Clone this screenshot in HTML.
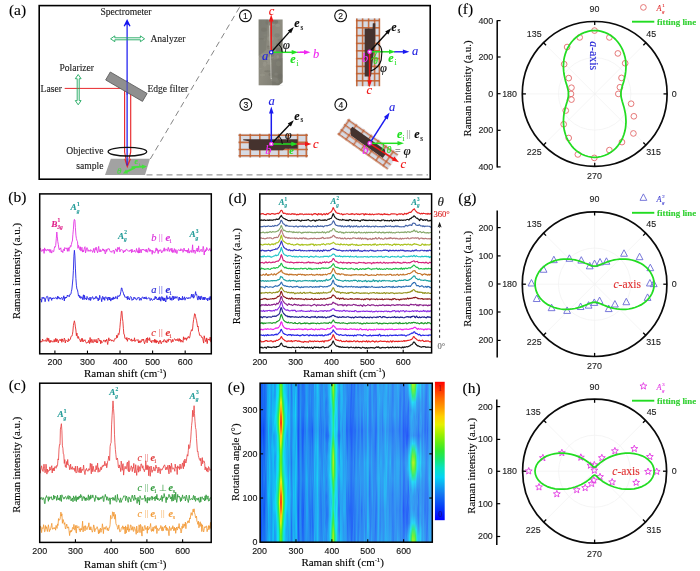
<!DOCTYPE html>
<html><head><meta charset="utf-8"><title>Figure</title>
<style>
html,body{margin:0;padding:0;background:#fff;}
svg{display:block;filter:blur(0.35px)}
text{stroke-width:.12px}
text.s{font-family:"Liberation Serif",serif}
text.n{font-family:"Liberation Sans",sans-serif}
</style></head><body>
<svg width="700" height="571" viewBox="0 0 700 571">
<rect width="700" height="571" fill="#fff"/>
<g id="pa">
<defs><filter id="bl" x="-5%" y="-5%" width="110%" height="110%"><feGaussianBlur stdDeviation="0.55"/></filter></defs>
<rect x="39.2" y="5.6" width="391" height="173.6" fill="none" stroke="#000" stroke-width="1.6"/>
<text class="s" x="17.5" y="14.71" font-size="15.5" text-anchor="middle" stroke="#000">(a)</text>
<text class="s" x="126" y="15.47" font-size="9.6" text-anchor="middle" fill="#222" stroke="#222">Spectrometer</text>
<line x1="64.7" y1="88.4" x2="125" y2="88.4" stroke="#e8282c" stroke-width="1"/>
<path d="M124.6 88.4 L124.6 152 L127.3 166.3 L130.7 152 L130.7 93" fill="none" stroke="#e8282c" stroke-width="1.15" stroke-linejoin="round"/>
<line x1="127.1" y1="166" x2="127.1" y2="22" stroke="#1414f0" stroke-width="1.2"/>
<path d="M124.2 26.2 L127.1 20.4 L130 26.2" fill="none" stroke="#1414f0" stroke-width="1.3" stroke-linejoin="miter"/>
<path d="M124.6 25.6 L127.1 20.6 L129.6 25.6 L127.1 24.2Z" fill="#1414f0"/>
<rect x="105.1" y="82.1" width="42.6" height="9.2" fill="#8f8f8f" stroke="#5e5e5e" stroke-width="0.8" transform="rotate(30.2 126.4 86.7)"/>
<line x1="127.1" y1="80" x2="127.1" y2="95" stroke="#1414f0" stroke-width="1.2" opacity="0.55"/>
<path d="M110.6 38.8 L114.8 35.9 L114.8 37.8 L140.4 37.8 L140.4 35.9 L144.6 38.8 L140.4 41.7 L140.4 39.8 L114.8 39.8 L114.8 41.7Z" fill="none" stroke="#1fa860" stroke-width="0.9" stroke-linejoin="miter"/>
<path d="M78.2 74.5 L81.1 78.7 L79.2 78.7 L79.2 100.6 L81.1 100.6 L78.2 104.8 L75.3 100.6 L77.2 100.6 L77.2 78.7 L75.3 78.7Z" fill="none" stroke="#1fa860" stroke-width="0.9" stroke-linejoin="miter"/>
<text class="s" x="150.4" y="41.77" font-size="9.6" fill="#222" stroke="#222">Analyzer</text>
<text class="s" x="59.4" y="70.77" font-size="9.6" fill="#222" stroke="#222">Polarizer</text>
<text class="s" x="40.6" y="91.77" font-size="9.6" fill="#222" stroke="#222">Laser</text>
<text class="s" x="147.4" y="91.77" font-size="9.6" fill="#222" stroke="#222">Edge filter</text>
<text class="s" x="66.3" y="153.97" font-size="9.6" fill="#222" stroke="#222">Objective</text>
<text class="s" x="76.3" y="169.37" font-size="9.6" fill="#222" stroke="#222">sample</text>
<path d="M110.8 158.8 L150 158.8 L145 175 L105 175Z" fill="#a2a2a2"/>
<path d="M124.9 158.8 L127.3 166.3 L130.4 158.8" fill="none" stroke="#e8282c" stroke-width="1.3"/>
<line x1="127.1" y1="158.8" x2="127.1" y2="165.5" stroke="#1414f0" stroke-width="1.1"/>
<line x1="131.5" y1="167.3" x2="143.01" y2="166.63" stroke="#44e03c" stroke-width="1.9"/>
<path d="M147 166.4 L142.14 168.99 L141.88 164.39Z" fill="#44e03c"/>
<line x1="135" y1="167.6" x2="126.15" y2="171.88" stroke="#44e03c" stroke-width="1.8"/>
<path d="M123 173.4 L126.09 169.46 L128.01 173.42Z" fill="#44e03c"/>
<text class="s" x="119.2" y="174" font-size="9" text-anchor="middle" font-style="italic" fill="#44e03c" stroke="#44e03c">θ</text>
<text class="s" x="136.2" y="164.2" font-size="7.5" text-anchor="middle" font-style="italic" font-weight="bold" fill="#44e03c" stroke="#44e03c">e</text>
<text class="s" x="139.6" y="165.8" font-size="5" text-anchor="middle" fill="#44e03c" stroke="#44e03c">i</text>
<ellipse cx="127.4" cy="151.7" rx="19.3" ry="4.3" fill="none" stroke="#111" stroke-width="1.3"/>
<line x1="150.3" y1="159" x2="240" y2="6.5" stroke="#858585" stroke-width="1" stroke-dasharray="6 4"/>
<line x1="146.5" y1="174.9" x2="428" y2="174.9" stroke="#858585" stroke-width="1" stroke-dasharray="6 4"/>
<circle cx="245.4" cy="15.8" r="5.9" fill="#fff" stroke="#111" stroke-width="1.15"/>
<text class="n" x="245.4" y="18.8" font-size="8.6" text-anchor="middle" fill="#111" stroke="#111">1</text>
<circle cx="340.6" cy="15.8" r="5.9" fill="#fff" stroke="#111" stroke-width="1.15"/>
<text class="n" x="340.6" y="18.8" font-size="8.6" text-anchor="middle" fill="#111" stroke="#111">2</text>
<circle cx="245.8" cy="104.5" r="5.9" fill="#fff" stroke="#111" stroke-width="1.15"/>
<text class="n" x="245.8" y="107.5" font-size="8.6" text-anchor="middle" fill="#111" stroke="#111">3</text>
<circle cx="340.8" cy="104.5" r="5.9" fill="#fff" stroke="#111" stroke-width="1.15"/>
<text class="n" x="340.8" y="107.5" font-size="8.6" text-anchor="middle" fill="#111" stroke="#111">4</text>
<defs><linearGradient id="g1" x1="0" y1="0" x2="1" y2="1"><stop offset="0" stop-color="#84847a"/><stop offset=".5" stop-color="#8e8c80"/><stop offset="1" stop-color="#77766c"/></linearGradient></defs>
<clipPath id="c1"><rect x="258.4" y="19.3" width="24.4" height="66.3"/></clipPath><g clip-path="url(#c1)" filter="url(#bl)">
<rect x="258.4" y="19.3" width="24.4" height="66.3" fill="url(#g1)"/>
<ellipse cx="264.07" cy="54.83" rx="3.29" ry="1.75" fill="#a09e92" opacity="0.45"/>
<ellipse cx="271.96" cy="58.76" rx="1.65" ry="1.27" fill="#6e6c64" opacity="0.45"/>
<ellipse cx="281.5" cy="50.1" rx="1.99" ry="2.52" fill="#6e6c64" opacity="0.45"/>
<ellipse cx="263.93" cy="29.7" rx="2.85" ry="2.14" fill="#6e6c64" opacity="0.45"/>
<ellipse cx="260.07" cy="68.53" rx="1.75" ry="0.86" fill="#9a988c" opacity="0.45"/>
<ellipse cx="278.51" cy="50.26" rx="2.79" ry="2.64" fill="#6e6c64" opacity="0.45"/>
<ellipse cx="267.68" cy="71.26" rx="3.41" ry="1.07" fill="#6e6c64" opacity="0.45"/>
<ellipse cx="267.01" cy="22.3" rx="1.54" ry="2.73" fill="#6e6c64" opacity="0.45"/>
<ellipse cx="268.63" cy="60.11" rx="2.05" ry="2.47" fill="#a09e92" opacity="0.45"/>
<ellipse cx="271.8" cy="54.18" rx="2.46" ry="2.61" fill="#6e6c64" opacity="0.45"/>
<ellipse cx="274.29" cy="79.45" rx="3.48" ry="2.14" fill="#a09e92" opacity="0.45"/>
<ellipse cx="262.35" cy="75.08" rx="2.78" ry="1.22" fill="#9a988c" opacity="0.45"/>
<ellipse cx="277.73" cy="56.71" rx="1.31" ry="1.76" fill="#a09e92" opacity="0.45"/>
<ellipse cx="273.29" cy="50.94" rx="3" ry="1.62" fill="#a09e92" opacity="0.45"/>
<ellipse cx="262.07" cy="38.81" rx="3.18" ry="0.89" fill="#6e6c64" opacity="0.45"/>
<ellipse cx="272.73" cy="22.88" rx="2.38" ry="2.64" fill="#a09e92" opacity="0.45"/>
<ellipse cx="265.02" cy="35.1" rx="1.77" ry="0.95" fill="#9a988c" opacity="0.45"/>
<ellipse cx="272.39" cy="22.01" rx="3.43" ry="1.38" fill="#7a786e" opacity="0.45"/>
<ellipse cx="264.66" cy="64.14" rx="1.78" ry="2.72" fill="#a09e92" opacity="0.45"/>
<ellipse cx="279.22" cy="44.18" rx="3.17" ry="1.57" fill="#6e6c64" opacity="0.45"/>
<ellipse cx="278.54" cy="63.58" rx="2.55" ry="2.68" fill="#9a988c" opacity="0.45"/>
<ellipse cx="270.26" cy="47.6" rx="3.34" ry="1.67" fill="#7a786e" opacity="0.45"/>
<ellipse cx="264.54" cy="39.39" rx="1.03" ry="1.63" fill="#a09e92" opacity="0.45"/>
<ellipse cx="271.94" cy="21.28" rx="1.15" ry="2.05" fill="#7a786e" opacity="0.45"/>
<ellipse cx="269.32" cy="63.47" rx="2.52" ry="1.36" fill="#a09e92" opacity="0.45"/>
<ellipse cx="269.86" cy="57.72" rx="3.41" ry="1.3" fill="#9a988c" opacity="0.45"/>
<ellipse cx="269.1" cy="57.93" rx="1.44" ry="1.17" fill="#a09e92" opacity="0.45"/>
<ellipse cx="276.04" cy="74.01" rx="1.75" ry="1.55" fill="#a09e92" opacity="0.45"/>
<ellipse cx="276.36" cy="21.72" rx="1.78" ry="1.25" fill="#7a786e" opacity="0.45"/>
<ellipse cx="277.09" cy="35.28" rx="2.7" ry="2.1" fill="#7a786e" opacity="0.45"/>
<ellipse cx="260.83" cy="58.45" rx="2.69" ry="1.25" fill="#a09e92" opacity="0.45"/>
<ellipse cx="277.22" cy="81.48" rx="1.84" ry="2.1" fill="#9a988c" opacity="0.45"/>
<ellipse cx="278.95" cy="48.87" rx="2.97" ry="0.87" fill="#7a786e" opacity="0.45"/>
<ellipse cx="280.62" cy="40.17" rx="3.16" ry="1.48" fill="#7a786e" opacity="0.45"/>
<ellipse cx="277.64" cy="25.47" rx="2.47" ry="1.64" fill="#a09e92" opacity="0.45"/>
<ellipse cx="270.52" cy="74.4" rx="1.87" ry="1.63" fill="#6e6c64" opacity="0.45"/>
<ellipse cx="268.25" cy="46.21" rx="1.39" ry="0.81" fill="#6e6c64" opacity="0.45"/>
<ellipse cx="280.3" cy="76.32" rx="2.4" ry="2.77" fill="#6e6c64" opacity="0.45"/>
<ellipse cx="275.1" cy="22.07" rx="3.09" ry="2.13" fill="#6e6c64" opacity="0.45"/>
<ellipse cx="270.54" cy="38.5" rx="3.22" ry="2.52" fill="#a09e92" opacity="0.45"/>
<path d="M272 60 L282.8 58 L282.8 82 L278 85.6 L272 85.6Z" fill="#6d6c63" opacity="0.45"/>
<path d="M258.4 19.3 L268 19.3 L266 50 L258.4 56Z" fill="#75756b" opacity="0.5"/>
</g>
<path d="M278.3 85.8 L283 85.8 L283 82.3Z" fill="#fff"/>
<line x1="269.7" y1="25.5" x2="271.2" y2="79" stroke="#d4d4cc" stroke-width="0.9"/>
<line x1="270.3" y1="27" x2="271.4" y2="78" stroke="#6a6a60" stroke-width="0.5" opacity="0.7"/>
<line x1="271.2" y1="52.3" x2="271.2" y2="20.6" stroke="#f01818" stroke-width="1.5"/>
<path d="M271.2 14.6 L273.5 21.6 L268.9 21.6Z" fill="#f01818"/>
<line x1="271.2" y1="52.3" x2="290.14" y2="31.1" stroke="#0a0a0a" stroke-width="1.4"/>
<path d="M293.8 27 L291.11 33.31 L287.83 30.38Z" fill="#0a0a0a"/>
<line x1="297" y1="52.3" x2="304" y2="52.3" stroke="#f028f0" stroke-width="1.4"/>
<line x1="300" y1="52.3" x2="305" y2="52.3" stroke="#f028f0" stroke-width="1.4"/>
<path d="M310.5 52.3 L304 54.5 L304 50.1Z" fill="#f028f0"/>
<line x1="271.2" y1="52.3" x2="292.7" y2="52.3" stroke="#22e022" stroke-width="1.5"/>
<path d="M298.2 52.3 L291.7 54.5 L291.7 50.1Z" fill="#22e022"/>
<path d="M282.2 52.3 A11 11 0 0 0 279 44.5" fill="none" stroke="#0a0a0a" stroke-width="1"/>
<circle cx="271.2" cy="52.3" r="1.7" fill="#fff" stroke="#1818e8" stroke-width="1.2"/>
<text class="s" x="271.6" y="15" font-size="12.5" text-anchor="middle" font-style="italic" fill="#f01818" stroke="#f01818">c</text>
<text class="s" x="316.2" y="57.6" font-size="12.5" text-anchor="middle" font-style="italic" fill="#f028f0" stroke="#f028f0">b</text>
<text class="s" x="265" y="60.4" font-size="12.5" text-anchor="middle" font-style="italic" fill="#2020e0" stroke="#2020e0">a</text>
<text class="s" x="286.3" y="48.6" font-size="13" text-anchor="middle" font-style="italic" fill="#0a0a0a" stroke="#0a0a0a">φ</text>
<text class="s" x="296.9" y="27.2" font-size="12" text-anchor="middle" font-style="italic" font-weight="bold" fill="#0a0a0a" stroke="#0a0a0a">e</text>
<text class="s" x="301.8" y="29.8" font-size="7.2" text-anchor="middle" fill="#0a0a0a" stroke="#0a0a0a">s</text>
<text class="s" x="293" y="62.8" font-size="12" text-anchor="middle" font-style="italic" font-weight="bold" fill="#22e022" stroke="#22e022">e</text>
<text class="s" x="297.4" y="65.6" font-size="7.2" text-anchor="middle" fill="#22e022" stroke="#22e022">i</text>
<g filter="url(#bl)">
<rect x="355.9" y="18.4" width="24.1" height="67.8" fill="#d6dae3"/>
<line x1="356.8" y1="18.4" x2="356.8" y2="86.2" stroke="#c2602e" stroke-width="1.6" opacity="0.88"/>
<line x1="362.6" y1="18.4" x2="362.6" y2="86.2" stroke="#c2602e" stroke-width="1.6" opacity="0.88"/>
<line x1="368.6" y1="18.4" x2="368.6" y2="86.2" stroke="#c2602e" stroke-width="1.6" opacity="0.88"/>
<line x1="374.6" y1="18.4" x2="374.6" y2="86.2" stroke="#c2602e" stroke-width="1.6" opacity="0.88"/>
<line x1="379.4" y1="18.4" x2="379.4" y2="86.2" stroke="#c2602e" stroke-width="1.6" opacity="0.88"/>
<line x1="355.9" y1="20.6" x2="380" y2="20.6" stroke="#c2602e" stroke-width="1.6" opacity="0.88"/>
<line x1="355.9" y1="27.8" x2="380" y2="27.8" stroke="#c2602e" stroke-width="1.6" opacity="0.88"/>
<line x1="355.9" y1="35.6" x2="380" y2="35.6" stroke="#c2602e" stroke-width="1.6" opacity="0.88"/>
<line x1="355.9" y1="43.4" x2="380" y2="43.4" stroke="#c2602e" stroke-width="1.6" opacity="0.88"/>
<line x1="355.9" y1="50.8" x2="380" y2="50.8" stroke="#c2602e" stroke-width="1.6" opacity="0.88"/>
<line x1="355.9" y1="58.6" x2="380" y2="58.6" stroke="#c2602e" stroke-width="1.6" opacity="0.88"/>
<line x1="355.9" y1="66.4" x2="380" y2="66.4" stroke="#c2602e" stroke-width="1.6" opacity="0.88"/>
<line x1="355.9" y1="73.6" x2="380" y2="73.6" stroke="#c2602e" stroke-width="1.6" opacity="0.88"/>
<line x1="355.9" y1="80.8" x2="380" y2="80.8" stroke="#c2602e" stroke-width="1.6" opacity="0.88"/>
</g>
<path d="M364.6 28.6 L372.6 28.6 L372.8 23.2 L375.3 23.2 L375.3 40 L373.5 55 L371 76.6 L364.6 76.6Z" fill="#45322e"/>
<line x1="369.6" y1="51.8" x2="369.6" y2="81.2" stroke="#f01818" stroke-width="1.5"/>
<path d="M369.6 87.2 L367.3 80.2 L371.9 80.2Z" fill="#f01818"/>
<line x1="369.6" y1="51.8" x2="387.49" y2="32.26" stroke="#0a0a0a" stroke-width="1.4"/>
<path d="M391.2 28.2 L388.43 34.48 L385.19 31.51Z" fill="#0a0a0a"/>
<line x1="394" y1="51.8" x2="403.9" y2="51.8" stroke="#1a1af0" stroke-width="1.4"/>
<path d="M409.4 51.8 L402.9 54 L402.9 49.6Z" fill="#1a1af0"/>
<line x1="369.6" y1="51.8" x2="390" y2="51.8" stroke="#22e022" stroke-width="1.5"/>
<path d="M395.5 51.8 L389 54 L389 49.6Z" fill="#22e022"/>
<path d="M377.8 44.3 Q381.6 46 381.9 52 L381.2 60 Q379 68 370.6 71" fill="none" stroke="#0a0a0a" stroke-width="1.1"/>
<path d="M376.5 52.5 Q375.5 57.5 371 59.5" fill="none" stroke="#22e022" stroke-width="1"/>
<circle cx="369.6" cy="51.8" r="1.7" fill="#fff" stroke="#f028f0" stroke-width="1.3"/>
<text class="s" x="369.2" y="93.6" font-size="12.5" text-anchor="middle" font-style="italic" fill="#f01818" stroke="#f01818">c</text>
<text class="s" x="415.2" y="55.4" font-size="12.5" text-anchor="middle" font-style="italic" fill="#2020e0" stroke="#2020e0">a</text>
<text class="s" x="365.2" y="61.6" font-size="12.5" text-anchor="middle" font-style="italic" fill="#f028f0" stroke="#f028f0">b</text>
<text class="s" x="375.6" y="63.6" font-size="9.5" text-anchor="middle" font-style="italic" fill="#22e022" stroke="#22e022">θ</text>
<text class="s" x="383.5" y="72.4" font-size="12.5" text-anchor="middle" font-style="italic" fill="#0a0a0a" stroke="#0a0a0a">φ</text>
<text class="s" x="394" y="30.6" font-size="12" text-anchor="middle" font-style="italic" font-weight="bold" fill="#0a0a0a" stroke="#0a0a0a">e</text>
<text class="s" x="398.8" y="33" font-size="7.2" text-anchor="middle" fill="#0a0a0a" stroke="#0a0a0a">s</text>
<text class="s" x="391" y="62.2" font-size="12" text-anchor="middle" font-style="italic" font-weight="bold" fill="#22e022" stroke="#22e022">e</text>
<text class="s" x="395.4" y="65" font-size="7.2" text-anchor="middle" fill="#22e022" stroke="#22e022">i</text>
<g filter="url(#bl)">
<rect x="238.5" y="133.8" width="69.4" height="23.6" fill="#d6dae3"/>
<line x1="240.1" y1="133.8" x2="240.1" y2="157.4" stroke="#c2602e" stroke-width="1.6" opacity="0.88"/>
<line x1="250.3" y1="133.8" x2="250.3" y2="157.4" stroke="#c2602e" stroke-width="1.6" opacity="0.88"/>
<line x1="259.8" y1="133.8" x2="259.8" y2="157.4" stroke="#c2602e" stroke-width="1.6" opacity="0.88"/>
<line x1="269.2" y1="133.8" x2="269.2" y2="157.4" stroke="#c2602e" stroke-width="1.6" opacity="0.88"/>
<line x1="278.7" y1="133.8" x2="278.7" y2="157.4" stroke="#c2602e" stroke-width="1.6" opacity="0.88"/>
<line x1="288.2" y1="133.8" x2="288.2" y2="157.4" stroke="#c2602e" stroke-width="1.6" opacity="0.88"/>
<line x1="297.6" y1="133.8" x2="297.6" y2="157.4" stroke="#c2602e" stroke-width="1.6" opacity="0.88"/>
<line x1="306.3" y1="133.8" x2="306.3" y2="157.4" stroke="#c2602e" stroke-width="1.6" opacity="0.88"/>
<line x1="238.5" y1="135.3" x2="307.9" y2="135.3" stroke="#c2602e" stroke-width="1.6" opacity="0.88"/>
<line x1="238.5" y1="142.4" x2="307.9" y2="142.4" stroke="#c2602e" stroke-width="1.6" opacity="0.88"/>
<line x1="238.5" y1="149.5" x2="307.9" y2="149.5" stroke="#c2602e" stroke-width="1.6" opacity="0.88"/>
<line x1="238.5" y1="155.8" x2="307.9" y2="155.8" stroke="#c2602e" stroke-width="1.6" opacity="0.88"/>
</g>
<path d="M243.2 139.2 L297.6 139.2 L297.6 148.8 L285 148.8 L283 150.2 L252 150.2 L248.8 148.6 L248.8 141.2 L243.2 140.2Z" fill="#45322e"/>
<line x1="271.3" y1="144" x2="271.3" y2="112.4" stroke="#1a1af0" stroke-width="1.5"/>
<path d="M271.3 106.4 L273.6 113.4 L269 113.4Z" fill="#1a1af0"/>
<line x1="271.3" y1="144" x2="290.01" y2="124.29" stroke="#0a0a0a" stroke-width="1.4"/>
<path d="M293.8 120.3 L290.92 126.53 L287.73 123.5Z" fill="#0a0a0a"/>
<line x1="296" y1="144" x2="306" y2="144" stroke="#f01818" stroke-width="1.4"/>
<path d="M311.5 144 L305 146.2 L305 141.8Z" fill="#f01818"/>
<line x1="271.3" y1="144" x2="292.3" y2="144" stroke="#22e022" stroke-width="1.5"/>
<path d="M297.8 144 L291.3 146.2 L291.3 141.8Z" fill="#22e022"/>
<path d="M282.3 144 A11 11 0 0 0 279.1 136.2" fill="none" stroke="#0a0a0a" stroke-width="1"/>
<circle cx="271.3" cy="144" r="1.7" fill="#fff" stroke="#f028f0" stroke-width="1.3"/>
<text class="s" x="271.6" y="105" font-size="12.5" text-anchor="middle" font-style="italic" fill="#2020e0" stroke="#2020e0">a</text>
<text class="s" x="315.8" y="148.4" font-size="12.5" text-anchor="middle" font-style="italic" fill="#f01818" stroke="#f01818">c</text>
<text class="s" x="268.4" y="153.6" font-size="12.5" text-anchor="middle" font-style="italic" fill="#f028f0" stroke="#f028f0">b</text>
<text class="s" x="288.4" y="139" font-size="12" text-anchor="middle" font-style="italic" fill="#0a0a0a" stroke="#0a0a0a">φ</text>
<text class="s" x="296.9" y="119.8" font-size="12" text-anchor="middle" font-style="italic" font-weight="bold" fill="#0a0a0a" stroke="#0a0a0a">e</text>
<text class="s" x="301.8" y="122.4" font-size="7.2" text-anchor="middle" fill="#0a0a0a" stroke="#0a0a0a">s</text>
<text class="s" x="291.4" y="154.2" font-size="10" text-anchor="middle" font-style="italic" font-weight="bold" fill="#22e022" stroke="#22e022">e</text>
<g transform="rotate(35.3 367.9 144)">
<g filter="url(#bl)">
<rect x="337.2" y="134.4" width="61.4" height="19.2" fill="#d6dae3"/>
<line x1="338.7" y1="134.4" x2="338.7" y2="153.6" stroke="#c2602e" stroke-width="1.6" opacity="0.88"/>
<line x1="347.5" y1="134.4" x2="347.5" y2="153.6" stroke="#c2602e" stroke-width="1.6" opacity="0.88"/>
<line x1="356.6" y1="134.4" x2="356.6" y2="153.6" stroke="#c2602e" stroke-width="1.6" opacity="0.88"/>
<line x1="365.7" y1="134.4" x2="365.7" y2="153.6" stroke="#c2602e" stroke-width="1.6" opacity="0.88"/>
<line x1="374.8" y1="134.4" x2="374.8" y2="153.6" stroke="#c2602e" stroke-width="1.6" opacity="0.88"/>
<line x1="383.9" y1="134.4" x2="383.9" y2="153.6" stroke="#c2602e" stroke-width="1.6" opacity="0.88"/>
<line x1="393" y1="134.4" x2="393" y2="153.6" stroke="#c2602e" stroke-width="1.6" opacity="0.88"/>
<line x1="337.2" y1="135.7" x2="398.6" y2="135.7" stroke="#c2602e" stroke-width="1.6" opacity="0.88"/>
<line x1="337.2" y1="141.7" x2="398.6" y2="141.7" stroke="#c2602e" stroke-width="1.6" opacity="0.88"/>
<line x1="337.2" y1="147.7" x2="398.6" y2="147.7" stroke="#c2602e" stroke-width="1.6" opacity="0.88"/>
<line x1="337.2" y1="152.7" x2="398.6" y2="152.7" stroke="#c2602e" stroke-width="1.6" opacity="0.88"/>
</g>
<path d="M345.2 138.9 L385.2 138.9 L388.2 142.4 L388.2 146.9 L349.2 146.9 L345.2 142.4Z" fill="#45322e"/>
</g>
<line x1="369.7" y1="143.3" x2="386.35" y2="117.44" stroke="#1a1af0" stroke-width="1.5"/>
<path d="M389.6 112.4 L387.74 119.53 L383.88 117.04Z" fill="#1a1af0"/>
<line x1="369.7" y1="143.3" x2="393.97" y2="159.04" stroke="#f01818" stroke-width="1.5"/>
<path d="M399 162.3 L391.88 160.42 L394.38 156.56Z" fill="#f01818"/>
<line x1="369.7" y1="143.3" x2="398.5" y2="143.3" stroke="#22e022" stroke-width="1.5"/>
<path d="M404 143.3 L397.5 145.5 L397.5 141.1Z" fill="#22e022"/>
<path d="M383.7 143.3 A14 14 0 0 1 381.5 150.9" fill="none" stroke="#22e022" stroke-width="1"/>
<circle cx="369.7" cy="143.3" r="1.7" fill="#fff" stroke="#f028f0" stroke-width="1.3"/>
<text class="s" x="392.2" y="111.4" font-size="12.5" text-anchor="middle" font-style="italic" fill="#2020e0" stroke="#2020e0">a</text>
<text class="s" x="403.4" y="168" font-size="12.5" text-anchor="middle" font-style="italic" fill="#f01818" stroke="#f01818">c</text>
<text class="s" x="365.3" y="153.6" font-size="12.5" text-anchor="middle" font-style="italic" fill="#f028f0" stroke="#f028f0">b</text>
<text class="s" x="399.6" y="138.4" font-size="12" text-anchor="middle" font-style="italic" font-weight="bold" fill="#22e022" stroke="#22e022">e</text>
<text class="s" x="403.6" y="141" font-size="7.2" text-anchor="middle" fill="#22e022" stroke="#22e022">i</text>
<text class="s" x="408.8" y="137.4" font-size="10" text-anchor="middle" fill="#999" stroke="#999" letter-spacing="0.6">||</text>
<text class="s" x="416.8" y="138.4" font-size="12" text-anchor="middle" font-style="italic" font-weight="bold" fill="#0a0a0a" stroke="#0a0a0a">e</text>
<text class="s" x="421.6" y="141" font-size="7.2" text-anchor="middle" fill="#0a0a0a" stroke="#0a0a0a">s</text>
<text class="s" x="389" y="153" font-size="9.5" text-anchor="middle" font-style="italic" fill="#22e022" stroke="#22e022">θ</text>
<text class="s" x="397.8" y="153.6" font-size="10" text-anchor="middle" fill="#333" stroke="#333">=</text>
<text class="s" x="407.2" y="154.6" font-size="13" text-anchor="middle" font-style="italic" fill="#0a0a0a" stroke="#0a0a0a">φ</text>
</g>
<g id="pb">
<clipPath id="cb"><rect x="39.7" y="193.9" width="171.6" height="159.9"/></clipPath>
<g clip-path="url(#cb)" fill="none" stroke-width="0.9" stroke-linejoin="round">
<path d="M39.6,250.4 40.1,248.3 40.6,248.5 41.1,251.3 41.6,251.0 42.1,251.3 42.6,249.6 43.1,250.6 43.6,249.3 44.1,253.4 44.6,247.9 45.1,250.6 45.7,249.3 46.2,250.6 46.7,251.0 47.2,249.6 47.7,249.0 48.2,250.7 48.7,250.6 49.2,249.2 49.7,251.7 50.2,252.6 50.7,249.5 51.2,251.2 51.7,253.1 52.2,251.2 52.7,250.6 53.2,251.5 53.7,251.7 54.2,248.8 54.7,246.7 55.2,247.2 55.7,245.5 56.3,238.5 56.8,232.0 57.3,236.8 57.8,241.7 58.3,244.3 58.8,248.0 59.3,249.8 59.8,248.5 60.3,248.9 60.8,247.8 61.3,251.7 61.8,250.8 62.3,251.1 62.8,252.6 63.3,249.6 63.8,248.9 64.3,250.9 64.8,247.5 65.3,248.3 65.8,248.6 66.3,248.8 66.9,247.8 67.4,251.3 67.9,248.0 68.4,247.8 68.9,251.3 69.4,247.5 69.9,247.9 70.4,245.6 70.9,246.6 71.4,244.6 71.9,242.0 72.4,241.0 72.9,234.3 73.4,229.2 73.9,221.4 74.4,219.4 74.9,220.0 75.4,227.7 75.9,235.2 76.4,238.4 76.9,240.4 77.5,241.6 78.0,248.4 78.5,245.4 79.0,246.8 79.5,248.2 80.0,250.1 80.5,246.8 81.0,251.1 81.5,248.3 82.0,247.3 82.5,252.1 83.0,250.2 83.5,251.9 84.0,249.5 84.5,247.5 85.0,246.7 85.5,252.9 86.0,251.0 86.5,249.0 87.0,247.6 87.6,249.5 88.1,251.4 88.6,249.8 89.1,250.3 89.6,250.6 90.1,251.5 90.6,249.7 91.1,249.9 91.6,250.5 92.1,250.7 92.6,252.4 93.1,251.2 93.6,248.5 94.1,250.7 94.6,252.7 95.1,248.3 95.6,249.6 96.1,247.1 96.6,250.4 97.1,251.2 97.6,252.8 98.2,248.4 98.7,246.4 99.2,251.8 99.7,251.5 100.2,249.5 100.7,251.8 101.2,250.9 101.7,251.1 102.2,250.2 102.7,248.8 103.2,250.5 103.7,249.0 104.2,251.2 104.7,250.0 105.2,253.9 105.7,252.8 106.2,249.3 106.7,251.5 107.2,249.6 107.7,249.7 108.2,248.4 108.8,249.2 109.3,248.9 109.8,250.7 110.3,251.7 110.8,251.7 111.3,251.3 111.8,252.4 112.3,251.4 112.8,250.7 113.3,250.1 113.8,251.1 114.3,253.6 114.8,250.7 115.3,250.2 115.8,248.8 116.3,249.6 116.8,251.6 117.3,251.7 117.8,247.3 118.3,249.4 118.9,247.6 119.4,247.2 119.9,251.9 120.4,249.9 120.9,249.8 121.4,249.7 121.9,249.7 122.4,250.2 122.9,250.3 123.4,253.0 123.9,250.8 124.4,251.8 124.9,250.4 125.4,251.3 125.9,249.6 126.4,249.3 126.9,250.1 127.4,250.1 127.9,250.4 128.4,251.3 128.9,250.8 129.5,251.4 130.0,250.0 130.5,250.6 131.0,249.6 131.5,252.7 132.0,249.2 132.5,251.8 133.0,251.8 133.5,250.9 134.0,251.5 134.5,250.1 135.0,251.5 135.5,252.3 136.0,251.9 136.5,248.5 137.0,250.5 137.5,252.4 138.0,250.6 138.5,253.1 139.0,247.7 139.5,253.0 140.1,249.8 140.6,249.7 141.1,252.9 141.6,250.1 142.1,249.0 142.6,249.8 143.1,250.2 143.6,249.1 144.1,250.3 144.6,250.0 145.1,250.8 145.6,249.6 146.1,252.1 146.6,249.3 147.1,251.4 147.6,252.3 148.1,250.0 148.6,247.9 149.1,249.0 149.6,251.4 150.2,249.5 150.7,251.3 151.2,250.8 151.7,250.4 152.2,254.3 152.7,250.3 153.2,252.2 153.7,251.7 154.2,252.9 154.7,253.0 155.2,252.1 155.7,249.3 156.2,247.9 156.7,250.6 157.2,248.8 157.7,251.0 158.2,253.6 158.7,250.3 159.2,249.9 159.7,251.3 160.2,250.1 160.8,249.7 161.3,252.0 161.8,253.0 162.3,250.9 162.8,250.9 163.3,251.2 163.8,249.0 164.3,247.8 164.8,251.3 165.3,249.5 165.8,249.1 166.3,249.4 166.8,248.9 167.3,251.2 167.8,249.4 168.3,247.4 168.8,249.3 169.3,251.6 169.8,249.6 170.3,248.6 170.8,250.0 171.4,251.5 171.9,248.1 172.4,252.6 172.9,249.8 173.4,250.6 173.9,252.5 174.4,248.6 174.9,250.0 175.4,252.5 175.9,249.6 176.4,251.3 176.9,253.6 177.4,251.7 177.9,250.2 178.4,249.6 178.9,250.3 179.4,250.5 179.9,249.8 180.4,250.9 180.9,248.7 181.5,250.4 182.0,250.1 182.5,249.7 183.0,252.3 183.5,251.7 184.0,248.1 184.5,250.1 185.0,251.0 185.5,250.0 186.0,251.4 186.5,250.1 187.0,251.7 187.5,250.2 188.0,253.1 188.5,248.5 189.0,251.4 189.5,253.1 190.0,251.0 190.5,251.2 191.0,250.4 191.5,252.4 192.1,250.0 192.6,244.8 193.1,252.6 193.6,250.1 194.1,251.1 194.6,250.3 195.1,253.5 195.6,252.4 196.1,249.9 196.6,250.7 197.1,248.0 197.6,251.7 198.1,250.3 198.6,245.9 199.1,251.8 199.6,252.0 200.1,250.7 200.6,250.7 201.1,249.2 201.6,250.4 202.1,251.8 202.7,250.3 203.2,246.4 203.7,248.6 204.2,255.0 204.7,250.8 205.2,252.0 205.7,249.6 206.2,250.9 206.7,247.5 207.2,249.1 207.7,249.2 208.2,250.3 208.7,250.7 209.2,250.1 209.7,248.5 210.2,249.7 210.7,251.2 211.2,248.6 211.7,250.3" stroke="#e436e4"/>
<path d="M39.6,298.6 40.1,299.6 40.6,299.3 41.1,299.4 41.6,302.2 42.1,297.2 42.6,297.8 43.1,298.8 43.6,297.2 44.1,297.9 44.6,298.0 45.1,301.7 45.7,298.8 46.2,297.8 46.7,296.4 47.2,296.1 47.7,296.6 48.2,300.0 48.7,301.3 49.2,297.7 49.7,298.4 50.2,297.2 50.7,298.6 51.2,298.2 51.7,300.4 52.2,297.9 52.7,299.0 53.2,298.0 53.7,297.8 54.2,298.6 54.7,298.0 55.2,298.4 55.7,297.4 56.3,297.7 56.8,299.1 57.3,299.1 57.8,296.0 58.3,298.4 58.8,297.0 59.3,297.7 59.8,299.0 60.3,299.2 60.8,298.0 61.3,297.8 61.8,297.3 62.3,299.7 62.8,298.8 63.3,298.1 63.8,295.8 64.3,300.9 64.8,297.2 65.3,298.4 65.8,297.0 66.3,298.0 66.9,296.8 67.4,295.0 67.9,296.4 68.4,296.0 68.9,295.7 69.4,296.6 69.9,294.3 70.4,294.5 70.9,294.1 71.4,291.4 71.9,289.1 72.4,284.0 72.9,278.9 73.4,270.3 73.9,256.2 74.4,250.3 74.9,255.7 75.4,268.1 75.9,278.5 76.4,285.2 76.9,289.0 77.5,290.0 78.0,292.8 78.5,296.1 79.0,295.0 79.5,297.5 80.0,295.9 80.5,298.1 81.0,298.4 81.5,296.9 82.0,297.3 82.5,299.5 83.0,296.5 83.5,294.8 84.0,299.7 84.5,295.4 85.0,298.8 85.5,298.6 86.0,298.2 86.5,299.9 87.0,296.4 87.6,297.5 88.1,299.1 88.6,298.5 89.1,300.2 89.6,298.7 90.1,297.0 90.6,300.5 91.1,298.9 91.6,298.1 92.1,297.0 92.6,296.6 93.1,298.9 93.6,299.3 94.1,297.8 94.6,298.8 95.1,298.8 95.6,297.0 96.1,296.2 96.6,298.1 97.1,298.7 97.6,297.7 98.2,300.9 98.7,298.4 99.2,299.8 99.7,295.3 100.2,297.5 100.7,298.2 101.2,298.7 101.7,301.7 102.2,297.5 102.7,296.3 103.2,299.4 103.7,297.5 104.2,297.5 104.7,300.4 105.2,297.2 105.7,296.7 106.2,298.1 106.7,298.5 107.2,297.4 107.7,300.4 108.2,298.3 108.8,297.0 109.3,300.0 109.8,297.1 110.3,298.9 110.8,301.1 111.3,298.5 111.8,299.6 112.3,297.9 112.8,299.8 113.3,296.9 113.8,299.2 114.3,297.7 114.8,298.9 115.3,298.4 115.8,296.4 116.3,297.5 116.8,298.2 117.3,299.1 117.8,295.7 118.3,295.9 118.9,296.7 119.4,295.2 119.9,295.7 120.4,294.0 120.9,291.5 121.4,288.0 121.9,287.9 122.4,291.1 122.9,291.4 123.4,293.1 123.9,295.2 124.4,294.9 124.9,297.2 125.4,297.3 125.9,296.8 126.4,297.7 126.9,296.8 127.4,299.6 127.9,296.2 128.4,299.1 128.9,298.4 129.5,300.0 130.0,297.5 130.5,296.6 131.0,296.9 131.5,297.3 132.0,300.4 132.5,299.4 133.0,299.0 133.5,299.6 134.0,297.0 134.5,298.2 135.0,298.5 135.5,297.8 136.0,299.7 136.5,299.7 137.0,299.6 137.5,297.8 138.0,298.0 138.5,297.7 139.0,297.1 139.5,300.3 140.1,299.2 140.6,298.3 141.1,300.3 141.6,299.2 142.1,297.2 142.6,297.1 143.1,297.1 143.6,298.5 144.1,298.8 144.6,297.1 145.1,299.0 145.6,298.1 146.1,296.8 146.6,299.0 147.1,299.3 147.6,298.6 148.1,297.8 148.6,297.9 149.1,298.3 149.6,297.8 150.2,300.6 150.7,299.7 151.2,298.3 151.7,299.8 152.2,300.3 152.7,300.1 153.2,299.7 153.7,298.8 154.2,299.9 154.7,298.2 155.2,296.3 155.7,298.7 156.2,296.9 156.7,298.2 157.2,300.0 157.7,298.9 158.2,299.8 158.7,297.6 159.2,300.1 159.7,296.8 160.2,297.8 160.8,301.2 161.3,297.5 161.8,296.5 162.3,299.6 162.8,297.3 163.3,300.9 163.8,298.2 164.3,300.7 164.8,297.9 165.3,300.9 165.8,302.0 166.3,298.0 166.8,295.6 167.3,299.3 167.8,297.5 168.3,298.4 168.8,299.0 169.3,297.7 169.8,296.4 170.3,300.1 170.8,297.8 171.4,298.1 171.9,300.4 172.4,296.4 172.9,296.0 173.4,299.8 173.9,296.3 174.4,298.4 174.9,298.7 175.4,296.6 175.9,298.2 176.4,298.1 176.9,296.5 177.4,296.8 177.9,297.3 178.4,300.3 178.9,300.5 179.4,297.0 179.9,299.7 180.4,298.3 180.9,299.8 181.5,298.7 182.0,300.1 182.5,296.3 183.0,299.7 183.5,298.6 184.0,298.6 184.5,296.8 185.0,300.2 185.5,298.3 186.0,298.5 186.5,297.6 187.0,297.6 187.5,298.8 188.0,297.8 188.5,298.5 189.0,297.3 189.5,298.0 190.0,298.6 190.5,297.6 191.0,296.9 191.5,294.2 192.1,297.4 192.6,296.0 193.1,294.1 193.6,298.2 194.1,297.3 194.6,296.2 195.1,294.7 195.6,291.6 196.1,294.7 196.6,294.2 197.1,296.5 197.6,299.8 198.1,300.0 198.6,295.9 199.1,297.2 199.6,299.3 200.1,296.3 200.6,299.9 201.1,296.5 201.6,296.2 202.1,299.1 202.7,299.6 203.2,297.1 203.7,299.7 204.2,297.2 204.7,299.9 205.2,297.3 205.7,298.2 206.2,299.0 206.7,299.6 207.2,298.1 207.7,300.9 208.2,298.8 208.7,299.0 209.2,297.6 209.7,300.1 210.2,296.3 210.7,298.9 211.2,300.0 211.7,296.7" stroke="#2424e6"/>
<path d="M39.6,338.9 40.1,341.4 40.6,342.3 41.1,341.1 41.6,342.1 42.1,341.6 42.6,339.0 43.1,340.6 43.6,340.9 44.1,340.7 44.6,341.2 45.1,340.0 45.7,339.9 46.2,341.6 46.7,341.0 47.2,337.8 47.7,340.5 48.2,341.4 48.7,338.3 49.2,341.1 49.7,342.6 50.2,340.2 50.7,342.3 51.2,341.8 51.7,340.6 52.2,341.2 52.7,342.1 53.2,341.8 53.7,341.9 54.2,339.5 54.7,342.0 55.2,341.8 55.7,338.3 56.3,341.8 56.8,339.0 57.3,339.2 57.8,341.2 58.3,342.9 58.8,340.3 59.3,340.0 59.8,339.6 60.3,340.8 60.8,339.3 61.3,339.0 61.8,342.3 62.3,338.9 62.8,340.5 63.3,341.5 63.8,341.1 64.3,338.1 64.8,339.3 65.3,343.0 65.8,340.4 66.3,340.6 66.9,340.5 67.4,340.9 67.9,342.0 68.4,338.7 68.9,340.9 69.4,339.8 69.9,339.7 70.4,339.4 70.9,336.7 71.4,336.2 71.9,336.2 72.4,334.6 72.9,331.2 73.4,325.5 73.9,322.8 74.4,320.8 74.9,323.2 75.4,326.9 75.9,330.0 76.4,335.7 76.9,333.0 77.5,337.7 78.0,338.4 78.5,336.5 79.0,338.6 79.5,339.2 80.0,340.3 80.5,341.9 81.0,339.7 81.5,338.5 82.0,341.5 82.5,338.5 83.0,342.0 83.5,341.5 84.0,339.9 84.5,340.6 85.0,339.7 85.5,341.7 86.0,342.1 86.5,343.3 87.0,342.4 87.6,342.3 88.1,342.8 88.6,340.4 89.1,341.8 89.6,343.6 90.1,337.5 90.6,342.0 91.1,342.6 91.6,339.3 92.1,339.4 92.6,342.5 93.1,342.9 93.6,342.3 94.1,339.4 94.6,341.4 95.1,342.1 95.6,341.0 96.1,339.3 96.6,342.8 97.1,341.5 97.6,342.8 98.2,338.0 98.7,338.5 99.2,339.7 99.7,341.1 100.2,340.1 100.7,343.8 101.2,340.6 101.7,342.7 102.2,342.7 102.7,341.9 103.2,341.4 103.7,340.1 104.2,340.0 104.7,340.5 105.2,342.2 105.7,340.0 106.2,341.0 106.7,339.2 107.2,342.1 107.7,344.5 108.2,341.4 108.8,337.8 109.3,340.1 109.8,340.9 110.3,339.4 110.8,339.9 111.3,339.9 111.8,341.2 112.3,340.3 112.8,340.1 113.3,341.1 113.8,341.6 114.3,339.8 114.8,338.5 115.3,338.7 115.8,338.7 116.3,338.3 116.8,335.1 117.3,337.7 117.8,335.8 118.3,333.5 118.9,334.6 119.4,332.0 119.9,327.6 120.4,321.8 120.9,317.2 121.4,311.3 121.9,311.1 122.4,318.1 122.9,321.6 123.4,328.7 123.9,334.3 124.4,334.5 124.9,338.3 125.4,338.4 125.9,337.9 126.4,339.7 126.9,337.5 127.4,341.3 127.9,339.2 128.4,339.0 128.9,338.0 129.5,338.8 130.0,339.9 130.5,340.2 131.0,340.5 131.5,338.9 132.0,341.4 132.5,339.9 133.0,340.7 133.5,340.3 134.0,341.0 134.5,337.8 135.0,341.6 135.5,340.4 136.0,340.4 136.5,340.0 137.0,340.2 137.5,340.3 138.0,339.5 138.5,342.9 139.0,340.9 139.5,342.6 140.1,340.6 140.6,342.5 141.1,342.2 141.6,341.0 142.1,339.1 142.6,340.2 143.1,340.6 143.6,339.1 144.1,342.2 144.6,343.8 145.1,341.5 145.6,341.3 146.1,339.3 146.6,338.1 147.1,342.8 147.6,337.6 148.1,338.9 148.6,339.9 149.1,340.5 149.6,337.7 150.2,340.9 150.7,341.6 151.2,340.8 151.7,342.8 152.2,340.4 152.7,341.1 153.2,340.5 153.7,340.5 154.2,342.4 154.7,339.2 155.2,342.4 155.7,339.8 156.2,343.1 156.7,340.5 157.2,342.1 157.7,340.9 158.2,341.8 158.7,343.9 159.2,342.5 159.7,340.9 160.2,340.1 160.8,342.9 161.3,343.8 161.8,342.1 162.3,341.2 162.8,341.8 163.3,342.0 163.8,339.8 164.3,339.6 164.8,339.9 165.3,342.2 165.8,340.8 166.3,341.1 166.8,342.8 167.3,339.7 167.8,340.7 168.3,341.5 168.8,338.9 169.3,339.8 169.8,339.7 170.3,339.2 170.8,339.8 171.4,342.5 171.9,341.3 172.4,339.4 172.9,341.8 173.4,340.7 173.9,340.1 174.4,338.7 174.9,338.9 175.4,339.4 175.9,340.8 176.4,339.3 176.9,339.8 177.4,340.7 177.9,338.6 178.4,339.7 178.9,341.4 179.4,338.6 179.9,340.6 180.4,339.4 180.9,342.2 181.5,340.1 182.0,341.2 182.5,341.2 183.0,342.3 183.5,336.8 184.0,339.7 184.5,339.0 185.0,337.7 185.5,339.2 186.0,338.1 186.5,340.3 187.0,337.9 187.5,338.4 188.0,336.7 188.5,336.6 189.0,338.1 189.5,338.0 190.0,335.9 190.5,332.4 191.0,331.4 191.5,329.7 192.1,330.8 192.6,329.1 193.1,323.3 193.6,319.6 194.1,317.0 194.6,313.7 195.1,314.0 195.6,316.7 196.1,318.9 196.6,320.7 197.1,323.9 197.6,327.0 198.1,326.2 198.6,331.5 199.1,332.6 199.6,335.4 200.1,335.6 200.6,335.2 201.1,335.8 201.6,337.4 202.1,337.1 202.7,338.0 203.2,340.9 203.7,343.1 204.2,335.8 204.7,338.0 205.2,339.4 205.7,341.8 206.2,341.3 206.7,337.9 207.2,343.6 207.7,340.4 208.2,338.9 208.7,339.9 209.2,339.2 209.7,340.4 210.2,337.1 210.7,341.8 211.2,342.3 211.7,340.1" stroke="#e42a2a"/>
</g>
<rect x="39.7" y="193.9" width="171.6" height="159.9" fill="none" stroke="#000" stroke-width="1.5"/>
<line x1="54.9" y1="353.8" x2="54.9" y2="350.6" stroke="#000" stroke-width="1.1"/>
<text class="n" x="54.9" y="364.54" font-size="8.9" text-anchor="middle" fill="#111" stroke="#111">200</text>
<line x1="87.47" y1="353.8" x2="87.47" y2="350.6" stroke="#000" stroke-width="1.1"/>
<text class="n" x="87.47" y="364.54" font-size="8.9" text-anchor="middle" fill="#111" stroke="#111">300</text>
<line x1="120.04" y1="353.8" x2="120.04" y2="350.6" stroke="#000" stroke-width="1.1"/>
<text class="n" x="120.04" y="364.54" font-size="8.9" text-anchor="middle" fill="#111" stroke="#111">400</text>
<line x1="152.61" y1="353.8" x2="152.61" y2="350.6" stroke="#000" stroke-width="1.1"/>
<text class="n" x="152.61" y="364.54" font-size="8.9" text-anchor="middle" fill="#111" stroke="#111">500</text>
<line x1="185.18" y1="353.8" x2="185.18" y2="350.6" stroke="#000" stroke-width="1.1"/>
<text class="n" x="185.18" y="364.54" font-size="8.9" text-anchor="middle" fill="#111" stroke="#111">600</text>
<text class="s" x="125.2" y="377.2" font-size="11" text-anchor="middle" stroke="#000">Raman shift (cm<tspan font-size="6.5" dy="-4.4">-1</tspan><tspan dy="4.4">)</tspan></text>
<text class="s" x="20" y="271" font-size="10.8" text-anchor="middle" stroke="#000" transform="rotate(-90 20 271)">Raman intensity (a.u.)</text>
<text class="s" x="17.3" y="201.72" font-size="15.5" text-anchor="middle" stroke="#000">(b)</text>
<text class="s" x="51.2" y="226.6" font-size="9.2" font-style="italic" font-weight="bold" fill="#e0208a" stroke="#e0208a">B</text>
<text class="s" x="57.49" y="222.28" font-size="5.52" font-weight="bold" fill="#e0208a" stroke="#e0208a">1</text>
<text class="s" x="57.29" y="229.08" font-size="5.52" font-style="italic" font-weight="bold" fill="#e0208a" stroke="#e0208a">3g</text>
<text class="s" x="70.6" y="210.2" font-size="9.2" font-style="italic" font-weight="bold" fill="#1f9a96" stroke="#1f9a96">A</text>
<text class="s" x="76.89" y="205.88" font-size="5.52" font-weight="bold" fill="#1f9a96" stroke="#1f9a96">1</text>
<text class="s" x="76.69" y="212.68" font-size="5.52" font-style="italic" font-weight="bold" fill="#1f9a96" stroke="#1f9a96">g</text>
<text class="s" x="118" y="238.6" font-size="9.2" font-style="italic" font-weight="bold" fill="#1f9a96" stroke="#1f9a96">A</text>
<text class="s" x="124.29" y="234.28" font-size="5.52" font-weight="bold" fill="#1f9a96" stroke="#1f9a96">2</text>
<text class="s" x="124.09" y="241.08" font-size="5.52" font-style="italic" font-weight="bold" fill="#1f9a96" stroke="#1f9a96">g</text>
<text class="s" x="189.4" y="237.2" font-size="9.2" font-style="italic" font-weight="bold" fill="#1f9a96" stroke="#1f9a96">A</text>
<text class="s" x="195.69" y="232.88" font-size="5.52" font-weight="bold" fill="#1f9a96" stroke="#1f9a96">3</text>
<text class="s" x="195.49" y="239.68" font-size="5.52" font-style="italic" font-weight="bold" fill="#1f9a96" stroke="#1f9a96">g</text>
<text class="s" x="151.2" y="241.2" font-size="10.5" font-style="italic" fill="#d92ad9" stroke="#d92ad9">b</text>
<text class="s" x="158.8" y="240.4" font-size="8.5" fill="#d92ad9" stroke="#d92ad9" opacity="0.7" letter-spacing="0.5">||</text>
<text class="s" x="165.4" y="241.2" font-size="10.5" font-style="italic" font-weight="bold" fill="#d92ad9" stroke="#d92ad9">e</text>
<text class="s" x="169.8" y="243.4" font-size="6" fill="#d92ad9" stroke="#d92ad9">i</text>
<text class="s" x="151.2" y="292.6" font-size="10.5" font-style="italic" fill="#2424d8" stroke="#2424d8">a</text>
<text class="s" x="158.8" y="291.8" font-size="8.5" fill="#2424d8" stroke="#2424d8" opacity="0.7" letter-spacing="0.5">||</text>
<text class="s" x="165.4" y="292.6" font-size="10.5" font-style="italic" font-weight="bold" fill="#2424d8" stroke="#2424d8">e</text>
<text class="s" x="169.8" y="294.8" font-size="6" fill="#2424d8" stroke="#2424d8">i</text>
<text class="s" x="151.2" y="335.6" font-size="10.5" font-style="italic" fill="#e03030" stroke="#e03030">c</text>
<text class="s" x="158.8" y="334.8" font-size="8.5" fill="#e03030" stroke="#e03030" opacity="0.7" letter-spacing="0.5">||</text>
<text class="s" x="165.4" y="335.6" font-size="10.5" font-style="italic" font-weight="bold" fill="#e03030" stroke="#e03030">e</text>
<text class="s" x="169.8" y="337.8" font-size="6" fill="#e03030" stroke="#e03030">i</text>
</g>
<g id="pc">
<clipPath id="cc"><rect x="39.7" y="383.2" width="171.5" height="159.2"/></clipPath>
<g clip-path="url(#cc)" fill="none" stroke-width="0.85" stroke-linejoin="round">
<path d="M39.7,471.7 40.2,473.2 40.7,470.0 41.1,468.0 41.6,465.8 42.1,468.9 42.6,470.8 43.1,471.5 43.6,466.9 44.0,464.2 44.5,468.3 45.0,472.8 45.5,471.9 46.0,464.2 46.5,468.4 46.9,474.1 47.4,469.1 47.9,472.3 48.4,470.7 48.9,470.2 49.3,470.8 49.8,466.9 50.3,468.7 50.8,470.2 51.3,467.1 51.8,465.7 52.2,473.0 52.7,468.6 53.2,470.6 53.7,467.9 54.2,471.0 54.7,466.7 55.1,466.5 55.6,466.8 56.1,468.3 56.6,465.5 57.1,466.4 57.5,465.7 58.0,458.9 58.5,460.0 59.0,449.1 59.5,444.6 60.0,444.9 60.4,429.1 60.9,426.6 61.4,423.7 61.9,430.8 62.4,445.9 62.9,448.2 63.3,453.9 63.8,454.2 64.3,463.4 64.8,459.6 65.3,466.6 65.7,465.4 66.2,467.7 66.7,461.5 67.2,464.7 67.7,459.5 68.2,465.2 68.6,464.9 69.1,465.1 69.6,469.7 70.1,468.2 70.6,464.1 71.1,469.4 71.5,467.8 72.0,468.5 72.5,466.7 73.0,469.7 73.5,469.1 73.9,468.0 74.4,468.5 74.9,471.4 75.4,466.2 75.9,472.8 76.4,472.5 76.8,472.8 77.3,466.1 77.8,470.1 78.3,471.9 78.8,472.4 79.3,467.8 79.7,472.2 80.2,472.9 80.7,467.2 81.2,472.7 81.7,470.1 82.1,469.1 82.6,470.4 83.1,469.3 83.6,465.1 84.1,470.7 84.6,472.9 85.0,474.6 85.5,469.7 86.0,470.2 86.5,468.3 87.0,470.5 87.5,470.5 87.9,471.3 88.4,470.6 88.9,468.6 89.4,470.2 89.9,468.8 90.3,463.3 90.8,467.6 91.3,473.8 91.8,463.8 92.3,468.0 92.8,471.8 93.2,466.2 93.7,468.9 94.2,470.8 94.7,470.8 95.2,471.8 95.7,468.7 96.1,465.6 96.6,469.7 97.1,467.5 97.6,463.1 98.1,472.3 98.5,467.8 99.0,469.4 99.5,471.6 100.0,471.5 100.5,468.4 101.0,466.9 101.4,469.7 101.9,467.8 102.4,465.7 102.9,466.8 103.4,464.9 103.9,466.0 104.3,465.6 104.8,461.3 105.3,464.6 105.8,465.7 106.3,463.5 106.7,467.8 107.2,465.3 107.7,461.1 108.2,460.4 108.7,456.1 109.2,458.7 109.6,460.5 110.1,446.5 110.6,443.7 111.1,442.7 111.6,424.9 112.1,415.9 112.5,409.2 113.0,400.9 113.5,408.4 114.0,415.2 114.5,434.8 114.9,442.8 115.4,449.6 115.9,454.7 116.4,459.7 116.9,458.8 117.4,458.0 117.8,460.8 118.3,466.5 118.8,468.0 119.3,464.9 119.8,467.9 120.3,468.1 120.7,471.6 121.2,461.1 121.7,464.4 122.2,470.3 122.7,464.9 123.1,463.7 123.6,475.1 124.1,469.7 124.6,469.3 125.1,466.3 125.6,468.7 126.0,469.1 126.5,468.7 127.0,463.0 127.5,462.1 128.0,470.2 128.5,471.5 128.9,460.7 129.4,471.7 129.9,470.5 130.4,468.7 130.9,467.4 131.3,465.8 131.8,467.8 132.3,471.6 132.8,467.4 133.3,468.2 133.8,463.4 134.2,469.1 134.7,473.0 135.2,472.2 135.7,464.7 136.2,470.7 136.7,475.4 137.1,470.8 137.6,469.1 138.1,465.5 138.6,472.2 139.1,467.1 139.5,466.7 140.0,471.2 140.5,469.7 141.0,463.8 141.5,464.0 142.0,466.6 142.4,468.2 142.9,465.7 143.4,469.6 143.9,469.4 144.4,471.7 144.9,469.2 145.3,469.4 145.8,460.8 146.3,469.7 146.8,465.4 147.3,465.2 147.7,469.7 148.2,465.7 148.7,475.7 149.2,468.9 149.7,466.6 150.2,476.3 150.6,472.6 151.1,466.0 151.6,469.9 152.1,472.4 152.6,470.3 153.1,470.8 153.5,466.9 154.0,467.8 154.5,470.0 155.0,471.1 155.5,469.3 155.9,465.1 156.4,468.0 156.9,467.2 157.4,469.5 157.9,472.9 158.4,471.2 158.8,467.1 159.3,468.7 159.8,471.7 160.3,473.8 160.8,468.7 161.3,470.0 161.7,470.0 162.2,469.9 162.7,468.1 163.2,468.0 163.7,466.0 164.1,466.1 164.6,464.8 165.1,466.4 165.6,469.8 166.1,468.9 166.6,467.3 167.0,469.7 167.5,467.0 168.0,465.2 168.5,471.0 169.0,473.9 169.5,465.0 169.9,468.5 170.4,466.4 170.9,472.4 171.4,463.2 171.9,466.1 172.3,468.7 172.8,469.3 173.3,467.8 173.8,468.6 174.3,468.9 174.8,471.3 175.2,464.1 175.7,467.9 176.2,467.5 176.7,467.3 177.2,474.5 177.7,465.8 178.1,468.2 178.6,467.9 179.1,466.7 179.6,469.6 180.1,464.0 180.5,468.4 181.0,468.8 181.5,468.4 182.0,465.0 182.5,462.9 183.0,466.5 183.4,468.8 183.9,460.6 184.4,466.4 184.9,459.0 185.4,462.0 185.9,463.0 186.3,461.8 186.8,457.3 187.3,454.6 187.8,456.1 188.3,450.6 188.7,444.7 189.2,448.6 189.7,447.9 190.2,443.3 190.7,439.2 191.2,431.2 191.6,425.3 192.1,421.0 192.6,410.3 193.1,416.8 193.6,412.9 194.1,405.7 194.5,413.7 195.0,421.3 195.5,427.7 196.0,429.6 196.5,438.3 196.9,444.0 197.4,451.6 197.9,451.1 198.4,455.6 198.9,457.6 199.4,459.3 199.8,458.8 200.3,460.9 200.8,458.3 201.3,465.8 201.8,463.1 202.3,457.6 202.7,463.7 203.2,460.7 203.7,461.3 204.2,461.2 204.7,463.3 205.1,469.9 205.6,466.9 206.1,467.5 206.6,471.2 207.1,468.1 207.6,470.7 208.0,472.1 208.5,466.6 209.0,467.5 209.5,469.6 210.0,470.5 210.5,469.3 210.9,469.0 211.4,469.1" stroke="#e84848"/>
<path d="M39.7,498.5 40.2,499.3 40.7,497.6 41.1,497.4 41.6,497.7 42.1,499.7 42.6,499.6 43.1,497.5 43.6,498.8 44.0,498.5 44.5,503.4 45.0,503.8 45.5,497.7 46.0,497.7 46.5,495.6 46.9,497.0 47.4,498.0 47.9,498.4 48.4,501.3 48.9,496.6 49.3,499.6 49.8,497.4 50.3,498.0 50.8,497.9 51.3,496.6 51.8,499.4 52.2,499.2 52.7,500.1 53.2,499.2 53.7,495.1 54.2,499.1 54.7,496.0 55.1,496.7 55.6,496.9 56.1,496.8 56.6,500.4 57.1,497.7 57.5,495.2 58.0,499.8 58.5,498.5 59.0,499.8 59.5,497.8 60.0,500.6 60.4,495.2 60.9,499.2 61.4,501.5 61.9,494.8 62.4,496.5 62.9,497.4 63.3,497.3 63.8,499.1 64.3,498.8 64.8,497.0 65.3,496.6 65.7,496.5 66.2,498.0 66.7,499.3 67.2,498.8 67.7,496.2 68.2,495.5 68.6,499.1 69.1,499.4 69.6,495.9 70.1,497.0 70.6,497.0 71.1,501.0 71.5,499.1 72.0,499.4 72.5,498.0 73.0,501.8 73.5,495.9 73.9,497.8 74.4,497.5 74.9,500.8 75.4,498.5 75.9,495.7 76.4,501.5 76.8,497.8 77.3,497.0 77.8,499.8 78.3,496.8 78.8,499.1 79.3,495.9 79.7,497.3 80.2,498.0 80.7,494.4 81.2,496.7 81.7,495.8 82.1,500.8 82.6,499.7 83.1,496.7 83.6,496.6 84.1,498.5 84.6,496.8 85.0,500.5 85.5,498.0 86.0,500.7 86.5,497.7 87.0,499.4 87.5,499.7 87.9,498.3 88.4,494.8 88.9,500.4 89.4,499.6 89.9,496.3 90.3,499.2 90.8,494.9 91.3,498.0 91.8,498.2 92.3,497.7 92.8,494.9 93.2,497.1 93.7,497.4 94.2,497.9 94.7,501.5 95.2,500.2 95.7,495.4 96.1,496.8 96.6,497.4 97.1,497.1 97.6,499.5 98.1,497.7 98.5,500.2 99.0,497.6 99.5,499.8 100.0,498.8 100.5,497.5 101.0,499.1 101.4,497.1 101.9,497.5 102.4,497.7 102.9,495.8 103.4,501.3 103.9,501.6 104.3,497.2 104.8,496.5 105.3,494.4 105.8,496.9 106.3,496.7 106.7,500.2 107.2,496.9 107.7,497.1 108.2,500.5 108.7,500.2 109.2,498.6 109.6,497.8 110.1,504.3 110.6,498.3 111.1,497.9 111.6,498.8 112.1,497.9 112.5,497.5 113.0,500.4 113.5,497.6 114.0,498.9 114.5,500.3 114.9,498.0 115.4,495.4 115.9,501.3 116.4,501.7 116.9,501.7 117.4,494.4 117.8,498.9 118.3,498.5 118.8,500.0 119.3,500.3 119.8,502.5 120.3,498.1 120.7,497.9 121.2,502.4 121.7,500.5 122.2,499.9 122.7,498.5 123.1,497.9 123.6,496.1 124.1,495.7 124.6,496.3 125.1,495.7 125.6,500.7 126.0,499.5 126.5,496.1 127.0,497.8 127.5,498.4 128.0,502.4 128.5,502.1 128.9,496.9 129.4,497.7 129.9,499.0 130.4,499.2 130.9,501.9 131.3,497.7 131.8,496.3 132.3,495.1 132.8,498.3 133.3,498.8 133.8,500.6 134.2,496.0 134.7,495.0 135.2,499.6 135.7,497.8 136.2,498.2 136.7,499.5 137.1,503.4 137.6,499.1 138.1,497.2 138.6,501.3 139.1,500.1 139.5,505.0 140.0,495.8 140.5,497.4 141.0,498.3 141.5,498.9 142.0,499.7 142.4,498.6 142.9,499.0 143.4,498.9 143.9,498.5 144.4,498.1 144.9,495.3 145.3,501.3 145.8,497.9 146.3,499.6 146.8,500.7 147.3,503.1 147.7,497.2 148.2,500.4 148.7,499.9 149.2,497.5 149.7,500.6 150.2,498.4 150.6,498.6 151.1,496.8 151.6,496.4 152.1,500.2 152.6,496.6 153.1,498.6 153.5,498.2 154.0,498.8 154.5,496.9 155.0,500.8 155.5,497.9 155.9,496.1 156.4,499.0 156.9,494.4 157.4,499.9 157.9,498.0 158.4,499.4 158.8,499.7 159.3,500.7 159.8,499.5 160.3,498.5 160.8,500.0 161.3,496.7 161.7,495.4 162.2,501.5 162.7,496.8 163.2,498.0 163.7,497.9 164.1,493.5 164.6,496.0 165.1,497.8 165.6,498.1 166.1,502.7 166.6,496.9 167.0,499.9 167.5,498.0 168.0,498.2 168.5,496.5 169.0,494.3 169.5,496.4 169.9,495.9 170.4,498.9 170.9,497.5 171.4,496.9 171.9,501.3 172.3,494.3 172.8,499.8 173.3,501.0 173.8,495.1 174.3,494.2 174.8,499.8 175.2,499.6 175.7,492.2 176.2,498.2 176.7,502.4 177.2,499.6 177.7,494.4 178.1,497.1 178.6,496.9 179.1,496.0 179.6,497.0 180.1,499.1 180.5,501.6 181.0,497.5 181.5,500.6 182.0,498.5 182.5,494.9 183.0,497.3 183.4,498.3 183.9,498.3 184.4,496.9 184.9,496.6 185.4,501.0 185.9,498.0 186.3,495.0 186.8,496.9 187.3,499.9 187.8,499.8 188.3,502.5 188.7,500.0 189.2,495.2 189.7,498.5 190.2,500.1 190.7,499.6 191.2,498.6 191.6,498.6 192.1,499.1 192.6,499.9 193.1,497.1 193.6,495.3 194.1,499.5 194.5,499.5 195.0,496.0 195.5,501.3 196.0,499.6 196.5,499.2 196.9,498.1 197.4,498.9 197.9,500.2 198.4,497.8 198.9,500.8 199.4,501.9 199.8,502.5 200.3,496.9 200.8,501.9 201.3,497.5 201.8,497.1 202.3,496.8 202.7,498.7 203.2,499.5 203.7,498.2 204.2,499.6 204.7,501.0 205.1,495.9 205.6,500.2 206.1,494.8 206.6,497.4 207.1,499.3 207.6,497.5 208.0,495.9 208.5,501.2 209.0,500.3 209.5,500.5 210.0,498.1 210.5,497.6 210.9,498.3 211.4,499.9" stroke="#2f9a3a"/>
<path d="M39.7,530.6 40.2,526.1 40.7,526.3 41.1,528.9 41.6,532.6 42.1,527.6 42.6,528.4 43.1,528.5 43.6,524.7 44.0,527.0 44.5,531.7 45.0,531.6 45.5,525.5 46.0,528.5 46.5,526.8 46.9,529.3 47.4,531.5 47.9,528.1 48.4,524.8 48.9,527.9 49.3,531.7 49.8,529.5 50.3,529.9 50.8,528.1 51.3,525.8 51.8,523.3 52.2,527.7 52.7,529.3 53.2,527.9 53.7,527.9 54.2,528.9 54.7,527.6 55.1,527.4 55.6,530.2 56.1,525.4 56.6,527.3 57.1,528.4 57.5,523.9 58.0,525.5 58.5,518.6 59.0,520.4 59.5,519.6 60.0,519.6 60.4,516.6 60.9,512.1 61.4,516.2 61.9,513.8 62.4,523.3 62.9,519.5 63.3,519.7 63.8,522.4 64.3,524.4 64.8,522.7 65.3,528.2 65.7,529.0 66.2,526.6 66.7,524.1 67.2,526.4 67.7,528.2 68.2,527.1 68.6,526.9 69.1,531.4 69.6,535.6 70.1,531.0 70.6,532.3 71.1,530.0 71.5,531.7 72.0,530.8 72.5,527.5 73.0,528.4 73.5,528.8 73.9,524.4 74.4,529.9 74.9,529.8 75.4,525.5 75.9,531.7 76.4,533.1 76.8,525.4 77.3,528.0 77.8,527.3 78.3,527.2 78.8,526.5 79.3,530.1 79.7,529.1 80.2,531.8 80.7,528.5 81.2,528.3 81.7,530.1 82.1,527.1 82.6,521.2 83.1,531.9 83.6,526.7 84.1,526.4 84.6,526.1 85.0,530.9 85.5,525.7 86.0,527.1 86.5,529.2 87.0,529.7 87.5,528.2 87.9,526.4 88.4,526.5 88.9,522.8 89.4,529.7 89.9,527.2 90.3,529.9 90.8,526.7 91.3,528.4 91.8,530.3 92.3,532.2 92.8,530.7 93.2,528.1 93.7,524.9 94.2,526.7 94.7,531.8 95.2,530.0 95.7,528.6 96.1,529.1 96.6,528.6 97.1,526.7 97.6,528.2 98.1,530.6 98.5,533.8 99.0,529.7 99.5,533.2 100.0,529.2 100.5,528.0 101.0,532.3 101.4,529.1 101.9,529.6 102.4,523.8 102.9,527.5 103.4,533.6 103.9,527.5 104.3,527.5 104.8,529.0 105.3,529.3 105.8,526.7 106.3,526.3 106.7,526.7 107.2,530.2 107.7,528.0 108.2,531.0 108.7,530.3 109.2,527.2 109.6,527.5 110.1,524.6 110.6,515.4 111.1,518.2 111.6,518.7 112.1,518.4 112.5,511.8 113.0,512.4 113.5,516.2 114.0,512.1 114.5,518.7 114.9,519.2 115.4,514.5 115.9,523.4 116.4,524.9 116.9,525.2 117.4,527.4 117.8,529.3 118.3,528.1 118.8,524.9 119.3,528.8 119.8,531.9 120.3,531.7 120.7,531.3 121.2,528.7 121.7,527.5 122.2,527.6 122.7,525.8 123.1,529.5 123.6,526.8 124.1,528.2 124.6,527.2 125.1,533.9 125.6,525.9 126.0,533.1 126.5,532.0 127.0,527.1 127.5,530.1 128.0,524.5 128.5,528.7 128.9,531.8 129.4,528.8 129.9,530.2 130.4,525.1 130.9,524.9 131.3,527.3 131.8,530.2 132.3,529.0 132.8,526.5 133.3,531.3 133.8,531.3 134.2,527.0 134.7,527.3 135.2,529.8 135.7,529.9 136.2,534.3 136.7,526.1 137.1,529.5 137.6,532.9 138.1,532.2 138.6,531.6 139.1,524.8 139.5,527.4 140.0,532.7 140.5,524.4 141.0,525.7 141.5,532.0 142.0,536.1 142.4,526.7 142.9,530.8 143.4,529.6 143.9,530.6 144.4,526.0 144.9,525.4 145.3,527.1 145.8,529.6 146.3,528.5 146.8,527.6 147.3,533.3 147.7,526.0 148.2,530.1 148.7,528.5 149.2,528.9 149.7,526.9 150.2,526.4 150.6,523.5 151.1,530.1 151.6,531.5 152.1,528.8 152.6,530.9 153.1,526.9 153.5,531.3 154.0,528.8 154.5,526.7 155.0,526.5 155.5,528.6 155.9,525.5 156.4,525.8 156.9,533.5 157.4,528.2 157.9,528.6 158.4,529.9 158.8,530.7 159.3,529.0 159.8,528.1 160.3,528.4 160.8,525.5 161.3,526.5 161.7,530.6 162.2,531.0 162.7,526.8 163.2,530.8 163.7,528.6 164.1,527.8 164.6,526.3 165.1,527.6 165.6,525.2 166.1,530.2 166.6,527.2 167.0,530.7 167.5,528.4 168.0,528.6 168.5,531.3 169.0,535.7 169.5,526.4 169.9,527.9 170.4,528.5 170.9,530.6 171.4,529.7 171.9,527.6 172.3,528.7 172.8,525.7 173.3,528.4 173.8,530.8 174.3,527.1 174.8,530.3 175.2,528.0 175.7,533.3 176.2,529.4 176.7,527.0 177.2,530.1 177.7,528.5 178.1,526.8 178.6,528.1 179.1,523.6 179.6,528.8 180.1,528.6 180.5,528.4 181.0,533.0 181.5,531.8 182.0,526.3 182.5,528.4 183.0,523.8 183.4,527.4 183.9,527.5 184.4,524.2 184.9,525.9 185.4,522.1 185.9,528.7 186.3,524.5 186.8,523.4 187.3,523.2 187.8,521.0 188.3,520.7 188.7,522.4 189.2,523.0 189.7,517.9 190.2,519.0 190.7,515.2 191.2,512.6 191.6,514.0 192.1,515.4 192.6,512.6 193.1,509.2 193.6,511.9 194.1,508.8 194.5,512.9 195.0,514.1 195.5,517.6 196.0,517.8 196.5,516.1 196.9,521.1 197.4,522.2 197.9,524.4 198.4,521.1 198.9,527.8 199.4,526.2 199.8,522.6 200.3,521.8 200.8,526.4 201.3,523.7 201.8,531.6 202.3,524.8 202.7,526.2 203.2,530.3 203.7,531.9 204.2,528.8 204.7,526.9 205.1,526.8 205.6,527.5 206.1,525.9 206.6,526.2 207.1,531.7 207.6,529.2 208.0,529.6 208.5,525.6 209.0,529.6 209.5,525.8 210.0,528.2 210.5,522.4 210.9,528.7 211.4,528.6" stroke="#f29a36"/>
</g>
<rect x="39.7" y="383.2" width="171.5" height="159.2" fill="none" stroke="#000" stroke-width="1.5"/>
<text class="n" x="39.7" y="553.94" font-size="8.9" text-anchor="middle" fill="#111" stroke="#111">200</text>
<line x1="75.43" y1="542.4" x2="75.43" y2="539.2" stroke="#000" stroke-width="1.1"/>
<text class="n" x="75.43" y="553.94" font-size="8.9" text-anchor="middle" fill="#111" stroke="#111">300</text>
<line x1="111.16" y1="542.4" x2="111.16" y2="539.2" stroke="#000" stroke-width="1.1"/>
<text class="n" x="111.16" y="553.94" font-size="8.9" text-anchor="middle" fill="#111" stroke="#111">400</text>
<line x1="146.89" y1="542.4" x2="146.89" y2="539.2" stroke="#000" stroke-width="1.1"/>
<text class="n" x="146.89" y="553.94" font-size="8.9" text-anchor="middle" fill="#111" stroke="#111">500</text>
<line x1="182.62" y1="542.4" x2="182.62" y2="539.2" stroke="#000" stroke-width="1.1"/>
<text class="n" x="182.62" y="553.94" font-size="8.9" text-anchor="middle" fill="#111" stroke="#111">600</text>
<text class="s" x="125.2" y="568" font-size="11" text-anchor="middle" stroke="#000">Raman shift (cm<tspan font-size="6.5" dy="-4.4">-1</tspan><tspan dy="4.4">)</tspan></text>
<text class="s" x="20.3" y="464.7" font-size="10.8" text-anchor="middle" stroke="#000" transform="rotate(-90 20.3 464.7)">Raman intensity (a.u.)</text>
<text class="s" x="17.3" y="389.51" font-size="15.5" text-anchor="middle" stroke="#000">(c)</text>
<text class="s" x="57.4" y="417.4" font-size="9.2" font-style="italic" font-weight="bold" fill="#1f9a96" stroke="#1f9a96">A</text>
<text class="s" x="63.69" y="413.08" font-size="5.52" font-weight="bold" fill="#1f9a96" stroke="#1f9a96">1</text>
<text class="s" x="63.49" y="419.88" font-size="5.52" font-style="italic" font-weight="bold" fill="#1f9a96" stroke="#1f9a96">g</text>
<text class="s" x="109.2" y="395.2" font-size="9.2" font-style="italic" font-weight="bold" fill="#1f9a96" stroke="#1f9a96">A</text>
<text class="s" x="115.49" y="390.88" font-size="5.52" font-weight="bold" fill="#1f9a96" stroke="#1f9a96">2</text>
<text class="s" x="115.29" y="397.68" font-size="5.52" font-style="italic" font-weight="bold" fill="#1f9a96" stroke="#1f9a96">g</text>
<text class="s" x="189.6" y="398.6" font-size="9.2" font-style="italic" font-weight="bold" fill="#1f9a96" stroke="#1f9a96">A</text>
<text class="s" x="195.89" y="394.28" font-size="5.52" font-weight="bold" fill="#1f9a96" stroke="#1f9a96">3</text>
<text class="s" x="195.69" y="401.08" font-size="5.52" font-style="italic" font-weight="bold" fill="#1f9a96" stroke="#1f9a96">g</text>
<text class="s" x="137.4" y="461" font-size="10" font-style="italic" fill="#e03a3a" stroke="#e03a3a">c</text>
<text class="s" x="144.4" y="460.2" font-size="8" fill="#e03a3a" stroke="#e03a3a" opacity="0.7" letter-spacing="0.5">||</text>
<text class="s" x="150.4" y="461" font-size="10" font-style="italic" font-weight="bold" fill="#e03a3a" stroke="#e03a3a">e</text>
<text class="s" x="154.6" y="463.2" font-size="6" fill="#e03a3a" stroke="#e03a3a">i</text>
<text class="s" x="137.4" y="491" font-size="10" font-style="italic" fill="#2f9a3a" stroke="#2f9a3a">c</text>
<text class="s" x="144.4" y="490.2" font-size="8" fill="#2f9a3a" stroke="#2f9a3a" opacity="0.7" letter-spacing="0.5">||</text>
<text class="s" x="150.4" y="491" font-size="10" font-style="italic" font-weight="bold" fill="#2f9a3a" stroke="#2f9a3a">e</text>
<text class="s" x="154.6" y="493.2" font-size="6" fill="#2f9a3a" stroke="#2f9a3a">i</text>
<text class="s" x="159" y="490.8" font-size="8.5" fill="#2f9a3a" stroke="#2f9a3a" opacity="0.85">⊥</text>
<text class="s" x="168.6" y="491" font-size="10" font-style="italic" font-weight="bold" fill="#2f9a3a" stroke="#2f9a3a">e</text>
<text class="s" x="172.8" y="493.2" font-size="6" fill="#2f9a3a" stroke="#2f9a3a">s</text>
<text class="s" x="137.4" y="516.8" font-size="10" font-style="italic" fill="#f29a36" stroke="#f29a36">c</text>
<text class="s" x="144.4" y="516" font-size="8" fill="#f29a36" stroke="#f29a36" opacity="0.7" letter-spacing="0.5">||</text>
<text class="s" x="150.4" y="516.8" font-size="10" font-style="italic" font-weight="bold" fill="#f29a36" stroke="#f29a36">e</text>
<text class="s" x="154.6" y="519" font-size="6" fill="#f29a36" stroke="#f29a36">i</text>
<text class="s" x="161" y="516" font-size="8" fill="#f29a36" stroke="#f29a36" opacity="0.7" letter-spacing="0.5">||</text>
<text class="s" x="168.6" y="516.8" font-size="10" font-style="italic" font-weight="bold" fill="#f29a36" stroke="#f29a36">e</text>
<text class="s" x="172.8" y="519" font-size="6" fill="#f29a36" stroke="#f29a36">s</text>
</g>
<g id="pd">
<clipPath id="cd"><rect x="259.8" y="193.9" width="171.8" height="159"/></clipPath>
<g clip-path="url(#cd)" fill="none" stroke-width="1.15" stroke-linejoin="round">
<path d="M259.8,347.5 260.3,347.1 260.8,347.6 261.3,347.6 261.8,347.1 262.3,347.7 262.8,347.9 263.3,348.0 263.8,347.8 264.3,347.4 264.8,347.2 265.3,347.2 265.8,347.7 266.3,348.3 266.8,347.5 267.3,346.9 267.8,346.7 268.3,346.7 268.8,347.4 269.3,347.4 269.8,347.0 270.3,347.2 270.8,347.5 271.3,347.6 271.8,347.4 272.3,347.2 272.8,347.1 273.4,346.9 273.9,347.0 274.4,347.3 274.9,346.9 275.4,347.2 275.9,347.5 276.4,347.0 276.9,346.5 277.4,346.6 277.9,346.5 278.4,346.4 278.9,346.2 279.4,345.8 279.9,345.3 280.4,344.2 280.9,343.4 281.4,343.1 281.9,343.9 282.4,345.0 282.9,345.8 283.4,346.2 283.9,346.2 284.4,346.4 284.9,346.7 285.4,346.5 285.9,346.2 286.4,346.9 286.9,347.0 287.4,347.2 287.9,347.7 288.4,347.4 288.9,347.3 289.4,347.5 289.9,347.7 290.4,347.5 290.9,347.5 291.4,347.7 291.9,347.4 292.4,347.0 292.9,347.2 293.4,347.4 293.9,347.4 294.4,347.6 294.9,347.7 295.4,347.8 295.9,347.6 296.4,347.3 296.9,347.5 297.4,347.5 297.9,347.3 298.4,347.0 298.9,347.2 299.5,347.7 300.0,347.5 300.5,347.7 301.0,347.4 301.5,347.0 302.0,347.1 302.5,347.4 303.0,347.4 303.5,347.1 304.0,347.1 304.5,347.5 305.0,348.0 305.5,347.7 306.0,347.4 306.5,347.8 307.0,347.5 307.5,347.2 308.0,347.8 308.5,347.9 309.0,347.6 309.5,347.3 310.0,347.7 310.5,348.0 311.0,347.6 311.5,347.2 312.0,347.4 312.5,348.4 313.0,348.5 313.5,347.7 314.0,347.2 314.5,346.9 315.0,347.0 315.5,347.6 316.0,347.4 316.5,347.2 317.0,347.5 317.5,347.5 318.0,347.1 318.5,347.3 319.0,347.9 319.5,347.7 320.0,347.4 320.5,347.6 321.0,347.8 321.5,347.5 322.0,346.9 322.5,346.8 323.0,346.9 323.5,346.8 324.0,347.4 324.5,348.0 325.0,347.7 325.5,347.5 326.1,347.5 326.6,347.2 327.1,347.2 327.6,347.2 328.1,347.3 328.6,347.2 329.1,346.3 329.6,345.9 330.1,345.9 330.6,345.3 331.1,345.0 331.6,344.4 332.1,343.3 332.6,342.0 333.1,340.9 333.6,341.6 334.1,343.0 334.6,344.0 335.1,344.6 335.6,345.1 336.1,345.7 336.6,346.1 337.1,346.0 337.6,346.3 338.1,346.3 338.6,346.6 339.1,347.2 339.6,346.8 340.1,346.6 340.6,347.1 341.1,347.3 341.6,347.3 342.1,347.1 342.6,346.9 343.1,347.3 343.6,347.4 344.1,347.3 344.6,347.4 345.1,347.3 345.6,347.5 346.1,347.4 346.6,347.2 347.1,347.2 347.6,347.1 348.1,347.2 348.6,347.9 349.1,347.9 349.6,347.5 350.1,347.4 350.6,347.3 351.1,347.1 351.6,347.3 352.1,347.5 352.7,347.7 353.2,347.5 353.7,347.3 354.2,347.8 354.7,348.0 355.2,347.9 355.7,347.2 356.2,347.0 356.7,347.7 357.2,347.9 357.7,347.5 358.2,347.3 358.7,347.3 359.2,347.6 359.7,347.6 360.2,347.6 360.7,348.2 361.2,348.2 361.7,347.9 362.2,347.5 362.7,347.1 363.2,347.5 363.7,347.7 364.2,347.5 364.7,347.9 365.2,348.4 365.7,348.0 366.2,347.5 366.7,347.6 367.2,348.3 367.7,348.2 368.2,347.7 368.7,347.9 369.2,347.8 369.7,347.9 370.2,347.7 370.7,347.4 371.2,347.7 371.7,347.6 372.2,347.5 372.7,347.9 373.2,347.9 373.7,347.7 374.2,348.1 374.7,348.1 375.2,347.6 375.7,347.6 376.2,347.3 376.7,346.8 377.2,347.2 377.7,347.5 378.2,346.9 378.8,347.1 379.3,347.8 379.8,347.8 380.3,348.0 380.8,348.2 381.3,347.8 381.8,347.6 382.3,347.6 382.8,347.3 383.3,347.6 383.8,347.7 384.3,347.6 384.8,347.7 385.3,347.9 385.8,347.6 386.3,347.5 386.8,347.5 387.3,347.2 387.8,347.0 388.3,347.5 388.8,348.0 389.3,347.8 389.8,347.5 390.3,347.2 390.8,347.5 391.3,347.8 391.8,347.5 392.3,347.1 392.8,346.8 393.3,347.4 393.8,347.7 394.3,347.7 394.8,347.4 395.3,347.1 395.8,347.4 396.3,347.6 396.8,347.5 397.3,347.1 397.8,347.3 398.3,347.6 398.8,347.4 399.3,347.3 399.8,347.2 400.3,347.5 400.8,347.7 401.3,347.9 401.8,347.7 402.3,346.9 402.8,347.4 403.3,347.8 403.8,347.0 404.3,346.9 404.8,347.5 405.4,347.1 405.9,347.0 406.4,346.8 406.9,346.6 407.4,347.0 407.9,346.7 408.4,346.4 408.9,346.2 409.4,345.9 409.9,345.9 410.4,345.4 410.9,344.9 411.4,344.8 411.9,344.5 412.4,344.0 412.9,343.3 413.4,342.4 413.9,341.9 414.4,342.2 414.9,342.8 415.4,343.6 415.9,344.4 416.4,344.6 416.9,345.4 417.4,346.0 417.9,345.6 418.4,345.9 418.9,346.2 419.4,346.4 419.9,346.7 420.4,346.8 420.9,347.1 421.4,347.0 421.9,347.1 422.4,346.8 422.9,346.6 423.4,346.6 423.9,346.8 424.4,346.7 424.9,346.5 425.4,346.9 425.9,347.4 426.4,347.3 426.9,347.0 427.4,347.1 427.9,347.1 428.4,347.0 428.9,347.2 429.4,347.3 429.9,347.2 430.4,347.2 430.9,347.4 431.4,347.6 432.0,347.5" stroke="#101010"/>
<path d="M259.8,341.1 260.3,340.6 260.8,341.0 261.3,341.8 261.8,341.8 262.3,341.7 262.8,341.8 263.3,341.5 263.8,341.6 264.3,341.5 264.8,341.1 265.3,340.9 265.8,340.6 266.3,340.8 266.8,340.6 267.3,341.0 267.8,341.5 268.3,341.3 268.8,341.2 269.3,341.0 269.8,341.2 270.3,341.0 270.8,340.6 271.3,340.9 271.8,341.1 272.3,341.4 272.8,342.0 273.4,341.8 273.9,341.1 274.4,341.0 274.9,341.3 275.4,341.4 275.9,340.6 276.4,340.2 276.9,340.4 277.4,340.5 277.9,340.3 278.4,339.7 278.9,339.4 279.4,339.4 279.9,339.0 280.4,338.3 280.9,337.4 281.4,336.6 281.9,337.4 282.4,338.6 282.9,338.8 283.4,339.3 283.9,339.8 284.4,340.1 284.9,340.8 285.4,340.9 285.9,340.8 286.4,341.4 286.9,341.7 287.4,341.4 287.9,340.8 288.4,340.9 288.9,341.3 289.4,341.0 289.9,341.0 290.4,341.3 290.9,340.9 291.4,340.6 291.9,341.6 292.4,341.7 292.9,341.0 293.4,341.0 293.9,341.1 294.4,341.2 294.9,340.7 295.4,340.5 295.9,340.6 296.4,340.7 296.9,340.9 297.4,341.0 297.9,341.5 298.4,341.1 298.9,340.8 299.5,341.3 300.0,341.3 300.5,341.3 301.0,341.8 301.5,341.9 302.0,341.7 302.5,342.0 303.0,342.1 303.5,342.3 304.0,341.7 304.5,341.4 305.0,341.6 305.5,341.5 306.0,341.8 306.5,341.9 307.0,341.9 307.5,341.8 308.0,342.0 308.5,342.1 309.0,341.3 309.5,340.9 310.0,340.9 310.5,341.1 311.0,341.6 311.5,341.5 312.0,341.1 312.5,341.2 313.0,341.7 313.5,341.6 314.0,341.0 314.5,340.9 315.0,341.3 315.5,341.3 316.0,341.3 316.5,341.4 317.0,341.2 317.5,341.1 318.0,341.3 318.5,341.3 319.0,341.5 319.5,341.8 320.0,341.5 320.5,341.4 321.0,341.3 321.5,341.6 322.0,341.4 322.5,341.0 323.0,340.9 323.5,341.4 324.0,342.2 324.5,341.2 325.0,340.7 325.5,340.9 326.1,340.9 326.6,340.9 327.1,340.7 327.6,340.9 328.1,340.9 328.6,340.3 329.1,340.0 329.6,340.3 330.1,340.0 330.6,339.3 331.1,339.0 331.6,338.6 332.1,337.6 332.6,336.1 333.1,334.7 333.6,335.0 334.1,336.6 334.6,337.5 335.1,338.8 335.6,339.6 336.1,339.5 336.6,339.9 337.1,340.4 337.6,340.4 338.1,340.1 338.6,340.4 339.1,340.9 339.6,341.0 340.1,340.6 340.6,340.3 341.1,340.7 341.6,341.3 342.1,341.7 342.6,341.5 343.1,341.4 343.6,341.2 344.1,341.5 344.6,341.6 345.1,341.2 345.6,341.6 346.1,341.2 346.6,340.7 347.1,341.1 347.6,341.5 348.1,341.9 348.6,341.4 349.1,340.9 349.6,341.8 350.1,341.7 350.6,341.0 351.1,341.1 351.6,341.5 352.1,341.6 352.7,341.5 353.2,341.4 353.7,340.9 354.2,340.8 354.7,341.0 355.2,341.3 355.7,341.8 356.2,341.7 356.7,341.2 357.2,340.9 357.7,341.1 358.2,341.4 358.7,341.5 359.2,342.0 359.7,341.8 360.2,341.4 360.7,341.5 361.2,341.6 361.7,341.9 362.2,341.9 362.7,341.1 363.2,341.1 363.7,341.3 364.2,341.2 364.7,341.5 365.2,341.6 365.7,341.6 366.2,341.0 366.7,340.7 367.2,341.7 367.7,342.1 368.2,341.5 368.7,341.0 369.2,341.2 369.7,341.7 370.2,341.9 370.7,341.9 371.2,341.5 371.7,341.3 372.2,341.1 372.7,340.9 373.2,341.4 373.7,341.2 374.2,341.6 374.7,342.2 375.2,341.8 375.7,341.3 376.2,341.0 376.7,341.1 377.2,341.8 377.7,342.0 378.2,341.8 378.8,341.4 379.3,341.3 379.8,341.4 380.3,340.9 380.8,341.0 381.3,341.3 381.8,341.4 382.3,341.5 382.8,341.4 383.3,341.4 383.8,341.4 384.3,341.5 384.8,341.1 385.3,341.2 385.8,341.5 386.3,341.5 386.8,342.0 387.3,341.7 387.8,341.1 388.3,341.7 388.8,341.9 389.3,342.0 389.8,341.7 390.3,341.0 390.8,340.8 391.3,341.4 391.8,342.1 392.3,341.7 392.8,340.9 393.3,341.0 393.8,341.1 394.3,341.5 394.8,341.7 395.3,341.3 395.8,341.4 396.3,341.5 396.8,341.2 397.3,341.3 397.8,341.7 398.3,341.4 398.8,341.1 399.3,341.5 399.8,341.4 400.3,341.3 400.8,341.2 401.3,341.1 401.8,341.3 402.3,341.4 402.8,341.3 403.3,341.1 403.8,340.6 404.3,340.6 404.8,341.3 405.4,340.8 405.9,340.9 406.4,340.9 406.9,340.6 407.4,340.6 407.9,340.3 408.4,340.4 408.9,340.2 409.4,340.2 409.9,340.0 410.4,339.9 410.9,339.6 411.4,339.4 411.9,339.2 412.4,338.6 412.9,337.8 413.4,336.7 413.9,336.5 414.4,337.2 414.9,337.9 415.4,338.5 415.9,338.6 416.4,339.2 416.9,339.7 417.4,340.0 417.9,340.1 418.4,340.6 418.9,340.7 419.4,340.1 419.9,340.6 420.4,340.9 420.9,341.0 421.4,340.8 421.9,340.5 422.4,340.1 422.9,340.4 423.4,341.3 423.9,341.4 424.4,341.5 424.9,341.4 425.4,341.1 425.9,340.9 426.4,340.9 426.9,341.2 427.4,341.1 427.9,340.8 428.4,341.0 428.9,341.4 429.4,341.8 429.9,341.7 430.4,341.6 430.9,342.0 431.4,341.6 432.0,341.1" stroke="#e62222"/>
<path d="M259.8,335.2 260.3,335.0 260.8,334.9 261.3,334.9 261.8,335.2 262.3,335.5 262.8,335.5 263.3,334.9 263.8,335.4 264.3,335.9 264.8,335.4 265.3,334.9 265.8,335.2 266.3,335.7 266.8,335.4 267.3,334.5 267.8,334.8 268.3,335.5 268.8,335.1 269.3,335.2 269.8,335.3 270.3,335.0 270.8,335.2 271.3,335.2 271.8,334.6 272.3,334.7 272.8,335.1 273.4,335.3 273.9,335.1 274.4,334.6 274.9,334.6 275.4,334.7 275.9,334.0 276.4,334.1 276.9,334.9 277.4,334.4 277.9,334.0 278.4,333.7 278.9,333.0 279.4,332.6 279.9,332.2 280.4,331.1 280.9,329.8 281.4,329.4 281.9,330.5 282.4,331.5 282.9,332.4 283.4,333.4 283.9,333.6 284.4,333.8 284.9,334.4 285.4,334.3 285.9,334.5 286.4,334.8 286.9,335.0 287.4,335.4 287.9,335.2 288.4,334.5 288.9,334.8 289.4,335.0 289.9,334.5 290.4,334.5 290.9,335.0 291.4,335.6 291.9,334.9 292.4,334.8 292.9,335.2 293.4,335.1 293.9,334.9 294.4,335.2 294.9,335.4 295.4,335.2 295.9,335.1 296.4,335.4 296.9,335.2 297.4,334.8 297.9,335.2 298.4,335.5 298.9,335.2 299.5,335.7 300.0,335.9 300.5,335.4 301.0,335.6 301.5,335.3 302.0,335.1 302.5,334.5 303.0,334.7 303.5,335.3 304.0,335.6 304.5,335.4 305.0,335.2 305.5,335.4 306.0,335.0 306.5,334.8 307.0,334.9 307.5,334.9 308.0,335.1 308.5,335.7 309.0,335.9 309.5,335.6 310.0,334.7 310.5,334.9 311.0,335.4 311.5,335.4 312.0,335.3 312.5,335.6 313.0,335.6 313.5,334.9 314.0,335.2 314.5,335.7 315.0,335.8 315.5,335.4 316.0,334.8 316.5,335.2 317.0,335.9 317.5,335.6 318.0,335.2 318.5,335.1 319.0,335.3 319.5,335.3 320.0,334.8 320.5,335.4 321.0,335.7 321.5,335.1 322.0,334.9 322.5,335.1 323.0,335.8 323.5,335.8 324.0,335.6 324.5,335.6 325.0,334.9 325.5,334.9 326.1,335.1 326.6,335.2 327.1,334.9 327.6,334.7 328.1,335.1 328.6,334.4 329.1,333.9 329.6,334.0 330.1,334.4 330.6,333.9 331.1,332.7 331.6,332.5 332.1,332.2 332.6,331.3 333.1,329.9 333.6,330.3 334.1,331.5 334.6,331.7 335.1,332.5 335.6,333.0 336.1,333.4 336.6,334.2 337.1,334.2 337.6,334.3 338.1,334.6 338.6,334.8 339.1,335.2 339.6,335.2 340.1,334.8 340.6,334.6 341.1,334.8 341.6,335.0 342.1,335.3 342.6,335.4 343.1,335.3 343.6,335.3 344.1,335.2 344.6,335.1 345.1,334.9 345.6,334.8 346.1,335.0 346.6,335.5 347.1,335.8 347.6,335.5 348.1,335.3 348.6,335.1 349.1,335.6 349.6,335.7 350.1,335.3 350.6,335.4 351.1,335.6 351.6,335.5 352.1,335.3 352.7,335.3 353.2,335.7 353.7,336.1 354.2,335.2 354.7,335.0 355.2,335.5 355.7,335.6 356.2,335.8 356.7,335.4 357.2,334.7 357.7,334.8 358.2,334.9 358.7,335.0 359.2,335.0 359.7,334.9 360.2,334.9 360.7,335.1 361.2,335.4 361.7,335.5 362.2,335.6 362.7,335.9 363.2,335.4 363.7,334.7 364.2,334.9 364.7,335.0 365.2,335.1 365.7,335.2 366.2,335.6 366.7,335.7 367.2,335.8 367.7,336.0 368.2,335.6 368.7,335.5 369.2,335.7 369.7,335.3 370.2,334.9 370.7,335.3 371.2,335.8 371.7,335.8 372.2,335.3 372.7,335.6 373.2,335.7 373.7,335.2 374.2,335.5 374.7,335.3 375.2,335.2 375.7,335.5 376.2,335.2 376.7,335.5 377.2,335.4 377.7,335.2 378.2,335.8 378.8,335.2 379.3,334.2 379.8,334.3 380.3,335.3 380.8,336.1 381.3,335.8 381.8,335.3 382.3,335.5 382.8,335.6 383.3,335.6 383.8,335.3 384.3,335.2 384.8,335.5 385.3,335.9 385.8,335.8 386.3,335.7 386.8,335.5 387.3,335.2 387.8,335.9 388.3,335.9 388.8,335.7 389.3,335.5 389.8,335.1 390.3,335.0 390.8,335.3 391.3,335.4 391.8,335.6 392.3,335.6 392.8,335.3 393.3,335.4 393.8,335.3 394.3,335.1 394.8,335.2 395.3,335.5 395.8,335.0 396.3,335.0 396.8,335.5 397.3,335.6 397.8,335.5 398.3,335.3 398.8,335.1 399.3,335.2 399.8,335.1 400.3,335.2 400.8,334.9 401.3,334.9 401.8,335.1 402.3,334.9 402.8,335.4 403.3,335.2 403.8,335.0 404.3,335.0 404.8,335.3 405.4,335.9 405.9,335.9 406.4,335.9 406.9,335.4 407.4,335.0 407.9,335.0 408.4,335.0 408.9,334.9 409.4,334.5 409.9,334.1 410.4,334.0 410.9,333.8 411.4,333.3 411.9,333.0 412.4,333.3 412.9,333.1 413.4,332.3 413.9,331.8 414.4,331.8 414.9,332.2 415.4,333.2 415.9,333.4 416.4,333.4 416.9,333.8 417.4,333.9 417.9,334.5 418.4,334.9 418.9,334.7 419.4,334.3 419.9,334.7 420.4,335.3 420.9,335.7 421.4,335.7 421.9,335.4 422.4,335.3 422.9,335.0 423.4,335.1 423.9,335.5 424.4,335.5 424.9,335.3 425.4,335.2 425.9,335.2 426.4,335.3 426.9,335.2 427.4,335.2 427.9,335.6 428.4,335.6 428.9,334.9 429.4,335.1 429.9,335.0 430.4,334.9 430.9,335.3 431.4,335.6 432.0,335.8" stroke="#2626e6"/>
<path d="M259.8,329.0 260.3,329.3 260.8,329.8 261.3,329.4 261.8,329.2 262.3,329.6 262.8,330.0 263.3,329.5 263.8,329.2 264.3,329.1 264.8,329.2 265.3,329.2 265.8,328.8 266.3,329.3 266.8,329.3 267.3,328.8 267.8,328.7 268.3,329.0 268.8,329.3 269.3,329.2 269.8,329.2 270.3,329.0 270.8,328.8 271.3,329.2 271.8,329.2 272.3,329.2 272.8,329.6 273.4,329.5 273.9,329.1 274.4,328.7 274.9,328.7 275.4,328.5 275.9,327.9 276.4,328.1 276.9,328.3 277.4,327.8 277.9,327.9 278.4,327.7 278.9,327.0 279.4,326.2 279.9,325.6 280.4,324.2 280.9,322.4 281.4,321.8 281.9,322.5 282.4,324.5 282.9,325.8 283.4,326.2 283.9,327.1 284.4,327.7 284.9,327.9 285.4,328.4 285.9,328.3 286.4,328.4 286.9,329.2 287.4,328.9 287.9,328.6 288.4,328.8 288.9,328.7 289.4,328.9 289.9,329.1 290.4,329.7 290.9,329.7 291.4,329.4 291.9,329.2 292.4,329.2 292.9,329.5 293.4,329.3 293.9,329.4 294.4,329.6 294.9,329.5 295.4,329.3 295.9,329.5 296.4,329.4 296.9,329.1 297.4,329.4 297.9,329.3 298.4,329.0 298.9,328.8 299.5,329.3 300.0,329.2 300.5,329.0 301.0,329.0 301.5,329.3 302.0,329.6 302.5,329.4 303.0,329.6 303.5,329.7 304.0,329.2 304.5,328.9 305.0,328.9 305.5,329.1 306.0,329.4 306.5,329.0 307.0,329.2 307.5,329.9 308.0,329.8 308.5,329.5 309.0,329.4 309.5,329.3 310.0,329.5 310.5,329.5 311.0,328.8 311.5,328.7 312.0,329.2 312.5,329.6 313.0,329.2 313.5,329.5 314.0,329.9 314.5,329.9 315.0,329.8 315.5,328.9 316.0,329.0 316.5,329.2 317.0,329.3 317.5,329.7 318.0,329.6 318.5,329.2 319.0,329.3 319.5,329.7 320.0,329.4 320.5,328.9 321.0,328.9 321.5,328.8 322.0,328.8 322.5,329.2 323.0,329.0 323.5,329.1 324.0,329.5 324.5,329.3 325.0,329.5 325.5,329.7 326.1,329.5 326.6,329.2 327.1,328.7 327.6,328.4 328.1,328.6 328.6,328.7 329.1,328.7 329.6,328.9 330.1,328.6 330.6,328.2 331.1,327.8 331.6,327.4 332.1,327.2 332.6,326.2 333.1,325.3 333.6,325.8 334.1,326.2 334.6,326.6 335.1,327.4 335.6,327.8 336.1,328.3 336.6,329.2 337.1,329.3 337.6,328.9 338.1,328.8 338.6,329.1 339.1,329.1 339.6,328.9 340.1,328.7 340.6,328.9 341.1,329.3 341.6,329.1 342.1,329.0 342.6,328.8 343.1,328.8 343.6,329.4 344.1,329.2 344.6,329.3 345.1,329.6 345.6,328.8 346.1,329.1 346.6,329.5 347.1,329.3 347.6,329.6 348.1,329.5 348.6,329.5 349.1,329.5 349.6,329.1 350.1,329.0 350.6,328.8 351.1,328.9 351.6,329.1 352.1,329.3 352.7,329.4 353.2,329.2 353.7,329.0 354.2,329.1 354.7,329.3 355.2,329.1 355.7,329.4 356.2,329.8 356.7,329.5 357.2,329.1 357.7,329.4 358.2,329.9 358.7,329.9 359.2,329.5 359.7,329.0 360.2,328.8 360.7,328.5 361.2,329.1 361.7,329.7 362.2,329.6 362.7,329.8 363.2,329.6 363.7,329.5 364.2,329.5 364.7,329.4 365.2,329.8 365.7,329.6 366.2,329.1 366.7,329.4 367.2,330.0 367.7,330.4 368.2,330.3 368.7,329.6 369.2,329.2 369.7,329.2 370.2,329.4 370.7,330.0 371.2,329.9 371.7,329.5 372.2,329.6 372.7,329.7 373.2,330.1 373.7,329.7 374.2,329.1 374.7,329.6 375.2,330.0 375.7,329.9 376.2,329.4 376.7,329.1 377.2,329.3 377.7,329.2 378.2,329.1 378.8,329.6 379.3,329.5 379.8,329.3 380.3,329.6 380.8,329.3 381.3,329.0 381.8,329.6 382.3,329.6 382.8,329.2 383.3,329.4 383.8,329.6 384.3,329.7 384.8,330.0 385.3,329.7 385.8,329.2 386.3,329.4 386.8,329.4 387.3,329.4 387.8,329.6 388.3,329.4 388.8,329.2 389.3,329.0 389.8,329.2 390.3,329.4 390.8,329.4 391.3,329.4 391.8,329.1 392.3,329.0 392.8,329.5 393.3,329.7 393.8,329.6 394.3,329.6 394.8,329.6 395.3,329.6 395.8,329.5 396.3,329.3 396.8,329.5 397.3,329.5 397.8,329.3 398.3,329.2 398.8,329.1 399.3,329.2 399.8,329.2 400.3,329.0 400.8,329.1 401.3,329.7 401.8,329.6 402.3,329.4 402.8,330.0 403.3,329.7 403.8,329.2 404.3,329.2 404.8,329.1 405.4,329.2 405.9,329.0 406.4,328.9 406.9,329.2 407.4,329.2 407.9,329.5 408.4,329.4 408.9,329.2 409.4,329.2 409.9,328.8 410.4,328.8 410.9,328.9 411.4,328.4 411.9,328.5 412.4,328.7 412.9,328.2 413.4,328.2 413.9,327.6 414.4,327.3 414.9,327.3 415.4,327.4 415.9,328.0 416.4,328.3 416.9,328.8 417.4,329.4 417.9,328.8 418.4,328.4 418.9,329.0 419.4,329.2 419.9,329.0 420.4,328.8 420.9,328.8 421.4,329.2 421.9,329.2 422.4,329.1 422.9,329.2 423.4,329.2 423.9,330.1 424.4,329.6 424.9,329.1 425.4,329.3 425.9,328.9 426.4,329.3 426.9,329.7 427.4,329.2 427.9,328.8 428.4,329.0 428.9,329.0 429.4,329.1 429.9,329.1 430.4,329.6 430.9,329.8 431.4,329.4 432.0,329.5" stroke="#ee22ee"/>
<path d="M259.8,323.4 260.3,323.4 260.8,323.0 261.3,322.6 261.8,323.3 262.3,323.6 262.8,322.7 263.3,323.1 263.8,323.8 264.3,323.2 264.8,322.9 265.3,323.3 265.8,323.3 266.3,323.0 266.8,323.0 267.3,323.0 267.8,323.0 268.3,323.0 268.8,322.9 269.3,322.9 269.8,323.0 270.3,322.8 270.8,322.8 271.3,323.1 271.8,323.3 272.3,323.3 272.8,322.9 273.4,322.7 273.9,322.5 274.4,322.7 274.9,322.9 275.4,322.9 275.9,322.7 276.4,321.9 276.9,321.5 277.4,321.6 277.9,321.3 278.4,320.7 278.9,320.5 279.4,320.1 279.9,319.0 280.4,317.2 280.9,315.0 281.4,314.3 281.9,315.7 282.4,317.2 282.9,318.6 283.4,319.8 283.9,320.4 284.4,320.7 284.9,321.5 285.4,321.9 285.9,321.8 286.4,322.2 286.9,322.5 287.4,322.8 287.9,322.4 288.4,322.1 288.9,322.8 289.4,323.0 289.9,322.9 290.4,322.7 290.9,322.5 291.4,322.7 291.9,322.8 292.4,323.0 292.9,323.2 293.4,323.5 293.9,323.5 294.4,322.9 294.9,322.5 295.4,323.0 295.9,323.5 296.4,323.5 296.9,323.5 297.4,323.6 297.9,323.6 298.4,323.2 298.9,322.9 299.5,322.7 300.0,322.9 300.5,323.7 301.0,323.8 301.5,323.6 302.0,323.6 302.5,323.5 303.0,323.2 303.5,323.2 304.0,323.5 304.5,322.9 305.0,322.9 305.5,323.7 306.0,323.5 306.5,323.0 307.0,323.1 307.5,323.0 308.0,323.3 308.5,323.7 309.0,323.5 309.5,323.6 310.0,323.9 310.5,323.2 311.0,323.3 311.5,323.5 312.0,323.0 312.5,323.1 313.0,323.4 313.5,323.1 314.0,323.3 314.5,323.2 315.0,323.1 315.5,323.5 316.0,323.5 316.5,323.8 317.0,323.3 317.5,323.0 318.0,323.1 318.5,323.5 319.0,323.6 319.5,323.6 320.0,323.5 320.5,323.2 321.0,323.0 321.5,323.0 322.0,323.3 322.5,323.2 323.0,323.2 323.5,323.0 324.0,322.9 324.5,322.9 325.0,323.0 325.5,323.1 326.1,322.9 326.6,323.3 327.1,323.2 327.6,323.0 328.1,323.5 328.6,323.2 329.1,322.5 329.6,322.3 330.1,322.6 330.6,323.0 331.1,323.2 331.6,322.7 332.1,321.7 332.6,321.0 333.1,320.0 333.6,320.1 334.1,321.2 334.6,322.0 335.1,322.4 335.6,322.6 336.1,322.5 336.6,322.6 337.1,322.8 337.6,322.8 338.1,322.8 338.6,322.8 339.1,322.6 339.6,323.0 340.1,323.4 340.6,323.2 341.1,323.2 341.6,323.0 342.1,322.8 342.6,323.2 343.1,323.0 343.6,322.7 344.1,323.0 344.6,323.2 345.1,323.2 345.6,323.2 346.1,323.6 346.6,323.5 347.1,323.5 347.6,323.8 348.1,323.4 348.6,323.0 349.1,323.3 349.6,323.2 350.1,322.8 350.6,322.8 351.1,323.0 351.6,323.3 352.1,323.0 352.7,323.1 353.2,323.3 353.7,323.0 354.2,322.7 354.7,322.9 355.2,323.2 355.7,323.1 356.2,323.2 356.7,323.0 357.2,322.8 357.7,322.7 358.2,322.9 358.7,323.2 359.2,323.3 359.7,323.6 360.2,323.1 360.7,323.1 361.2,323.8 361.7,323.9 362.2,323.6 362.7,323.9 363.2,323.7 363.7,323.1 364.2,323.3 364.7,323.2 365.2,323.6 365.7,323.6 366.2,323.2 366.7,322.8 367.2,322.8 367.7,323.3 368.2,323.3 368.7,323.4 369.2,323.5 369.7,323.3 370.2,323.1 370.7,323.2 371.2,323.2 371.7,323.4 372.2,323.1 372.7,323.1 373.2,323.4 373.7,323.2 374.2,323.1 374.7,323.2 375.2,323.1 375.7,323.0 376.2,323.0 376.7,322.6 377.2,322.8 377.7,323.2 378.2,323.8 378.8,323.9 379.3,323.1 379.8,323.2 380.3,323.4 380.8,323.3 381.3,323.8 381.8,323.6 382.3,323.3 382.8,323.8 383.3,323.4 383.8,323.0 384.3,323.1 384.8,323.2 385.3,323.4 385.8,323.3 386.3,323.3 386.8,323.5 387.3,323.5 387.8,323.8 388.3,323.4 388.8,323.3 389.3,323.1 389.8,323.3 390.3,323.4 390.8,323.1 391.3,323.2 391.8,323.0 392.3,323.6 392.8,323.6 393.3,323.2 393.8,323.6 394.3,323.3 394.8,323.0 395.3,323.1 395.8,322.9 396.3,322.8 396.8,323.1 397.3,323.5 397.8,323.2 398.3,323.1 398.8,323.8 399.3,323.2 399.8,322.4 400.3,323.2 400.8,323.6 401.3,323.5 401.8,323.5 402.3,323.2 402.8,323.7 403.3,323.4 403.8,323.2 404.3,323.4 404.8,323.3 405.4,323.0 405.9,322.6 406.4,323.1 406.9,323.8 407.4,323.6 407.9,323.3 408.4,323.1 408.9,322.5 409.4,322.8 409.9,322.9 410.4,323.2 410.9,323.2 411.4,322.5 411.9,322.9 412.4,323.0 412.9,322.5 413.4,322.4 413.9,322.4 414.4,322.6 414.9,322.5 415.4,322.6 415.9,322.8 416.4,323.2 416.9,323.3 417.4,322.8 417.9,323.0 418.4,323.2 418.9,323.6 419.4,323.9 419.9,323.5 420.4,323.3 420.9,322.8 421.4,322.6 421.9,323.3 422.4,323.0 422.9,323.1 423.4,323.8 423.9,323.7 424.4,323.5 424.9,322.7 425.4,322.8 425.9,323.2 426.4,323.5 426.9,323.7 427.4,322.8 427.9,322.4 428.4,322.8 428.9,322.8 429.4,322.8 429.9,323.1 430.4,323.4 430.9,323.9 431.4,323.8 432.0,323.5" stroke="#1f9d2b"/>
<path d="M259.8,317.4 260.3,317.2 260.8,316.6 261.3,316.8 261.8,317.5 262.3,317.8 262.8,317.2 263.3,316.7 263.8,316.9 264.3,316.9 264.8,316.7 265.3,316.8 265.8,317.0 266.3,317.1 266.8,317.6 267.3,317.5 267.8,317.0 268.3,316.9 268.8,317.0 269.3,317.0 269.8,316.8 270.3,316.9 270.8,317.2 271.3,317.2 271.8,316.9 272.3,316.5 272.8,316.1 273.4,316.2 273.9,316.4 274.4,316.1 274.9,316.3 275.4,316.3 275.9,316.0 276.4,316.1 276.9,315.6 277.4,315.3 277.9,315.0 278.4,314.8 278.9,314.3 279.4,313.5 279.9,312.4 280.4,309.9 280.9,307.8 281.4,307.7 281.9,309.2 282.4,311.3 282.9,312.3 283.4,313.2 283.9,313.8 284.4,314.2 284.9,314.9 285.4,315.1 285.9,315.8 286.4,316.1 286.9,315.8 287.4,316.0 287.9,316.9 288.4,316.5 288.9,316.3 289.4,316.9 289.9,316.4 290.4,316.8 290.9,317.3 291.4,316.8 291.9,316.6 292.4,316.6 292.9,317.0 293.4,317.0 293.9,316.9 294.4,317.1 294.9,317.2 295.4,316.9 295.9,316.7 296.4,317.2 296.9,317.2 297.4,317.1 297.9,317.3 298.4,317.5 298.9,317.2 299.5,316.8 300.0,316.8 300.5,317.3 301.0,317.2 301.5,316.9 302.0,316.4 302.5,316.6 303.0,316.9 303.5,316.7 304.0,316.8 304.5,317.1 305.0,317.2 305.5,317.4 306.0,317.4 306.5,316.9 307.0,316.5 307.5,316.8 308.0,317.3 308.5,317.4 309.0,317.3 309.5,317.5 310.0,317.7 310.5,317.7 311.0,316.7 311.5,316.7 312.0,317.2 312.5,316.8 313.0,316.9 313.5,316.9 314.0,317.3 314.5,317.1 315.0,316.3 315.5,316.7 316.0,317.4 316.5,317.6 317.0,317.7 317.5,317.4 318.0,316.8 318.5,316.6 319.0,317.1 319.5,317.3 320.0,316.8 320.5,317.1 321.0,317.4 321.5,317.3 322.0,316.6 322.5,316.9 323.0,317.6 323.5,317.4 324.0,317.3 324.5,316.9 325.0,317.0 325.5,317.7 326.1,317.9 326.6,317.6 327.1,317.3 327.6,316.9 328.1,317.2 328.6,317.0 329.1,317.1 329.6,317.2 330.1,316.4 330.6,316.6 331.1,316.6 331.6,315.7 332.1,315.7 332.6,315.4 333.1,315.2 333.6,315.2 334.1,315.6 334.6,316.3 335.1,316.2 335.6,316.4 336.1,316.9 336.6,317.0 337.1,316.9 337.6,317.1 338.1,317.6 338.6,317.5 339.1,316.8 339.6,317.0 340.1,317.4 340.6,317.3 341.1,317.1 341.6,317.4 342.1,317.3 342.6,316.5 343.1,316.6 343.6,317.1 344.1,317.1 344.6,317.0 345.1,317.2 345.6,317.3 346.1,317.3 346.6,317.2 347.1,316.7 347.6,316.8 348.1,316.7 348.6,317.0 349.1,317.3 349.6,317.2 350.1,317.4 350.6,317.3 351.1,317.7 351.6,317.8 352.1,317.2 352.7,317.1 353.2,317.5 353.7,318.0 354.2,317.5 354.7,317.4 355.2,317.0 355.7,316.7 356.2,317.1 356.7,317.2 357.2,317.5 357.7,317.4 358.2,317.3 358.7,317.0 359.2,316.9 359.7,317.2 360.2,317.0 360.7,316.8 361.2,317.5 361.7,317.3 362.2,317.2 362.7,317.9 363.2,317.6 363.7,317.5 364.2,317.0 364.7,316.8 365.2,317.5 365.7,317.6 366.2,317.6 366.7,317.6 367.2,317.4 367.7,317.1 368.2,317.2 368.7,317.6 369.2,317.8 369.7,317.2 370.2,316.9 370.7,317.2 371.2,317.2 371.7,317.6 372.2,317.9 372.7,317.4 373.2,317.2 373.7,317.0 374.2,317.0 374.7,317.2 375.2,317.2 375.7,317.5 376.2,317.6 376.7,317.0 377.2,316.8 377.7,317.2 378.2,317.4 378.8,316.9 379.3,316.5 379.8,316.5 380.3,316.5 380.8,317.0 381.3,317.4 381.8,317.7 382.3,317.4 382.8,316.7 383.3,316.5 383.8,316.9 384.3,317.1 384.8,316.7 385.3,317.1 385.8,317.2 386.3,317.5 386.8,317.6 387.3,317.5 387.8,317.6 388.3,317.3 388.8,317.3 389.3,317.2 389.8,317.3 390.3,317.6 390.8,317.5 391.3,317.4 391.8,317.2 392.3,317.0 392.8,317.1 393.3,317.5 393.8,317.3 394.3,316.8 394.8,316.6 395.3,317.5 395.8,317.7 396.3,317.3 396.8,317.4 397.3,317.1 397.8,317.0 398.3,317.3 398.8,317.6 399.3,317.6 399.8,317.4 400.3,317.4 400.8,316.9 401.3,317.2 401.8,317.5 402.3,317.1 402.8,317.5 403.3,317.8 403.8,317.7 404.3,317.7 404.8,317.4 405.4,317.3 405.9,317.0 406.4,316.7 406.9,317.0 407.4,316.9 407.9,316.5 408.4,316.8 408.9,317.3 409.4,317.1 409.9,316.8 410.4,317.4 410.9,317.6 411.4,316.5 411.9,316.5 412.4,316.6 412.9,316.0 413.4,316.2 413.9,316.2 414.4,316.4 414.9,317.4 415.4,317.6 415.9,316.8 416.4,316.1 416.9,316.3 417.4,317.4 417.9,317.5 418.4,317.6 418.9,317.6 419.4,316.8 419.9,317.0 420.4,317.6 420.9,317.5 421.4,317.4 421.9,317.1 422.4,317.0 422.9,316.9 423.4,317.3 423.9,317.2 424.4,316.8 424.9,317.3 425.4,317.6 425.9,317.5 426.4,317.8 426.9,317.2 427.4,316.6 427.9,317.1 428.4,316.9 428.9,317.0 429.4,317.3 429.9,317.0 430.4,317.2 430.9,317.7 431.4,317.8 432.0,317.8" stroke="#1e1e8e"/>
<path d="M259.8,310.9 260.3,311.0 260.8,310.8 261.3,310.8 261.8,311.1 262.3,311.3 262.8,311.1 263.3,310.4 263.8,310.6 264.3,311.5 264.8,311.4 265.3,310.9 265.8,311.0 266.3,310.7 266.8,310.8 267.3,311.1 267.8,310.5 268.3,310.5 268.8,310.5 269.3,310.4 269.8,310.8 270.3,311.0 270.8,310.5 271.3,310.7 271.8,311.1 272.3,310.8 272.8,310.9 273.4,310.4 273.9,310.5 274.4,311.0 274.9,310.3 275.4,309.5 275.9,309.7 276.4,310.0 276.9,310.0 277.4,309.5 277.9,308.8 278.4,308.3 278.9,307.7 279.4,307.0 279.9,305.9 280.4,304.3 280.9,302.3 281.4,301.5 281.9,302.9 282.4,305.1 282.9,306.7 283.4,307.8 283.9,308.3 284.4,308.7 284.9,309.4 285.4,309.7 285.9,310.0 286.4,310.3 286.9,310.1 287.4,309.9 287.9,310.0 288.4,310.4 288.9,310.6 289.4,311.0 289.9,310.9 290.4,310.7 290.9,310.7 291.4,310.3 291.9,310.2 292.4,310.2 292.9,310.9 293.4,310.5 293.9,310.1 294.4,310.4 294.9,310.3 295.4,310.6 295.9,311.6 296.4,311.6 296.9,311.2 297.4,311.0 297.9,311.0 298.4,311.0 298.9,311.1 299.5,311.0 300.0,310.7 300.5,311.1 301.0,310.9 301.5,310.4 302.0,310.6 302.5,311.1 303.0,311.2 303.5,311.0 304.0,311.2 304.5,311.2 305.0,311.2 305.5,311.5 306.0,311.5 306.5,311.4 307.0,311.4 307.5,311.2 308.0,311.0 308.5,311.1 309.0,311.2 309.5,311.5 310.0,311.2 310.5,310.3 311.0,310.7 311.5,311.1 312.0,310.9 312.5,311.0 313.0,311.0 313.5,311.1 314.0,311.3 314.5,311.2 315.0,311.3 315.5,311.6 316.0,311.2 316.5,310.9 317.0,311.3 317.5,311.6 318.0,311.5 318.5,311.4 319.0,311.3 319.5,311.0 320.0,311.0 320.5,310.8 321.0,310.8 321.5,310.9 322.0,310.7 322.5,310.7 323.0,311.5 323.5,311.3 324.0,310.7 324.5,310.9 325.0,310.5 325.5,310.7 326.1,310.9 326.6,311.4 327.1,311.1 327.6,310.6 328.1,311.0 328.6,310.9 329.1,310.7 329.6,311.0 330.1,310.6 330.6,310.0 331.1,310.3 331.6,309.8 332.1,309.2 332.6,308.9 333.1,308.9 333.6,308.8 334.1,309.0 334.6,309.9 335.1,310.4 335.6,310.3 336.1,310.6 336.6,310.6 337.1,310.6 337.6,310.7 338.1,310.6 338.6,310.7 339.1,311.1 339.6,311.2 340.1,310.8 340.6,310.8 341.1,311.1 341.6,311.1 342.1,311.1 342.6,311.2 343.1,310.8 343.6,310.4 344.1,310.3 344.6,310.6 345.1,311.1 345.6,311.3 346.1,310.9 346.6,310.9 347.1,310.8 347.6,310.9 348.1,311.0 348.6,311.3 349.1,311.6 349.6,311.1 350.1,311.0 350.6,311.0 351.1,311.4 351.6,311.4 352.1,311.2 352.7,311.4 353.2,311.3 353.7,311.3 354.2,311.6 354.7,310.8 355.2,310.6 355.7,310.8 356.2,311.0 356.7,311.4 357.2,311.6 357.7,311.8 358.2,311.8 358.7,311.4 359.2,311.3 359.7,311.7 360.2,311.6 360.7,311.2 361.2,311.2 361.7,311.2 362.2,311.3 362.7,311.3 363.2,311.1 363.7,311.1 364.2,311.4 364.7,311.5 365.2,311.3 365.7,311.4 366.2,311.3 366.7,311.1 367.2,311.1 367.7,311.3 368.2,311.3 368.7,311.5 369.2,311.4 369.7,311.4 370.2,311.7 370.7,311.4 371.2,311.1 371.7,311.1 372.2,311.7 372.7,312.0 373.2,311.8 373.7,311.5 374.2,311.6 374.7,311.8 375.2,311.4 375.7,311.2 376.2,311.1 376.7,311.1 377.2,311.5 377.7,311.9 378.2,311.5 378.8,311.2 379.3,311.3 379.8,311.2 380.3,311.2 380.8,311.6 381.3,311.4 381.8,311.2 382.3,311.4 382.8,311.5 383.3,311.6 383.8,311.7 384.3,311.1 384.8,311.2 385.3,311.2 385.8,311.1 386.3,311.1 386.8,311.1 387.3,311.7 387.8,311.6 388.3,311.3 388.8,311.2 389.3,311.5 389.8,311.9 390.3,311.7 390.8,311.5 391.3,311.6 391.8,311.5 392.3,311.0 392.8,310.7 393.3,310.9 393.8,310.9 394.3,310.5 394.8,310.5 395.3,311.3 395.8,311.9 396.3,311.4 396.8,311.0 397.3,311.3 397.8,311.0 398.3,310.9 398.8,311.6 399.3,312.0 399.8,311.5 400.3,310.8 400.8,310.8 401.3,311.0 401.8,311.1 402.3,311.1 402.8,310.8 403.3,310.6 403.8,310.8 404.3,311.4 404.8,312.0 405.4,311.3 405.9,310.8 406.4,310.9 406.9,311.1 407.4,311.2 407.9,311.2 408.4,311.2 408.9,311.4 409.4,311.6 409.9,311.3 410.4,311.5 410.9,311.4 411.4,311.2 411.9,311.2 412.4,310.7 412.9,310.9 413.4,311.5 413.9,311.2 414.4,311.0 414.9,310.9 415.4,310.8 415.9,310.8 416.4,311.3 416.9,310.8 417.4,310.6 417.9,311.1 418.4,311.2 418.9,311.4 419.4,311.6 419.9,311.4 420.4,311.1 420.9,311.0 421.4,311.3 421.9,311.3 422.4,311.3 422.9,311.2 423.4,310.4 423.9,310.9 424.4,311.4 424.9,310.9 425.4,311.1 425.9,311.0 426.4,311.3 426.9,311.8 427.4,311.3 427.9,310.7 428.4,311.0 428.9,311.7 429.4,311.5 429.9,310.7 430.4,310.7 430.9,311.3 431.4,311.8 432.0,310.9" stroke="#8a2be2"/>
<path d="M259.8,305.1 260.3,305.5 260.8,306.0 261.3,305.2 261.8,304.5 262.3,304.8 262.8,305.2 263.3,305.0 263.8,304.7 264.3,304.8 264.8,305.3 265.3,305.3 265.8,304.3 266.3,304.7 266.8,305.5 267.3,305.4 267.8,305.4 268.3,304.8 268.8,304.4 269.3,305.0 269.8,305.4 270.3,305.2 270.8,305.0 271.3,304.9 271.8,304.6 272.3,305.0 272.8,304.6 273.4,304.3 273.9,304.4 274.4,304.0 274.9,304.4 275.4,304.8 275.9,304.8 276.4,303.8 276.9,303.2 277.4,303.5 277.9,304.0 278.4,303.3 278.9,302.5 279.4,301.9 279.9,300.8 280.4,298.9 280.9,297.0 281.4,296.5 281.9,297.7 282.4,299.7 282.9,300.8 283.4,301.5 283.9,302.2 284.4,302.9 284.9,303.2 285.4,303.7 285.9,304.0 286.4,304.0 286.9,304.9 287.4,305.4 287.9,304.8 288.4,304.0 288.9,303.7 289.4,304.4 289.9,304.5 290.4,304.7 290.9,304.7 291.4,304.6 291.9,305.1 292.4,305.5 292.9,305.3 293.4,304.7 293.9,304.7 294.4,304.1 294.9,304.3 295.4,304.8 295.9,304.5 296.4,304.7 296.9,305.0 297.4,305.3 297.9,305.0 298.4,304.7 298.9,304.9 299.5,305.3 300.0,305.6 300.5,305.4 301.0,305.5 301.5,305.7 302.0,304.8 302.5,304.9 303.0,305.5 303.5,305.0 304.0,304.8 304.5,305.1 305.0,305.1 305.5,305.1 306.0,305.2 306.5,305.3 307.0,305.2 307.5,305.0 308.0,305.1 308.5,305.0 309.0,305.0 309.5,305.2 310.0,305.2 310.5,305.3 311.0,305.9 311.5,305.9 312.0,305.5 312.5,305.2 313.0,305.1 313.5,304.8 314.0,304.5 314.5,304.4 315.0,304.8 315.5,305.0 316.0,305.4 316.5,306.0 317.0,305.0 317.5,304.8 318.0,305.2 318.5,305.1 319.0,304.9 319.5,305.1 320.0,305.2 320.5,305.5 321.0,305.4 321.5,304.8 322.0,304.7 322.5,304.8 323.0,305.2 323.5,305.3 324.0,305.3 324.5,305.6 325.0,305.2 325.5,305.0 326.1,304.6 326.6,304.3 327.1,304.5 327.6,304.9 328.1,305.2 328.6,304.5 329.1,304.2 329.6,304.3 330.1,304.2 330.6,304.3 331.1,304.4 331.6,304.1 332.1,303.8 332.6,302.8 333.1,302.2 333.6,302.7 334.1,303.1 334.6,303.0 335.1,303.3 335.6,303.9 336.1,304.1 336.6,304.0 337.1,304.0 337.6,304.9 338.1,305.4 338.6,305.0 339.1,304.7 339.6,305.0 340.1,305.0 340.6,304.6 341.1,304.8 341.6,304.8 342.1,304.4 342.6,305.4 343.1,305.9 343.6,305.0 344.1,304.9 344.6,305.1 345.1,304.9 345.6,304.7 346.1,305.1 346.6,305.9 347.1,305.6 347.6,304.8 348.1,304.8 348.6,304.9 349.1,304.9 349.6,304.9 350.1,305.2 350.6,305.3 351.1,305.0 351.6,305.2 352.1,305.3 352.7,304.9 353.2,304.4 353.7,304.5 354.2,304.5 354.7,304.7 355.2,305.2 355.7,304.9 356.2,304.9 356.7,305.3 357.2,305.6 357.7,305.5 358.2,305.3 358.7,305.6 359.2,305.8 359.7,305.4 360.2,304.9 360.7,305.1 361.2,305.5 361.7,305.4 362.2,306.3 362.7,306.4 363.2,305.1 363.7,304.7 364.2,305.1 364.7,305.4 365.2,305.7 365.7,305.9 366.2,305.5 366.7,305.5 367.2,305.1 367.7,304.6 368.2,304.8 368.7,305.0 369.2,305.3 369.7,305.3 370.2,305.6 370.7,305.5 371.2,304.9 371.7,304.8 372.2,305.0 372.7,304.9 373.2,304.8 373.7,305.1 374.2,305.3 374.7,305.4 375.2,305.7 375.7,305.7 376.2,305.4 376.7,305.3 377.2,305.5 377.7,305.8 378.2,305.8 378.8,305.5 379.3,305.0 379.8,305.2 380.3,305.4 380.8,305.2 381.3,305.4 381.8,305.5 382.3,304.9 382.8,304.7 383.3,305.2 383.8,305.1 384.3,305.3 384.8,305.7 385.3,305.4 385.8,305.4 386.3,305.5 386.8,304.9 387.3,305.1 387.8,305.5 388.3,305.0 388.8,305.4 389.3,305.5 389.8,305.1 390.3,305.6 390.8,305.6 391.3,305.0 391.8,304.8 392.3,305.0 392.8,304.9 393.3,304.8 393.8,305.1 394.3,305.4 394.8,305.5 395.3,305.2 395.8,305.1 396.3,304.9 396.8,304.8 397.3,305.1 397.8,304.6 398.3,304.7 398.8,305.2 399.3,304.7 399.8,304.8 400.3,304.9 400.8,304.8 401.3,305.4 401.8,305.2 402.3,304.9 402.8,305.2 403.3,304.8 403.8,304.8 404.3,305.2 404.8,305.0 405.4,305.2 405.9,305.1 406.4,304.9 406.9,305.2 407.4,305.4 407.9,305.1 408.4,305.4 408.9,305.7 409.4,305.3 409.9,305.0 410.4,304.3 410.9,304.2 411.4,304.4 411.9,304.8 412.4,304.7 412.9,304.6 413.4,304.9 413.9,304.7 414.4,304.9 414.9,304.8 415.4,304.3 415.9,304.4 416.4,305.0 416.9,305.7 417.4,305.5 417.9,304.7 418.4,305.1 418.9,305.8 419.4,305.0 419.9,304.5 420.4,304.7 420.9,304.9 421.4,305.0 421.9,305.0 422.4,305.2 422.9,305.7 423.4,305.7 423.9,304.9 424.4,305.1 424.9,305.2 425.4,305.0 425.9,305.4 426.4,305.1 426.9,305.0 427.4,305.6 427.9,305.9 428.4,305.3 428.9,304.8 429.4,305.3 429.9,305.3 430.4,305.1 430.9,304.8 431.4,305.0 432.0,305.7" stroke="#8a1f8a"/>
<path d="M259.8,299.4 260.3,299.6 260.8,299.5 261.3,299.4 261.8,299.4 262.3,299.4 262.8,299.1 263.3,298.6 263.8,299.0 264.3,298.9 264.8,298.4 265.3,298.5 265.8,298.8 266.3,299.4 266.8,298.9 267.3,299.2 267.8,299.6 268.3,299.1 268.8,299.2 269.3,299.2 269.8,299.1 270.3,299.0 270.8,298.8 271.3,299.0 271.8,299.0 272.3,298.6 272.8,298.6 273.4,298.9 273.9,299.0 274.4,298.5 274.9,298.4 275.4,298.4 275.9,298.3 276.4,297.9 276.9,297.6 277.4,296.8 277.9,296.3 278.4,296.6 278.9,296.3 279.4,296.0 279.9,295.3 280.4,293.7 280.9,291.8 281.4,291.4 281.9,292.9 282.4,294.4 282.9,295.5 283.4,296.4 283.9,296.7 284.4,296.8 284.9,297.3 285.4,297.5 285.9,297.5 286.4,298.5 286.9,298.5 287.4,298.2 287.9,298.3 288.4,298.8 288.9,298.8 289.4,298.3 289.9,298.7 290.4,299.2 290.9,298.8 291.4,298.1 291.9,297.9 292.4,298.8 292.9,298.8 293.4,298.8 293.9,299.2 294.4,299.0 294.9,298.7 295.4,298.4 295.9,298.7 296.4,298.9 296.9,299.1 297.4,299.2 297.9,298.6 298.4,298.6 298.9,299.1 299.5,298.8 300.0,298.8 300.5,299.1 301.0,298.9 301.5,298.9 302.0,299.1 302.5,299.2 303.0,299.1 303.5,299.2 304.0,299.6 304.5,299.7 305.0,299.2 305.5,298.8 306.0,298.5 306.5,299.2 307.0,299.7 307.5,299.2 308.0,298.9 308.5,299.2 309.0,299.4 309.5,299.4 310.0,299.3 310.5,299.5 311.0,299.3 311.5,298.6 312.0,298.8 312.5,299.0 313.0,299.5 313.5,299.8 314.0,299.7 314.5,299.3 315.0,298.7 315.5,299.1 316.0,299.4 316.5,299.4 317.0,299.4 317.5,299.5 318.0,299.2 318.5,299.0 319.0,299.5 319.5,299.5 320.0,299.4 320.5,298.8 321.0,298.6 321.5,298.9 322.0,299.1 322.5,299.3 323.0,299.1 323.5,298.7 324.0,298.4 324.5,298.6 325.0,299.1 325.5,299.3 326.1,298.9 326.6,298.7 327.1,298.6 327.6,298.4 328.1,298.2 328.6,298.2 329.1,297.9 329.6,297.9 330.1,297.7 330.6,297.6 331.1,297.7 331.6,296.9 332.1,296.2 332.6,295.2 333.1,294.9 333.6,295.4 334.1,295.7 334.6,296.0 335.1,296.4 335.6,297.4 336.1,297.9 336.6,298.2 337.1,298.6 337.6,298.4 338.1,298.3 338.6,298.1 339.1,298.8 339.6,299.4 340.1,298.6 340.6,298.3 341.1,298.4 341.6,298.8 342.1,298.7 342.6,298.1 343.1,298.0 343.6,299.0 344.1,299.4 344.6,299.1 345.1,299.1 345.6,299.0 346.1,298.8 346.6,299.0 347.1,299.0 347.6,299.3 348.1,299.5 348.6,299.3 349.1,299.1 349.6,299.0 350.1,299.0 350.6,298.5 351.1,298.9 351.6,299.1 352.1,298.6 352.7,299.1 353.2,299.2 353.7,299.2 354.2,299.3 354.7,299.1 355.2,298.9 355.7,298.9 356.2,298.8 356.7,299.2 357.2,299.1 357.7,298.7 358.2,299.3 358.7,299.0 359.2,298.8 359.7,299.1 360.2,299.2 360.7,299.3 361.2,299.6 361.7,299.5 362.2,299.0 362.7,299.2 363.2,299.3 363.7,299.8 364.2,299.5 364.7,299.0 365.2,299.6 365.7,299.2 366.2,298.7 366.7,298.8 367.2,298.8 367.7,298.9 368.2,299.2 368.7,298.9 369.2,299.3 369.7,300.0 370.2,299.5 370.7,299.0 371.2,298.8 371.7,299.1 372.2,299.2 372.7,299.0 373.2,299.0 373.7,299.1 374.2,299.0 374.7,299.3 375.2,299.6 375.7,299.4 376.2,299.2 376.7,298.8 377.2,299.0 377.7,299.7 378.2,299.3 378.8,299.2 379.3,299.2 379.8,299.1 380.3,299.5 380.8,299.3 381.3,299.4 381.8,299.1 382.3,298.8 382.8,299.6 383.3,299.7 383.8,299.5 384.3,299.4 384.8,299.0 385.3,299.2 385.8,299.3 386.3,299.1 386.8,299.0 387.3,299.0 387.8,299.3 388.3,299.2 388.8,298.9 389.3,299.5 389.8,299.6 390.3,299.4 390.8,299.4 391.3,299.8 391.8,299.9 392.3,298.8 392.8,299.0 393.3,299.4 393.8,298.7 394.3,298.6 394.8,298.8 395.3,298.9 395.8,299.5 396.3,299.7 396.8,299.2 397.3,299.2 397.8,299.3 398.3,299.3 398.8,299.7 399.3,300.2 399.8,299.5 400.3,299.2 400.8,299.7 401.3,299.3 401.8,299.1 402.3,299.2 402.8,299.0 403.3,298.8 403.8,299.0 404.3,299.3 404.8,298.9 405.4,298.7 405.9,299.1 406.4,299.1 406.9,298.7 407.4,298.0 407.9,298.3 408.4,298.9 408.9,298.6 409.4,298.4 409.9,298.2 410.4,298.2 410.9,298.6 411.4,298.2 411.9,298.0 412.4,298.2 412.9,298.0 413.4,297.5 413.9,297.5 414.4,297.9 414.9,297.3 415.4,297.2 415.9,297.6 416.4,297.8 416.9,297.7 417.4,298.2 417.9,298.7 418.4,298.4 418.9,298.5 419.4,298.7 419.9,298.8 420.4,298.9 420.9,298.7 421.4,298.6 421.9,298.5 422.4,298.6 422.9,299.3 423.4,299.4 423.9,298.9 424.4,299.0 424.9,299.2 425.4,299.0 425.9,298.8 426.4,299.1 426.9,299.1 427.4,298.9 427.9,299.1 428.4,299.1 428.9,298.8 429.4,298.8 429.9,299.0 430.4,299.3 430.9,299.4 431.4,299.5 432.0,299.2" stroke="#8b1c1c"/>
<path d="M259.8,293.0 260.3,292.9 260.8,293.3 261.3,293.4 261.8,292.7 262.3,292.8 262.8,293.0 263.3,293.0 263.8,292.9 264.3,292.8 264.8,292.9 265.3,292.8 265.8,292.4 266.3,292.5 266.8,292.6 267.3,292.8 267.8,293.2 268.3,292.7 268.8,292.8 269.3,292.7 269.8,292.3 270.3,292.5 270.8,292.8 271.3,292.9 271.8,293.2 272.3,293.2 272.8,292.7 273.4,292.4 273.9,292.5 274.4,292.7 274.9,292.7 275.4,292.6 275.9,292.2 276.4,291.9 276.9,292.5 277.4,292.5 277.9,291.6 278.4,291.8 278.9,291.5 279.4,290.5 279.9,289.7 280.4,288.8 280.9,287.9 281.4,287.3 281.9,288.0 282.4,288.9 282.9,289.8 283.4,290.4 283.9,291.0 284.4,291.6 284.9,291.7 285.4,291.7 285.9,291.8 286.4,291.7 286.9,292.1 287.4,292.7 287.9,292.5 288.4,292.2 288.9,292.2 289.4,292.8 289.9,292.7 290.4,292.6 290.9,293.0 291.4,292.6 291.9,292.3 292.4,292.9 292.9,292.8 293.4,292.4 293.9,292.7 294.4,293.5 294.9,293.8 295.4,293.1 295.9,293.2 296.4,293.3 296.9,293.1 297.4,292.9 297.9,292.8 298.4,293.2 298.9,293.3 299.5,293.1 300.0,292.5 300.5,292.3 301.0,293.1 301.5,293.2 302.0,293.5 302.5,293.4 303.0,292.8 303.5,292.5 304.0,292.3 304.5,292.6 305.0,293.4 305.5,293.3 306.0,293.0 306.5,293.0 307.0,292.7 307.5,292.8 308.0,293.1 308.5,292.7 309.0,292.7 309.5,292.6 310.0,292.2 310.5,292.4 311.0,293.1 311.5,292.9 312.0,292.8 312.5,293.2 313.0,293.4 313.5,293.5 314.0,293.4 314.5,293.3 315.0,293.3 315.5,293.6 316.0,293.3 316.5,292.7 317.0,292.7 317.5,293.4 318.0,293.5 318.5,292.6 319.0,292.7 319.5,293.6 320.0,293.2 320.5,292.8 321.0,292.7 321.5,293.1 322.0,293.3 322.5,293.0 323.0,292.6 323.5,292.2 324.0,293.0 324.5,293.0 325.0,292.6 325.5,292.8 326.1,292.8 326.6,293.1 327.1,293.0 327.6,292.8 328.1,292.6 328.6,292.3 329.1,292.2 329.6,292.1 330.1,292.3 330.6,291.6 331.1,291.3 331.6,290.7 332.1,289.4 332.6,288.6 333.1,287.7 333.6,288.0 334.1,289.1 334.6,290.4 335.1,291.0 335.6,291.2 336.1,291.6 336.6,292.2 337.1,292.2 337.6,291.5 338.1,291.9 338.6,292.4 339.1,292.1 339.6,292.1 340.1,292.6 340.6,293.3 341.1,292.9 341.6,292.6 342.1,292.7 342.6,292.4 343.1,292.5 343.6,292.7 344.1,292.9 344.6,292.9 345.1,292.8 345.6,292.8 346.1,293.2 346.6,293.5 347.1,293.4 347.6,292.9 348.1,292.6 348.6,293.4 349.1,293.2 349.6,292.5 350.1,292.7 350.6,292.5 351.1,292.3 351.6,292.6 352.1,292.4 352.7,292.5 353.2,293.0 353.7,293.4 354.2,293.4 354.7,293.3 355.2,293.1 355.7,293.2 356.2,292.8 356.7,292.4 357.2,292.7 357.7,292.9 358.2,292.9 358.7,292.9 359.2,293.1 359.7,293.1 360.2,293.4 360.7,293.5 361.2,293.1 361.7,293.0 362.2,293.1 362.7,293.2 363.2,292.9 363.7,293.0 364.2,293.4 364.7,292.9 365.2,292.8 365.7,293.2 366.2,293.2 366.7,293.0 367.2,292.9 367.7,293.3 368.2,293.6 368.7,293.7 369.2,293.3 369.7,293.1 370.2,293.0 370.7,292.8 371.2,293.1 371.7,293.0 372.2,292.9 372.7,292.8 373.2,292.6 373.7,292.8 374.2,292.6 374.7,292.8 375.2,293.3 375.7,293.2 376.2,293.1 376.7,292.5 377.2,292.5 377.7,293.3 378.2,293.4 378.8,292.8 379.3,293.0 379.8,293.5 380.3,293.2 380.8,293.2 381.3,293.2 381.8,292.9 382.3,293.2 382.8,293.5 383.3,293.1 383.8,292.8 384.3,292.6 384.8,292.9 385.3,293.6 385.8,293.5 386.3,292.7 386.8,292.7 387.3,292.9 387.8,293.0 388.3,293.3 388.8,293.1 389.3,293.4 389.8,293.4 390.3,292.9 390.8,292.8 391.3,292.9 391.8,292.9 392.3,292.7 392.8,292.7 393.3,293.1 393.8,293.5 394.3,293.6 394.8,293.4 395.3,293.2 395.8,293.1 396.3,293.0 396.8,293.4 397.3,293.4 397.8,293.0 398.3,293.0 398.8,293.1 399.3,292.9 399.8,293.0 400.3,293.2 400.8,293.0 401.3,293.3 401.8,293.4 402.3,293.2 402.8,293.1 403.3,292.8 403.8,292.8 404.3,292.7 404.8,292.7 405.4,292.8 405.9,292.6 406.4,292.7 406.9,293.0 407.4,292.6 407.9,292.3 408.4,292.2 408.9,292.4 409.4,292.3 409.9,291.9 410.4,292.0 410.9,291.5 411.4,290.9 411.9,291.3 412.4,290.6 412.9,290.0 413.4,289.8 413.9,289.6 414.4,290.1 414.9,290.7 415.4,291.3 415.9,291.6 416.4,291.7 416.9,291.4 417.4,291.5 417.9,292.4 418.4,292.1 418.9,292.0 419.4,292.5 419.9,292.2 420.4,292.1 420.9,292.5 421.4,292.4 421.9,292.3 422.4,292.7 422.9,293.3 423.4,293.1 423.9,292.7 424.4,293.3 424.9,292.8 425.4,292.6 425.9,293.1 426.4,293.2 426.9,293.1 427.4,293.2 427.9,292.8 428.4,292.8 428.9,293.1 429.4,293.2 429.9,293.4 430.4,293.3 430.9,293.3 431.4,293.2 432.0,292.7" stroke="#949420"/>
<path d="M259.8,286.4 260.3,286.6 260.8,286.9 261.3,286.8 261.8,286.9 262.3,286.8 262.8,287.1 263.3,287.0 263.8,287.3 264.3,287.6 264.8,287.9 265.3,287.1 265.8,286.2 266.3,286.5 266.8,286.6 267.3,286.6 267.8,287.1 268.3,287.2 268.8,287.3 269.3,287.2 269.8,286.7 270.3,286.7 270.8,287.0 271.3,287.0 271.8,287.0 272.3,287.3 272.8,287.4 273.4,287.0 273.9,286.6 274.4,286.5 274.9,286.1 275.4,285.7 275.9,286.1 276.4,286.1 276.9,286.0 277.4,286.2 277.9,285.9 278.4,285.6 278.9,285.4 279.4,285.1 279.9,284.4 280.4,284.0 280.9,282.8 281.4,282.1 281.9,283.1 282.4,284.1 282.9,285.0 283.4,285.2 283.9,285.4 284.4,286.0 284.9,285.9 285.4,285.7 285.9,286.1 286.4,286.4 286.9,286.3 287.4,286.4 287.9,286.4 288.4,286.7 288.9,286.8 289.4,286.9 289.9,286.7 290.4,286.4 290.9,286.5 291.4,286.6 291.9,286.9 292.4,287.3 292.9,287.3 293.4,286.9 293.9,286.9 294.4,286.7 294.9,286.5 295.4,287.0 295.9,287.0 296.4,286.4 296.9,286.4 297.4,286.4 297.9,286.5 298.4,287.1 298.9,287.0 299.5,287.1 300.0,287.6 300.5,287.7 301.0,287.0 301.5,286.7 302.0,287.5 302.5,287.2 303.0,287.1 303.5,287.5 304.0,286.8 304.5,286.9 305.0,286.9 305.5,286.8 306.0,287.0 306.5,286.7 307.0,286.7 307.5,286.9 308.0,286.9 308.5,287.2 309.0,287.2 309.5,286.9 310.0,286.5 310.5,286.6 311.0,286.8 311.5,286.7 312.0,287.2 312.5,287.4 313.0,287.1 313.5,286.8 314.0,287.0 314.5,287.2 315.0,286.9 315.5,286.6 316.0,286.9 316.5,287.1 317.0,286.8 317.5,286.9 318.0,287.0 318.5,286.7 319.0,287.2 319.5,286.9 320.0,286.2 320.5,286.3 321.0,286.4 321.5,286.5 322.0,286.5 322.5,286.7 323.0,287.2 323.5,287.0 324.0,286.6 324.5,286.6 325.0,286.7 325.5,286.8 326.1,286.8 326.6,286.6 327.1,286.8 327.6,286.6 328.1,286.2 328.6,285.9 329.1,285.9 329.6,285.9 330.1,285.5 330.6,285.2 331.1,284.7 331.6,283.9 332.1,282.8 332.6,281.3 333.1,280.1 333.6,280.8 334.1,282.9 334.6,284.0 335.1,284.3 335.6,284.6 336.1,284.8 336.6,285.2 337.1,285.7 337.6,286.3 338.1,286.3 338.6,285.7 339.1,285.9 339.6,286.8 340.1,286.6 340.6,286.4 341.1,286.6 341.6,286.4 342.1,286.5 342.6,287.2 343.1,287.4 343.6,287.0 344.1,286.6 344.6,286.7 345.1,286.8 345.6,286.4 346.1,286.3 346.6,286.7 347.1,287.0 347.6,286.8 348.1,286.9 348.6,286.6 349.1,286.6 349.6,286.7 350.1,286.8 350.6,286.9 351.1,286.4 351.6,286.3 352.1,286.7 352.7,287.1 353.2,286.9 353.7,286.6 354.2,286.7 354.7,286.8 355.2,287.1 355.7,287.2 356.2,286.7 356.7,287.1 357.2,287.2 357.7,286.7 358.2,287.1 358.7,287.4 359.2,287.4 359.7,286.9 360.2,286.9 360.7,287.7 361.2,287.2 361.7,286.7 362.2,287.1 362.7,287.0 363.2,286.5 363.7,286.9 364.2,286.9 364.7,286.3 365.2,286.6 365.7,287.5 366.2,287.5 366.7,286.5 367.2,287.0 367.7,287.5 368.2,287.1 368.7,286.9 369.2,286.8 369.7,287.0 370.2,287.1 370.7,287.2 371.2,286.9 371.7,286.4 372.2,286.3 372.7,286.9 373.2,287.3 373.7,287.2 374.2,287.0 374.7,287.2 375.2,287.4 375.7,287.3 376.2,287.3 376.7,287.4 377.2,287.1 377.7,287.2 378.2,287.6 378.8,287.1 379.3,286.9 379.8,287.3 380.3,287.3 380.8,287.0 381.3,286.8 381.8,286.5 382.3,286.6 382.8,287.4 383.3,287.5 383.8,287.4 384.3,287.4 384.8,287.0 385.3,287.3 385.8,287.0 386.3,286.5 386.8,286.6 387.3,287.0 387.8,287.0 388.3,286.6 388.8,286.6 389.3,286.5 389.8,286.8 390.3,287.2 390.8,287.1 391.3,286.8 391.8,287.2 392.3,287.6 392.8,286.6 393.3,286.4 393.8,287.3 394.3,287.5 394.8,287.4 395.3,287.1 395.8,287.1 396.3,287.0 396.8,286.9 397.3,287.4 397.8,287.0 398.3,286.4 398.8,286.6 399.3,286.5 399.8,286.6 400.3,286.8 400.8,287.1 401.3,287.5 401.8,286.9 402.3,286.7 402.8,286.8 403.3,286.3 403.8,286.5 404.3,286.9 404.8,286.8 405.4,286.4 405.9,286.0 406.4,285.9 406.9,286.4 407.4,286.2 407.9,286.2 408.4,286.4 408.9,286.1 409.4,286.1 409.9,286.3 410.4,286.3 410.9,285.6 411.4,285.0 411.9,284.2 412.4,283.6 412.9,283.4 413.4,282.6 413.9,282.5 414.4,282.4 414.9,282.7 415.4,283.2 415.9,284.1 416.4,285.4 416.9,285.8 417.4,285.6 417.9,285.5 418.4,285.6 418.9,286.0 419.4,286.6 419.9,286.6 420.4,286.5 420.9,286.3 421.4,285.7 421.9,285.7 422.4,286.0 422.9,286.4 423.4,286.9 423.9,287.1 424.4,287.0 424.9,287.0 425.4,286.6 425.9,286.3 426.4,287.1 426.9,287.3 427.4,286.6 427.9,286.4 428.4,286.6 428.9,286.6 429.4,286.9 429.9,287.6 430.4,287.6 430.9,287.4 431.4,287.2 432.0,286.7" stroke="#2f6fb4"/>
<path d="M259.8,280.9 260.3,280.6 260.8,280.5 261.3,281.1 261.8,281.0 262.3,280.9 262.8,280.5 263.3,280.6 263.8,281.1 264.3,281.0 264.8,281.1 265.3,280.9 265.8,280.7 266.3,281.1 266.8,281.4 267.3,280.9 267.8,280.7 268.3,280.9 268.8,281.2 269.3,281.0 269.8,281.0 270.3,280.9 270.8,280.9 271.3,280.8 271.8,280.5 272.3,281.0 272.8,280.7 273.4,280.6 273.9,280.7 274.4,280.5 274.9,280.6 275.4,280.7 275.9,280.6 276.4,280.7 276.9,280.5 277.4,279.9 277.9,280.0 278.4,279.9 278.9,279.5 279.4,279.4 279.9,278.9 280.4,277.0 280.9,276.4 281.4,277.0 281.9,277.1 282.4,277.3 282.9,278.2 283.4,279.0 283.9,279.6 284.4,279.9 284.9,279.9 285.4,280.2 285.9,280.6 286.4,280.8 286.9,280.8 287.4,281.0 287.9,281.0 288.4,280.7 288.9,280.9 289.4,280.2 289.9,280.4 290.4,281.2 290.9,280.9 291.4,280.7 291.9,280.6 292.4,280.5 292.9,280.6 293.4,280.4 293.9,280.6 294.4,281.0 294.9,280.7 295.4,280.7 295.9,281.0 296.4,281.7 296.9,281.4 297.4,280.8 297.9,281.1 298.4,281.1 298.9,280.6 299.5,280.8 300.0,281.0 300.5,280.9 301.0,281.1 301.5,281.2 302.0,281.2 302.5,280.9 303.0,280.8 303.5,280.8 304.0,280.7 304.5,280.7 305.0,280.4 305.5,280.6 306.0,280.7 306.5,280.6 307.0,280.6 307.5,280.8 308.0,281.0 308.5,281.0 309.0,280.7 309.5,280.5 310.0,280.7 310.5,281.0 311.0,281.0 311.5,280.6 312.0,281.0 312.5,281.2 313.0,280.4 313.5,280.8 314.0,281.3 314.5,280.8 315.0,280.1 315.5,280.4 316.0,280.7 316.5,281.1 317.0,281.6 317.5,281.2 318.0,280.8 318.5,280.9 319.0,280.7 319.5,280.5 320.0,281.3 320.5,281.1 321.0,280.5 321.5,280.5 322.0,281.0 322.5,281.4 323.0,280.9 323.5,280.8 324.0,280.4 324.5,280.5 325.0,281.1 325.5,280.5 326.1,279.6 326.6,279.3 327.1,280.1 327.6,280.3 328.1,280.3 328.6,280.0 329.1,279.6 329.6,279.8 330.1,279.6 330.6,278.8 331.1,278.5 331.6,278.2 332.1,276.7 332.6,275.4 333.1,274.4 333.6,274.9 334.1,276.0 334.6,277.1 335.1,277.9 335.6,278.6 336.1,279.2 336.6,279.7 337.1,279.8 337.6,279.6 338.1,280.1 338.6,280.4 339.1,280.1 339.6,280.2 340.1,280.5 340.6,280.5 341.1,280.7 341.6,280.7 342.1,280.9 342.6,281.1 343.1,281.2 343.6,281.2 344.1,280.6 344.6,280.5 345.1,280.4 345.6,280.3 346.1,281.0 346.6,281.0 347.1,280.6 347.6,280.7 348.1,280.6 348.6,280.9 349.1,281.1 349.6,281.1 350.1,281.1 350.6,280.7 351.1,280.5 351.6,280.8 352.1,281.1 352.7,280.8 353.2,280.4 353.7,280.3 354.2,280.6 354.7,280.4 355.2,280.1 355.7,280.5 356.2,280.5 356.7,280.6 357.2,281.2 357.7,281.6 358.2,281.0 358.7,280.3 359.2,280.8 359.7,281.2 360.2,280.7 360.7,280.6 361.2,281.0 361.7,281.2 362.2,281.6 362.7,281.5 363.2,281.0 363.7,281.0 364.2,280.9 364.7,281.1 365.2,280.9 365.7,280.3 366.2,281.0 366.7,281.8 367.2,281.6 367.7,281.2 368.2,280.7 368.7,280.7 369.2,281.1 369.7,281.4 370.2,281.6 370.7,281.0 371.2,281.3 371.7,281.6 372.2,281.3 372.7,280.8 373.2,279.9 373.7,280.0 374.2,281.3 374.7,281.4 375.2,280.6 375.7,280.8 376.2,280.9 376.7,280.6 377.2,280.8 377.7,281.6 378.2,281.8 378.8,280.9 379.3,280.3 379.8,280.8 380.3,281.0 380.8,281.2 381.3,281.4 381.8,280.7 382.3,280.4 382.8,280.8 383.3,281.0 383.8,280.4 384.3,280.3 384.8,280.8 385.3,280.9 385.8,280.7 386.3,280.7 386.8,280.8 387.3,280.7 387.8,280.8 388.3,280.9 388.8,280.7 389.3,280.6 389.8,281.0 390.3,281.1 390.8,281.0 391.3,281.2 391.8,281.3 392.3,281.3 392.8,280.8 393.3,280.6 393.8,280.9 394.3,280.8 394.8,280.4 395.3,280.7 395.8,281.5 396.3,281.5 396.8,281.0 397.3,280.9 397.8,281.0 398.3,280.7 398.8,280.5 399.3,280.4 399.8,280.1 400.3,280.5 400.8,280.6 401.3,280.3 401.8,280.2 402.3,280.4 402.8,280.5 403.3,280.5 403.8,280.0 404.3,279.8 404.8,279.8 405.4,279.8 405.9,280.2 406.4,280.4 406.9,280.3 407.4,280.5 407.9,280.5 408.4,280.0 408.9,280.0 409.4,279.6 409.9,279.4 410.4,279.3 410.9,278.8 411.4,278.5 411.9,277.9 412.4,277.3 412.9,277.0 413.4,276.2 413.9,275.9 414.4,276.0 414.9,276.3 415.4,277.5 415.9,278.3 416.4,278.5 416.9,278.6 417.4,279.2 417.9,279.7 418.4,279.6 418.9,279.3 419.4,279.1 419.9,279.4 420.4,280.0 420.9,280.2 421.4,280.0 421.9,280.2 422.4,280.2 422.9,280.3 423.4,280.4 423.9,280.4 424.4,280.0 424.9,280.0 425.4,280.2 425.9,280.1 426.4,280.6 426.9,280.7 427.4,280.5 427.9,280.5 428.4,281.0 428.9,281.2 429.4,280.9 429.9,281.0 430.4,281.3 430.9,281.0 431.4,280.9 432.0,281.3" stroke="#1aa0a0"/>
<path d="M259.8,275.0 260.3,274.9 260.8,275.0 261.3,275.2 261.8,275.3 262.3,275.2 262.8,274.8 263.3,274.4 263.8,274.4 264.3,275.0 264.8,275.2 265.3,275.0 265.8,274.1 266.3,273.6 266.8,274.5 267.3,275.0 267.8,275.5 268.3,275.5 268.8,274.6 269.3,274.7 269.8,274.9 270.3,274.7 270.8,274.4 271.3,273.9 271.8,274.1 272.3,274.6 272.8,275.0 273.4,275.0 273.9,274.1 274.4,273.8 274.9,274.2 275.4,274.7 275.9,275.0 276.4,274.2 276.9,273.8 277.4,273.4 277.9,273.3 278.4,272.6 278.9,272.3 279.4,272.1 279.9,271.9 280.4,271.4 280.9,270.4 281.4,270.0 281.9,271.2 282.4,272.7 282.9,272.8 283.4,273.1 283.9,273.3 284.4,273.6 284.9,274.0 285.4,274.2 285.9,273.8 286.4,274.1 286.9,274.6 287.4,274.1 287.9,274.4 288.4,275.0 288.9,274.5 289.4,274.2 289.9,274.8 290.4,274.4 290.9,274.2 291.4,274.7 291.9,274.3 292.4,274.6 292.9,275.0 293.4,274.9 293.9,274.6 294.4,274.8 294.9,274.9 295.4,274.5 295.9,274.5 296.4,274.9 296.9,275.5 297.4,275.1 297.9,274.4 298.4,274.2 298.9,274.5 299.5,274.5 300.0,274.1 300.5,274.3 301.0,274.6 301.5,274.9 302.0,274.4 302.5,274.4 303.0,274.9 303.5,274.7 304.0,274.5 304.5,274.8 305.0,275.5 305.5,275.1 306.0,274.9 306.5,274.9 307.0,274.5 307.5,274.7 308.0,275.0 308.5,275.0 309.0,274.8 309.5,274.6 310.0,274.6 310.5,274.7 311.0,274.5 311.5,274.2 312.0,274.7 312.5,275.2 313.0,274.7 313.5,274.7 314.0,275.1 314.5,275.3 315.0,275.0 315.5,274.8 316.0,274.9 316.5,274.6 317.0,274.3 317.5,274.4 318.0,274.9 318.5,274.9 319.0,274.9 319.5,274.5 320.0,274.4 320.5,275.2 321.0,275.0 321.5,274.8 322.0,275.2 322.5,275.1 323.0,274.4 323.5,274.6 324.0,274.8 324.5,274.7 325.0,274.5 325.5,274.2 326.1,274.7 326.6,274.9 327.1,274.5 327.6,274.1 328.1,273.6 328.6,273.7 329.1,273.8 329.6,273.5 330.1,273.7 330.6,273.4 331.1,272.5 331.6,271.9 332.1,271.1 332.6,269.5 333.1,268.3 333.6,268.6 334.1,269.6 334.6,270.5 335.1,272.1 335.6,273.0 336.1,273.2 336.6,273.6 337.1,273.9 337.6,274.1 338.1,273.6 338.6,273.8 339.1,274.2 339.6,273.9 340.1,274.7 340.6,274.7 341.1,274.0 341.6,273.8 342.1,274.0 342.6,274.0 343.1,274.1 343.6,274.3 344.1,274.6 344.6,275.1 345.1,274.7 345.6,274.9 346.1,275.5 346.6,274.9 347.1,274.6 347.6,275.0 348.1,275.1 348.6,275.1 349.1,275.1 349.6,275.1 350.1,275.1 350.6,275.4 351.1,275.6 351.6,275.1 352.1,274.8 352.7,275.1 353.2,275.1 353.7,274.8 354.2,274.6 354.7,274.9 355.2,274.9 355.7,274.6 356.2,274.6 356.7,274.8 357.2,275.0 357.7,275.0 358.2,274.9 358.7,274.7 359.2,274.7 359.7,274.9 360.2,275.1 360.7,274.9 361.2,274.6 361.7,274.9 362.2,274.9 362.7,274.8 363.2,275.1 363.7,275.4 364.2,275.2 364.7,275.1 365.2,274.7 365.7,274.2 366.2,274.6 366.7,274.7 367.2,274.5 367.7,275.3 368.2,275.6 368.7,275.2 369.2,275.2 369.7,275.4 370.2,275.2 370.7,275.1 371.2,275.2 371.7,274.7 372.2,275.0 372.7,275.2 373.2,275.1 373.7,275.1 374.2,275.0 374.7,275.2 375.2,275.4 375.7,275.5 376.2,275.3 376.7,274.7 377.2,274.3 377.7,274.5 378.2,274.8 378.8,274.8 379.3,275.0 379.8,274.9 380.3,274.3 380.8,274.7 381.3,274.9 381.8,274.7 382.3,275.0 382.8,274.8 383.3,274.7 383.8,274.8 384.3,274.7 384.8,275.0 385.3,275.0 385.8,275.3 386.3,275.2 386.8,274.6 387.3,274.5 387.8,274.7 388.3,274.9 388.8,274.8 389.3,274.6 389.8,274.3 390.3,274.5 390.8,274.4 391.3,274.6 391.8,275.3 392.3,275.2 392.8,275.1 393.3,275.1 393.8,274.9 394.3,274.9 394.8,274.9 395.3,275.2 395.8,275.1 396.3,274.8 396.8,274.6 397.3,274.2 397.8,274.5 398.3,275.3 398.8,275.5 399.3,275.0 399.8,274.8 400.3,274.5 400.8,274.3 401.3,274.8 401.8,275.0 402.3,275.0 402.8,274.2 403.3,274.1 403.8,274.9 404.3,274.9 404.8,274.8 405.4,274.7 405.9,274.5 406.4,274.4 406.9,274.5 407.4,274.1 407.9,273.6 408.4,273.5 408.9,273.5 409.4,273.6 409.9,273.6 410.4,273.3 410.9,272.8 411.4,272.6 411.9,272.3 412.4,271.6 412.9,271.1 413.4,270.9 413.9,271.0 414.4,270.8 414.9,270.6 415.4,271.5 415.9,272.5 416.4,272.6 416.9,272.6 417.4,273.1 417.9,273.6 418.4,273.5 418.9,273.5 419.4,273.5 419.9,273.5 420.4,273.8 420.9,274.0 421.4,274.4 421.9,275.0 422.4,275.3 422.9,274.4 423.4,274.3 423.9,274.3 424.4,273.9 424.9,273.9 425.4,274.3 425.9,274.7 426.4,274.4 426.9,274.6 427.4,275.1 427.9,275.1 428.4,274.3 428.9,274.6 429.4,275.1 429.9,274.2 430.4,274.2 430.9,274.6 431.4,274.5 432.0,274.5" stroke="#c4742a"/>
<path d="M259.8,268.9 260.3,269.4 260.8,269.2 261.3,268.3 261.8,268.0 262.3,268.7 262.8,268.7 263.3,268.6 263.8,268.9 264.3,269.2 264.8,269.5 265.3,269.0 265.8,269.0 266.3,269.0 266.8,268.9 267.3,268.9 267.8,268.5 268.3,268.5 268.8,269.1 269.3,269.2 269.8,269.3 270.3,269.5 270.8,268.9 271.3,268.4 271.8,268.3 272.3,268.3 272.8,268.2 273.4,267.9 273.9,267.6 274.4,267.9 274.9,268.5 275.4,268.3 275.9,267.8 276.4,267.6 276.9,267.7 277.4,267.8 277.9,267.5 278.4,267.3 278.9,266.4 279.4,265.7 279.9,266.0 280.4,265.0 280.9,263.7 281.4,263.3 281.9,264.0 282.4,265.4 282.9,266.2 283.4,266.5 283.9,267.0 284.4,267.3 284.9,268.0 285.4,267.8 285.9,267.2 286.4,267.9 286.9,268.5 287.4,268.3 287.9,268.3 288.4,268.6 288.9,268.6 289.4,268.4 289.9,268.4 290.4,268.8 290.9,268.3 291.4,268.5 291.9,268.9 292.4,268.5 292.9,268.5 293.4,268.4 293.9,268.3 294.4,269.0 294.9,269.3 295.4,268.7 295.9,268.9 296.4,268.9 296.9,268.6 297.4,269.0 297.9,268.7 298.4,268.6 298.9,269.0 299.5,268.9 300.0,268.9 300.5,268.3 301.0,268.2 301.5,268.3 302.0,268.5 302.5,269.0 303.0,268.9 303.5,268.6 304.0,268.7 304.5,268.5 305.0,268.2 305.5,268.3 306.0,268.3 306.5,268.8 307.0,269.3 307.5,269.3 308.0,269.0 308.5,268.3 309.0,268.1 309.5,268.7 310.0,269.1 310.5,268.4 311.0,268.4 311.5,269.3 312.0,269.5 312.5,269.1 313.0,268.9 313.5,269.0 314.0,268.8 314.5,268.9 315.0,268.9 315.5,268.7 316.0,268.8 316.5,268.4 317.0,268.9 317.5,269.2 318.0,268.5 318.5,268.4 319.0,268.5 319.5,268.5 320.0,268.9 320.5,269.0 321.0,268.2 321.5,268.1 322.0,268.3 322.5,268.0 323.0,267.8 323.5,268.1 324.0,268.6 324.5,268.3 325.0,268.0 325.5,268.1 326.1,268.1 326.6,268.3 327.1,268.5 327.6,268.2 328.1,268.2 328.6,268.2 329.1,267.6 329.6,267.4 330.1,267.3 330.6,267.1 331.1,266.7 331.6,265.8 332.1,265.5 332.6,264.9 333.1,263.8 333.6,263.9 334.1,264.8 334.6,266.0 335.1,266.7 335.6,267.1 336.1,267.2 336.6,267.4 337.1,267.2 337.6,267.6 338.1,267.9 338.6,267.7 339.1,268.2 339.6,268.4 340.1,268.7 340.6,268.6 341.1,268.4 341.6,268.5 342.1,268.3 342.6,268.7 343.1,269.3 343.6,269.0 344.1,268.5 344.6,268.6 345.1,268.5 345.6,268.4 346.1,268.5 346.6,268.5 347.1,269.1 347.6,269.0 348.1,269.0 348.6,269.1 349.1,268.8 349.6,268.8 350.1,269.1 350.6,268.7 351.1,268.2 351.6,268.2 352.1,268.8 352.7,269.0 353.2,268.8 353.7,269.2 354.2,269.7 354.7,269.7 355.2,269.0 355.7,268.7 356.2,269.0 356.7,268.5 357.2,268.6 357.7,269.5 358.2,269.6 358.7,269.6 359.2,269.5 359.7,269.0 360.2,268.6 360.7,268.7 361.2,269.5 361.7,269.4 362.2,269.0 362.7,268.6 363.2,268.7 363.7,269.2 364.2,268.9 364.7,269.5 365.2,269.5 365.7,268.5 366.2,268.5 366.7,268.9 367.2,268.6 367.7,268.3 368.2,268.1 368.7,268.0 369.2,268.7 369.7,268.6 370.2,269.0 370.7,269.1 371.2,269.2 371.7,269.7 372.2,269.0 372.7,268.8 373.2,269.0 373.7,268.8 374.2,268.9 374.7,268.9 375.2,268.7 375.7,268.7 376.2,268.7 376.7,268.2 377.2,268.6 377.7,269.3 378.2,269.4 378.8,269.1 379.3,268.4 379.8,268.7 380.3,269.4 380.8,269.3 381.3,268.9 381.8,269.0 382.3,269.3 382.8,269.3 383.3,269.3 383.8,269.1 384.3,268.8 384.8,269.1 385.3,269.4 385.8,269.1 386.3,268.8 386.8,268.4 387.3,268.5 387.8,268.6 388.3,269.1 388.8,269.2 389.3,268.8 389.8,269.0 390.3,268.9 390.8,269.1 391.3,269.3 391.8,269.3 392.3,269.3 392.8,268.8 393.3,268.5 393.8,268.5 394.3,269.0 394.8,269.2 395.3,268.5 395.8,268.2 396.3,268.6 396.8,268.8 397.3,268.6 397.8,269.0 398.3,269.2 398.8,268.8 399.3,268.5 399.8,268.7 400.3,269.1 400.8,268.4 401.3,267.9 401.8,268.8 402.3,269.3 402.8,268.7 403.3,268.3 403.8,268.7 404.3,269.1 404.8,268.4 405.4,268.0 405.9,268.2 406.4,268.4 406.9,268.6 407.4,268.6 407.9,268.2 408.4,267.9 408.9,267.7 409.4,267.7 409.9,268.2 410.4,268.0 410.9,267.5 411.4,267.2 411.9,266.7 412.4,266.6 412.9,265.9 413.4,265.3 413.9,265.1 414.4,265.4 414.9,265.9 415.4,266.3 415.9,266.8 416.4,267.2 416.9,267.4 417.4,267.3 417.9,267.4 418.4,268.4 418.9,268.9 419.4,268.8 419.9,268.9 420.4,268.6 420.9,268.6 421.4,268.5 421.9,268.8 422.4,269.0 422.9,269.0 423.4,269.0 423.9,268.6 424.4,268.9 424.9,269.1 425.4,268.5 425.9,268.3 426.4,268.7 426.9,268.9 427.4,268.9 427.9,268.6 428.4,268.4 428.9,268.4 429.4,268.7 429.9,268.7 430.4,268.6 430.9,268.9 431.4,268.5 432.0,268.6" stroke="#22c04a"/>
<path d="M259.8,262.7 260.3,262.8 260.8,262.8 261.3,262.6 261.8,262.5 262.3,262.4 262.8,262.7 263.3,262.9 263.8,263.2 264.3,263.1 264.8,262.7 265.3,262.3 265.8,261.8 266.3,262.1 266.8,262.8 267.3,262.9 267.8,262.6 268.3,262.4 268.8,262.4 269.3,262.0 269.8,262.1 270.3,262.7 270.8,262.7 271.3,262.7 271.8,262.4 272.3,262.1 272.8,262.4 273.4,262.1 273.9,262.0 274.4,262.3 274.9,262.4 275.4,261.9 275.9,261.5 276.4,261.4 276.9,261.2 277.4,261.0 277.9,261.1 278.4,261.2 278.9,260.5 279.4,259.8 279.9,259.1 280.4,257.7 280.9,255.8 281.4,254.6 281.9,255.9 282.4,257.8 282.9,259.3 283.4,260.7 283.9,260.5 284.4,260.5 284.9,261.3 285.4,261.6 285.9,262.0 286.4,262.0 286.9,262.1 287.4,262.3 287.9,262.0 288.4,262.2 288.9,262.2 289.4,262.5 289.9,262.7 290.4,262.1 290.9,262.1 291.4,262.3 291.9,262.3 292.4,262.5 292.9,262.5 293.4,263.0 293.9,263.2 294.4,262.7 294.9,262.5 295.4,262.5 295.9,262.6 296.4,262.6 296.9,262.1 297.4,262.4 297.9,262.8 298.4,262.5 298.9,262.2 299.5,262.3 300.0,262.5 300.5,262.5 301.0,262.6 301.5,262.4 302.0,262.4 302.5,262.5 303.0,262.4 303.5,262.9 304.0,263.0 304.5,262.9 305.0,262.8 305.5,262.7 306.0,262.9 306.5,262.7 307.0,262.3 307.5,262.6 308.0,262.4 308.5,261.8 309.0,262.0 309.5,262.7 310.0,263.0 310.5,262.5 311.0,262.3 311.5,262.8 312.0,262.9 312.5,262.6 313.0,262.3 313.5,262.4 314.0,262.7 314.5,262.7 315.0,263.0 315.5,262.9 316.0,262.9 316.5,263.3 317.0,263.2 317.5,263.0 318.0,263.2 318.5,263.6 319.0,262.9 319.5,262.5 320.0,262.4 320.5,262.6 321.0,263.4 321.5,263.4 322.0,262.9 322.5,262.2 323.0,262.4 323.5,262.5 324.0,262.2 324.5,261.8 325.0,262.2 325.5,262.9 326.1,262.4 326.6,261.9 327.1,262.1 327.6,262.3 328.1,262.4 328.6,262.7 329.1,262.7 329.6,262.0 330.1,261.6 330.6,261.6 331.1,261.7 331.6,261.1 332.1,260.3 332.6,259.6 333.1,258.6 333.6,258.6 334.1,259.3 334.6,260.3 335.1,261.0 335.6,261.2 336.1,261.4 336.6,261.6 337.1,261.9 337.6,262.2 338.1,262.9 338.6,262.9 339.1,262.8 339.6,262.7 340.1,262.4 340.6,262.0 341.1,262.2 341.6,262.6 342.1,262.6 342.6,263.1 343.1,262.8 343.6,262.2 344.1,262.9 344.6,262.8 345.1,262.7 345.6,262.7 346.1,262.5 346.6,263.1 347.1,263.3 347.6,262.8 348.1,262.4 348.6,262.6 349.1,262.8 349.6,262.5 350.1,262.8 350.6,263.5 351.1,263.1 351.6,262.8 352.1,262.7 352.7,262.5 353.2,262.5 353.7,262.8 354.2,262.7 354.7,262.6 355.2,263.1 355.7,263.1 356.2,263.1 356.7,263.3 357.2,263.0 357.7,263.1 358.2,263.0 358.7,262.4 359.2,262.3 359.7,262.5 360.2,262.6 360.7,262.5 361.2,262.5 361.7,262.7 362.2,262.7 362.7,262.8 363.2,262.9 363.7,262.4 364.2,262.6 364.7,262.9 365.2,263.1 365.7,263.4 366.2,263.0 366.7,263.2 367.2,263.1 367.7,262.7 368.2,262.8 368.7,262.7 369.2,263.0 369.7,262.7 370.2,262.8 370.7,262.8 371.2,263.3 371.7,263.8 372.2,263.0 372.7,262.8 373.2,263.1 373.7,262.4 374.2,262.7 374.7,263.2 375.2,263.0 375.7,262.8 376.2,262.5 376.7,262.8 377.2,262.5 377.7,262.3 378.2,263.0 378.8,262.8 379.3,262.8 379.8,262.7 380.3,262.1 380.8,262.7 381.3,263.0 381.8,262.9 382.3,263.2 382.8,263.0 383.3,262.7 383.8,262.2 384.3,262.3 384.8,262.8 385.3,263.2 385.8,263.1 386.3,262.6 386.8,262.7 387.3,262.8 387.8,263.2 388.3,263.1 388.8,262.6 389.3,262.8 389.8,262.7 390.3,262.8 390.8,262.9 391.3,262.9 391.8,262.6 392.3,262.8 392.8,262.8 393.3,262.1 393.8,262.3 394.3,262.7 394.8,262.3 395.3,262.6 395.8,263.0 396.3,263.0 396.8,262.7 397.3,262.3 397.8,262.2 398.3,262.4 398.8,262.8 399.3,262.9 399.8,262.6 400.3,262.8 400.8,263.2 401.3,263.2 401.8,263.1 402.3,263.0 402.8,262.8 403.3,262.2 403.8,262.6 404.3,262.7 404.8,262.3 405.4,262.4 405.9,262.5 406.4,262.9 406.9,263.0 407.4,262.9 407.9,262.7 408.4,262.5 408.9,262.5 409.4,262.9 409.9,262.9 410.4,262.3 410.9,262.3 411.4,261.9 411.9,261.6 412.4,261.5 412.9,261.3 413.4,261.0 413.9,260.8 414.4,261.2 414.9,262.0 415.4,262.0 415.9,261.6 416.4,261.5 416.9,261.5 417.4,261.4 417.9,262.1 418.4,262.6 418.9,262.4 419.4,262.5 419.9,262.5 420.4,262.5 420.9,262.6 421.4,262.6 421.9,262.7 422.4,262.5 422.9,262.4 423.4,262.6 423.9,262.6 424.4,262.9 424.9,263.0 425.4,262.7 425.9,262.1 426.4,262.4 426.9,262.8 427.4,262.8 427.9,263.3 428.4,263.3 428.9,262.9 429.4,262.5 429.9,262.2 430.4,262.6 430.9,262.8 431.4,263.0 432.0,262.8" stroke="#d4227c"/>
<path d="M259.8,256.8 260.3,256.6 260.8,256.3 261.3,256.8 261.8,257.1 262.3,256.2 262.8,256.7 263.3,256.9 263.8,255.9 264.3,255.9 264.8,256.5 265.3,256.7 265.8,256.5 266.3,256.7 266.8,256.7 267.3,256.3 267.8,256.1 268.3,256.2 268.8,256.4 269.3,256.7 269.8,256.2 270.3,256.6 270.8,257.1 271.3,257.1 271.8,257.2 272.3,256.7 272.8,256.5 273.4,256.2 273.9,255.9 274.4,256.0 274.9,255.8 275.4,255.1 275.9,255.1 276.4,255.7 276.9,255.4 277.4,255.2 277.9,255.3 278.4,254.9 278.9,253.4 279.4,252.4 279.9,251.9 280.4,251.0 280.9,248.8 281.4,247.4 281.9,249.1 282.4,250.8 282.9,252.2 283.4,253.5 283.9,254.0 284.4,254.6 284.9,255.0 285.4,255.1 285.9,255.4 286.4,255.3 286.9,255.8 287.4,256.4 287.9,256.0 288.4,255.8 288.9,255.6 289.4,255.7 289.9,255.7 290.4,255.7 290.9,256.0 291.4,256.3 291.9,256.5 292.4,256.6 292.9,256.7 293.4,256.2 293.9,256.1 294.4,256.7 294.9,256.9 295.4,256.9 295.9,256.4 296.4,256.3 296.9,256.9 297.4,256.9 297.9,256.8 298.4,257.0 298.9,256.6 299.5,256.1 300.0,256.2 300.5,256.5 301.0,256.9 301.5,256.6 302.0,256.9 302.5,257.1 303.0,256.8 303.5,256.7 304.0,256.5 304.5,256.4 305.0,256.7 305.5,256.8 306.0,256.6 306.5,256.6 307.0,256.5 307.5,256.4 308.0,256.9 308.5,257.5 309.0,257.5 309.5,257.0 310.0,256.6 310.5,256.4 311.0,256.2 311.5,256.7 312.0,256.6 312.5,256.6 313.0,257.0 313.5,257.1 314.0,256.9 314.5,256.9 315.0,256.8 315.5,256.0 316.0,256.0 316.5,256.4 317.0,256.7 317.5,256.8 318.0,256.7 318.5,256.8 319.0,257.1 319.5,257.2 320.0,257.0 320.5,256.7 321.0,257.0 321.5,256.8 322.0,256.7 322.5,256.8 323.0,257.1 323.5,256.6 324.0,256.2 324.5,256.4 325.0,256.4 325.5,256.4 326.1,256.4 326.6,256.4 327.1,256.2 327.6,256.4 328.1,256.7 328.6,256.9 329.1,256.3 329.6,255.9 330.1,256.2 330.6,256.0 331.1,255.8 331.6,255.5 332.1,254.8 332.6,254.3 333.1,254.1 333.6,254.0 334.1,254.3 334.6,254.6 335.1,255.3 335.6,256.3 336.1,256.4 336.6,256.0 337.1,256.0 337.6,256.3 338.1,256.2 338.6,256.5 339.1,256.3 339.6,255.6 340.1,256.1 340.6,256.7 341.1,256.5 341.6,256.4 342.1,256.5 342.6,257.0 343.1,256.6 343.6,256.3 344.1,256.7 344.6,256.2 345.1,256.1 345.6,256.6 346.1,256.7 346.6,256.5 347.1,256.4 347.6,256.5 348.1,256.4 348.6,256.4 349.1,256.7 349.6,257.2 350.1,256.4 350.6,256.0 351.1,256.8 351.6,256.7 352.1,256.7 352.7,256.5 353.2,256.7 353.7,257.0 354.2,257.0 354.7,256.7 355.2,256.5 355.7,256.4 356.2,256.1 356.7,256.8 357.2,257.2 357.7,257.1 358.2,257.0 358.7,256.8 359.2,257.0 359.7,257.0 360.2,256.8 360.7,256.9 361.2,257.0 361.7,256.7 362.2,256.8 362.7,257.0 363.2,257.1 363.7,256.8 364.2,256.5 364.7,256.5 365.2,256.6 365.7,256.8 366.2,257.0 366.7,256.9 367.2,256.4 367.7,257.0 368.2,257.3 368.7,257.1 369.2,256.8 369.7,257.0 370.2,256.9 370.7,256.5 371.2,256.5 371.7,256.4 372.2,257.0 372.7,256.9 373.2,256.6 373.7,257.0 374.2,256.9 374.7,256.7 375.2,256.5 375.7,256.7 376.2,256.7 376.7,256.8 377.2,257.2 377.7,257.0 378.2,256.6 378.8,256.4 379.3,256.7 379.8,256.4 380.3,256.6 380.8,256.6 381.3,256.1 381.8,256.7 382.3,257.1 382.8,257.3 383.3,256.9 383.8,257.0 384.3,257.2 384.8,256.8 385.3,256.5 385.8,256.4 386.3,256.4 386.8,256.5 387.3,256.8 387.8,256.9 388.3,256.8 388.8,257.1 389.3,257.2 389.8,257.2 390.3,257.3 390.8,256.6 391.3,256.6 391.8,256.5 392.3,256.3 392.8,256.7 393.3,256.7 393.8,256.7 394.3,256.5 394.8,256.9 395.3,257.0 395.8,256.8 396.3,257.0 396.8,256.9 397.3,256.7 397.8,256.1 398.3,256.0 398.8,256.6 399.3,257.0 399.8,257.1 400.3,256.9 400.8,257.1 401.3,257.4 401.8,256.9 402.3,256.2 402.8,256.1 403.3,256.3 403.8,255.9 404.3,256.2 404.8,256.5 405.4,256.7 405.9,256.7 406.4,256.6 406.9,256.7 407.4,256.7 407.9,256.9 408.4,256.2 408.9,256.2 409.4,256.6 409.9,256.4 410.4,256.4 410.9,256.1 411.4,255.8 411.9,256.3 412.4,256.6 412.9,256.4 413.4,256.0 413.9,255.3 414.4,255.7 414.9,256.4 415.4,256.6 415.9,256.1 416.4,255.7 416.9,256.2 417.4,256.4 417.9,256.5 418.4,256.7 418.9,256.8 419.4,256.7 419.9,256.6 420.4,256.9 420.9,256.9 421.4,256.6 421.9,256.0 422.4,256.4 422.9,256.8 423.4,256.5 423.9,256.6 424.4,256.5 424.9,256.2 425.4,256.3 425.9,256.6 426.4,256.4 426.9,256.4 427.4,256.7 427.9,256.6 428.4,256.4 428.9,256.9 429.4,257.6 429.9,256.8 430.4,256.9 430.9,257.1 431.4,257.1 432.0,257.0" stroke="#22c4c8"/>
<path d="M259.8,250.9 260.3,250.6 260.8,250.7 261.3,251.0 261.8,250.4 262.3,250.0 262.8,250.2 263.3,250.5 263.8,250.8 264.3,251.1 264.8,250.6 265.3,250.6 265.8,251.1 266.3,251.0 266.8,250.5 267.3,250.7 267.8,250.5 268.3,250.1 268.8,250.5 269.3,250.5 269.8,250.8 270.3,251.2 270.8,250.5 271.3,250.2 271.8,250.6 272.3,250.3 272.8,249.9 273.4,249.8 273.9,249.7 274.4,249.5 274.9,249.5 275.4,249.3 275.9,248.7 276.4,249.0 276.9,249.2 277.4,248.8 277.9,248.3 278.4,247.5 278.9,247.1 279.4,246.2 279.9,245.0 280.4,244.2 280.9,242.4 281.4,241.0 281.9,242.2 282.4,244.2 282.9,245.4 283.4,246.6 283.9,247.4 284.4,247.7 284.9,248.4 285.4,248.8 285.9,248.8 286.4,248.8 286.9,249.7 287.4,249.7 287.9,250.0 288.4,250.4 288.9,249.9 289.4,249.7 289.9,249.9 290.4,250.6 290.9,250.6 291.4,250.5 291.9,250.4 292.4,250.6 292.9,250.8 293.4,250.5 293.9,249.8 294.4,249.7 294.9,250.2 295.4,250.4 295.9,250.3 296.4,250.3 296.9,250.5 297.4,250.5 297.9,250.5 298.4,250.2 298.9,250.4 299.5,249.8 300.0,249.8 300.5,250.8 301.0,250.9 301.5,250.8 302.0,250.4 302.5,250.4 303.0,250.8 303.5,250.9 304.0,250.7 304.5,250.5 305.0,250.7 305.5,250.7 306.0,250.8 306.5,250.8 307.0,250.9 307.5,250.8 308.0,250.7 308.5,250.6 309.0,250.4 309.5,251.0 310.0,250.7 310.5,250.4 311.0,250.5 311.5,250.5 312.0,250.6 312.5,250.4 313.0,250.5 313.5,251.0 314.0,251.1 314.5,250.5 315.0,250.4 315.5,251.0 316.0,251.0 316.5,250.9 317.0,251.2 317.5,250.8 318.0,250.2 318.5,250.4 319.0,250.9 319.5,251.4 320.0,251.0 320.5,250.3 321.0,250.7 321.5,250.5 322.0,250.9 322.5,251.5 323.0,250.5 323.5,249.9 324.0,250.6 324.5,250.7 325.0,250.0 325.5,250.0 326.1,250.3 326.6,250.4 327.1,250.8 327.6,250.8 328.1,250.4 328.6,250.6 329.1,250.8 329.6,250.6 330.1,250.3 330.6,249.8 331.1,249.5 331.6,249.4 332.1,248.8 332.6,248.7 333.1,248.5 333.6,248.4 334.1,249.1 334.6,249.3 335.1,249.4 335.6,249.4 336.1,249.7 336.6,249.9 337.1,250.1 337.6,250.3 338.1,250.3 338.6,250.3 339.1,250.0 339.6,250.0 340.1,250.3 340.6,250.5 341.1,250.6 341.6,250.9 342.1,250.7 342.6,251.1 343.1,250.9 343.6,250.6 344.1,250.7 344.6,250.7 345.1,250.8 345.6,250.9 346.1,250.7 346.6,250.3 347.1,250.6 347.6,250.7 348.1,251.0 348.6,251.0 349.1,250.4 349.6,250.2 350.1,250.3 350.6,250.0 351.1,251.0 351.6,251.3 352.1,250.5 352.7,250.3 353.2,250.3 353.7,251.2 354.2,251.1 354.7,250.1 355.2,250.3 355.7,251.0 356.2,250.8 356.7,250.6 357.2,250.9 357.7,250.6 358.2,249.8 358.7,250.2 359.2,251.0 359.7,251.1 360.2,250.7 360.7,251.1 361.2,251.3 361.7,250.9 362.2,251.4 362.7,251.2 363.2,250.7 363.7,250.6 364.2,250.8 364.7,250.2 365.2,250.3 365.7,251.0 366.2,251.0 366.7,250.8 367.2,250.5 367.7,250.7 368.2,251.2 368.7,251.1 369.2,250.8 369.7,250.5 370.2,250.3 370.7,250.1 371.2,250.2 371.7,250.8 372.2,250.9 372.7,250.3 373.2,250.5 373.7,251.1 374.2,251.1 374.7,251.1 375.2,250.9 375.7,251.1 376.2,251.0 376.7,250.8 377.2,250.4 377.7,250.4 378.2,250.6 378.8,250.7 379.3,250.7 379.8,250.7 380.3,250.6 380.8,250.8 381.3,250.9 381.8,250.8 382.3,250.7 382.8,250.5 383.3,250.5 383.8,250.0 384.3,250.3 384.8,250.3 385.3,249.9 385.8,250.2 386.3,250.4 386.8,250.4 387.3,250.2 387.8,250.2 388.3,251.1 388.8,251.5 389.3,250.6 389.8,250.0 390.3,250.3 390.8,250.7 391.3,250.6 391.8,250.8 392.3,250.6 392.8,250.3 393.3,250.6 393.8,250.4 394.3,250.7 394.8,251.0 395.3,250.6 395.8,250.3 396.3,250.3 396.8,250.6 397.3,250.9 397.8,250.8 398.3,250.6 398.8,250.4 399.3,250.6 399.8,250.8 400.3,250.4 400.8,249.9 401.3,250.3 401.8,250.6 402.3,250.1 402.8,250.4 403.3,250.6 403.8,250.4 404.3,250.5 404.8,251.2 405.4,251.2 405.9,250.7 406.4,251.0 406.9,250.6 407.4,250.6 407.9,250.9 408.4,250.7 408.9,251.0 409.4,250.9 409.9,250.8 410.4,251.2 410.9,251.3 411.4,251.1 411.9,250.9 412.4,250.3 412.9,250.6 413.4,251.1 413.9,250.7 414.4,250.4 414.9,250.6 415.4,250.4 415.9,249.9 416.4,249.9 416.9,250.6 417.4,250.8 417.9,250.7 418.4,250.7 418.9,250.7 419.4,250.8 419.9,250.8 420.4,250.7 420.9,250.3 421.4,250.2 421.9,250.2 422.4,250.3 422.9,250.5 423.4,250.8 423.9,250.9 424.4,250.4 424.9,250.6 425.4,250.7 425.9,250.5 426.4,250.9 426.9,251.1 427.4,250.4 427.9,250.8 428.4,250.9 428.9,250.4 429.4,250.1 429.9,250.2 430.4,250.6 430.9,250.7 431.4,250.7 432.0,250.3" stroke="#3434c4"/>
<path d="M259.8,244.6 260.3,244.4 260.8,244.2 261.3,244.6 261.8,244.8 262.3,245.0 262.8,245.1 263.3,244.8 263.8,244.3 264.3,244.2 264.8,244.5 265.3,244.2 265.8,244.0 266.3,244.2 266.8,244.5 267.3,244.6 267.8,244.5 268.3,244.0 268.8,243.9 269.3,244.4 269.8,245.0 270.3,244.9 270.8,244.6 271.3,244.2 271.8,243.9 272.3,243.8 272.8,244.5 273.4,244.6 273.9,243.8 274.4,243.8 274.9,244.1 275.4,244.1 275.9,243.1 276.4,242.8 276.9,242.9 277.4,242.8 277.9,242.7 278.4,242.2 278.9,241.4 279.4,240.6 279.9,239.7 280.4,238.4 280.9,236.4 281.4,235.2 281.9,237.0 282.4,239.1 282.9,240.6 283.4,241.3 283.9,241.4 284.4,241.8 284.9,242.3 285.4,242.7 285.9,242.8 286.4,243.3 286.9,243.5 287.4,243.6 287.9,244.2 288.4,243.9 288.9,243.3 289.4,243.5 289.9,243.9 290.4,244.3 290.9,244.4 291.4,244.5 291.9,244.6 292.4,244.3 292.9,244.6 293.4,245.1 293.9,245.0 294.4,245.0 294.9,245.0 295.4,244.5 295.9,244.6 296.4,244.5 296.9,243.9 297.4,243.9 297.9,244.2 298.4,244.6 298.9,244.4 299.5,244.8 300.0,245.2 300.5,244.9 301.0,245.1 301.5,244.5 302.0,244.2 302.5,244.7 303.0,245.3 303.5,244.9 304.0,244.5 304.5,244.7 305.0,244.8 305.5,244.7 306.0,244.4 306.5,245.0 307.0,245.2 307.5,244.8 308.0,245.0 308.5,245.0 309.0,244.3 309.5,244.5 310.0,245.0 310.5,244.3 311.0,244.0 311.5,244.0 312.0,244.3 312.5,244.5 313.0,243.9 313.5,244.4 314.0,245.6 314.5,245.4 315.0,244.8 315.5,244.4 316.0,244.7 316.5,245.2 317.0,245.1 317.5,244.7 318.0,244.7 318.5,244.8 319.0,244.5 319.5,244.7 320.0,245.1 320.5,244.9 321.0,244.5 321.5,244.1 322.0,244.2 322.5,244.4 323.0,243.8 323.5,243.7 324.0,244.2 324.5,244.5 325.0,244.8 325.5,245.0 326.1,244.4 326.6,243.9 327.1,244.0 327.6,243.9 328.1,243.7 328.6,243.9 329.1,243.8 329.6,244.3 330.1,244.2 330.6,243.7 331.1,243.6 331.6,243.2 332.1,243.2 332.6,243.0 333.1,242.4 333.6,242.4 334.1,242.9 334.6,243.2 335.1,243.7 335.6,244.1 336.1,244.3 336.6,244.2 337.1,244.2 337.6,244.1 338.1,244.3 338.6,244.5 339.1,244.3 339.6,244.8 340.1,244.9 340.6,243.9 341.1,243.8 341.6,244.5 342.1,244.5 342.6,244.7 343.1,244.9 343.6,244.4 344.1,244.2 344.6,244.5 345.1,244.8 345.6,244.8 346.1,244.6 346.6,244.3 347.1,244.5 347.6,244.9 348.1,245.1 348.6,245.3 349.1,244.7 349.6,244.5 350.1,245.3 350.6,244.9 351.1,244.2 351.6,244.5 352.1,244.3 352.7,244.1 353.2,244.8 353.7,245.0 354.2,244.7 354.7,244.6 355.2,244.7 355.7,245.3 356.2,245.1 356.7,244.3 357.2,244.8 357.7,245.3 358.2,245.3 358.7,245.4 359.2,245.0 359.7,245.1 360.2,245.0 360.7,245.1 361.2,245.3 361.7,244.8 362.2,244.6 362.7,244.3 363.2,244.5 363.7,244.6 364.2,244.5 364.7,245.0 365.2,245.0 365.7,244.5 366.2,244.5 366.7,244.7 367.2,244.5 367.7,245.0 368.2,245.1 368.7,244.5 369.2,244.6 369.7,244.5 370.2,244.4 370.7,245.0 371.2,245.3 371.7,245.0 372.2,244.9 372.7,244.6 373.2,244.2 373.7,244.9 374.2,245.0 374.7,244.1 375.2,243.9 375.7,244.4 376.2,244.9 376.7,245.4 377.2,245.2 377.7,244.6 378.2,244.8 378.8,245.0 379.3,244.4 379.8,244.3 380.3,244.4 380.8,244.4 381.3,245.0 381.8,244.8 382.3,244.4 382.8,244.5 383.3,244.6 383.8,244.9 384.3,244.8 384.8,244.3 385.3,244.1 385.8,244.3 386.3,244.6 386.8,244.4 387.3,244.2 387.8,244.3 388.3,244.1 388.8,244.6 389.3,244.9 389.8,244.6 390.3,244.5 390.8,244.8 391.3,245.0 391.8,245.3 392.3,245.5 392.8,245.0 393.3,244.2 393.8,244.2 394.3,244.5 394.8,244.0 395.3,244.3 395.8,245.1 396.3,244.5 396.8,244.1 397.3,244.5 397.8,244.6 398.3,244.3 398.8,244.4 399.3,244.5 399.8,244.7 400.3,245.3 400.8,245.0 401.3,244.6 401.8,244.5 402.3,244.8 402.8,245.2 403.3,245.0 403.8,244.4 404.3,244.2 404.8,244.4 405.4,244.4 405.9,244.3 406.4,244.7 406.9,244.9 407.4,244.4 407.9,244.2 408.4,244.1 408.9,244.3 409.4,244.8 409.9,244.9 410.4,244.4 410.9,244.6 411.4,245.0 411.9,245.2 412.4,244.8 412.9,244.4 413.4,244.4 413.9,243.8 414.4,243.6 414.9,244.1 415.4,244.0 415.9,244.1 416.4,244.4 416.9,244.4 417.4,244.5 417.9,244.7 418.4,245.0 418.9,244.9 419.4,245.3 419.9,245.5 420.4,245.4 420.9,245.4 421.4,244.8 421.9,244.0 422.4,243.9 422.9,244.2 423.4,244.6 423.9,245.1 424.4,245.2 424.9,244.3 425.4,244.2 425.9,245.1 426.4,244.8 426.9,244.9 427.4,244.7 427.9,244.8 428.4,245.0 428.9,244.9 429.4,245.0 429.9,244.6 430.4,244.3 430.9,244.1 431.4,244.1 432.0,244.2" stroke="#a9c21e"/>
<path d="M259.8,238.3 260.3,238.0 260.8,238.0 261.3,237.9 261.8,238.2 262.3,238.5 262.8,238.5 263.3,238.3 263.8,238.4 264.3,238.8 264.8,238.7 265.3,238.8 265.8,238.6 266.3,238.2 266.8,238.4 267.3,238.1 267.8,237.8 268.3,238.0 268.8,238.2 269.3,238.2 269.8,237.7 270.3,237.8 270.8,238.1 271.3,238.0 271.8,238.5 272.3,238.8 272.8,238.7 273.4,238.5 273.9,237.8 274.4,237.6 274.9,237.8 275.4,237.6 275.9,237.5 276.4,237.2 276.9,237.6 277.4,237.5 277.9,237.2 278.4,236.7 278.9,235.3 279.4,234.7 279.9,234.0 280.4,232.2 280.9,230.6 281.4,229.8 281.9,231.0 282.4,232.7 282.9,233.8 283.4,235.4 283.9,236.3 284.4,236.2 284.9,236.9 285.4,237.7 285.9,237.5 286.4,237.3 286.9,237.6 287.4,238.2 287.9,237.7 288.4,237.6 288.9,238.4 289.4,237.9 289.9,237.9 290.4,238.4 290.9,238.2 291.4,238.1 291.9,238.1 292.4,238.1 292.9,238.2 293.4,238.2 293.9,238.1 294.4,237.9 294.9,238.4 295.4,238.7 295.9,238.1 296.4,238.1 296.9,238.3 297.4,238.3 297.9,238.7 298.4,238.8 298.9,238.6 299.5,238.1 300.0,238.0 300.5,238.5 301.0,238.4 301.5,238.2 302.0,238.9 302.5,238.6 303.0,237.8 303.5,237.9 304.0,238.0 304.5,238.5 305.0,238.8 305.5,238.1 306.0,238.1 306.5,238.7 307.0,238.9 307.5,238.9 308.0,238.8 308.5,239.0 309.0,239.0 309.5,238.6 310.0,238.6 310.5,238.6 311.0,238.4 311.5,238.4 312.0,238.5 312.5,238.8 313.0,238.3 313.5,238.4 314.0,238.7 314.5,238.0 315.0,238.2 315.5,238.5 316.0,238.5 316.5,238.8 317.0,238.8 317.5,238.5 318.0,238.3 318.5,238.5 319.0,238.8 319.5,238.6 320.0,238.3 320.5,238.2 321.0,238.4 321.5,238.3 322.0,237.6 322.5,237.4 323.0,237.5 323.5,238.0 324.0,238.6 324.5,238.5 325.0,238.3 325.5,238.3 326.1,238.0 326.6,238.0 327.1,238.1 327.6,237.9 328.1,238.1 328.6,238.1 329.1,237.7 329.6,237.9 330.1,238.0 330.6,237.3 331.1,237.1 331.6,237.3 332.1,236.8 332.6,236.2 333.1,235.6 333.6,235.4 334.1,235.7 334.6,236.5 335.1,237.0 335.6,237.1 336.1,237.5 336.6,238.0 337.1,237.8 337.6,237.5 338.1,238.1 338.6,238.2 339.1,237.9 339.6,237.9 340.1,237.9 340.6,238.5 341.1,238.9 341.6,238.5 342.1,238.1 342.6,238.4 343.1,239.0 343.6,238.8 344.1,238.4 344.6,237.8 345.1,238.0 345.6,238.8 346.1,238.9 346.6,238.9 347.1,238.8 347.6,238.4 348.1,238.2 348.6,238.2 349.1,238.6 349.6,238.9 350.1,238.5 350.6,238.4 351.1,238.6 351.6,238.7 352.1,238.4 352.7,238.0 353.2,237.8 353.7,238.1 354.2,238.0 354.7,238.0 355.2,238.4 355.7,238.2 356.2,238.5 356.7,238.7 357.2,238.6 357.7,238.2 358.2,237.9 358.7,238.6 359.2,238.8 359.7,238.3 360.2,237.9 360.7,238.1 361.2,239.1 361.7,239.1 362.2,238.2 362.7,238.1 363.2,238.7 363.7,238.9 364.2,238.7 364.7,238.2 365.2,238.1 365.7,238.8 366.2,239.0 366.7,238.3 367.2,238.9 367.7,239.7 368.2,239.3 368.7,238.8 369.2,239.0 369.7,238.7 370.2,238.4 370.7,239.1 371.2,239.0 371.7,239.3 372.2,239.3 372.7,238.3 373.2,238.5 373.7,238.9 374.2,238.6 374.7,238.8 375.2,238.4 375.7,237.5 376.2,238.2 376.7,239.0 377.2,238.8 377.7,238.9 378.2,238.4 378.8,237.6 379.3,237.8 379.8,238.5 380.3,238.9 380.8,239.0 381.3,238.4 381.8,238.4 382.3,239.0 382.8,239.1 383.3,239.2 383.8,239.2 384.3,238.6 384.8,238.0 385.3,237.9 385.8,238.3 386.3,238.9 386.8,238.4 387.3,238.6 387.8,238.7 388.3,238.0 388.8,238.4 389.3,238.7 389.8,237.8 390.3,237.6 390.8,238.5 391.3,238.0 391.8,238.0 392.3,238.8 392.8,238.7 393.3,238.2 393.8,238.4 394.3,238.4 394.8,238.0 395.3,238.3 395.8,238.8 396.3,238.6 396.8,238.2 397.3,238.6 397.8,238.7 398.3,238.9 398.8,239.0 399.3,238.8 399.8,238.8 400.3,238.2 400.8,238.7 401.3,239.2 401.8,238.8 402.3,238.3 402.8,238.4 403.3,238.7 403.8,238.8 404.3,238.5 404.8,238.3 405.4,238.2 405.9,238.2 406.4,238.6 406.9,238.5 407.4,237.8 407.9,237.9 408.4,238.3 408.9,238.7 409.4,238.8 409.9,238.7 410.4,238.4 410.9,238.0 411.4,238.3 411.9,238.0 412.4,237.8 412.9,237.8 413.4,238.0 413.9,238.1 414.4,238.0 414.9,238.1 415.4,237.9 415.9,237.9 416.4,238.3 416.9,238.0 417.4,237.8 417.9,237.9 418.4,238.1 418.9,238.9 419.4,239.1 419.9,238.6 420.4,238.3 420.9,238.2 421.4,238.0 421.9,238.3 422.4,238.6 422.9,238.4 423.4,238.5 423.9,238.9 424.4,238.7 424.9,238.4 425.4,238.3 425.9,238.6 426.4,238.6 426.9,238.7 427.4,238.7 427.9,238.9 428.4,238.7 428.9,238.5 429.4,238.8 429.9,238.8 430.4,238.8 430.9,238.5 431.4,238.9 432.0,238.7" stroke="#b57878"/>
<path d="M259.8,232.7 260.3,233.0 260.8,232.6 261.3,232.6 261.8,232.7 262.3,232.5 262.8,232.1 263.3,232.1 263.8,232.4 264.3,232.8 264.8,232.9 265.3,232.7 265.8,232.5 266.3,232.1 266.8,232.6 267.3,232.8 267.8,232.1 268.3,232.2 268.8,232.5 269.3,232.1 269.8,231.6 270.3,231.5 270.8,232.1 271.3,232.4 271.8,232.3 272.3,231.9 272.8,231.5 273.4,231.7 273.9,232.0 274.4,232.0 274.9,231.9 275.4,231.9 275.9,231.8 276.4,231.5 276.9,231.5 277.4,230.9 277.9,231.0 278.4,230.7 278.9,229.9 279.4,229.3 279.9,228.5 280.4,227.7 280.9,226.1 281.4,225.4 281.9,226.7 282.4,228.3 282.9,229.1 283.4,230.1 283.9,230.7 284.4,230.3 284.9,230.3 285.4,231.0 285.9,231.2 286.4,231.5 286.9,231.8 287.4,231.6 287.9,231.5 288.4,232.0 288.9,231.7 289.4,231.3 289.9,231.7 290.4,231.8 290.9,231.9 291.4,231.8 291.9,231.8 292.4,232.2 292.9,232.7 293.4,232.3 293.9,231.7 294.4,232.2 294.9,232.5 295.4,232.4 295.9,232.5 296.4,232.5 296.9,231.9 297.4,232.4 297.9,232.8 298.4,232.3 298.9,232.0 299.5,232.0 300.0,232.3 300.5,232.6 301.0,232.6 301.5,233.1 302.0,233.3 302.5,232.5 303.0,232.3 303.5,232.7 304.0,232.3 304.5,232.3 305.0,232.5 305.5,232.1 306.0,232.2 306.5,232.4 307.0,232.7 307.5,232.3 308.0,232.0 308.5,232.6 309.0,232.3 309.5,232.1 310.0,232.2 310.5,232.4 311.0,232.4 311.5,232.3 312.0,232.7 312.5,232.5 313.0,232.4 313.5,232.7 314.0,232.8 314.5,232.3 315.0,232.4 315.5,232.9 316.0,232.5 316.5,232.1 317.0,232.5 317.5,232.4 318.0,232.0 318.5,232.7 319.0,232.7 319.5,232.3 320.0,232.4 320.5,232.5 321.0,232.7 321.5,232.4 322.0,232.0 322.5,231.7 323.0,232.4 323.5,232.7 324.0,232.3 324.5,232.1 325.0,232.4 325.5,233.1 326.1,232.6 326.6,232.1 327.1,232.1 327.6,231.9 328.1,231.8 328.6,232.3 329.1,232.2 329.6,231.4 330.1,230.9 330.6,230.8 331.1,230.9 331.6,230.8 332.1,230.1 332.6,229.1 333.1,228.6 333.6,228.8 334.1,229.0 334.6,229.4 335.1,230.7 335.6,231.1 336.1,231.3 336.6,231.7 337.1,231.5 337.6,231.5 338.1,232.2 338.6,232.5 339.1,232.4 339.6,231.9 340.1,232.0 340.6,231.9 341.1,232.1 341.6,232.8 342.1,232.9 342.6,232.3 343.1,232.3 343.6,233.2 344.1,233.1 344.6,232.7 345.1,232.7 345.6,232.3 346.1,232.0 346.6,232.2 347.1,232.6 347.6,232.5 348.1,232.3 348.6,232.2 349.1,232.2 349.6,232.4 350.1,232.6 350.6,232.6 351.1,232.4 351.6,232.1 352.1,232.4 352.7,232.5 353.2,231.9 353.7,232.0 354.2,232.7 354.7,232.9 355.2,232.8 355.7,232.2 356.2,232.4 356.7,233.1 357.2,232.7 357.7,232.5 358.2,232.4 358.7,231.9 359.2,232.0 359.7,232.5 360.2,232.9 360.7,232.7 361.2,232.4 361.7,232.6 362.2,232.7 362.7,232.7 363.2,232.9 363.7,232.5 364.2,232.4 364.7,232.4 365.2,232.6 365.7,233.1 366.2,232.8 366.7,232.0 367.2,232.7 367.7,232.8 368.2,232.3 368.7,232.3 369.2,232.3 369.7,232.6 370.2,232.6 370.7,232.4 371.2,232.4 371.7,232.3 372.2,232.6 372.7,232.8 373.2,232.5 373.7,232.5 374.2,232.3 374.7,232.3 375.2,232.1 375.7,231.9 376.2,232.2 376.7,232.3 377.2,232.3 377.7,232.8 378.2,232.9 378.8,232.2 379.3,231.9 379.8,232.5 380.3,232.6 380.8,232.5 381.3,232.9 381.8,232.7 382.3,232.2 382.8,232.4 383.3,232.6 383.8,232.1 384.3,232.8 384.8,233.1 385.3,232.5 385.8,232.7 386.3,232.4 386.8,232.3 387.3,232.4 387.8,232.3 388.3,232.8 388.8,232.2 389.3,232.0 389.8,232.5 390.3,232.8 390.8,232.4 391.3,232.0 391.8,232.7 392.3,233.0 392.8,232.7 393.3,232.6 393.8,232.5 394.3,232.7 394.8,233.0 395.3,233.0 395.8,232.6 396.3,232.3 396.8,232.4 397.3,232.3 397.8,232.2 398.3,232.0 398.8,232.2 399.3,232.6 399.8,232.6 400.3,232.5 400.8,232.2 401.3,232.1 401.8,232.5 402.3,232.5 402.8,232.1 403.3,232.3 403.8,232.6 404.3,232.4 404.8,231.8 405.4,231.9 405.9,232.5 406.4,232.6 406.9,232.1 407.4,231.7 407.9,231.9 408.4,231.8 408.9,231.9 409.4,232.1 409.9,232.4 410.4,232.2 410.9,232.0 411.4,231.5 411.9,231.3 412.4,231.6 412.9,231.4 413.4,230.9 413.9,230.1 414.4,230.1 414.9,231.2 415.4,231.7 415.9,231.3 416.4,231.0 416.9,231.1 417.4,232.1 417.9,232.4 418.4,232.5 418.9,232.2 419.4,231.7 419.9,231.6 420.4,231.6 420.9,232.2 421.4,232.7 421.9,232.4 422.4,232.3 422.9,232.3 423.4,231.8 423.9,232.0 424.4,232.6 424.9,232.6 425.4,232.7 425.9,232.9 426.4,232.9 426.9,233.0 427.4,232.5 427.9,232.5 428.4,233.0 428.9,233.1 429.4,232.8 429.9,232.7 430.4,232.5 430.9,232.5 431.4,232.7 432.0,233.0" stroke="#86a86a"/>
<path d="M259.8,226.6 260.3,226.8 260.8,226.7 261.3,226.8 261.8,226.6 262.3,226.5 262.8,226.7 263.3,226.3 263.8,226.2 264.3,226.1 264.8,226.2 265.3,226.7 265.8,226.4 266.3,226.3 266.8,226.5 267.3,226.4 267.8,226.1 268.3,226.0 268.8,225.9 269.3,226.3 269.8,226.5 270.3,226.4 270.8,226.4 271.3,226.5 271.8,226.5 272.3,225.9 272.8,225.8 273.4,226.2 273.9,226.4 274.4,226.0 274.9,225.4 275.4,225.5 275.9,225.8 276.4,225.7 276.9,225.8 277.4,225.5 277.9,225.0 278.4,224.8 278.9,224.3 279.4,223.8 279.9,223.4 280.4,222.2 280.9,220.6 281.4,220.3 281.9,221.1 282.4,222.1 282.9,223.3 283.4,223.8 283.9,224.0 284.4,224.5 284.9,224.8 285.4,225.7 285.9,226.1 286.4,225.2 286.9,225.4 287.4,225.7 287.9,226.0 288.4,226.2 288.9,226.1 289.4,226.3 289.9,226.4 290.4,226.3 290.9,226.2 291.4,226.3 291.9,226.2 292.4,226.2 292.9,226.3 293.4,226.5 293.9,226.9 294.4,226.8 294.9,226.3 295.4,226.3 295.9,226.1 296.4,226.0 296.9,226.4 297.4,226.9 297.9,226.9 298.4,226.9 298.9,226.4 299.5,226.2 300.0,226.3 300.5,226.1 301.0,226.2 301.5,226.6 302.0,226.3 302.5,225.9 303.0,226.6 303.5,226.8 304.0,226.1 304.5,226.3 305.0,226.6 305.5,226.4 306.0,226.6 306.5,226.9 307.0,226.7 307.5,226.7 308.0,226.3 308.5,225.9 309.0,226.4 309.5,226.1 310.0,226.3 310.5,226.7 311.0,226.5 311.5,226.8 312.0,226.7 312.5,226.1 313.0,225.8 313.5,226.3 314.0,226.6 314.5,226.6 315.0,226.6 315.5,226.2 316.0,226.3 316.5,227.0 317.0,226.6 317.5,225.6 318.0,225.7 318.5,226.5 319.0,226.4 319.5,226.3 320.0,226.4 320.5,226.1 321.0,225.9 321.5,226.3 322.0,226.6 322.5,226.1 323.0,226.4 323.5,226.9 324.0,226.4 324.5,226.1 325.0,225.7 325.5,225.7 326.1,225.8 326.6,225.6 327.1,226.0 327.6,225.6 328.1,225.5 328.6,225.5 329.1,225.1 329.6,224.9 330.1,224.9 330.6,224.7 331.1,224.2 331.6,223.9 332.1,223.3 332.6,222.3 333.1,221.2 333.6,220.8 334.1,221.7 334.6,223.1 335.1,224.2 335.6,224.8 336.1,225.2 336.6,225.5 337.1,225.4 337.6,225.8 338.1,226.1 338.6,225.8 339.1,225.8 339.6,226.1 340.1,225.9 340.6,225.7 341.1,226.5 341.6,226.8 342.1,225.8 342.6,225.8 343.1,226.6 343.6,226.9 344.1,226.8 344.6,226.3 345.1,225.9 345.6,226.2 346.1,226.6 346.6,226.8 347.1,226.5 347.6,225.9 348.1,226.4 348.6,226.1 349.1,225.5 349.6,226.0 350.1,227.2 350.6,227.0 351.1,226.1 351.6,226.1 352.1,226.3 352.7,226.9 353.2,226.9 353.7,226.1 354.2,226.0 354.7,226.4 355.2,226.6 355.7,226.5 356.2,225.7 356.7,225.9 357.2,226.6 357.7,227.0 358.2,226.8 358.7,226.3 359.2,226.8 359.7,226.8 360.2,226.6 360.7,226.3 361.2,225.9 361.7,226.3 362.2,226.8 362.7,226.8 363.2,226.6 363.7,226.2 364.2,225.8 364.7,226.2 365.2,226.5 365.7,226.5 366.2,226.5 366.7,226.1 367.2,225.8 367.7,226.6 368.2,227.0 368.7,226.4 369.2,226.1 369.7,226.5 370.2,226.9 370.7,226.7 371.2,226.6 371.7,226.7 372.2,226.2 372.7,226.2 373.2,226.2 373.7,226.4 374.2,226.9 374.7,227.0 375.2,226.1 375.7,226.0 376.2,226.2 376.7,226.2 377.2,226.6 377.7,226.5 378.2,226.7 378.8,226.7 379.3,226.6 379.8,226.5 380.3,226.4 380.8,226.7 381.3,226.6 381.8,226.9 382.3,226.9 382.8,226.4 383.3,226.3 383.8,226.5 384.3,227.0 384.8,226.8 385.3,225.8 385.8,225.6 386.3,226.2 386.8,226.5 387.3,226.3 387.8,226.4 388.3,226.3 388.8,226.0 389.3,226.2 389.8,226.4 390.3,225.8 390.8,226.0 391.3,226.6 391.8,226.7 392.3,226.5 392.8,226.4 393.3,226.8 393.8,226.6 394.3,226.4 394.8,226.6 395.3,226.2 395.8,225.8 396.3,226.1 396.8,226.6 397.3,226.4 397.8,225.9 398.3,226.2 398.8,226.6 399.3,226.6 399.8,226.8 400.3,226.8 400.8,226.7 401.3,226.8 401.8,226.8 402.3,226.7 402.8,226.7 403.3,226.6 403.8,226.8 404.3,226.8 404.8,226.5 405.4,225.7 405.9,225.2 406.4,225.5 406.9,225.8 407.4,226.2 407.9,225.7 408.4,225.6 408.9,225.4 409.4,224.9 409.9,225.2 410.4,225.1 410.9,224.8 411.4,225.3 411.9,225.3 412.4,223.8 412.9,223.2 413.4,223.1 413.9,223.2 414.4,223.4 414.9,223.3 415.4,224.0 415.9,224.9 416.4,225.2 416.9,225.3 417.4,225.3 417.9,225.5 418.4,225.5 418.9,224.9 419.4,224.7 419.9,225.3 420.4,225.7 420.9,225.9 421.4,226.0 421.9,225.9 422.4,225.9 422.9,226.6 423.4,226.1 423.9,225.9 424.4,226.6 424.9,226.5 425.4,226.2 425.9,226.0 426.4,226.2 426.9,226.2 427.4,226.1 427.9,226.2 428.4,226.2 428.9,226.2 429.4,226.2 429.9,226.6 430.4,227.1 430.9,227.0 431.4,226.5 432.0,226.3" stroke="#4464a8"/>
<path d="M259.8,220.6 260.3,220.5 260.8,219.8 261.3,219.9 261.8,220.4 262.3,220.1 262.8,220.2 263.3,220.4 263.8,219.9 264.3,219.9 264.8,220.1 265.3,220.4 265.8,220.4 266.3,220.3 266.8,220.2 267.3,220.3 267.8,219.9 268.3,220.3 268.8,220.3 269.3,219.9 269.8,220.3 270.3,219.9 270.8,220.2 271.3,220.2 271.8,219.9 272.3,220.3 272.8,220.2 273.4,219.8 273.9,219.8 274.4,219.7 274.9,219.7 275.4,219.9 275.9,219.5 276.4,219.0 276.9,219.2 277.4,219.5 277.9,219.2 278.4,219.0 278.9,219.2 279.4,218.4 279.9,217.1 280.4,216.9 280.9,216.1 281.4,215.4 281.9,216.5 282.4,217.2 282.9,217.7 283.4,218.1 283.9,218.4 284.4,218.8 284.9,218.7 285.4,219.1 285.9,219.7 286.4,219.6 286.9,219.5 287.4,220.1 287.9,220.5 288.4,220.5 288.9,220.8 289.4,220.7 289.9,220.4 290.4,220.9 290.9,220.6 291.4,220.2 291.9,220.3 292.4,220.2 292.9,220.3 293.4,220.5 293.9,220.4 294.4,220.4 294.9,220.4 295.4,220.2 295.9,220.3 296.4,220.4 296.9,219.9 297.4,219.9 297.9,220.0 298.4,220.3 298.9,220.3 299.5,220.3 300.0,220.7 300.5,221.1 301.0,221.2 301.5,220.5 302.0,220.0 302.5,220.3 303.0,220.5 303.5,220.5 304.0,220.4 304.5,220.4 305.0,220.5 305.5,220.2 306.0,220.3 306.5,220.3 307.0,219.9 307.5,220.0 308.0,219.8 308.5,219.6 309.0,220.2 309.5,220.5 310.0,220.7 310.5,220.9 311.0,220.9 311.5,220.7 312.0,220.5 312.5,220.5 313.0,220.0 313.5,220.1 314.0,220.3 314.5,220.3 315.0,221.1 315.5,221.1 316.0,220.2 316.5,220.0 317.0,220.6 317.5,220.2 318.0,220.2 318.5,220.1 319.0,219.7 319.5,219.9 320.0,219.8 320.5,220.3 321.0,220.2 321.5,220.2 322.0,220.4 322.5,220.2 323.0,219.9 323.5,220.2 324.0,220.5 324.5,220.0 325.0,219.7 325.5,220.1 326.1,220.4 326.6,220.2 327.1,220.0 327.6,219.6 328.1,219.1 328.6,219.3 329.1,219.4 329.6,219.0 330.1,218.5 330.6,218.5 331.1,218.5 331.6,217.6 332.1,216.5 332.6,215.1 333.1,213.7 333.6,214.2 334.1,215.7 334.6,216.6 335.1,217.5 335.6,217.9 336.1,218.2 336.6,218.7 337.1,219.1 337.6,219.2 338.1,219.2 338.6,219.5 339.1,219.9 339.6,219.9 340.1,219.7 340.6,219.9 341.1,220.0 341.6,220.2 342.1,220.2 342.6,219.4 343.1,219.6 343.6,220.0 344.1,219.9 344.6,220.0 345.1,220.1 345.6,220.4 346.1,220.4 346.6,220.1 347.1,220.6 347.6,220.2 348.1,220.0 348.6,220.8 349.1,220.2 349.6,219.6 350.1,219.5 350.6,219.7 351.1,220.2 351.6,220.4 352.1,220.6 352.7,220.6 353.2,220.5 353.7,220.0 354.2,220.1 354.7,220.7 355.2,220.6 355.7,220.4 356.2,220.5 356.7,220.5 357.2,220.2 357.7,220.4 358.2,220.7 358.7,220.6 359.2,220.7 359.7,221.1 360.2,221.3 360.7,220.6 361.2,220.3 361.7,220.0 362.2,219.8 362.7,220.3 363.2,220.0 363.7,219.7 364.2,220.2 364.7,220.4 365.2,220.1 365.7,220.4 366.2,220.6 366.7,220.2 367.2,220.3 367.7,220.6 368.2,220.6 368.7,220.2 369.2,220.0 369.7,220.4 370.2,220.4 370.7,220.4 371.2,220.4 371.7,220.4 372.2,220.4 372.7,220.6 373.2,220.5 373.7,220.0 374.2,220.3 374.7,220.6 375.2,220.5 375.7,220.7 376.2,220.7 376.7,220.5 377.2,220.2 377.7,220.3 378.2,220.5 378.8,220.4 379.3,220.7 379.8,220.6 380.3,220.6 380.8,221.0 381.3,220.5 381.8,220.0 382.3,220.2 382.8,220.0 383.3,220.0 383.8,219.9 384.3,220.4 384.8,220.9 385.3,220.4 385.8,220.5 386.3,220.6 386.8,220.7 387.3,220.5 387.8,220.4 388.3,220.7 388.8,220.8 389.3,221.0 389.8,220.5 390.3,220.4 390.8,220.3 391.3,220.1 391.8,220.8 392.3,221.3 392.8,221.0 393.3,220.3 393.8,220.0 394.3,220.6 394.8,220.8 395.3,220.3 395.8,220.1 396.3,220.3 396.8,220.3 397.3,220.3 397.8,220.4 398.3,220.6 398.8,220.6 399.3,220.2 399.8,219.8 400.3,220.4 400.8,220.3 401.3,220.0 401.8,220.1 402.3,220.1 402.8,220.5 403.3,220.4 403.8,220.0 404.3,220.0 404.8,220.1 405.4,220.3 405.9,220.0 406.4,219.7 406.9,219.5 407.4,219.5 407.9,219.4 408.4,219.8 408.9,220.1 409.4,219.4 409.9,218.7 410.4,218.4 410.9,218.6 411.4,218.1 411.9,217.3 412.4,217.2 412.9,217.1 413.4,216.4 413.9,215.8 414.4,216.1 414.9,216.5 415.4,217.0 415.9,217.6 416.4,218.1 416.9,218.1 417.4,218.2 417.9,218.9 418.4,219.1 418.9,219.5 419.4,220.6 419.9,220.4 420.4,219.0 420.9,218.9 421.4,219.3 421.9,219.4 422.4,219.7 422.9,220.4 423.4,220.5 423.9,219.8 424.4,219.8 424.9,219.7 425.4,220.3 425.9,220.1 426.4,219.7 426.9,219.6 427.4,220.0 427.9,220.9 428.4,221.0 428.9,220.9 429.4,220.9 429.9,220.4 430.4,220.4 430.9,220.9 431.4,220.2 432.0,219.9" stroke="#101010"/>
<path d="M259.8,214.4 260.3,214.3 260.8,213.9 261.3,213.7 261.8,213.9 262.3,213.7 262.8,213.5 263.3,213.7 263.8,214.1 264.3,214.5 264.8,214.5 265.3,214.4 265.8,214.7 266.3,214.6 266.8,213.9 267.3,213.7 267.8,213.6 268.3,213.8 268.8,214.1 269.3,213.9 269.8,214.2 270.3,214.4 270.8,214.2 271.3,213.7 271.8,213.5 272.3,213.7 272.8,213.6 273.4,213.9 273.9,213.8 274.4,214.1 274.9,214.3 275.4,213.8 275.9,213.8 276.4,213.7 276.9,213.5 277.4,213.3 277.9,213.6 278.4,213.7 278.9,213.3 279.4,212.7 279.9,212.1 280.4,211.2 280.9,210.5 281.4,210.4 281.9,210.4 282.4,211.4 282.9,212.7 283.4,213.4 283.9,213.5 284.4,213.2 284.9,213.1 285.4,213.5 285.9,213.8 286.4,213.9 286.9,214.3 287.4,213.8 287.9,213.7 288.4,214.2 288.9,214.3 289.4,214.0 289.9,213.9 290.4,214.3 290.9,214.5 291.4,214.3 291.9,213.5 292.4,213.9 292.9,213.9 293.4,213.9 293.9,214.5 294.4,214.0 294.9,213.8 295.4,214.2 295.9,214.3 296.4,214.6 296.9,215.0 297.4,214.3 297.9,214.2 298.4,214.6 298.9,214.6 299.5,214.2 300.0,213.6 300.5,214.0 301.0,214.4 301.5,214.0 302.0,213.9 302.5,214.0 303.0,214.4 303.5,214.7 304.0,214.5 304.5,214.2 305.0,214.0 305.5,214.3 306.0,214.4 306.5,214.0 307.0,214.4 307.5,214.2 308.0,214.1 308.5,214.3 309.0,214.0 309.5,214.3 310.0,214.3 310.5,214.2 311.0,214.1 311.5,214.1 312.0,215.0 312.5,215.0 313.0,214.2 313.5,213.9 314.0,214.1 314.5,213.6 315.0,213.6 315.5,213.6 316.0,214.2 316.5,214.4 317.0,214.1 317.5,215.0 318.0,214.7 318.5,213.6 319.0,213.7 319.5,214.2 320.0,214.4 320.5,214.2 321.0,213.7 321.5,214.0 322.0,215.0 322.5,214.9 323.0,214.3 323.5,214.1 324.0,213.7 324.5,213.9 325.0,214.6 325.5,214.6 326.1,213.8 326.6,213.4 327.1,213.8 327.6,214.4 328.1,214.1 328.6,213.4 329.1,213.1 329.6,212.8 330.1,212.4 330.6,212.1 331.1,212.0 331.6,211.2 332.1,210.4 332.6,209.2 333.1,207.6 333.6,208.1 334.1,209.5 334.6,210.2 335.1,210.8 335.6,211.6 336.1,212.4 336.6,212.7 337.1,213.0 337.6,213.4 338.1,213.3 338.6,213.3 339.1,213.4 339.6,213.8 340.1,214.0 340.6,214.0 341.1,214.1 341.6,213.6 342.1,214.2 342.6,214.8 343.1,214.6 343.6,214.4 344.1,214.1 344.6,214.3 345.1,214.2 345.6,214.2 346.1,214.0 346.6,213.8 347.1,213.7 347.6,213.7 348.1,214.0 348.6,214.3 349.1,214.5 349.6,214.3 350.1,214.0 350.6,214.1 351.1,214.4 351.6,213.8 352.1,213.5 352.7,214.1 353.2,214.0 353.7,214.0 354.2,214.6 354.7,214.4 355.2,214.2 355.7,214.0 356.2,213.8 356.7,213.7 357.2,214.3 357.7,214.5 358.2,213.9 358.7,214.2 359.2,214.6 359.7,214.4 360.2,214.1 360.7,214.3 361.2,214.0 361.7,213.9 362.2,213.8 362.7,213.7 363.2,213.8 363.7,214.2 364.2,215.1 364.7,214.6 365.2,213.6 365.7,214.0 366.2,214.5 366.7,214.0 367.2,214.0 367.7,214.3 368.2,214.4 368.7,214.5 369.2,214.6 369.7,213.8 370.2,214.0 370.7,214.6 371.2,214.7 371.7,214.4 372.2,213.9 372.7,214.2 373.2,214.7 373.7,214.8 374.2,214.5 374.7,214.2 375.2,214.2 375.7,214.2 376.2,214.0 376.7,214.0 377.2,214.3 377.7,214.2 378.2,213.8 378.8,213.8 379.3,214.1 379.8,214.0 380.3,214.2 380.8,214.7 381.3,214.3 381.8,214.1 382.3,214.6 382.8,214.8 383.3,214.0 383.8,214.0 384.3,214.3 384.8,213.7 385.3,214.1 385.8,214.5 386.3,214.3 386.8,214.4 387.3,214.0 387.8,214.6 388.3,214.7 388.8,214.4 389.3,214.7 389.8,214.7 390.3,214.4 390.8,214.0 391.3,213.9 391.8,213.8 392.3,214.0 392.8,213.9 393.3,213.9 393.8,214.0 394.3,213.9 394.8,214.0 395.3,214.0 395.8,214.0 396.3,214.3 396.8,214.8 397.3,214.8 397.8,214.4 398.3,214.1 398.8,214.0 399.3,213.9 399.8,214.1 400.3,214.3 400.8,213.9 401.3,213.7 401.8,213.7 402.3,214.3 402.8,214.6 403.3,214.6 403.8,214.4 404.3,213.4 404.8,213.4 405.4,213.8 405.9,213.9 406.4,214.1 406.9,213.3 407.4,213.3 407.9,213.7 408.4,213.2 408.9,212.6 409.4,212.3 409.9,212.4 410.4,212.3 410.9,212.3 411.4,211.6 411.9,211.1 412.4,210.4 412.9,209.9 413.4,209.6 413.9,209.0 414.4,208.9 414.9,209.8 415.4,210.6 415.9,211.2 416.4,211.6 416.9,212.2 417.4,212.8 417.9,212.9 418.4,213.0 418.9,212.9 419.4,213.2 419.9,213.6 420.4,213.9 420.9,213.9 421.4,213.4 421.9,213.3 422.4,213.8 422.9,213.5 423.4,213.2 423.9,213.4 424.4,213.5 424.9,213.5 425.4,213.8 425.9,213.8 426.4,213.7 426.9,214.2 427.4,214.2 427.9,213.4 428.4,213.5 428.9,214.1 429.4,214.1 429.9,213.8 430.4,213.5 430.9,213.9 431.4,214.2 432.0,214.1" stroke="#e62222"/>
</g>
<rect x="259.8" y="193.9" width="171.8" height="159" fill="none" stroke="#000" stroke-width="1.5"/>
<text class="n" x="259.8" y="364.74" font-size="8.9" text-anchor="middle" fill="#111" stroke="#111">200</text>
<line x1="295.65" y1="352.9" x2="295.65" y2="349.7" stroke="#000" stroke-width="1.1"/>
<text class="n" x="295.65" y="364.74" font-size="8.9" text-anchor="middle" fill="#111" stroke="#111">300</text>
<line x1="331.5" y1="352.9" x2="331.5" y2="349.7" stroke="#000" stroke-width="1.1"/>
<text class="n" x="331.5" y="364.74" font-size="8.9" text-anchor="middle" fill="#111" stroke="#111">400</text>
<line x1="367.35" y1="352.9" x2="367.35" y2="349.7" stroke="#000" stroke-width="1.1"/>
<text class="n" x="367.35" y="364.74" font-size="8.9" text-anchor="middle" fill="#111" stroke="#111">500</text>
<line x1="403.2" y1="352.9" x2="403.2" y2="349.7" stroke="#000" stroke-width="1.1"/>
<text class="n" x="403.2" y="364.74" font-size="8.9" text-anchor="middle" fill="#111" stroke="#111">600</text>
<text class="s" x="344.2" y="376.8" font-size="11" text-anchor="middle" stroke="#000">Raman shift (cm<tspan font-size="6.5" dy="-4.4">-1</tspan><tspan dy="4.4">)</tspan></text>
<text class="s" x="240.4" y="276.2" font-size="10.8" text-anchor="middle" stroke="#000" transform="rotate(-90 240.4 276.2)">Raman intensity (a.u.)</text>
<text class="s" x="237.6" y="203.02" font-size="15.5" text-anchor="middle" stroke="#000">(d)</text>
<text class="s" x="278.7" y="204.8" font-size="8.6" font-style="italic" font-weight="bold" fill="#1f9a96" stroke="#1f9a96">A</text>
<text class="s" x="284.6" y="200.76" font-size="5.16" font-weight="bold" fill="#1f9a96" stroke="#1f9a96">1</text>
<text class="s" x="284.4" y="207.12" font-size="5.16" font-style="italic" font-weight="bold" fill="#1f9a96" stroke="#1f9a96">g</text>
<text class="s" x="330.6" y="204.4" font-size="8.6" font-style="italic" font-weight="bold" fill="#1f9a96" stroke="#1f9a96">A</text>
<text class="s" x="336.5" y="200.36" font-size="5.16" font-weight="bold" fill="#1f9a96" stroke="#1f9a96">2</text>
<text class="s" x="336.3" y="206.72" font-size="5.16" font-style="italic" font-weight="bold" fill="#1f9a96" stroke="#1f9a96">g</text>
<text class="s" x="411.2" y="204.6" font-size="8.6" font-style="italic" font-weight="bold" fill="#1f9a96" stroke="#1f9a96">A</text>
<text class="s" x="417.1" y="200.56" font-size="5.16" font-weight="bold" fill="#1f9a96" stroke="#1f9a96">3</text>
<text class="s" x="416.9" y="206.92" font-size="5.16" font-style="italic" font-weight="bold" fill="#1f9a96" stroke="#1f9a96">g</text>
<text class="s" x="440.6" y="206" font-size="13" text-anchor="middle" font-style="italic" fill="#111" stroke="#111">θ</text>
<text class="s" x="433.4" y="217.3" font-size="8.6" fill="#dc2020" stroke="#dc2020">360°</text>
<text class="s" x="437.4" y="349.2" font-size="8.6" fill="#6a6a6a" stroke="#6a6a6a">0°</text>
<line x1="439.6" y1="337.8" x2="439.6" y2="226.5" stroke="#222" stroke-width="1" stroke-dasharray="2.6 2.9"/>
<path d="M439.6 221.8 L437.6 227.4 L439.6 226.2 L441.6 227.4Z" fill="#111"/>
</g>
<g id="pe">
<defs>
<linearGradient id="h0" x2="0" y2="1"><stop offset="0" stop-color="#0c57f5"/><stop offset=".1" stop-color="#0d5af4"/><stop offset=".2" stop-color="#0c5af5"/><stop offset=".3" stop-color="#094df6"/><stop offset=".4" stop-color="#0d5bf4"/><stop offset=".5" stop-color="#0e5ff4"/><stop offset=".6" stop-color="#0e62f4"/><stop offset=".7" stop-color="#094df6"/><stop offset=".8" stop-color="#0b55f5"/><stop offset=".9" stop-color="#0c5af5"/><stop offset="1" stop-color="#094cf6"/></linearGradient>
<linearGradient id="h1" x2="0" y2="1"><stop offset="0" stop-color="#0c57f5"/><stop offset=".1" stop-color="#0d5bf4"/><stop offset=".2" stop-color="#0c59f5"/><stop offset=".3" stop-color="#0743f7"/><stop offset=".4" stop-color="#0b53f5"/><stop offset=".5" stop-color="#0e62f4"/><stop offset=".6" stop-color="#116df2"/><stop offset=".7" stop-color="#0f64f3"/><stop offset=".8" stop-color="#0a52f5"/><stop offset=".9" stop-color="#0847f7"/><stop offset="1" stop-color="#0b54f5"/></linearGradient>
<linearGradient id="h2" x2="0" y2="1"><stop offset="0" stop-color="#0d5cf4"/><stop offset=".1" stop-color="#0e5ff4"/><stop offset=".2" stop-color="#0e5ff4"/><stop offset=".3" stop-color="#0b52f5"/><stop offset=".4" stop-color="#1069f3"/><stop offset=".5" stop-color="#0e5ff4"/><stop offset=".6" stop-color="#0c58f5"/><stop offset=".7" stop-color="#0d5bf4"/><stop offset=".8" stop-color="#1069f3"/><stop offset=".9" stop-color="#1068f3"/><stop offset="1" stop-color="#116cf2"/></linearGradient>
<linearGradient id="h3" x2="0" y2="1"><stop offset="0" stop-color="#1476f1"/><stop offset=".1" stop-color="#1068f3"/><stop offset=".2" stop-color="#0f63f3"/><stop offset=".3" stop-color="#0641f7"/><stop offset=".4" stop-color="#0c56f5"/><stop offset=".5" stop-color="#116bf2"/><stop offset=".6" stop-color="#1373f2"/><stop offset=".7" stop-color="#0f66f3"/><stop offset=".8" stop-color="#0b56f5"/><stop offset=".9" stop-color="#0f64f3"/><stop offset="1" stop-color="#1270f2"/></linearGradient>
<linearGradient id="h4" x2="0" y2="1"><stop offset="0" stop-color="#0f62f4"/><stop offset=".1" stop-color="#0e60f4"/><stop offset=".2" stop-color="#0d5ef4"/><stop offset=".3" stop-color="#0a51f5"/><stop offset=".4" stop-color="#0c59f5"/><stop offset=".5" stop-color="#0f64f3"/><stop offset=".6" stop-color="#1478f1"/><stop offset=".7" stop-color="#0d5bf4"/><stop offset=".8" stop-color="#094ef6"/><stop offset=".9" stop-color="#0f64f3"/><stop offset="1" stop-color="#116cf2"/></linearGradient>
<linearGradient id="h5" x2="0" y2="1"><stop offset="0" stop-color="#116df2"/><stop offset=".1" stop-color="#116bf2"/><stop offset=".2" stop-color="#0f65f3"/><stop offset=".3" stop-color="#0f65f3"/><stop offset=".4" stop-color="#1271f2"/><stop offset=".5" stop-color="#167ff0"/><stop offset=".6" stop-color="#1066f3"/><stop offset=".7" stop-color="#1068f3"/><stop offset=".8" stop-color="#1375f1"/><stop offset=".9" stop-color="#1479f1"/><stop offset="1" stop-color="#1376f1"/></linearGradient>
<linearGradient id="h6" x2="0" y2="1"><stop offset="0" stop-color="#1583f0"/><stop offset=".1" stop-color="#1373f1"/><stop offset=".2" stop-color="#1583f0"/><stop offset=".3" stop-color="#157bf1"/><stop offset=".4" stop-color="#1488f0"/><stop offset=".5" stop-color="#1680f0"/><stop offset=".6" stop-color="#167ff0"/><stop offset=".7" stop-color="#1477f1"/><stop offset=".8" stop-color="#1487f0"/><stop offset=".9" stop-color="#138df1"/><stop offset="1" stop-color="#1584f0"/></linearGradient>
<linearGradient id="h7" x2="0" y2="1"><stop offset="0" stop-color="#1099f1"/><stop offset=".1" stop-color="#0da7f2"/><stop offset=".2" stop-color="#0ea2f2"/><stop offset=".3" stop-color="#1487f0"/><stop offset=".4" stop-color="#1585f0"/><stop offset=".5" stop-color="#0ea3f2"/><stop offset=".6" stop-color="#0cabf2"/><stop offset=".7" stop-color="#0cabf2"/><stop offset=".8" stop-color="#138cf1"/><stop offset=".9" stop-color="#1585f0"/><stop offset="1" stop-color="#0ea5f2"/></linearGradient>
<linearGradient id="h8" x2="0" y2="1"><stop offset="0" stop-color="#0cacf2"/><stop offset=".1" stop-color="#0daaf2"/><stop offset=".2" stop-color="#0ab5f3"/><stop offset=".3" stop-color="#08bcf3"/><stop offset=".4" stop-color="#0caef2"/><stop offset=".5" stop-color="#0fa1f2"/><stop offset=".6" stop-color="#0ea4f2"/><stop offset=".7" stop-color="#07c3f3"/><stop offset=".8" stop-color="#09b7f3"/><stop offset=".9" stop-color="#0cacf2"/><stop offset="1" stop-color="#0da9f2"/></linearGradient>
<linearGradient id="h9" x2="0" y2="1"><stop offset="0" stop-color="#0bb2f3"/><stop offset=".1" stop-color="#09bbf3"/><stop offset=".2" stop-color="#09baf3"/><stop offset=".3" stop-color="#1196f1"/><stop offset=".4" stop-color="#0cadf2"/><stop offset=".5" stop-color="#07c1f3"/><stop offset=".6" stop-color="#07c0f3"/><stop offset=".7" stop-color="#08bef3"/><stop offset=".8" stop-color="#0ea2f2"/><stop offset=".9" stop-color="#0ea5f2"/><stop offset="1" stop-color="#08bff3"/></linearGradient>
<linearGradient id="h10" x2="0" y2="1"><stop offset="0" stop-color="#0cacf2"/><stop offset=".1" stop-color="#0da9f2"/><stop offset=".2" stop-color="#0ea3f2"/><stop offset=".3" stop-color="#1195f1"/><stop offset=".4" stop-color="#1099f1"/><stop offset=".5" stop-color="#0da9f2"/><stop offset=".6" stop-color="#0bb0f2"/><stop offset=".7" stop-color="#0ea2f2"/><stop offset=".8" stop-color="#0ea4f2"/><stop offset=".9" stop-color="#0f9ef2"/><stop offset="1" stop-color="#0ea3f2"/></linearGradient>
<linearGradient id="h11" x2="0" y2="1"><stop offset="0" stop-color="#109cf1"/><stop offset=".1" stop-color="#1294f1"/><stop offset=".2" stop-color="#0ea5f2"/><stop offset=".3" stop-color="#1290f1"/><stop offset=".4" stop-color="#0bb0f2"/><stop offset=".5" stop-color="#109cf1"/><stop offset=".6" stop-color="#0da6f2"/><stop offset=".7" stop-color="#109cf1"/><stop offset=".8" stop-color="#1293f1"/><stop offset=".9" stop-color="#1196f1"/><stop offset="1" stop-color="#1198f1"/></linearGradient>
<linearGradient id="h12" x2="0" y2="1"><stop offset="0" stop-color="#0baff2"/><stop offset=".1" stop-color="#0baff2"/><stop offset=".2" stop-color="#09b9f3"/><stop offset=".3" stop-color="#0cadf2"/><stop offset=".4" stop-color="#09b9f3"/><stop offset=".5" stop-color="#0bb2f3"/><stop offset=".6" stop-color="#0baef2"/><stop offset=".7" stop-color="#0ab4f3"/><stop offset=".8" stop-color="#0da8f2"/><stop offset=".9" stop-color="#0cadf2"/><stop offset="1" stop-color="#0ab7f3"/></linearGradient>
<linearGradient id="h13" x2="0" y2="1"><stop offset="0" stop-color="#09b8f3"/><stop offset=".04" stop-color="#0ab7f3"/><stop offset=".08" stop-color="#0da8f2"/><stop offset=".12" stop-color="#0cadf2"/><stop offset=".17" stop-color="#0bb2f3"/><stop offset=".21" stop-color="#09b9f3"/><stop offset=".25" stop-color="#0bb2f3"/><stop offset=".29" stop-color="#08bff3"/><stop offset=".33" stop-color="#109cf1"/><stop offset=".38" stop-color="#0caaf2"/><stop offset=".42" stop-color="#08bdf3"/><stop offset=".46" stop-color="#09bbf3"/><stop offset=".5" stop-color="#08bdf3"/><stop offset=".54" stop-color="#09b7f3"/><stop offset=".58" stop-color="#0ab6f3"/><stop offset=".62" stop-color="#0ab7f3"/><stop offset=".67" stop-color="#0ab4f3"/><stop offset=".71" stop-color="#0ab5f3"/><stop offset=".75" stop-color="#07c2f3"/><stop offset=".79" stop-color="#07c4f4"/><stop offset=".83" stop-color="#0bb2f3"/><stop offset=".88" stop-color="#09bbf3"/><stop offset=".92" stop-color="#07c1f3"/><stop offset=".96" stop-color="#08bef3"/><stop offset="1" stop-color="#0ab3f3"/></linearGradient>
<linearGradient id="h14" x2="0" y2="1"><stop offset="0" stop-color="#138ff1"/><stop offset=".04" stop-color="#1196f1"/><stop offset=".08" stop-color="#1195f1"/><stop offset=".12" stop-color="#0cabf2"/><stop offset=".17" stop-color="#0ab5f3"/><stop offset=".21" stop-color="#07c1f3"/><stop offset=".25" stop-color="#03d2f4"/><stop offset=".29" stop-color="#0ab5f3"/><stop offset=".33" stop-color="#0f9ef2"/><stop offset=".38" stop-color="#0ea2f2"/><stop offset=".42" stop-color="#0cadf2"/><stop offset=".46" stop-color="#0f9ff2"/><stop offset=".5" stop-color="#1194f1"/><stop offset=".54" stop-color="#0ea2f2"/><stop offset=".58" stop-color="#0ab4f3"/><stop offset=".62" stop-color="#0ab4f3"/><stop offset=".67" stop-color="#07c1f3"/><stop offset=".71" stop-color="#07c1f3"/><stop offset=".75" stop-color="#06c6f4"/><stop offset=".79" stop-color="#07c2f3"/><stop offset=".83" stop-color="#0ab3f3"/><stop offset=".88" stop-color="#0da7f2"/><stop offset=".92" stop-color="#1196f1"/><stop offset=".96" stop-color="#1195f1"/><stop offset="1" stop-color="#1195f1"/></linearGradient>
<linearGradient id="h15" x2="0" y2="1"><stop offset="0" stop-color="#0f9df2"/><stop offset=".04" stop-color="#109bf1"/><stop offset=".08" stop-color="#0ea2f2"/><stop offset=".12" stop-color="#09b9f3"/><stop offset=".17" stop-color="#06c8f4"/><stop offset=".21" stop-color="#00dff5"/><stop offset=".25" stop-color="#04d0f4"/><stop offset=".29" stop-color="#08bdf3"/><stop offset=".33" stop-color="#0bb1f3"/><stop offset=".38" stop-color="#0baff2"/><stop offset=".42" stop-color="#0bb2f3"/><stop offset=".46" stop-color="#109bf1"/><stop offset=".5" stop-color="#0ea3f2"/><stop offset=".54" stop-color="#0ea4f2"/><stop offset=".58" stop-color="#0caef2"/><stop offset=".62" stop-color="#09bbf3"/><stop offset=".67" stop-color="#09baf3"/><stop offset=".71" stop-color="#02d7f4"/><stop offset=".75" stop-color="#02d9f5"/><stop offset=".79" stop-color="#03d4f4"/><stop offset=".83" stop-color="#0ab5f3"/><stop offset=".88" stop-color="#0cadf2"/><stop offset=".92" stop-color="#0da8f2"/><stop offset=".96" stop-color="#1099f1"/><stop offset="1" stop-color="#0f9ff2"/></linearGradient>
<linearGradient id="h16" x2="0" y2="1"><stop offset="0" stop-color="#09b9f3"/><stop offset=".04" stop-color="#04cff4"/><stop offset=".08" stop-color="#04d0f4"/><stop offset=".12" stop-color="#01dcf5"/><stop offset=".17" stop-color="#02e1e6"/><stop offset=".21" stop-color="#06e2cf"/><stop offset=".25" stop-color="#07e2ca"/><stop offset=".29" stop-color="#01e1ef"/><stop offset=".33" stop-color="#08bcf3"/><stop offset=".38" stop-color="#07c3f3"/><stop offset=".42" stop-color="#08bef3"/><stop offset=".46" stop-color="#07c0f3"/><stop offset=".5" stop-color="#06c9f4"/><stop offset=".54" stop-color="#05cdf4"/><stop offset=".58" stop-color="#03d3f4"/><stop offset=".62" stop-color="#01e1f1"/><stop offset=".67" stop-color="#06e2d1"/><stop offset=".71" stop-color="#07e2c8"/><stop offset=".75" stop-color="#08e2c5"/><stop offset=".79" stop-color="#01e1ee"/><stop offset=".83" stop-color="#01ddf5"/><stop offset=".88" stop-color="#06c7f4"/><stop offset=".92" stop-color="#09baf3"/><stop offset=".96" stop-color="#09bbf3"/><stop offset="1" stop-color="#0ab6f3"/></linearGradient>
<linearGradient id="h17" x2="0" y2="1"><stop offset="0" stop-color="#01dbf5"/><stop offset=".04" stop-color="#02d7f4"/><stop offset=".08" stop-color="#00e1f5"/><stop offset=".12" stop-color="#04e2dc"/><stop offset=".17" stop-color="#0be3b0"/><stop offset=".21" stop-color="#12e484"/><stop offset=".25" stop-color="#10e492"/><stop offset=".29" stop-color="#0ee39d"/><stop offset=".33" stop-color="#04e2de"/><stop offset=".38" stop-color="#04e2dc"/><stop offset=".42" stop-color="#03e2e0"/><stop offset=".46" stop-color="#00e1f3"/><stop offset=".5" stop-color="#01dbf5"/><stop offset=".54" stop-color="#00e0f5"/><stop offset=".58" stop-color="#02e1e6"/><stop offset=".62" stop-color="#0ae3ba"/><stop offset=".67" stop-color="#09e3bb"/><stop offset=".71" stop-color="#10e490"/><stop offset=".75" stop-color="#11e48c"/><stop offset=".79" stop-color="#0fe399"/><stop offset=".83" stop-color="#0ae3b9"/><stop offset=".88" stop-color="#05e2d8"/><stop offset=".92" stop-color="#04e2dd"/><stop offset=".96" stop-color="#02daf5"/><stop offset="1" stop-color="#01ddf5"/></linearGradient>
<linearGradient id="h18" x2="0" y2="1"><stop offset="0" stop-color="#06e2d1"/><stop offset=".04" stop-color="#03e1e5"/><stop offset=".08" stop-color="#05e2d4"/><stop offset=".12" stop-color="#10e492"/><stop offset=".17" stop-color="#18e55f"/><stop offset=".21" stop-color="#2ae735"/><stop offset=".25" stop-color="#3de929"/><stop offset=".29" stop-color="#1de643"/><stop offset=".33" stop-color="#12e484"/><stop offset=".38" stop-color="#08e2c1"/><stop offset=".42" stop-color="#06e2cd"/><stop offset=".46" stop-color="#02e1e9"/><stop offset=".5" stop-color="#06e2ce"/><stop offset=".54" stop-color="#06e2d1"/><stop offset=".58" stop-color="#0ce3ac"/><stop offset=".62" stop-color="#10e490"/><stop offset=".67" stop-color="#1ae557"/><stop offset=".71" stop-color="#2ae735"/><stop offset=".75" stop-color="#3de929"/><stop offset=".79" stop-color="#21e63a"/><stop offset=".83" stop-color="#17e569"/><stop offset=".88" stop-color="#0ce3ab"/><stop offset=".92" stop-color="#06e2d2"/><stop offset=".96" stop-color="#03e2df"/><stop offset="1" stop-color="#04e2da"/></linearGradient>
<linearGradient id="h19" x2="0" y2="1"><stop offset="0" stop-color="#1ae558"/><stop offset=".04" stop-color="#18e563"/><stop offset=".08" stop-color="#1de644"/><stop offset=".12" stop-color="#3be92b"/><stop offset=".17" stop-color="#7def03"/><stop offset=".21" stop-color="#cff000"/><stop offset=".25" stop-color="#dcf000"/><stop offset=".29" stop-color="#bdf000"/><stop offset=".33" stop-color="#56ec1a"/><stop offset=".38" stop-color="#2de833"/><stop offset=".42" stop-color="#1ae552"/><stop offset=".46" stop-color="#16e56b"/><stop offset=".5" stop-color="#19e559"/><stop offset=".54" stop-color="#1be550"/><stop offset=".58" stop-color="#1de645"/><stop offset=".62" stop-color="#4ceb21"/><stop offset=".67" stop-color="#8bf000"/><stop offset=".71" stop-color="#c5f000"/><stop offset=".75" stop-color="#ecf000"/><stop offset=".79" stop-color="#baf000"/><stop offset=".83" stop-color="#71ee0a"/><stop offset=".88" stop-color="#3ae92b"/><stop offset=".92" stop-color="#19e559"/><stop offset=".96" stop-color="#14e47b"/><stop offset="1" stop-color="#15e572"/></linearGradient>
<linearGradient id="h20" x2="0" y2="1"><stop offset="0" stop-color="#5cec17"/><stop offset=".04" stop-color="#67ed10"/><stop offset=".08" stop-color="#7def03"/><stop offset=".12" stop-color="#e0f000"/><stop offset=".17" stop-color="#ffa100"/><stop offset=".21" stop-color="#ff5200"/><stop offset=".25" stop-color="#ff2f00"/><stop offset=".29" stop-color="#ff7800"/><stop offset=".33" stop-color="#ffc900"/><stop offset=".38" stop-color="#d8f000"/><stop offset=".42" stop-color="#87f000"/><stop offset=".46" stop-color="#63ed13"/><stop offset=".5" stop-color="#63ed12"/><stop offset=".54" stop-color="#74ef09"/><stop offset=".58" stop-color="#9af000"/><stop offset=".62" stop-color="#e1f000"/><stop offset=".67" stop-color="#ffa500"/><stop offset=".71" stop-color="#ff5200"/><stop offset=".75" stop-color="#ff3200"/><stop offset=".79" stop-color="#ff6700"/><stop offset=".83" stop-color="#ffb400"/><stop offset=".88" stop-color="#dbf000"/><stop offset=".92" stop-color="#81f001"/><stop offset=".96" stop-color="#5dec16"/><stop offset="1" stop-color="#5eec15"/></linearGradient>
<linearGradient id="h21" x2="0" y2="1"><stop offset="0" stop-color="#45ea25"/><stop offset=".04" stop-color="#51eb1d"/><stop offset=".08" stop-color="#6eee0c"/><stop offset=".12" stop-color="#daf000"/><stop offset=".17" stop-color="#ffa800"/><stop offset=".21" stop-color="#ff5500"/><stop offset=".25" stop-color="#ff3000"/><stop offset=".29" stop-color="#ff6b00"/><stop offset=".33" stop-color="#ffd000"/><stop offset=".38" stop-color="#9ef000"/><stop offset=".42" stop-color="#61ed14"/><stop offset=".46" stop-color="#4deb20"/><stop offset=".5" stop-color="#4beb21"/><stop offset=".54" stop-color="#5cec17"/><stop offset=".58" stop-color="#89f000"/><stop offset=".62" stop-color="#e7f000"/><stop offset=".67" stop-color="#ffad00"/><stop offset=".71" stop-color="#ff5300"/><stop offset=".75" stop-color="#ff4100"/><stop offset=".79" stop-color="#ff6400"/><stop offset=".83" stop-color="#ffc600"/><stop offset=".88" stop-color="#b0f000"/><stop offset=".92" stop-color="#66ed11"/><stop offset=".96" stop-color="#3ee929"/><stop offset="1" stop-color="#4aea21"/></linearGradient>
<linearGradient id="h22" x2="0" y2="1"><stop offset="0" stop-color="#15e572"/><stop offset=".04" stop-color="#16e56c"/><stop offset=".08" stop-color="#1be550"/><stop offset=".12" stop-color="#34e82f"/><stop offset=".17" stop-color="#7cef04"/><stop offset=".21" stop-color="#c3f000"/><stop offset=".25" stop-color="#daf000"/><stop offset=".29" stop-color="#aef000"/><stop offset=".33" stop-color="#58ec19"/><stop offset=".38" stop-color="#23e639"/><stop offset=".42" stop-color="#16e570"/><stop offset=".46" stop-color="#12e489"/><stop offset=".5" stop-color="#14e47b"/><stop offset=".54" stop-color="#13e47f"/><stop offset=".58" stop-color="#19e55c"/><stop offset=".62" stop-color="#3de92a"/><stop offset=".67" stop-color="#7ff002"/><stop offset=".71" stop-color="#d1f000"/><stop offset=".75" stop-color="#d4f000"/><stop offset=".79" stop-color="#c1f000"/><stop offset=".83" stop-color="#6dee0d"/><stop offset=".88" stop-color="#2be734"/><stop offset=".92" stop-color="#17e568"/><stop offset=".96" stop-color="#13e481"/><stop offset="1" stop-color="#13e47e"/></linearGradient>
<linearGradient id="h23" x2="0" y2="1"><stop offset="0" stop-color="#03e1e4"/><stop offset=".04" stop-color="#05e2d7"/><stop offset=".08" stop-color="#09e2c0"/><stop offset=".12" stop-color="#15e474"/><stop offset=".17" stop-color="#1fe63c"/><stop offset=".21" stop-color="#41ea27"/><stop offset=".25" stop-color="#48ea23"/><stop offset=".29" stop-color="#1de640"/><stop offset=".33" stop-color="#12e487"/><stop offset=".38" stop-color="#0ce3ad"/><stop offset=".42" stop-color="#04e2dc"/><stop offset=".46" stop-color="#02e1eb"/><stop offset=".5" stop-color="#05e2d9"/><stop offset=".54" stop-color="#0ae3ba"/><stop offset=".58" stop-color="#0de3a3"/><stop offset=".62" stop-color="#18e560"/><stop offset=".67" stop-color="#23e639"/><stop offset=".71" stop-color="#3ee929"/><stop offset=".75" stop-color="#47ea23"/><stop offset=".79" stop-color="#2be734"/><stop offset=".83" stop-color="#13e482"/><stop offset=".88" stop-color="#0fe498"/><stop offset=".92" stop-color="#04e2d9"/><stop offset=".96" stop-color="#05e2d3"/><stop offset="1" stop-color="#03e1e3"/></linearGradient>
<linearGradient id="h24" x2="0" y2="1"><stop offset="0" stop-color="#03d2f4"/><stop offset=".04" stop-color="#05cdf4"/><stop offset=".08" stop-color="#02e1e7"/><stop offset=".12" stop-color="#07e2cc"/><stop offset=".17" stop-color="#0de3a7"/><stop offset=".21" stop-color="#13e481"/><stop offset=".25" stop-color="#15e474"/><stop offset=".29" stop-color="#0de3a3"/><stop offset=".33" stop-color="#04e2db"/><stop offset=".38" stop-color="#02e1e6"/><stop offset=".42" stop-color="#04cef4"/><stop offset=".46" stop-color="#05ccf4"/><stop offset=".5" stop-color="#02daf5"/><stop offset=".54" stop-color="#02d7f4"/><stop offset=".58" stop-color="#06e2d1"/><stop offset=".62" stop-color="#08e2c5"/><stop offset=".67" stop-color="#0ee39d"/><stop offset=".71" stop-color="#16e56c"/><stop offset=".75" stop-color="#18e563"/><stop offset=".79" stop-color="#10e492"/><stop offset=".83" stop-color="#09e3bb"/><stop offset=".88" stop-color="#00e1f4"/><stop offset=".92" stop-color="#02d9f5"/><stop offset=".96" stop-color="#04cff4"/><stop offset="1" stop-color="#05cdf4"/></linearGradient>
<linearGradient id="h25" x2="0" y2="1"><stop offset="0" stop-color="#06c6f4"/><stop offset=".04" stop-color="#06c5f4"/><stop offset=".08" stop-color="#03d3f4"/><stop offset=".12" stop-color="#04d0f4"/><stop offset=".17" stop-color="#01ddf5"/><stop offset=".21" stop-color="#09e2c0"/><stop offset=".25" stop-color="#04e2da"/><stop offset=".29" stop-color="#00e1f4"/><stop offset=".33" stop-color="#05ccf4"/><stop offset=".38" stop-color="#0bb0f2"/><stop offset=".42" stop-color="#07c2f3"/><stop offset=".46" stop-color="#07c2f3"/><stop offset=".5" stop-color="#07c2f3"/><stop offset=".54" stop-color="#05c9f4"/><stop offset=".58" stop-color="#03d4f4"/><stop offset=".62" stop-color="#00e1f5"/><stop offset=".67" stop-color="#07e2cc"/><stop offset=".71" stop-color="#05e2d9"/><stop offset=".75" stop-color="#04e2de"/><stop offset=".79" stop-color="#00e1f2"/><stop offset=".83" stop-color="#03d5f4"/><stop offset=".88" stop-color="#05c9f4"/><stop offset=".92" stop-color="#09b9f3"/><stop offset=".96" stop-color="#0ab6f3"/><stop offset="1" stop-color="#09b8f3"/></linearGradient>
<linearGradient id="h26" x2="0" y2="1"><stop offset="0" stop-color="#0da9f2"/><stop offset=".04" stop-color="#09b7f3"/><stop offset=".08" stop-color="#08bef3"/><stop offset=".12" stop-color="#02d7f4"/><stop offset=".17" stop-color="#03e2e2"/><stop offset=".21" stop-color="#01e1ef"/><stop offset=".25" stop-color="#01ddf5"/><stop offset=".29" stop-color="#07c2f3"/><stop offset=".33" stop-color="#0caaf2"/><stop offset=".38" stop-color="#09bbf3"/><stop offset=".42" stop-color="#0caaf2"/><stop offset=".46" stop-color="#0baff2"/><stop offset=".5" stop-color="#0baff2"/><stop offset=".54" stop-color="#08bff3"/><stop offset=".58" stop-color="#07c2f3"/><stop offset=".62" stop-color="#03d5f4"/><stop offset=".67" stop-color="#01e1f2"/><stop offset=".71" stop-color="#02e1eb"/><stop offset=".75" stop-color="#01dcf5"/><stop offset=".79" stop-color="#03d3f4"/><stop offset=".83" stop-color="#0ab4f3"/><stop offset=".88" stop-color="#0bb2f3"/><stop offset=".92" stop-color="#0ea1f2"/><stop offset=".96" stop-color="#0da8f2"/><stop offset="1" stop-color="#0ab4f3"/></linearGradient>
<linearGradient id="h27" x2="0" y2="1"><stop offset="0" stop-color="#0bb0f2"/><stop offset=".04" stop-color="#0ea5f2"/><stop offset=".08" stop-color="#0ea4f2"/><stop offset=".12" stop-color="#0ab4f3"/><stop offset=".17" stop-color="#08bef3"/><stop offset=".21" stop-color="#0ab6f3"/><stop offset=".25" stop-color="#07c2f3"/><stop offset=".29" stop-color="#0da9f2"/><stop offset=".33" stop-color="#109af1"/><stop offset=".38" stop-color="#0f9df1"/><stop offset=".42" stop-color="#0caaf2"/><stop offset=".46" stop-color="#0da7f2"/><stop offset=".5" stop-color="#0da9f2"/><stop offset=".54" stop-color="#0ea5f2"/><stop offset=".58" stop-color="#0bb1f3"/><stop offset=".62" stop-color="#08bff3"/><stop offset=".67" stop-color="#0ab3f3"/><stop offset=".71" stop-color="#09bbf3"/><stop offset=".75" stop-color="#07c3f3"/><stop offset=".79" stop-color="#09b8f3"/><stop offset=".83" stop-color="#0da5f2"/><stop offset=".88" stop-color="#0f9ff2"/><stop offset=".92" stop-color="#0da6f2"/><stop offset=".96" stop-color="#0daaf2"/><stop offset="1" stop-color="#0da6f2"/></linearGradient>
<linearGradient id="h28" x2="0" y2="1"><stop offset="0" stop-color="#1292f1"/><stop offset=".1" stop-color="#138ef1"/><stop offset=".2" stop-color="#09b7f3"/><stop offset=".3" stop-color="#0cacf2"/><stop offset=".4" stop-color="#0da6f2"/><stop offset=".5" stop-color="#1196f1"/><stop offset=".6" stop-color="#0f9ef2"/><stop offset=".7" stop-color="#0ab4f3"/><stop offset=".8" stop-color="#09b9f3"/><stop offset=".9" stop-color="#0ea2f2"/><stop offset="1" stop-color="#1292f1"/></linearGradient>
<linearGradient id="h29" x2="0" y2="1"><stop offset="0" stop-color="#0baff2"/><stop offset=".1" stop-color="#0cacf2"/><stop offset=".2" stop-color="#08c0f3"/><stop offset=".3" stop-color="#08bcf3"/><stop offset=".4" stop-color="#0bb0f2"/><stop offset=".5" stop-color="#0da7f2"/><stop offset=".6" stop-color="#06c6f4"/><stop offset=".7" stop-color="#08bdf3"/><stop offset=".8" stop-color="#08bff3"/><stop offset=".9" stop-color="#0bb0f2"/><stop offset="1" stop-color="#0cacf2"/></linearGradient>
<linearGradient id="h30" x2="0" y2="1"><stop offset="0" stop-color="#1195f1"/><stop offset=".1" stop-color="#1099f1"/><stop offset=".2" stop-color="#1195f1"/><stop offset=".3" stop-color="#1294f1"/><stop offset=".4" stop-color="#1585f0"/><stop offset=".5" stop-color="#1194f1"/><stop offset=".6" stop-color="#0f9df2"/><stop offset=".7" stop-color="#0caef2"/><stop offset=".8" stop-color="#109af1"/><stop offset=".9" stop-color="#109af1"/><stop offset="1" stop-color="#1290f1"/></linearGradient>
<linearGradient id="h31" x2="0" y2="1"><stop offset="0" stop-color="#1067f3"/><stop offset=".1" stop-color="#1375f1"/><stop offset=".2" stop-color="#1487f0"/><stop offset=".3" stop-color="#157df0"/><stop offset=".4" stop-color="#157cf1"/><stop offset=".5" stop-color="#126ef2"/><stop offset=".6" stop-color="#157cf0"/><stop offset=".7" stop-color="#148af1"/><stop offset=".8" stop-color="#167ef0"/><stop offset=".9" stop-color="#0f65f3"/><stop offset="1" stop-color="#116cf2"/></linearGradient>
<linearGradient id="h32" x2="0" y2="1"><stop offset="0" stop-color="#0ea1f2"/><stop offset=".1" stop-color="#138df1"/><stop offset=".2" stop-color="#1196f1"/><stop offset=".3" stop-color="#138ef1"/><stop offset=".4" stop-color="#0f9df2"/><stop offset=".5" stop-color="#1197f1"/><stop offset=".6" stop-color="#0fa0f2"/><stop offset=".7" stop-color="#1291f1"/><stop offset=".8" stop-color="#109bf1"/><stop offset=".9" stop-color="#109af1"/><stop offset="1" stop-color="#138df1"/></linearGradient>
<linearGradient id="h33" x2="0" y2="1"><stop offset="0" stop-color="#0ea3f2"/><stop offset=".1" stop-color="#0ab3f3"/><stop offset=".2" stop-color="#0ab4f3"/><stop offset=".3" stop-color="#0da6f2"/><stop offset=".4" stop-color="#0bb1f3"/><stop offset=".5" stop-color="#0da9f2"/><stop offset=".6" stop-color="#0bb1f3"/><stop offset=".7" stop-color="#07c1f3"/><stop offset=".8" stop-color="#0bb1f3"/><stop offset=".9" stop-color="#0da7f2"/><stop offset="1" stop-color="#09b9f3"/></linearGradient>
<linearGradient id="h34" x2="0" y2="1"><stop offset="0" stop-color="#0ea5f2"/><stop offset=".1" stop-color="#0f9df2"/><stop offset=".2" stop-color="#0ab3f3"/><stop offset=".3" stop-color="#0bb0f2"/><stop offset=".4" stop-color="#0cacf2"/><stop offset=".5" stop-color="#0ea2f2"/><stop offset=".6" stop-color="#0da9f2"/><stop offset=".7" stop-color="#0bb0f2"/><stop offset=".8" stop-color="#0bb0f2"/><stop offset=".9" stop-color="#109af1"/><stop offset="1" stop-color="#0f9ff2"/></linearGradient>
<linearGradient id="h35" x2="0" y2="1"><stop offset="0" stop-color="#0ea1f2"/><stop offset=".1" stop-color="#05caf4"/><stop offset=".2" stop-color="#05cdf4"/><stop offset=".3" stop-color="#0bb3f3"/><stop offset=".4" stop-color="#0fa1f2"/><stop offset=".5" stop-color="#09b7f3"/><stop offset=".6" stop-color="#06c4f4"/><stop offset=".7" stop-color="#07c4f3"/><stop offset=".8" stop-color="#0ab5f3"/><stop offset=".9" stop-color="#0bb3f3"/><stop offset="1" stop-color="#0ea5f2"/></linearGradient>
<linearGradient id="h36" x2="0" y2="1"><stop offset="0" stop-color="#0ab7f3"/><stop offset=".1" stop-color="#0da8f2"/><stop offset=".2" stop-color="#0ea5f2"/><stop offset=".3" stop-color="#0fa0f2"/><stop offset=".4" stop-color="#09baf3"/><stop offset=".5" stop-color="#09b8f3"/><stop offset=".6" stop-color="#0bb1f3"/><stop offset=".7" stop-color="#0ea2f2"/><stop offset=".8" stop-color="#0caef2"/><stop offset=".9" stop-color="#08bef3"/><stop offset="1" stop-color="#0ab5f3"/></linearGradient>
<linearGradient id="h37" x2="0" y2="1"><stop offset="0" stop-color="#1479f1"/><stop offset=".1" stop-color="#167ff0"/><stop offset=".2" stop-color="#157bf1"/><stop offset=".3" stop-color="#1069f3"/><stop offset=".4" stop-color="#1270f2"/><stop offset=".5" stop-color="#1680f0"/><stop offset=".6" stop-color="#1488f0"/><stop offset=".7" stop-color="#1374f1"/><stop offset=".8" stop-color="#1068f3"/><stop offset=".9" stop-color="#1373f2"/><stop offset="1" stop-color="#1585f0"/></linearGradient>
<linearGradient id="h38" x2="0" y2="1"><stop offset="0" stop-color="#0b53f5"/><stop offset=".1" stop-color="#0b54f5"/><stop offset=".2" stop-color="#0d5cf4"/><stop offset=".3" stop-color="#0849f7"/><stop offset=".4" stop-color="#0848f7"/><stop offset=".5" stop-color="#0c57f5"/><stop offset=".6" stop-color="#0f63f3"/><stop offset=".7" stop-color="#0d5cf4"/><stop offset=".8" stop-color="#0849f6"/><stop offset=".9" stop-color="#0849f6"/><stop offset="1" stop-color="#0a52f5"/></linearGradient>
<linearGradient id="h39" x2="0" y2="1"><stop offset="0" stop-color="#1067f3"/><stop offset=".1" stop-color="#116cf2"/><stop offset=".2" stop-color="#116bf2"/><stop offset=".3" stop-color="#116bf2"/><stop offset=".4" stop-color="#126ef2"/><stop offset=".5" stop-color="#1373f2"/><stop offset=".6" stop-color="#116df2"/><stop offset=".7" stop-color="#1270f2"/><stop offset=".8" stop-color="#1375f1"/><stop offset=".9" stop-color="#1478f1"/><stop offset="1" stop-color="#0f64f3"/></linearGradient>
<linearGradient id="h40" x2="0" y2="1"><stop offset="0" stop-color="#1585f0"/><stop offset=".1" stop-color="#1487f0"/><stop offset=".2" stop-color="#1293f1"/><stop offset=".3" stop-color="#1682f0"/><stop offset=".4" stop-color="#1582f0"/><stop offset=".5" stop-color="#1290f1"/><stop offset=".6" stop-color="#148af1"/><stop offset=".7" stop-color="#1586f0"/><stop offset=".8" stop-color="#138cf1"/><stop offset=".9" stop-color="#1584f0"/><stop offset="1" stop-color="#1586f0"/></linearGradient>
<linearGradient id="h41" x2="0" y2="1"><stop offset="0" stop-color="#1375f1"/><stop offset=".1" stop-color="#147af1"/><stop offset=".2" stop-color="#1271f2"/><stop offset=".3" stop-color="#1066f3"/><stop offset=".4" stop-color="#1372f2"/><stop offset=".5" stop-color="#157df0"/><stop offset=".6" stop-color="#1587f0"/><stop offset=".7" stop-color="#1375f1"/><stop offset=".8" stop-color="#1068f3"/><stop offset=".9" stop-color="#1374f1"/><stop offset="1" stop-color="#157ef0"/></linearGradient>
<linearGradient id="h42" x2="0" y2="1"><stop offset="0" stop-color="#0f62f3"/><stop offset=".1" stop-color="#126ff2"/><stop offset=".2" stop-color="#1069f3"/><stop offset=".3" stop-color="#0a50f6"/><stop offset=".4" stop-color="#0a4ff6"/><stop offset=".5" stop-color="#0e62f4"/><stop offset=".6" stop-color="#1270f2"/><stop offset=".7" stop-color="#0d5df4"/><stop offset=".8" stop-color="#0c58f5"/><stop offset=".9" stop-color="#0a52f5"/><stop offset="1" stop-color="#1066f3"/></linearGradient>
<linearGradient id="h43" x2="0" y2="1"><stop offset="0" stop-color="#1068f3"/><stop offset=".1" stop-color="#116df2"/><stop offset=".2" stop-color="#1068f3"/><stop offset=".3" stop-color="#0a51f5"/><stop offset=".4" stop-color="#0f65f3"/><stop offset=".5" stop-color="#1069f3"/><stop offset=".6" stop-color="#1374f1"/><stop offset=".7" stop-color="#1067f3"/><stop offset=".8" stop-color="#0a51f6"/><stop offset=".9" stop-color="#0e5ff4"/><stop offset="1" stop-color="#0f63f3"/></linearGradient>
<linearGradient id="h44" x2="0" y2="1"><stop offset="0" stop-color="#1373f2"/><stop offset=".1" stop-color="#1069f3"/><stop offset=".2" stop-color="#1479f1"/><stop offset=".3" stop-color="#1372f2"/><stop offset=".4" stop-color="#1682f0"/><stop offset=".5" stop-color="#157df0"/><stop offset=".6" stop-color="#157bf1"/><stop offset=".7" stop-color="#1270f2"/><stop offset=".8" stop-color="#157cf0"/><stop offset=".9" stop-color="#1479f1"/><stop offset="1" stop-color="#1478f1"/></linearGradient>
<linearGradient id="h45" x2="0" y2="1"><stop offset="0" stop-color="#138bf1"/><stop offset=".1" stop-color="#1585f0"/><stop offset=".2" stop-color="#138cf1"/><stop offset=".3" stop-color="#126ef2"/><stop offset=".4" stop-color="#1681f0"/><stop offset=".5" stop-color="#1290f1"/><stop offset=".6" stop-color="#1196f1"/><stop offset=".7" stop-color="#1292f1"/><stop offset=".8" stop-color="#167ef0"/><stop offset=".9" stop-color="#1583f0"/><stop offset="1" stop-color="#138cf1"/></linearGradient>
<linearGradient id="h46" x2="0" y2="1"><stop offset="0" stop-color="#1196f1"/><stop offset=".1" stop-color="#109bf1"/><stop offset=".2" stop-color="#1198f1"/><stop offset=".3" stop-color="#138ff1"/><stop offset=".4" stop-color="#138df1"/><stop offset=".5" stop-color="#0f9df1"/><stop offset=".6" stop-color="#0cadf2"/><stop offset=".7" stop-color="#1099f1"/><stop offset=".8" stop-color="#0f9ff2"/><stop offset=".9" stop-color="#1195f1"/><stop offset="1" stop-color="#138ff1"/></linearGradient>
<linearGradient id="h47" x2="0" y2="1"><stop offset="0" stop-color="#1293f1"/><stop offset=".1" stop-color="#1291f1"/><stop offset=".2" stop-color="#0da8f2"/><stop offset=".3" stop-color="#1586f0"/><stop offset=".4" stop-color="#138df1"/><stop offset=".5" stop-color="#148af1"/><stop offset=".6" stop-color="#0ea2f2"/><stop offset=".7" stop-color="#0fa0f2"/><stop offset=".8" stop-color="#0f9ef2"/><stop offset=".9" stop-color="#1293f1"/><stop offset="1" stop-color="#1585f0"/></linearGradient>
<linearGradient id="h48" x2="0" y2="1"><stop offset="0" stop-color="#1584f0"/><stop offset=".1" stop-color="#167ff0"/><stop offset=".2" stop-color="#157af1"/><stop offset=".3" stop-color="#126ff2"/><stop offset=".4" stop-color="#1583f0"/><stop offset=".5" stop-color="#148bf1"/><stop offset=".6" stop-color="#1585f0"/><stop offset=".7" stop-color="#1479f1"/><stop offset=".8" stop-color="#1681f0"/><stop offset=".9" stop-color="#1583f0"/><stop offset="1" stop-color="#1487f0"/></linearGradient>
<linearGradient id="h49" x2="0" y2="1"><stop offset="0" stop-color="#1375f1"/><stop offset=".1" stop-color="#147af1"/><stop offset=".2" stop-color="#1270f2"/><stop offset=".3" stop-color="#1066f3"/><stop offset=".4" stop-color="#1479f1"/><stop offset=".5" stop-color="#157ef0"/><stop offset=".6" stop-color="#157df0"/><stop offset=".7" stop-color="#1376f1"/><stop offset=".8" stop-color="#116cf2"/><stop offset=".9" stop-color="#1476f1"/><stop offset="1" stop-color="#157df0"/></linearGradient>
<linearGradient id="h50" x2="0" y2="1"><stop offset="0" stop-color="#157df0"/><stop offset=".1" stop-color="#1489f0"/><stop offset=".2" stop-color="#1476f1"/><stop offset=".3" stop-color="#0f65f3"/><stop offset=".4" stop-color="#116df2"/><stop offset=".5" stop-color="#1476f1"/><stop offset=".6" stop-color="#148af0"/><stop offset=".7" stop-color="#1584f0"/><stop offset=".8" stop-color="#116cf2"/><stop offset=".9" stop-color="#0f64f3"/><stop offset="1" stop-color="#1375f1"/></linearGradient>
<linearGradient id="h51" x2="0" y2="1"><stop offset="0" stop-color="#157df0"/><stop offset=".1" stop-color="#1373f2"/><stop offset=".2" stop-color="#1271f2"/><stop offset=".3" stop-color="#0e60f4"/><stop offset=".4" stop-color="#157cf0"/><stop offset=".5" stop-color="#1682f0"/><stop offset=".6" stop-color="#157ef0"/><stop offset=".7" stop-color="#1478f1"/><stop offset=".8" stop-color="#116ef2"/><stop offset=".9" stop-color="#147af1"/><stop offset="1" stop-color="#1680f0"/></linearGradient>
<linearGradient id="h52" x2="0" y2="1"><stop offset="0" stop-color="#1477f1"/><stop offset=".1" stop-color="#157bf1"/><stop offset=".2" stop-color="#157bf1"/><stop offset=".3" stop-color="#094ef6"/><stop offset=".4" stop-color="#1068f3"/><stop offset=".5" stop-color="#1478f1"/><stop offset=".6" stop-color="#148bf1"/><stop offset=".7" stop-color="#116bf2"/><stop offset=".8" stop-color="#0e61f4"/><stop offset=".9" stop-color="#0d5ef4"/><stop offset="1" stop-color="#1476f1"/></linearGradient>
<linearGradient id="h53" x2="0" y2="1"><stop offset="0" stop-color="#1477f1"/><stop offset=".1" stop-color="#1681f0"/><stop offset=".2" stop-color="#1583f0"/><stop offset=".3" stop-color="#1478f1"/><stop offset=".4" stop-color="#1680f0"/><stop offset=".5" stop-color="#1585f0"/><stop offset=".6" stop-color="#1682f0"/><stop offset=".7" stop-color="#1290f1"/><stop offset=".8" stop-color="#1585f0"/><stop offset=".9" stop-color="#126ff2"/><stop offset="1" stop-color="#1477f1"/></linearGradient>
<linearGradient id="h54" x2="0" y2="1"><stop offset="0" stop-color="#0ab5f3"/><stop offset=".1" stop-color="#0f9ef2"/><stop offset=".2" stop-color="#109bf1"/><stop offset=".3" stop-color="#148af1"/><stop offset=".4" stop-color="#0f9df1"/><stop offset=".5" stop-color="#0ab5f3"/><stop offset=".6" stop-color="#0ab5f3"/><stop offset=".7" stop-color="#109af1"/><stop offset=".8" stop-color="#138ef1"/><stop offset=".9" stop-color="#0f9ef2"/><stop offset="1" stop-color="#0ab4f3"/></linearGradient>
<linearGradient id="h55" x2="0" y2="1"><stop offset="0" stop-color="#109af1"/><stop offset=".1" stop-color="#1293f1"/><stop offset=".2" stop-color="#0f9ef2"/><stop offset=".3" stop-color="#1099f1"/><stop offset=".4" stop-color="#0bb3f3"/><stop offset=".5" stop-color="#0ea2f2"/><stop offset=".6" stop-color="#0ea2f2"/><stop offset=".7" stop-color="#0fa0f2"/><stop offset=".8" stop-color="#0ea5f2"/><stop offset=".9" stop-color="#0fa1f2"/><stop offset="1" stop-color="#1291f1"/></linearGradient>
<linearGradient id="h56" x2="0" y2="1"><stop offset="0" stop-color="#0cadf2"/><stop offset=".1" stop-color="#0ea5f2"/><stop offset=".2" stop-color="#0ea3f2"/><stop offset=".3" stop-color="#1194f1"/><stop offset=".4" stop-color="#0da8f2"/><stop offset=".5" stop-color="#0da6f2"/><stop offset=".6" stop-color="#09b7f3"/><stop offset=".7" stop-color="#0ea4f2"/><stop offset=".8" stop-color="#0ea3f2"/><stop offset=".9" stop-color="#0ea3f2"/><stop offset="1" stop-color="#0ea3f2"/></linearGradient>
<linearGradient id="h57" x2="0" y2="1"><stop offset="0" stop-color="#05c9f4"/><stop offset=".1" stop-color="#0ab5f3"/><stop offset=".2" stop-color="#0ab6f3"/><stop offset=".3" stop-color="#0da6f2"/><stop offset=".4" stop-color="#07c2f3"/><stop offset=".5" stop-color="#07c1f3"/><stop offset=".6" stop-color="#05caf4"/><stop offset=".7" stop-color="#08c0f3"/><stop offset=".8" stop-color="#0bb2f3"/><stop offset=".9" stop-color="#08bcf3"/><stop offset="1" stop-color="#08c0f3"/></linearGradient>
<linearGradient id="h58" x2="0" y2="1"><stop offset="0" stop-color="#0cacf2"/><stop offset=".1" stop-color="#0caef2"/><stop offset=".2" stop-color="#1198f1"/><stop offset=".3" stop-color="#1196f1"/><stop offset=".4" stop-color="#0ea4f2"/><stop offset=".5" stop-color="#0cabf2"/><stop offset=".6" stop-color="#0ea4f2"/><stop offset=".7" stop-color="#1198f1"/><stop offset=".8" stop-color="#0da6f2"/><stop offset=".9" stop-color="#0fa0f2"/><stop offset="1" stop-color="#0ea1f2"/></linearGradient>
<linearGradient id="h59" x2="0" y2="1"><stop offset="0" stop-color="#138ef1"/><stop offset=".1" stop-color="#1293f1"/><stop offset=".2" stop-color="#138df1"/><stop offset=".3" stop-color="#116ef2"/><stop offset=".4" stop-color="#157af1"/><stop offset=".5" stop-color="#1293f1"/><stop offset=".6" stop-color="#1195f1"/><stop offset=".7" stop-color="#1584f0"/><stop offset=".8" stop-color="#157cf1"/><stop offset=".9" stop-color="#1680f0"/><stop offset="1" stop-color="#138df1"/></linearGradient>
<linearGradient id="h60" x2="0" y2="1"><stop offset="0" stop-color="#1488f0"/><stop offset=".1" stop-color="#1375f1"/><stop offset=".2" stop-color="#126ff2"/><stop offset=".3" stop-color="#1375f1"/><stop offset=".4" stop-color="#1373f2"/><stop offset=".5" stop-color="#1290f1"/><stop offset=".6" stop-color="#1681f0"/><stop offset=".7" stop-color="#1270f2"/><stop offset=".8" stop-color="#126ff2"/><stop offset=".9" stop-color="#1479f1"/><stop offset="1" stop-color="#167ff0"/></linearGradient>
<linearGradient id="h61" x2="0" y2="1"><stop offset="0" stop-color="#157af1"/><stop offset=".1" stop-color="#1583f0"/><stop offset=".2" stop-color="#157df0"/><stop offset=".3" stop-color="#0f65f3"/><stop offset=".4" stop-color="#1373f1"/><stop offset=".5" stop-color="#157ef0"/><stop offset=".6" stop-color="#138cf1"/><stop offset=".7" stop-color="#147af1"/><stop offset=".8" stop-color="#116cf2"/><stop offset=".9" stop-color="#116ef2"/><stop offset="1" stop-color="#1583f0"/></linearGradient>
<linearGradient id="h62" x2="0" y2="1"><stop offset="0" stop-color="#157ef0"/><stop offset=".1" stop-color="#157ef0"/><stop offset=".2" stop-color="#1583f0"/><stop offset=".3" stop-color="#1478f1"/><stop offset=".4" stop-color="#1582f0"/><stop offset=".5" stop-color="#147af1"/><stop offset=".6" stop-color="#1582f0"/><stop offset=".7" stop-color="#138bf1"/><stop offset=".8" stop-color="#1487f0"/><stop offset=".9" stop-color="#1585f0"/><stop offset="1" stop-color="#157cf0"/></linearGradient>
<linearGradient id="h63" x2="0" y2="1"><stop offset="0" stop-color="#109af1"/><stop offset=".1" stop-color="#1197f1"/><stop offset=".2" stop-color="#1489f0"/><stop offset=".3" stop-color="#126ff2"/><stop offset=".4" stop-color="#1680f0"/><stop offset=".5" stop-color="#1197f1"/><stop offset=".6" stop-color="#0ea2f2"/><stop offset=".7" stop-color="#1586f0"/><stop offset=".8" stop-color="#1582f0"/><stop offset=".9" stop-color="#1586f0"/><stop offset="1" stop-color="#0fa0f2"/></linearGradient>
<linearGradient id="h64" x2="0" y2="1"><stop offset="0" stop-color="#1489f0"/><stop offset=".1" stop-color="#1098f1"/><stop offset=".2" stop-color="#138df1"/><stop offset=".3" stop-color="#1586f0"/><stop offset=".4" stop-color="#1099f1"/><stop offset=".5" stop-color="#138cf1"/><stop offset=".6" stop-color="#109bf1"/><stop offset=".7" stop-color="#1194f1"/><stop offset=".8" stop-color="#1488f0"/><stop offset=".9" stop-color="#1196f1"/><stop offset="1" stop-color="#1487f0"/></linearGradient>
<linearGradient id="h65" x2="0" y2="1"><stop offset="0" stop-color="#138ff1"/><stop offset=".04" stop-color="#157cf0"/><stop offset=".08" stop-color="#1488f0"/><stop offset=".12" stop-color="#1376f1"/><stop offset=".17" stop-color="#1374f1"/><stop offset=".21" stop-color="#1479f1"/><stop offset=".25" stop-color="#167ef0"/><stop offset=".29" stop-color="#1375f1"/><stop offset=".33" stop-color="#116bf3"/><stop offset=".38" stop-color="#1681f0"/><stop offset=".42" stop-color="#1582f0"/><stop offset=".46" stop-color="#1291f1"/><stop offset=".5" stop-color="#138cf1"/><stop offset=".54" stop-color="#138df1"/><stop offset=".58" stop-color="#1487f0"/><stop offset=".62" stop-color="#1487f0"/><stop offset=".67" stop-color="#1681f0"/><stop offset=".71" stop-color="#1375f1"/><stop offset=".75" stop-color="#1374f1"/><stop offset=".79" stop-color="#147af1"/><stop offset=".83" stop-color="#167ff0"/><stop offset=".88" stop-color="#1372f2"/><stop offset=".92" stop-color="#148af0"/><stop offset=".96" stop-color="#1488f0"/><stop offset="1" stop-color="#138bf1"/></linearGradient>
<linearGradient id="h66" x2="0" y2="1"><stop offset="0" stop-color="#1584f0"/><stop offset=".04" stop-color="#1680f0"/><stop offset=".08" stop-color="#157df0"/><stop offset=".12" stop-color="#116df2"/><stop offset=".17" stop-color="#1477f1"/><stop offset=".21" stop-color="#1476f1"/><stop offset=".25" stop-color="#1271f2"/><stop offset=".29" stop-color="#0e62f4"/><stop offset=".33" stop-color="#0c56f5"/><stop offset=".38" stop-color="#1270f2"/><stop offset=".42" stop-color="#1375f1"/><stop offset=".46" stop-color="#157cf0"/><stop offset=".5" stop-color="#148af1"/><stop offset=".54" stop-color="#1583f0"/><stop offset=".58" stop-color="#1489f0"/><stop offset=".62" stop-color="#1477f1"/><stop offset=".67" stop-color="#157bf1"/><stop offset=".71" stop-color="#1067f3"/><stop offset=".75" stop-color="#1373f2"/><stop offset=".79" stop-color="#1069f3"/><stop offset=".83" stop-color="#0f65f3"/><stop offset=".88" stop-color="#1372f2"/><stop offset=".92" stop-color="#1478f1"/><stop offset=".96" stop-color="#157ef0"/><stop offset="1" stop-color="#1479f1"/></linearGradient>
<linearGradient id="h67" x2="0" y2="1"><stop offset="0" stop-color="#1099f1"/><stop offset=".04" stop-color="#138cf1"/><stop offset=".08" stop-color="#1487f0"/><stop offset=".12" stop-color="#1680f0"/><stop offset=".17" stop-color="#1680f0"/><stop offset=".21" stop-color="#147af1"/><stop offset=".25" stop-color="#1477f1"/><stop offset=".29" stop-color="#1067f3"/><stop offset=".33" stop-color="#0e60f4"/><stop offset=".38" stop-color="#126ff2"/><stop offset=".42" stop-color="#147af1"/><stop offset=".46" stop-color="#1195f1"/><stop offset=".5" stop-color="#1293f1"/><stop offset=".54" stop-color="#0fa0f2"/><stop offset=".58" stop-color="#1292f1"/><stop offset=".62" stop-color="#138df1"/><stop offset=".67" stop-color="#148af1"/><stop offset=".71" stop-color="#157af1"/><stop offset=".75" stop-color="#1479f1"/><stop offset=".79" stop-color="#126ff2"/><stop offset=".83" stop-color="#116bf2"/><stop offset=".88" stop-color="#1476f1"/><stop offset=".92" stop-color="#1584f0"/><stop offset=".96" stop-color="#1099f1"/><stop offset="1" stop-color="#1293f1"/></linearGradient>
<linearGradient id="h68" x2="0" y2="1"><stop offset="0" stop-color="#0da6f2"/><stop offset=".04" stop-color="#0bb0f2"/><stop offset=".08" stop-color="#0da6f2"/><stop offset=".12" stop-color="#1196f1"/><stop offset=".17" stop-color="#1197f1"/><stop offset=".21" stop-color="#1489f0"/><stop offset=".25" stop-color="#1290f1"/><stop offset=".29" stop-color="#1583f0"/><stop offset=".33" stop-color="#1068f3"/><stop offset=".38" stop-color="#1197f1"/><stop offset=".42" stop-color="#109cf1"/><stop offset=".46" stop-color="#0da8f2"/><stop offset=".5" stop-color="#0da8f2"/><stop offset=".54" stop-color="#0baef2"/><stop offset=".58" stop-color="#0cabf2"/><stop offset=".62" stop-color="#0da6f2"/><stop offset=".67" stop-color="#1195f1"/><stop offset=".71" stop-color="#138ef1"/><stop offset=".75" stop-color="#138ef1"/><stop offset=".79" stop-color="#1584f0"/><stop offset=".83" stop-color="#1680f0"/><stop offset=".88" stop-color="#1099f1"/><stop offset=".92" stop-color="#0f9ff2"/><stop offset=".96" stop-color="#0f9df1"/><stop offset="1" stop-color="#0ea3f2"/></linearGradient>
<linearGradient id="h69" x2="0" y2="1"><stop offset="0" stop-color="#08bcf3"/><stop offset=".04" stop-color="#09b8f3"/><stop offset=".08" stop-color="#09bbf3"/><stop offset=".12" stop-color="#0ab6f3"/><stop offset=".17" stop-color="#0bb2f3"/><stop offset=".21" stop-color="#0da6f2"/><stop offset=".25" stop-color="#0da7f2"/><stop offset=".29" stop-color="#0ab3f3"/><stop offset=".33" stop-color="#109af1"/><stop offset=".38" stop-color="#0ab3f3"/><stop offset=".42" stop-color="#0baff2"/><stop offset=".46" stop-color="#08bdf3"/><stop offset=".5" stop-color="#09b7f3"/><stop offset=".54" stop-color="#09bbf3"/><stop offset=".58" stop-color="#05cbf4"/><stop offset=".62" stop-color="#09b8f3"/><stop offset=".67" stop-color="#0ab4f3"/><stop offset=".71" stop-color="#0ab5f3"/><stop offset=".75" stop-color="#0cabf2"/><stop offset=".79" stop-color="#0cadf2"/><stop offset=".83" stop-color="#0cadf2"/><stop offset=".88" stop-color="#0ab6f3"/><stop offset=".92" stop-color="#08bdf3"/><stop offset=".96" stop-color="#08bef3"/><stop offset="1" stop-color="#0bb1f3"/></linearGradient>
<linearGradient id="h70" x2="0" y2="1"><stop offset="0" stop-color="#04e2de"/><stop offset=".04" stop-color="#03e1e3"/><stop offset=".08" stop-color="#00e1f2"/><stop offset=".12" stop-color="#04d0f4"/><stop offset=".17" stop-color="#09bbf3"/><stop offset=".21" stop-color="#07c1f3"/><stop offset=".25" stop-color="#09b8f3"/><stop offset=".29" stop-color="#0ab5f3"/><stop offset=".33" stop-color="#0bb0f2"/><stop offset=".38" stop-color="#07c2f3"/><stop offset=".42" stop-color="#02e1e7"/><stop offset=".46" stop-color="#03e2e2"/><stop offset=".5" stop-color="#03e1e5"/><stop offset=".54" stop-color="#03e2e1"/><stop offset=".58" stop-color="#02e1ea"/><stop offset=".62" stop-color="#02daf5"/><stop offset=".67" stop-color="#05caf4"/><stop offset=".71" stop-color="#07c2f3"/><stop offset=".75" stop-color="#06c7f4"/><stop offset=".79" stop-color="#06c7f4"/><stop offset=".83" stop-color="#09b8f3"/><stop offset=".88" stop-color="#03d5f4"/><stop offset=".92" stop-color="#01dff5"/><stop offset=".96" stop-color="#04e2dd"/><stop offset="1" stop-color="#04e2df"/></linearGradient>
<linearGradient id="h71" x2="0" y2="1"><stop offset="0" stop-color="#12e484"/><stop offset=".04" stop-color="#10e493"/><stop offset=".08" stop-color="#0ce3a9"/><stop offset=".12" stop-color="#05e2d4"/><stop offset=".17" stop-color="#04cff4"/><stop offset=".21" stop-color="#05cdf4"/><stop offset=".25" stop-color="#03d2f4"/><stop offset=".29" stop-color="#05cbf4"/><stop offset=".33" stop-color="#05ccf4"/><stop offset=".38" stop-color="#05e2d5"/><stop offset=".42" stop-color="#0ee3a0"/><stop offset=".46" stop-color="#14e47c"/><stop offset=".5" stop-color="#16e570"/><stop offset=".54" stop-color="#14e477"/><stop offset=".58" stop-color="#0ce3a8"/><stop offset=".62" stop-color="#06e2d2"/><stop offset=".67" stop-color="#00dff5"/><stop offset=".71" stop-color="#04cef4"/><stop offset=".75" stop-color="#08bef3"/><stop offset=".79" stop-color="#03d3f4"/><stop offset=".83" stop-color="#02e1eb"/><stop offset=".88" stop-color="#0ae3b7"/><stop offset=".92" stop-color="#10e490"/><stop offset=".96" stop-color="#15e477"/><stop offset="1" stop-color="#15e475"/></linearGradient>
<linearGradient id="h72" x2="0" y2="1"><stop offset="0" stop-color="#68ed10"/><stop offset=".04" stop-color="#59ec18"/><stop offset=".08" stop-color="#27e737"/><stop offset=".12" stop-color="#19e559"/><stop offset=".17" stop-color="#0fe39a"/><stop offset=".21" stop-color="#0de3a5"/><stop offset=".25" stop-color="#09e3bc"/><stop offset=".29" stop-color="#0ae3ba"/><stop offset=".33" stop-color="#0fe39a"/><stop offset=".38" stop-color="#1be64e"/><stop offset=".42" stop-color="#4deb20"/><stop offset=".46" stop-color="#60ed14"/><stop offset=".5" stop-color="#68ed10"/><stop offset=".54" stop-color="#63ed13"/><stop offset=".58" stop-color="#44ea25"/><stop offset=".62" stop-color="#1ae558"/><stop offset=".67" stop-color="#0fe399"/><stop offset=".71" stop-color="#0de3a6"/><stop offset=".75" stop-color="#0ae3b6"/><stop offset=".79" stop-color="#0ee39f"/><stop offset=".83" stop-color="#12e486"/><stop offset=".88" stop-color="#1ee63e"/><stop offset=".92" stop-color="#46ea24"/><stop offset=".96" stop-color="#6cee0d"/><stop offset="1" stop-color="#6aee0f"/></linearGradient>
<linearGradient id="h73" x2="0" y2="1"><stop offset="0" stop-color="#a7f000"/><stop offset=".04" stop-color="#87f000"/><stop offset=".08" stop-color="#69ed0f"/><stop offset=".12" stop-color="#3ee929"/><stop offset=".17" stop-color="#1ae554"/><stop offset=".21" stop-color="#16e56f"/><stop offset=".25" stop-color="#12e486"/><stop offset=".29" stop-color="#0fe497"/><stop offset=".33" stop-color="#14e479"/><stop offset=".38" stop-color="#37e82d"/><stop offset=".42" stop-color="#68ed10"/><stop offset=".46" stop-color="#a2f000"/><stop offset=".5" stop-color="#a6f000"/><stop offset=".54" stop-color="#8ff000"/><stop offset=".58" stop-color="#76ef07"/><stop offset=".62" stop-color="#3fe928"/><stop offset=".67" stop-color="#1be54f"/><stop offset=".71" stop-color="#13e481"/><stop offset=".75" stop-color="#12e489"/><stop offset=".79" stop-color="#0ee39d"/><stop offset=".83" stop-color="#1ce64a"/><stop offset=".88" stop-color="#39e92c"/><stop offset=".92" stop-color="#70ee0b"/><stop offset=".96" stop-color="#9af000"/><stop offset="1" stop-color="#a2f000"/></linearGradient>
<linearGradient id="h74" x2="0" y2="1"><stop offset="0" stop-color="#1ce64a"/><stop offset=".04" stop-color="#1ce648"/><stop offset=".08" stop-color="#18e561"/><stop offset=".12" stop-color="#14e47a"/><stop offset=".17" stop-color="#10e490"/><stop offset=".21" stop-color="#06e2d0"/><stop offset=".25" stop-color="#06e2cf"/><stop offset=".29" stop-color="#03e1e5"/><stop offset=".33" stop-color="#04e2dd"/><stop offset=".38" stop-color="#0ee39d"/><stop offset=".42" stop-color="#16e570"/><stop offset=".46" stop-color="#1ae555"/><stop offset=".5" stop-color="#22e63a"/><stop offset=".54" stop-color="#20e63b"/><stop offset=".58" stop-color="#1de643"/><stop offset=".62" stop-color="#13e480"/><stop offset=".67" stop-color="#0fe496"/><stop offset=".71" stop-color="#07e2c8"/><stop offset=".75" stop-color="#07e2cc"/><stop offset=".79" stop-color="#03e2e1"/><stop offset=".83" stop-color="#06e2d2"/><stop offset=".88" stop-color="#0fe39b"/><stop offset=".92" stop-color="#17e569"/><stop offset=".96" stop-color="#1ee63c"/><stop offset="1" stop-color="#1de645"/></linearGradient>
<linearGradient id="h75" x2="0" y2="1"><stop offset="0" stop-color="#0ee39d"/><stop offset=".04" stop-color="#0ce3ad"/><stop offset=".08" stop-color="#07e2c7"/><stop offset=".12" stop-color="#00e1f4"/><stop offset=".17" stop-color="#02daf5"/><stop offset=".21" stop-color="#04d0f4"/><stop offset=".25" stop-color="#07c0f3"/><stop offset=".29" stop-color="#05caf4"/><stop offset=".33" stop-color="#06c5f4"/><stop offset=".38" stop-color="#03d3f4"/><stop offset=".42" stop-color="#07e2cc"/><stop offset=".46" stop-color="#08e2c1"/><stop offset=".5" stop-color="#0fe39b"/><stop offset=".54" stop-color="#0ee3a1"/><stop offset=".58" stop-color="#0ce3aa"/><stop offset=".62" stop-color="#07e2cc"/><stop offset=".67" stop-color="#02d7f4"/><stop offset=".71" stop-color="#03d5f4"/><stop offset=".75" stop-color="#07c1f3"/><stop offset=".79" stop-color="#06c7f4"/><stop offset=".83" stop-color="#04cef4"/><stop offset=".88" stop-color="#02e1eb"/><stop offset=".92" stop-color="#04e2dd"/><stop offset=".96" stop-color="#0ee39f"/><stop offset="1" stop-color="#0de3a7"/></linearGradient>
<linearGradient id="h76" x2="0" y2="1"><stop offset="0" stop-color="#02e1eb"/><stop offset=".04" stop-color="#01e1ec"/><stop offset=".08" stop-color="#03d6f4"/><stop offset=".12" stop-color="#06c8f4"/><stop offset=".17" stop-color="#02daf5"/><stop offset=".21" stop-color="#04d0f4"/><stop offset=".25" stop-color="#02d7f5"/><stop offset=".29" stop-color="#03d4f4"/><stop offset=".33" stop-color="#06c8f4"/><stop offset=".38" stop-color="#02d6f4"/><stop offset=".42" stop-color="#00e0f5"/><stop offset=".46" stop-color="#02e1ea"/><stop offset=".5" stop-color="#00e1f3"/><stop offset=".54" stop-color="#03e1e4"/><stop offset=".58" stop-color="#01e1ef"/><stop offset=".62" stop-color="#00e1f2"/><stop offset=".67" stop-color="#03d5f4"/><stop offset=".71" stop-color="#03d5f4"/><stop offset=".75" stop-color="#03d4f4"/><stop offset=".79" stop-color="#00e1f3"/><stop offset=".83" stop-color="#00e1f5"/><stop offset=".88" stop-color="#00e1f2"/><stop offset=".92" stop-color="#00e1f3"/><stop offset=".96" stop-color="#04e2de"/><stop offset="1" stop-color="#04e2dd"/></linearGradient>
<linearGradient id="h77" x2="0" y2="1"><stop offset="0" stop-color="#0bb1f3"/><stop offset=".04" stop-color="#09bbf3"/><stop offset=".08" stop-color="#0baff2"/><stop offset=".12" stop-color="#08bef3"/><stop offset=".17" stop-color="#0bb2f3"/><stop offset=".21" stop-color="#09baf3"/><stop offset=".25" stop-color="#09b8f3"/><stop offset=".29" stop-color="#09b9f3"/><stop offset=".33" stop-color="#109af1"/><stop offset=".38" stop-color="#0ab4f3"/><stop offset=".42" stop-color="#0ab3f3"/><stop offset=".46" stop-color="#0bb1f3"/><stop offset=".5" stop-color="#08bdf3"/><stop offset=".54" stop-color="#09b9f3"/><stop offset=".58" stop-color="#08bcf3"/><stop offset=".62" stop-color="#0baff2"/><stop offset=".67" stop-color="#0ab7f3"/><stop offset=".71" stop-color="#09bbf3"/><stop offset=".75" stop-color="#06c5f4"/><stop offset=".79" stop-color="#0bb1f3"/><stop offset=".83" stop-color="#0daaf2"/><stop offset=".88" stop-color="#08bef3"/><stop offset=".92" stop-color="#0ab3f3"/><stop offset=".96" stop-color="#0bb1f3"/><stop offset="1" stop-color="#0baff2"/></linearGradient>
<linearGradient id="h78" x2="0" y2="1"><stop offset="0" stop-color="#0f9ff2"/><stop offset=".04" stop-color="#109cf1"/><stop offset=".08" stop-color="#1290f1"/><stop offset=".12" stop-color="#157df0"/><stop offset=".17" stop-color="#1583f0"/><stop offset=".21" stop-color="#1477f1"/><stop offset=".25" stop-color="#1479f1"/><stop offset=".29" stop-color="#116df2"/><stop offset=".33" stop-color="#0e5ff4"/><stop offset=".38" stop-color="#126ff2"/><stop offset=".42" stop-color="#138ef1"/><stop offset=".46" stop-color="#1292f1"/><stop offset=".5" stop-color="#109cf1"/><stop offset=".54" stop-color="#0ea5f2"/><stop offset=".58" stop-color="#1290f1"/><stop offset=".62" stop-color="#138bf1"/><stop offset=".67" stop-color="#1582f0"/><stop offset=".71" stop-color="#1374f1"/><stop offset=".75" stop-color="#1372f2"/><stop offset=".79" stop-color="#106af3"/><stop offset=".83" stop-color="#1271f2"/><stop offset=".88" stop-color="#1585f0"/><stop offset=".92" stop-color="#1585f0"/><stop offset=".96" stop-color="#109cf1"/><stop offset="1" stop-color="#109cf1"/></linearGradient>
<linearGradient id="h79" x2="0" y2="1"><stop offset="0" stop-color="#138cf1"/><stop offset=".04" stop-color="#138cf1"/><stop offset=".08" stop-color="#1681f0"/><stop offset=".12" stop-color="#1584f0"/><stop offset=".17" stop-color="#1681f0"/><stop offset=".21" stop-color="#167ff0"/><stop offset=".25" stop-color="#1272f2"/><stop offset=".29" stop-color="#1271f2"/><stop offset=".33" stop-color="#0d5df4"/><stop offset=".38" stop-color="#116bf2"/><stop offset=".42" stop-color="#157df0"/><stop offset=".46" stop-color="#1681f0"/><stop offset=".5" stop-color="#1585f0"/><stop offset=".54" stop-color="#109af1"/><stop offset=".58" stop-color="#1195f1"/><stop offset=".62" stop-color="#1487f0"/><stop offset=".67" stop-color="#167ef0"/><stop offset=".71" stop-color="#1487f0"/><stop offset=".75" stop-color="#157df0"/><stop offset=".79" stop-color="#116ef2"/><stop offset=".83" stop-color="#1372f2"/><stop offset=".88" stop-color="#1478f1"/><stop offset=".92" stop-color="#1374f1"/><stop offset=".96" stop-color="#1586f0"/><stop offset="1" stop-color="#1099f1"/></linearGradient>
<linearGradient id="h80" x2="0" y2="1"><stop offset="0" stop-color="#0bb0f2"/><stop offset=".04" stop-color="#0baff2"/><stop offset=".08" stop-color="#0ea2f2"/><stop offset=".12" stop-color="#0ea2f2"/><stop offset=".17" stop-color="#0da7f2"/><stop offset=".21" stop-color="#1195f1"/><stop offset=".25" stop-color="#0ea4f2"/><stop offset=".29" stop-color="#0f9ef2"/><stop offset=".33" stop-color="#138cf1"/><stop offset=".38" stop-color="#0da8f2"/><stop offset=".42" stop-color="#0bb1f3"/><stop offset=".46" stop-color="#08bdf3"/><stop offset=".5" stop-color="#0ab5f3"/><stop offset=".54" stop-color="#0cacf2"/><stop offset=".58" stop-color="#0ab3f3"/><stop offset=".62" stop-color="#0da8f2"/><stop offset=".67" stop-color="#0fa0f2"/><stop offset=".71" stop-color="#1198f1"/><stop offset=".75" stop-color="#109af1"/><stop offset=".79" stop-color="#0ea2f2"/><stop offset=".83" stop-color="#0da7f2"/><stop offset=".88" stop-color="#0cabf2"/><stop offset=".92" stop-color="#0baef2"/><stop offset=".96" stop-color="#0ab7f3"/><stop offset="1" stop-color="#09b8f3"/></linearGradient>
<linearGradient id="h81" x2="0" y2="1"><stop offset="0" stop-color="#0ab6f3"/><stop offset=".1" stop-color="#0ab3f3"/><stop offset=".2" stop-color="#0da9f2"/><stop offset=".3" stop-color="#109bf1"/><stop offset=".4" stop-color="#0da6f2"/><stop offset=".5" stop-color="#09baf3"/><stop offset=".6" stop-color="#0ab4f3"/><stop offset=".7" stop-color="#0f9ff2"/><stop offset=".8" stop-color="#1099f1"/><stop offset=".9" stop-color="#0da7f2"/><stop offset="1" stop-color="#0baff2"/></linearGradient>
<linearGradient id="h82" x2="0" y2="1"><stop offset="0" stop-color="#0da7f2"/><stop offset=".1" stop-color="#0cabf2"/><stop offset=".2" stop-color="#1198f1"/><stop offset=".3" stop-color="#157df0"/><stop offset=".4" stop-color="#1196f1"/><stop offset=".5" stop-color="#0da8f2"/><stop offset=".6" stop-color="#0da7f2"/><stop offset=".7" stop-color="#1195f1"/><stop offset=".8" stop-color="#1291f1"/><stop offset=".9" stop-color="#1197f1"/><stop offset="1" stop-color="#0fa0f2"/></linearGradient>
<linearGradient id="h83" x2="0" y2="1"><stop offset="0" stop-color="#1585f0"/><stop offset=".1" stop-color="#138df1"/><stop offset=".2" stop-color="#1197f1"/><stop offset=".3" stop-color="#109bf1"/><stop offset=".4" stop-color="#1293f1"/><stop offset=".5" stop-color="#1291f1"/><stop offset=".6" stop-color="#1293f1"/><stop offset=".7" stop-color="#0f9ef2"/><stop offset=".8" stop-color="#0da7f2"/><stop offset=".9" stop-color="#1487f0"/><stop offset="1" stop-color="#1194f1"/></linearGradient>
<linearGradient id="h84" x2="0" y2="1"><stop offset="0" stop-color="#1294f1"/><stop offset=".1" stop-color="#138df1"/><stop offset=".2" stop-color="#109bf1"/><stop offset=".3" stop-color="#1291f1"/><stop offset=".4" stop-color="#109bf1"/><stop offset=".5" stop-color="#1099f1"/><stop offset=".6" stop-color="#0f9ff2"/><stop offset=".7" stop-color="#0fa1f2"/><stop offset=".8" stop-color="#0ea5f2"/><stop offset=".9" stop-color="#1197f1"/><stop offset="1" stop-color="#1292f1"/></linearGradient>
<linearGradient id="h85" x2="0" y2="1"><stop offset="0" stop-color="#1583f0"/><stop offset=".1" stop-color="#1099f1"/><stop offset=".2" stop-color="#0f9df2"/><stop offset=".3" stop-color="#138bf1"/><stop offset=".4" stop-color="#138cf1"/><stop offset=".5" stop-color="#138df1"/><stop offset=".6" stop-color="#109bf1"/><stop offset=".7" stop-color="#0fa0f2"/><stop offset=".8" stop-color="#0f9df2"/><stop offset=".9" stop-color="#1291f1"/><stop offset="1" stop-color="#1196f1"/></linearGradient>
<linearGradient id="h86" x2="0" y2="1"><stop offset="0" stop-color="#157bf1"/><stop offset=".1" stop-color="#1583f0"/><stop offset=".2" stop-color="#1066f3"/><stop offset=".3" stop-color="#0b52f5"/><stop offset=".4" stop-color="#1272f2"/><stop offset=".5" stop-color="#1195f1"/><stop offset=".6" stop-color="#138cf1"/><stop offset=".7" stop-color="#116bf2"/><stop offset=".8" stop-color="#1069f3"/><stop offset=".9" stop-color="#1583f0"/><stop offset="1" stop-color="#148af1"/></linearGradient>
<linearGradient id="h87" x2="0" y2="1"><stop offset="0" stop-color="#1374f1"/><stop offset=".1" stop-color="#1478f1"/><stop offset=".2" stop-color="#116df2"/><stop offset=".3" stop-color="#0c58f5"/><stop offset=".4" stop-color="#0e5ff4"/><stop offset=".5" stop-color="#147af1"/><stop offset=".6" stop-color="#1586f0"/><stop offset=".7" stop-color="#1375f1"/><stop offset=".8" stop-color="#0f64f3"/><stop offset=".9" stop-color="#0d5bf4"/><stop offset="1" stop-color="#1272f2"/></linearGradient>
<linearGradient id="h88" x2="0" y2="1"><stop offset="0" stop-color="#1682f0"/><stop offset=".1" stop-color="#126ff2"/><stop offset=".2" stop-color="#116df2"/><stop offset=".3" stop-color="#1068f3"/><stop offset=".4" stop-color="#1477f1"/><stop offset=".5" stop-color="#1583f0"/><stop offset=".6" stop-color="#1681f0"/><stop offset=".7" stop-color="#0f64f3"/><stop offset=".8" stop-color="#0e61f4"/><stop offset=".9" stop-color="#126ff2"/><stop offset="1" stop-color="#1374f1"/></linearGradient>
<linearGradient id="h89" x2="0" y2="1"><stop offset="0" stop-color="#1477f1"/><stop offset=".1" stop-color="#1477f1"/><stop offset=".2" stop-color="#1270f2"/><stop offset=".3" stop-color="#0e60f4"/><stop offset=".4" stop-color="#1374f1"/><stop offset=".5" stop-color="#157bf1"/><stop offset=".6" stop-color="#167ff0"/><stop offset=".7" stop-color="#1376f1"/><stop offset=".8" stop-color="#0c59f5"/><stop offset=".9" stop-color="#116af3"/><stop offset="1" stop-color="#1584f0"/></linearGradient>
<linearGradient id="h90" x2="0" y2="1"><stop offset="0" stop-color="#157ef0"/><stop offset=".1" stop-color="#0e61f4"/><stop offset=".2" stop-color="#0b56f5"/><stop offset=".3" stop-color="#094cf6"/><stop offset=".4" stop-color="#1067f3"/><stop offset=".5" stop-color="#126ef2"/><stop offset=".6" stop-color="#116bf2"/><stop offset=".7" stop-color="#0e61f4"/><stop offset=".8" stop-color="#0b54f5"/><stop offset=".9" stop-color="#0f62f3"/><stop offset="1" stop-color="#1373f1"/></linearGradient>
<linearGradient id="h91" x2="0" y2="1"><stop offset="0" stop-color="#0a4ef6"/><stop offset=".1" stop-color="#0b55f5"/><stop offset=".2" stop-color="#0f62f3"/><stop offset=".3" stop-color="#0849f7"/><stop offset=".4" stop-color="#094df6"/><stop offset=".5" stop-color="#0e62f4"/><stop offset=".6" stop-color="#0e61f4"/><stop offset=".7" stop-color="#0d5bf4"/><stop offset=".8" stop-color="#0b53f5"/><stop offset=".9" stop-color="#0b52f5"/><stop offset="1" stop-color="#0a4ff6"/></linearGradient>
<linearGradient id="h92" x2="0" y2="1"><stop offset="0" stop-color="#116bf2"/><stop offset=".1" stop-color="#116cf2"/><stop offset=".2" stop-color="#0e5ef4"/><stop offset=".3" stop-color="#0b52f5"/><stop offset=".4" stop-color="#0e61f4"/><stop offset=".5" stop-color="#116bf3"/><stop offset=".6" stop-color="#1373f2"/><stop offset=".7" stop-color="#0f62f4"/><stop offset=".8" stop-color="#0c5af4"/><stop offset=".9" stop-color="#0a51f5"/><stop offset="1" stop-color="#1270f2"/></linearGradient>
<linearGradient id="h93" x2="0" y2="1"><stop offset="0" stop-color="#1373f2"/><stop offset=".1" stop-color="#0f64f3"/><stop offset=".2" stop-color="#0e60f4"/><stop offset=".3" stop-color="#0e60f4"/><stop offset=".4" stop-color="#126ff2"/><stop offset=".5" stop-color="#1682f0"/><stop offset=".6" stop-color="#1375f1"/><stop offset=".7" stop-color="#0f62f4"/><stop offset=".8" stop-color="#0f62f4"/><stop offset=".9" stop-color="#157bf1"/><stop offset="1" stop-color="#1476f1"/></linearGradient>
<linearGradient id="h94" x2="0" y2="1"><stop offset="0" stop-color="#0d5df4"/><stop offset=".1" stop-color="#1069f3"/><stop offset=".2" stop-color="#1374f1"/><stop offset=".3" stop-color="#0d5af4"/><stop offset=".4" stop-color="#0f66f3"/><stop offset=".5" stop-color="#0e61f4"/><stop offset=".6" stop-color="#1375f1"/><stop offset=".7" stop-color="#1373f2"/><stop offset=".8" stop-color="#1069f3"/><stop offset=".9" stop-color="#0e61f4"/><stop offset="1" stop-color="#0e5ff4"/></linearGradient>
<linearGradient id="h95" x2="0" y2="1"><stop offset="0" stop-color="#157df0"/><stop offset=".1" stop-color="#1487f0"/><stop offset=".2" stop-color="#157df0"/><stop offset=".3" stop-color="#0c5af4"/><stop offset=".4" stop-color="#1270f2"/><stop offset=".5" stop-color="#1681f0"/><stop offset=".6" stop-color="#148af1"/><stop offset=".7" stop-color="#1583f0"/><stop offset=".8" stop-color="#116df2"/><stop offset=".9" stop-color="#1271f2"/><stop offset="1" stop-color="#1376f1"/></linearGradient>
<linearGradient id="h96" x2="0" y2="1"><stop offset="0" stop-color="#1196f1"/><stop offset=".1" stop-color="#138ef1"/><stop offset=".2" stop-color="#1584f0"/><stop offset=".3" stop-color="#1478f1"/><stop offset=".4" stop-color="#148af1"/><stop offset=".5" stop-color="#1291f1"/><stop offset=".6" stop-color="#1292f1"/><stop offset=".7" stop-color="#167ff0"/><stop offset=".8" stop-color="#157bf1"/><stop offset=".9" stop-color="#1488f0"/><stop offset="1" stop-color="#109cf1"/></linearGradient>
<linearGradient id="h97" x2="0" y2="1"><stop offset="0" stop-color="#1373f2"/><stop offset=".1" stop-color="#1582f0"/><stop offset=".2" stop-color="#1586f0"/><stop offset=".3" stop-color="#1479f1"/><stop offset=".4" stop-color="#1270f2"/><stop offset=".5" stop-color="#157cf0"/><stop offset=".6" stop-color="#1585f0"/><stop offset=".7" stop-color="#1584f0"/><stop offset=".8" stop-color="#1585f0"/><stop offset=".9" stop-color="#1479f1"/><stop offset="1" stop-color="#1372f2"/></linearGradient>
<linearGradient id="h98" x2="0" y2="1"><stop offset="0" stop-color="#1373f1"/><stop offset=".1" stop-color="#157cf1"/><stop offset=".2" stop-color="#1477f1"/><stop offset=".3" stop-color="#0e62f4"/><stop offset=".4" stop-color="#116cf2"/><stop offset=".5" stop-color="#157df0"/><stop offset=".6" stop-color="#1585f0"/><stop offset=".7" stop-color="#167ff0"/><stop offset=".8" stop-color="#1373f2"/><stop offset=".9" stop-color="#1068f3"/><stop offset="1" stop-color="#1271f2"/></linearGradient>
<linearGradient id="h99" x2="0" y2="1"><stop offset="0" stop-color="#1488f0"/><stop offset=".1" stop-color="#148af1"/><stop offset=".2" stop-color="#167ff0"/><stop offset=".3" stop-color="#116cf2"/><stop offset=".4" stop-color="#157cf1"/><stop offset=".5" stop-color="#1198f1"/><stop offset=".6" stop-color="#1584f0"/><stop offset=".7" stop-color="#1271f2"/><stop offset=".8" stop-color="#1270f2"/><stop offset=".9" stop-color="#1478f1"/><stop offset="1" stop-color="#1197f1"/></linearGradient>
<linearGradient id="h100" x2="0" y2="1"><stop offset="0" stop-color="#1583f0"/><stop offset=".1" stop-color="#138ff1"/><stop offset=".2" stop-color="#138ff1"/><stop offset=".3" stop-color="#167ef0"/><stop offset=".4" stop-color="#1487f0"/><stop offset=".5" stop-color="#1488f0"/><stop offset=".6" stop-color="#1291f1"/><stop offset=".7" stop-color="#1292f1"/><stop offset=".8" stop-color="#1680f0"/><stop offset=".9" stop-color="#1582f0"/><stop offset="1" stop-color="#1583f0"/></linearGradient>
<linearGradient id="h101" x2="0" y2="1"><stop offset="0" stop-color="#157bf1"/><stop offset=".1" stop-color="#1586f0"/><stop offset=".2" stop-color="#1372f2"/><stop offset=".3" stop-color="#0c57f5"/><stop offset=".4" stop-color="#1373f2"/><stop offset=".5" stop-color="#1584f0"/><stop offset=".6" stop-color="#148af1"/><stop offset=".7" stop-color="#157bf1"/><stop offset=".8" stop-color="#0d5df4"/><stop offset=".9" stop-color="#1374f1"/><stop offset="1" stop-color="#167ef0"/></linearGradient>
<linearGradient id="h102" x2="0" y2="1"><stop offset="0" stop-color="#1680f0"/><stop offset=".1" stop-color="#1488f0"/><stop offset=".2" stop-color="#1479f1"/><stop offset=".3" stop-color="#0c5af4"/><stop offset=".4" stop-color="#116cf2"/><stop offset=".5" stop-color="#1681f0"/><stop offset=".6" stop-color="#1489f0"/><stop offset=".7" stop-color="#157ef0"/><stop offset=".8" stop-color="#1270f2"/><stop offset=".9" stop-color="#1478f1"/><stop offset="1" stop-color="#157bf1"/></linearGradient>
<linearGradient id="h103" x2="0" y2="1"><stop offset="0" stop-color="#1586f0"/><stop offset=".1" stop-color="#1488f0"/><stop offset=".2" stop-color="#109bf1"/><stop offset=".3" stop-color="#167ff0"/><stop offset=".4" stop-color="#1489f0"/><stop offset=".5" stop-color="#138ef1"/><stop offset=".6" stop-color="#138ef1"/><stop offset=".7" stop-color="#1586f0"/><stop offset=".8" stop-color="#148af1"/><stop offset=".9" stop-color="#1680f0"/><stop offset="1" stop-color="#1583f0"/></linearGradient>
<linearGradient id="h104" x2="0" y2="1"><stop offset="0" stop-color="#1099f1"/><stop offset=".1" stop-color="#109af1"/><stop offset=".2" stop-color="#1682f0"/><stop offset=".3" stop-color="#147af1"/><stop offset=".4" stop-color="#1489f0"/><stop offset=".5" stop-color="#0caaf2"/><stop offset=".6" stop-color="#109cf1"/><stop offset=".7" stop-color="#1293f1"/><stop offset=".8" stop-color="#157bf1"/><stop offset=".9" stop-color="#1291f1"/><stop offset="1" stop-color="#0da6f2"/></linearGradient>
<linearGradient id="h105" x2="0" y2="1"><stop offset="0" stop-color="#138ff1"/><stop offset=".1" stop-color="#109af1"/><stop offset=".2" stop-color="#138ef1"/><stop offset=".3" stop-color="#1374f1"/><stop offset=".4" stop-color="#147af1"/><stop offset=".5" stop-color="#138ff1"/><stop offset=".6" stop-color="#1291f1"/><stop offset=".7" stop-color="#148bf1"/><stop offset=".8" stop-color="#1682f0"/><stop offset=".9" stop-color="#1270f2"/><stop offset="1" stop-color="#167ff0"/></linearGradient>
<linearGradient id="h106" x2="0" y2="1"><stop offset="0" stop-color="#1198f1"/><stop offset=".1" stop-color="#109af1"/><stop offset=".2" stop-color="#1682f0"/><stop offset=".3" stop-color="#157af1"/><stop offset=".4" stop-color="#167ff0"/><stop offset=".5" stop-color="#0fa0f2"/><stop offset=".6" stop-color="#1196f1"/><stop offset=".7" stop-color="#1586f0"/><stop offset=".8" stop-color="#167ff0"/><stop offset=".9" stop-color="#1680f0"/><stop offset="1" stop-color="#1294f1"/></linearGradient>
<linearGradient id="h107" x2="0" y2="1"><stop offset="0" stop-color="#0da9f2"/><stop offset=".1" stop-color="#0da6f2"/><stop offset=".2" stop-color="#0bb0f2"/><stop offset=".3" stop-color="#0ea2f2"/><stop offset=".4" stop-color="#0cabf2"/><stop offset=".5" stop-color="#0bb3f3"/><stop offset=".6" stop-color="#0bb0f2"/><stop offset=".7" stop-color="#0da6f2"/><stop offset=".8" stop-color="#0cabf2"/><stop offset=".9" stop-color="#09b9f3"/><stop offset="1" stop-color="#109af1"/></linearGradient>
<linearGradient id="h108" x2="0" y2="1"><stop offset="0" stop-color="#109bf1"/><stop offset=".1" stop-color="#138cf1"/><stop offset=".2" stop-color="#1291f1"/><stop offset=".3" stop-color="#157bf1"/><stop offset=".4" stop-color="#109af1"/><stop offset=".5" stop-color="#0ea2f2"/><stop offset=".6" stop-color="#109bf1"/><stop offset=".7" stop-color="#138ef1"/><stop offset=".8" stop-color="#109cf1"/><stop offset=".9" stop-color="#0da9f2"/><stop offset="1" stop-color="#109cf1"/></linearGradient>
<linearGradient id="h109" x2="0" y2="1"><stop offset="0" stop-color="#157cf0"/><stop offset=".1" stop-color="#126ef2"/><stop offset=".2" stop-color="#106af3"/><stop offset=".3" stop-color="#1068f3"/><stop offset=".4" stop-color="#1375f1"/><stop offset=".5" stop-color="#157df0"/><stop offset=".6" stop-color="#0f65f3"/><stop offset=".7" stop-color="#0f62f4"/><stop offset=".8" stop-color="#116df2"/><stop offset=".9" stop-color="#1681f0"/><stop offset="1" stop-color="#1477f1"/></linearGradient>
<linearGradient id="h110" x2="0" y2="1"><stop offset="0" stop-color="#116ef2"/><stop offset=".1" stop-color="#126ff2"/><stop offset=".2" stop-color="#116cf2"/><stop offset=".3" stop-color="#0f65f3"/><stop offset=".4" stop-color="#1372f2"/><stop offset=".5" stop-color="#167ff0"/><stop offset=".6" stop-color="#1376f1"/><stop offset=".7" stop-color="#1270f2"/><stop offset=".8" stop-color="#1271f2"/><stop offset=".9" stop-color="#1068f3"/><stop offset="1" stop-color="#157bf1"/></linearGradient>
<linearGradient id="h111" x2="0" y2="1"><stop offset="0" stop-color="#109af1"/><stop offset=".1" stop-color="#1489f0"/><stop offset=".2" stop-color="#1583f0"/><stop offset=".3" stop-color="#1374f1"/><stop offset=".4" stop-color="#138df1"/><stop offset=".5" stop-color="#109cf1"/><stop offset=".6" stop-color="#1195f1"/><stop offset=".7" stop-color="#1487f0"/><stop offset=".8" stop-color="#1374f1"/><stop offset=".9" stop-color="#1583f0"/><stop offset="1" stop-color="#0fa0f2"/></linearGradient>
<linearGradient id="h112" x2="0" y2="1"><stop offset="0" stop-color="#138df1"/><stop offset=".1" stop-color="#1292f1"/><stop offset=".2" stop-color="#1196f1"/><stop offset=".3" stop-color="#147af1"/><stop offset=".4" stop-color="#157ef0"/><stop offset=".5" stop-color="#1586f0"/><stop offset=".6" stop-color="#138ff1"/><stop offset=".7" stop-color="#1198f1"/><stop offset=".8" stop-color="#1582f0"/><stop offset=".9" stop-color="#1680f0"/><stop offset="1" stop-color="#1680f0"/></linearGradient>
<linearGradient id="h113" x2="0" y2="1"><stop offset="0" stop-color="#157ef0"/><stop offset=".1" stop-color="#1374f1"/><stop offset=".2" stop-color="#1680f0"/><stop offset=".3" stop-color="#1680f0"/><stop offset=".4" stop-color="#1478f1"/><stop offset=".5" stop-color="#167ff0"/><stop offset=".6" stop-color="#157df0"/><stop offset=".7" stop-color="#1477f1"/><stop offset=".8" stop-color="#1478f1"/><stop offset=".9" stop-color="#1680f0"/><stop offset="1" stop-color="#157cf1"/></linearGradient>
<linearGradient id="h114" x2="0" y2="1"><stop offset="0" stop-color="#116bf3"/><stop offset=".1" stop-color="#157af1"/><stop offset=".2" stop-color="#167ef0"/><stop offset=".3" stop-color="#1372f2"/><stop offset=".4" stop-color="#116df2"/><stop offset=".5" stop-color="#1375f1"/><stop offset=".6" stop-color="#157df0"/><stop offset=".7" stop-color="#1680f0"/><stop offset=".8" stop-color="#1583f0"/><stop offset=".9" stop-color="#157cf1"/><stop offset="1" stop-color="#1270f2"/></linearGradient>
<linearGradient id="h115" x2="0" y2="1"><stop offset="0" stop-color="#116bf2"/><stop offset=".1" stop-color="#1478f1"/><stop offset=".2" stop-color="#1271f2"/><stop offset=".3" stop-color="#0c59f5"/><stop offset=".4" stop-color="#0c59f5"/><stop offset=".5" stop-color="#1374f1"/><stop offset=".6" stop-color="#1477f1"/><stop offset=".7" stop-color="#157ef0"/><stop offset=".8" stop-color="#1069f3"/><stop offset=".9" stop-color="#0d5bf4"/><stop offset="1" stop-color="#1372f2"/></linearGradient>
<linearGradient id="h116" x2="0" y2="1"><stop offset="0" stop-color="#1680f0"/><stop offset=".1" stop-color="#1375f1"/><stop offset=".2" stop-color="#106af3"/><stop offset=".3" stop-color="#0d5ef4"/><stop offset=".4" stop-color="#1373f2"/><stop offset=".5" stop-color="#157bf1"/><stop offset=".6" stop-color="#1487f0"/><stop offset=".7" stop-color="#116cf2"/><stop offset=".8" stop-color="#0f65f3"/><stop offset=".9" stop-color="#1271f2"/><stop offset="1" stop-color="#1375f1"/></linearGradient>
<linearGradient id="h117" x2="0" y2="1"><stop offset="0" stop-color="#0da9f2"/><stop offset=".1" stop-color="#1099f1"/><stop offset=".2" stop-color="#109bf1"/><stop offset=".3" stop-color="#138bf1"/><stop offset=".4" stop-color="#1196f1"/><stop offset=".5" stop-color="#109df1"/><stop offset=".6" stop-color="#0ea2f2"/><stop offset=".7" stop-color="#138ff1"/><stop offset=".8" stop-color="#1488f0"/><stop offset=".9" stop-color="#1290f1"/><stop offset="1" stop-color="#0ea3f2"/></linearGradient>
<linearGradient id="h118" x2="0" y2="1"><stop offset="0" stop-color="#0ea4f2"/><stop offset=".1" stop-color="#109cf1"/><stop offset=".2" stop-color="#0fa0f2"/><stop offset=".3" stop-color="#109cf1"/><stop offset=".4" stop-color="#0cabf2"/><stop offset=".5" stop-color="#0ea5f2"/><stop offset=".6" stop-color="#0cacf2"/><stop offset=".7" stop-color="#0caaf2"/><stop offset=".8" stop-color="#0da6f2"/><stop offset=".9" stop-color="#0cabf2"/><stop offset="1" stop-color="#0f9ff2"/></linearGradient>
<linearGradient id="h119" x2="0" y2="1"><stop offset="0" stop-color="#1487f0"/><stop offset=".1" stop-color="#0daaf2"/><stop offset=".2" stop-color="#1291f1"/><stop offset=".3" stop-color="#1583f0"/><stop offset=".4" stop-color="#1583f0"/><stop offset=".5" stop-color="#138ef1"/><stop offset=".6" stop-color="#0ea5f2"/><stop offset=".7" stop-color="#109bf1"/><stop offset=".8" stop-color="#148af1"/><stop offset=".9" stop-color="#157ef0"/><stop offset="1" stop-color="#1583f0"/></linearGradient>
<linearGradient id="h120" x2="0" y2="1"><stop offset="0" stop-color="#138ff1"/><stop offset=".1" stop-color="#1195f1"/><stop offset=".2" stop-color="#1487f0"/><stop offset=".3" stop-color="#157bf1"/><stop offset=".4" stop-color="#1489f0"/><stop offset=".5" stop-color="#0fa1f2"/><stop offset=".6" stop-color="#138ff1"/><stop offset=".7" stop-color="#1680f0"/><stop offset=".8" stop-color="#1374f1"/><stop offset=".9" stop-color="#1374f1"/><stop offset="1" stop-color="#138ef1"/></linearGradient>
<linearGradient id="h121" x2="0" y2="1"><stop offset="0" stop-color="#1098f1"/><stop offset=".1" stop-color="#1293f1"/><stop offset=".2" stop-color="#1487f0"/><stop offset=".3" stop-color="#1488f0"/><stop offset=".4" stop-color="#138df1"/><stop offset=".5" stop-color="#0f9ef2"/><stop offset=".6" stop-color="#1198f1"/><stop offset=".7" stop-color="#1292f1"/><stop offset=".8" stop-color="#1586f0"/><stop offset=".9" stop-color="#138df1"/><stop offset="1" stop-color="#0f9ff2"/></linearGradient>
<linearGradient id="h122" x2="0" y2="1"><stop offset="0" stop-color="#1198f1"/><stop offset=".1" stop-color="#1489f0"/><stop offset=".2" stop-color="#1376f1"/><stop offset=".3" stop-color="#116bf2"/><stop offset=".4" stop-color="#1489f0"/><stop offset=".5" stop-color="#138cf1"/><stop offset=".6" stop-color="#1292f1"/><stop offset=".7" stop-color="#1488f0"/><stop offset=".8" stop-color="#157df0"/><stop offset=".9" stop-color="#1487f0"/><stop offset="1" stop-color="#128ff1"/></linearGradient>
<linearGradient id="h123" x2="0" y2="1"><stop offset="0" stop-color="#1586f0"/><stop offset=".1" stop-color="#1194f1"/><stop offset=".2" stop-color="#1099f1"/><stop offset=".3" stop-color="#157af1"/><stop offset=".4" stop-color="#1586f0"/><stop offset=".5" stop-color="#1488f0"/><stop offset=".6" stop-color="#109af1"/><stop offset=".7" stop-color="#1195f1"/><stop offset=".8" stop-color="#157df0"/><stop offset=".9" stop-color="#1680f0"/><stop offset="1" stop-color="#1681f0"/></linearGradient>
<linearGradient id="h124" x2="0" y2="1"><stop offset="0" stop-color="#138ff1"/><stop offset=".1" stop-color="#0f9ef2"/><stop offset=".2" stop-color="#0da7f2"/><stop offset=".3" stop-color="#138cf1"/><stop offset=".4" stop-color="#109af1"/><stop offset=".5" stop-color="#1291f1"/><stop offset=".6" stop-color="#0baff2"/><stop offset=".7" stop-color="#0ab3f3"/><stop offset=".8" stop-color="#0f9df1"/><stop offset=".9" stop-color="#1489f0"/><stop offset="1" stop-color="#1099f1"/></linearGradient>
<linearGradient id="h125" x2="0" y2="1"><stop offset="0" stop-color="#0f9ff2"/><stop offset=".1" stop-color="#0f9ff2"/><stop offset=".2" stop-color="#0ea5f2"/><stop offset=".3" stop-color="#0fa1f2"/><stop offset=".4" stop-color="#0da9f2"/><stop offset=".5" stop-color="#0da8f2"/><stop offset=".6" stop-color="#0da7f2"/><stop offset=".7" stop-color="#0cadf2"/><stop offset=".8" stop-color="#109bf1"/><stop offset=".9" stop-color="#0da8f2"/><stop offset="1" stop-color="#0ea3f2"/></linearGradient>
<linearGradient id="h126" x2="0" y2="1"><stop offset="0" stop-color="#0cabf2"/><stop offset=".1" stop-color="#0f9ff2"/><stop offset=".2" stop-color="#0f9ef2"/><stop offset=".3" stop-color="#1680f0"/><stop offset=".4" stop-color="#1196f1"/><stop offset=".5" stop-color="#0ab4f3"/><stop offset=".6" stop-color="#0ab4f3"/><stop offset=".7" stop-color="#0f9ff2"/><stop offset=".8" stop-color="#1489f0"/><stop offset=".9" stop-color="#138ef1"/><stop offset="1" stop-color="#0da6f2"/></linearGradient>
<linearGradient id="h127" x2="0" y2="1"><stop offset="0" stop-color="#1099f1"/><stop offset=".1" stop-color="#1487f0"/><stop offset=".2" stop-color="#138df1"/><stop offset=".3" stop-color="#1487f0"/><stop offset=".4" stop-color="#0ea5f2"/><stop offset=".5" stop-color="#109bf1"/><stop offset=".6" stop-color="#1488f0"/><stop offset=".7" stop-color="#1586f0"/><stop offset=".8" stop-color="#1196f1"/><stop offset=".9" stop-color="#1099f1"/><stop offset="1" stop-color="#0f9df1"/></linearGradient>
<linearGradient id="h128" x2="0" y2="1"><stop offset="0" stop-color="#1682f0"/><stop offset=".1" stop-color="#1582f0"/><stop offset=".2" stop-color="#1294f1"/><stop offset=".3" stop-color="#1584f0"/><stop offset=".4" stop-color="#1487f0"/><stop offset=".5" stop-color="#138bf1"/><stop offset=".6" stop-color="#1585f0"/><stop offset=".7" stop-color="#1586f0"/><stop offset=".8" stop-color="#138ff1"/><stop offset=".9" stop-color="#138ff1"/><stop offset="1" stop-color="#1099f1"/></linearGradient>
<linearGradient id="h129" x2="0" y2="1"><stop offset="0" stop-color="#109bf1"/><stop offset=".1" stop-color="#1197f1"/><stop offset=".2" stop-color="#167ef0"/><stop offset=".3" stop-color="#1271f2"/><stop offset=".4" stop-color="#148bf1"/><stop offset=".5" stop-color="#0f9df1"/><stop offset=".6" stop-color="#1198f1"/><stop offset=".7" stop-color="#1680f0"/><stop offset=".8" stop-color="#1374f1"/><stop offset=".9" stop-color="#1682f0"/><stop offset="1" stop-color="#1196f1"/></linearGradient>
<linearGradient id="h130" x2="0" y2="1"><stop offset="0" stop-color="#1196f1"/><stop offset=".1" stop-color="#1489f0"/><stop offset=".2" stop-color="#1584f0"/><stop offset=".3" stop-color="#1375f1"/><stop offset=".4" stop-color="#1291f1"/><stop offset=".5" stop-color="#0caef2"/><stop offset=".6" stop-color="#138cf1"/><stop offset=".7" stop-color="#1680f0"/><stop offset=".8" stop-color="#1681f0"/><stop offset=".9" stop-color="#138bf1"/><stop offset="1" stop-color="#0f9df1"/></linearGradient>
<linearGradient id="h131" x2="0" y2="1"><stop offset="0" stop-color="#1488f0"/><stop offset=".1" stop-color="#1681f0"/><stop offset=".2" stop-color="#1477f1"/><stop offset=".3" stop-color="#1272f2"/><stop offset=".4" stop-color="#1584f0"/><stop offset=".5" stop-color="#1680f0"/><stop offset=".6" stop-color="#138ff1"/><stop offset=".7" stop-color="#157bf1"/><stop offset=".8" stop-color="#1477f1"/><stop offset=".9" stop-color="#1584f0"/><stop offset="1" stop-color="#1585f0"/></linearGradient>
<linearGradient id="h132" x2="0" y2="1"><stop offset="0" stop-color="#1270f2"/><stop offset=".1" stop-color="#126ef2"/><stop offset=".2" stop-color="#147af1"/><stop offset=".3" stop-color="#0e60f4"/><stop offset=".4" stop-color="#1374f1"/><stop offset=".5" stop-color="#1272f2"/><stop offset=".6" stop-color="#1681f0"/><stop offset=".7" stop-color="#1068f3"/><stop offset=".8" stop-color="#1272f2"/><stop offset=".9" stop-color="#1067f3"/><stop offset="1" stop-color="#1375f1"/></linearGradient>
<linearGradient id="h133" x2="0" y2="1"><stop offset="0" stop-color="#157cf0"/><stop offset=".1" stop-color="#1479f1"/><stop offset=".2" stop-color="#1585f0"/><stop offset=".3" stop-color="#1069f3"/><stop offset=".4" stop-color="#147af1"/><stop offset=".5" stop-color="#157ef0"/><stop offset=".6" stop-color="#1586f0"/><stop offset=".7" stop-color="#1478f1"/><stop offset=".8" stop-color="#1374f1"/><stop offset=".9" stop-color="#1271f2"/><stop offset="1" stop-color="#116cf2"/></linearGradient>
<linearGradient id="h134" x2="0" y2="1"><stop offset="0" stop-color="#138df1"/><stop offset=".1" stop-color="#1293f1"/><stop offset=".2" stop-color="#109af1"/><stop offset=".3" stop-color="#1375f1"/><stop offset=".4" stop-color="#157df0"/><stop offset=".5" stop-color="#1294f1"/><stop offset=".6" stop-color="#109bf1"/><stop offset=".7" stop-color="#148af1"/><stop offset=".8" stop-color="#1682f0"/><stop offset=".9" stop-color="#157bf1"/><stop offset="1" stop-color="#148af1"/></linearGradient>
<linearGradient id="h135" x2="0" y2="1"><stop offset="0" stop-color="#1290f1"/><stop offset=".1" stop-color="#138df1"/><stop offset=".2" stop-color="#1194f1"/><stop offset=".3" stop-color="#1681f0"/><stop offset=".4" stop-color="#1680f0"/><stop offset=".5" stop-color="#138df1"/><stop offset=".6" stop-color="#138ef1"/><stop offset=".7" stop-color="#1487f0"/><stop offset=".8" stop-color="#1586f0"/><stop offset=".9" stop-color="#138cf1"/><stop offset="1" stop-color="#1680f0"/></linearGradient>
<linearGradient id="h136" x2="0" y2="1"><stop offset="0" stop-color="#138ff1"/><stop offset=".1" stop-color="#138df1"/><stop offset=".2" stop-color="#1582f0"/><stop offset=".3" stop-color="#1477f1"/><stop offset=".4" stop-color="#148af0"/><stop offset=".5" stop-color="#109cf1"/><stop offset=".6" stop-color="#1195f1"/><stop offset=".7" stop-color="#1487f0"/><stop offset=".8" stop-color="#1373f2"/><stop offset=".9" stop-color="#167ef0"/><stop offset="1" stop-color="#1584f0"/></linearGradient>
<linearGradient id="h137" x2="0" y2="1"><stop offset="0" stop-color="#0da9f2"/><stop offset=".1" stop-color="#1291f1"/><stop offset=".2" stop-color="#1489f0"/><stop offset=".3" stop-color="#1478f1"/><stop offset=".4" stop-color="#1585f0"/><stop offset=".5" stop-color="#0f9ff2"/><stop offset=".6" stop-color="#109bf1"/><stop offset=".7" stop-color="#138cf1"/><stop offset=".8" stop-color="#157bf1"/><stop offset=".9" stop-color="#148bf1"/><stop offset="1" stop-color="#0ea5f2"/></linearGradient>
<linearGradient id="h138" x2="0" y2="1"><stop offset="0" stop-color="#1291f1"/><stop offset=".1" stop-color="#109cf1"/><stop offset=".2" stop-color="#1196f1"/><stop offset=".3" stop-color="#1272f2"/><stop offset=".4" stop-color="#138bf1"/><stop offset=".5" stop-color="#109cf1"/><stop offset=".6" stop-color="#109af1"/><stop offset=".7" stop-color="#1586f0"/><stop offset=".8" stop-color="#167ef0"/><stop offset=".9" stop-color="#1680f0"/><stop offset="1" stop-color="#1292f1"/></linearGradient>
<linearGradient id="h139" x2="0" y2="1"><stop offset="0" stop-color="#1290f1"/><stop offset=".1" stop-color="#1271f2"/><stop offset=".2" stop-color="#0f66f3"/><stop offset=".3" stop-color="#0c58f5"/><stop offset=".4" stop-color="#1477f1"/><stop offset=".5" stop-color="#1195f1"/><stop offset=".6" stop-color="#1681f0"/><stop offset=".7" stop-color="#157ef0"/><stop offset=".8" stop-color="#116bf2"/><stop offset=".9" stop-color="#1478f1"/><stop offset="1" stop-color="#138df1"/></linearGradient>
<linearGradient id="h140" x2="0" y2="1"><stop offset="0" stop-color="#157af1"/><stop offset=".1" stop-color="#0f65f3"/><stop offset=".2" stop-color="#1066f3"/><stop offset=".3" stop-color="#0f65f3"/><stop offset=".4" stop-color="#116bf2"/><stop offset=".5" stop-color="#1272f2"/><stop offset=".6" stop-color="#126ff2"/><stop offset=".7" stop-color="#1069f3"/><stop offset=".8" stop-color="#116df2"/><stop offset=".9" stop-color="#126ff2"/><stop offset="1" stop-color="#1478f1"/></linearGradient>
<linearGradient id="h141" x2="0" y2="1"><stop offset="0" stop-color="#147af1"/><stop offset=".1" stop-color="#147af1"/><stop offset=".2" stop-color="#1488f0"/><stop offset=".3" stop-color="#1374f1"/><stop offset=".4" stop-color="#1476f1"/><stop offset=".5" stop-color="#138ff1"/><stop offset=".6" stop-color="#1291f1"/><stop offset=".7" stop-color="#1681f0"/><stop offset=".8" stop-color="#1583f0"/><stop offset=".9" stop-color="#157cf0"/><stop offset="1" stop-color="#1682f0"/></linearGradient>
<linearGradient id="h142" x2="0" y2="1"><stop offset="0" stop-color="#1477f1"/><stop offset=".1" stop-color="#1681f0"/><stop offset=".2" stop-color="#126ef2"/><stop offset=".3" stop-color="#0e60f4"/><stop offset=".4" stop-color="#1067f3"/><stop offset=".5" stop-color="#157af1"/><stop offset=".6" stop-color="#1584f0"/><stop offset=".7" stop-color="#1375f1"/><stop offset=".8" stop-color="#0f62f3"/><stop offset=".9" stop-color="#126ff2"/><stop offset="1" stop-color="#1271f2"/></linearGradient>
<linearGradient id="h143" x2="0" y2="1"><stop offset="0" stop-color="#0f66f3"/><stop offset=".1" stop-color="#0f64f3"/><stop offset=".2" stop-color="#0b54f5"/><stop offset=".3" stop-color="#063ff8"/><stop offset=".4" stop-color="#094cf6"/><stop offset=".5" stop-color="#116df2"/><stop offset=".6" stop-color="#0d5df4"/><stop offset=".7" stop-color="#0a4ef6"/><stop offset=".8" stop-color="#0539f8"/><stop offset=".9" stop-color="#0a50f6"/><stop offset="1" stop-color="#116bf3"/></linearGradient>
<linearGradient id="h144" x2="0" y2="1"><stop offset="0" stop-color="#116df2"/><stop offset=".1" stop-color="#0d5df4"/><stop offset=".2" stop-color="#0f64f3"/><stop offset=".3" stop-color="#0a50f6"/><stop offset=".4" stop-color="#0c5af4"/><stop offset=".5" stop-color="#1477f1"/><stop offset=".6" stop-color="#0e60f4"/><stop offset=".7" stop-color="#0f64f3"/><stop offset=".8" stop-color="#0b52f5"/><stop offset=".9" stop-color="#0c58f5"/><stop offset="1" stop-color="#1271f2"/></linearGradient>
<linearGradient id="h145" x2="0" y2="1"><stop offset="0" stop-color="#1291f1"/><stop offset=".1" stop-color="#1582f0"/><stop offset=".2" stop-color="#0f64f3"/><stop offset=".3" stop-color="#084af6"/><stop offset=".4" stop-color="#1272f2"/><stop offset=".5" stop-color="#138ef1"/><stop offset=".6" stop-color="#1680f0"/><stop offset=".7" stop-color="#0f64f3"/><stop offset=".8" stop-color="#0d5bf4"/><stop offset=".9" stop-color="#116bf2"/><stop offset="1" stop-color="#1198f1"/></linearGradient>
<linearGradient id="h146" x2="0" y2="1"><stop offset="0" stop-color="#1489f0"/><stop offset=".04" stop-color="#1488f0"/><stop offset=".08" stop-color="#157bf1"/><stop offset=".12" stop-color="#1477f1"/><stop offset=".17" stop-color="#1477f1"/><stop offset=".21" stop-color="#0f63f3"/><stop offset=".25" stop-color="#0f62f3"/><stop offset=".29" stop-color="#0a50f6"/><stop offset=".33" stop-color="#0640f7"/><stop offset=".38" stop-color="#0848f7"/><stop offset=".42" stop-color="#126ff2"/><stop offset=".46" stop-color="#157df0"/><stop offset=".5" stop-color="#138df1"/><stop offset=".54" stop-color="#1291f1"/><stop offset=".58" stop-color="#1585f0"/><stop offset=".62" stop-color="#157bf1"/><stop offset=".67" stop-color="#1478f1"/><stop offset=".71" stop-color="#0f63f3"/><stop offset=".75" stop-color="#1068f3"/><stop offset=".79" stop-color="#0a4ff6"/><stop offset=".83" stop-color="#0849f6"/><stop offset=".88" stop-color="#0a4ff6"/><stop offset=".92" stop-color="#1068f3"/><stop offset=".96" stop-color="#1271f2"/><stop offset="1" stop-color="#138ff1"/></linearGradient>
<linearGradient id="h147" x2="0" y2="1"><stop offset="0" stop-color="#0fa0f2"/><stop offset=".04" stop-color="#1488f0"/><stop offset=".08" stop-color="#1680f0"/><stop offset=".12" stop-color="#157bf1"/><stop offset=".17" stop-color="#0f64f3"/><stop offset=".21" stop-color="#0c59f5"/><stop offset=".25" stop-color="#0b52f5"/><stop offset=".29" stop-color="#0744f7"/><stop offset=".33" stop-color="#053bf8"/><stop offset=".38" stop-color="#0b53f5"/><stop offset=".42" stop-color="#126ff2"/><stop offset=".46" stop-color="#1584f0"/><stop offset=".5" stop-color="#1293f1"/><stop offset=".54" stop-color="#0ea3f2"/><stop offset=".58" stop-color="#148bf1"/><stop offset=".62" stop-color="#1272f2"/><stop offset=".67" stop-color="#1069f3"/><stop offset=".71" stop-color="#0d5cf4"/><stop offset=".75" stop-color="#0849f6"/><stop offset=".79" stop-color="#0a50f6"/><stop offset=".83" stop-color="#0849f6"/><stop offset=".88" stop-color="#0b55f5"/><stop offset=".92" stop-color="#116cf2"/><stop offset=".96" stop-color="#1197f1"/><stop offset="1" stop-color="#138ff1"/></linearGradient>
<linearGradient id="h148" x2="0" y2="1"><stop offset="0" stop-color="#07c2f3"/><stop offset=".04" stop-color="#0da6f2"/><stop offset=".08" stop-color="#138cf1"/><stop offset=".12" stop-color="#0f62f4"/><stop offset=".17" stop-color="#0b54f5"/><stop offset=".21" stop-color="#0d5cf4"/><stop offset=".25" stop-color="#0c56f5"/><stop offset=".29" stop-color="#0d5cf4"/><stop offset=".33" stop-color="#0a51f6"/><stop offset=".38" stop-color="#1375f1"/><stop offset=".42" stop-color="#1195f1"/><stop offset=".46" stop-color="#0bb2f3"/><stop offset=".5" stop-color="#08bcf3"/><stop offset=".54" stop-color="#0ab5f3"/><stop offset=".58" stop-color="#1197f1"/><stop offset=".62" stop-color="#1270f2"/><stop offset=".67" stop-color="#0b53f5"/><stop offset=".71" stop-color="#0c59f5"/><stop offset=".75" stop-color="#0f63f3"/><stop offset=".79" stop-color="#0a4ff6"/><stop offset=".83" stop-color="#1067f3"/><stop offset=".88" stop-color="#1068f3"/><stop offset=".92" stop-color="#1292f1"/><stop offset=".96" stop-color="#0cadf2"/><stop offset="1" stop-color="#09b8f3"/></linearGradient>
<linearGradient id="h149" x2="0" y2="1"><stop offset="0" stop-color="#01e1ed"/><stop offset=".04" stop-color="#01e1f1"/><stop offset=".08" stop-color="#08bcf3"/><stop offset=".12" stop-color="#1195f1"/><stop offset=".17" stop-color="#1489f0"/><stop offset=".21" stop-color="#1585f0"/><stop offset=".25" stop-color="#157df0"/><stop offset=".29" stop-color="#126ff2"/><stop offset=".33" stop-color="#1069f3"/><stop offset=".38" stop-color="#1583f0"/><stop offset=".42" stop-color="#0cacf2"/><stop offset=".46" stop-color="#02d6f4"/><stop offset=".5" stop-color="#01def5"/><stop offset=".54" stop-color="#01dcf5"/><stop offset=".58" stop-color="#05caf4"/><stop offset=".62" stop-color="#0bb0f2"/><stop offset=".67" stop-color="#0f9ef2"/><stop offset=".71" stop-color="#1479f1"/><stop offset=".75" stop-color="#157cf1"/><stop offset=".79" stop-color="#1376f1"/><stop offset=".83" stop-color="#116ef2"/><stop offset=".88" stop-color="#1479f1"/><stop offset=".92" stop-color="#0cacf2"/><stop offset=".96" stop-color="#02d6f4"/><stop offset="1" stop-color="#00dff5"/></linearGradient>
<linearGradient id="h150" x2="0" y2="1"><stop offset="0" stop-color="#13e483"/><stop offset=".04" stop-color="#08e2c1"/><stop offset=".08" stop-color="#06c6f4"/><stop offset=".12" stop-color="#0cabf2"/><stop offset=".17" stop-color="#1586f0"/><stop offset=".21" stop-color="#1195f1"/><stop offset=".25" stop-color="#1292f1"/><stop offset=".29" stop-color="#148af0"/><stop offset=".33" stop-color="#138ef1"/><stop offset=".38" stop-color="#0ab6f3"/><stop offset=".42" stop-color="#01e1f2"/><stop offset=".46" stop-color="#0ce3ab"/><stop offset=".5" stop-color="#14e47a"/><stop offset=".54" stop-color="#10e495"/><stop offset=".58" stop-color="#00e1f2"/><stop offset=".62" stop-color="#0caaf2"/><stop offset=".67" stop-color="#1489f0"/><stop offset=".71" stop-color="#109bf1"/><stop offset=".75" stop-color="#1290f1"/><stop offset=".79" stop-color="#138bf1"/><stop offset=".83" stop-color="#1099f1"/><stop offset=".88" stop-color="#0bb2f3"/><stop offset=".92" stop-color="#00e1f4"/><stop offset=".96" stop-color="#0de3a3"/><stop offset="1" stop-color="#11e48f"/></linearGradient>
<linearGradient id="h151" x2="0" y2="1"><stop offset="0" stop-color="#44ea25"/><stop offset=".04" stop-color="#1ce64b"/><stop offset=".08" stop-color="#0ae3ba"/><stop offset=".12" stop-color="#05c9f4"/><stop offset=".17" stop-color="#109af1"/><stop offset=".21" stop-color="#0ea4f2"/><stop offset=".25" stop-color="#109cf1"/><stop offset=".29" stop-color="#1197f1"/><stop offset=".33" stop-color="#1489f0"/><stop offset=".38" stop-color="#07c1f3"/><stop offset=".42" stop-color="#0de3a4"/><stop offset=".46" stop-color="#1de640"/><stop offset=".5" stop-color="#46ea24"/><stop offset=".54" stop-color="#1ee63e"/><stop offset=".58" stop-color="#0ce3ab"/><stop offset=".62" stop-color="#05cbf4"/><stop offset=".67" stop-color="#109cf1"/><stop offset=".71" stop-color="#1197f1"/><stop offset=".75" stop-color="#1293f1"/><stop offset=".79" stop-color="#0f9ef2"/><stop offset=".83" stop-color="#0fa0f2"/><stop offset=".88" stop-color="#04cef4"/><stop offset=".92" stop-color="#0be3af"/><stop offset=".96" stop-color="#1ce646"/><stop offset="1" stop-color="#4aea21"/></linearGradient>
<linearGradient id="h152" x2="0" y2="1"><stop offset="0" stop-color="#adf000"/><stop offset=".04" stop-color="#64ed12"/><stop offset=".08" stop-color="#18e55f"/><stop offset=".12" stop-color="#01ddf5"/><stop offset=".17" stop-color="#0da8f2"/><stop offset=".21" stop-color="#0ea2f2"/><stop offset=".25" stop-color="#138ef1"/><stop offset=".29" stop-color="#1292f1"/><stop offset=".33" stop-color="#1293f1"/><stop offset=".38" stop-color="#01dbf5"/><stop offset=".42" stop-color="#1ae552"/><stop offset=".46" stop-color="#6bee0e"/><stop offset=".5" stop-color="#9df000"/><stop offset=".54" stop-color="#6dee0d"/><stop offset=".58" stop-color="#19e55c"/><stop offset=".62" stop-color="#02daf5"/><stop offset=".67" stop-color="#0caef2"/><stop offset=".71" stop-color="#1195f1"/><stop offset=".75" stop-color="#138ff1"/><stop offset=".79" stop-color="#138ef1"/><stop offset=".83" stop-color="#0da7f2"/><stop offset=".88" stop-color="#03d4f4"/><stop offset=".92" stop-color="#17e565"/><stop offset=".96" stop-color="#70ee0b"/><stop offset="1" stop-color="#9ff000"/></linearGradient>
<linearGradient id="h153" x2="0" y2="1"><stop offset="0" stop-color="#96f000"/><stop offset=".04" stop-color="#69ed0f"/><stop offset=".08" stop-color="#16e56f"/><stop offset=".12" stop-color="#04d1f4"/><stop offset=".17" stop-color="#109cf1"/><stop offset=".21" stop-color="#138df1"/><stop offset=".25" stop-color="#1292f1"/><stop offset=".29" stop-color="#138bf1"/><stop offset=".33" stop-color="#1477f1"/><stop offset=".38" stop-color="#06c4f4"/><stop offset=".42" stop-color="#15e477"/><stop offset=".46" stop-color="#5dec16"/><stop offset=".5" stop-color="#a6f000"/><stop offset=".54" stop-color="#68ed10"/><stop offset=".58" stop-color="#17e569"/><stop offset=".62" stop-color="#04d0f4"/><stop offset=".67" stop-color="#0da6f2"/><stop offset=".71" stop-color="#1487f0"/><stop offset=".75" stop-color="#138ff1"/><stop offset=".79" stop-color="#1584f0"/><stop offset=".83" stop-color="#1196f1"/><stop offset=".88" stop-color="#05caf4"/><stop offset=".92" stop-color="#16e570"/><stop offset=".96" stop-color="#5fec15"/><stop offset="1" stop-color="#95f000"/></linearGradient>
<linearGradient id="h154" x2="0" y2="1"><stop offset="0" stop-color="#84f000"/><stop offset=".04" stop-color="#4ceb20"/><stop offset=".08" stop-color="#17e569"/><stop offset=".12" stop-color="#07c3f3"/><stop offset=".17" stop-color="#0fa1f2"/><stop offset=".21" stop-color="#1682f0"/><stop offset=".25" stop-color="#1585f0"/><stop offset=".29" stop-color="#1584f0"/><stop offset=".33" stop-color="#1682f0"/><stop offset=".38" stop-color="#06c7f4"/><stop offset=".42" stop-color="#15e475"/><stop offset=".46" stop-color="#4feb1f"/><stop offset=".5" stop-color="#80f001"/><stop offset=".54" stop-color="#51eb1d"/><stop offset=".58" stop-color="#14e479"/><stop offset=".62" stop-color="#06c6f4"/><stop offset=".67" stop-color="#1291f1"/><stop offset=".71" stop-color="#1489f0"/><stop offset=".75" stop-color="#1583f0"/><stop offset=".79" stop-color="#167ff0"/><stop offset=".83" stop-color="#1099f1"/><stop offset=".88" stop-color="#05cdf4"/><stop offset=".92" stop-color="#14e47d"/><stop offset=".96" stop-color="#4feb1f"/><stop offset="1" stop-color="#7cef03"/></linearGradient>
<linearGradient id="h155" x2="0" y2="1"><stop offset="0" stop-color="#3fe928"/><stop offset=".04" stop-color="#1de642"/><stop offset=".08" stop-color="#0ee3a1"/><stop offset=".12" stop-color="#07c3f3"/><stop offset=".17" stop-color="#0ea2f2"/><stop offset=".21" stop-color="#1198f1"/><stop offset=".25" stop-color="#148af1"/><stop offset=".29" stop-color="#1584f0"/><stop offset=".33" stop-color="#157bf1"/><stop offset=".38" stop-color="#0ab5f3"/><stop offset=".42" stop-color="#09e2be"/><stop offset=".46" stop-color="#1ee63c"/><stop offset=".5" stop-color="#3ae92b"/><stop offset=".54" stop-color="#27e737"/><stop offset=".58" stop-color="#0ce3a8"/><stop offset=".62" stop-color="#04cff4"/><stop offset=".67" stop-color="#0fa0f2"/><stop offset=".71" stop-color="#148af0"/><stop offset=".75" stop-color="#148af1"/><stop offset=".79" stop-color="#1293f1"/><stop offset=".83" stop-color="#1292f1"/><stop offset=".88" stop-color="#0ab5f3"/><stop offset=".92" stop-color="#08e2c4"/><stop offset=".96" stop-color="#1be64d"/><stop offset="1" stop-color="#39e92c"/></linearGradient>
<linearGradient id="h156" x2="0" y2="1"><stop offset="0" stop-color="#0ce3a9"/><stop offset=".04" stop-color="#03e2e1"/><stop offset=".08" stop-color="#08bcf3"/><stop offset=".12" stop-color="#138ff1"/><stop offset=".17" stop-color="#148bf1"/><stop offset=".21" stop-color="#157bf1"/><stop offset=".25" stop-color="#1489f0"/><stop offset=".29" stop-color="#1376f1"/><stop offset=".33" stop-color="#1272f2"/><stop offset=".38" stop-color="#0f9ff2"/><stop offset=".42" stop-color="#04d0f4"/><stop offset=".46" stop-color="#0ae3b7"/><stop offset=".5" stop-color="#0ce3a9"/><stop offset=".54" stop-color="#09e2be"/><stop offset=".58" stop-color="#04d0f4"/><stop offset=".62" stop-color="#0ea3f2"/><stop offset=".67" stop-color="#1584f0"/><stop offset=".71" stop-color="#1681f0"/><stop offset=".75" stop-color="#1682f0"/><stop offset=".79" stop-color="#1586f0"/><stop offset=".83" stop-color="#1487f0"/><stop offset=".88" stop-color="#109bf1"/><stop offset=".92" stop-color="#03d2f4"/><stop offset=".96" stop-color="#07e2c8"/><stop offset="1" stop-color="#0ce3ad"/></linearGradient>
<linearGradient id="h157" x2="0" y2="1"><stop offset="0" stop-color="#00e0f5"/><stop offset=".04" stop-color="#0ab5f3"/><stop offset=".08" stop-color="#0f9ff2"/><stop offset=".12" stop-color="#138ef1"/><stop offset=".17" stop-color="#167ff0"/><stop offset=".21" stop-color="#1583f0"/><stop offset=".25" stop-color="#157cf0"/><stop offset=".29" stop-color="#1478f1"/><stop offset=".33" stop-color="#1069f3"/><stop offset=".38" stop-color="#167ef0"/><stop offset=".42" stop-color="#0da7f2"/><stop offset=".46" stop-color="#09baf3"/><stop offset=".5" stop-color="#02d8f5"/><stop offset=".54" stop-color="#04cef4"/><stop offset=".58" stop-color="#0fa1f2"/><stop offset=".62" stop-color="#1292f1"/><stop offset=".67" stop-color="#1478f1"/><stop offset=".71" stop-color="#1582f0"/><stop offset=".75" stop-color="#1585f0"/><stop offset=".79" stop-color="#116df2"/><stop offset=".83" stop-color="#126ef2"/><stop offset=".88" stop-color="#148bf1"/><stop offset=".92" stop-color="#0ea1f2"/><stop offset=".96" stop-color="#09b9f3"/><stop offset="1" stop-color="#03d2f4"/></linearGradient>
<linearGradient id="h158" x2="0" y2="1"><stop offset="0" stop-color="#08bdf3"/><stop offset=".04" stop-color="#0cacf2"/><stop offset=".08" stop-color="#1292f1"/><stop offset=".12" stop-color="#1681f0"/><stop offset=".17" stop-color="#1479f1"/><stop offset=".21" stop-color="#1067f3"/><stop offset=".25" stop-color="#1066f3"/><stop offset=".29" stop-color="#0d5bf4"/><stop offset=".33" stop-color="#0b55f5"/><stop offset=".38" stop-color="#1374f1"/><stop offset=".42" stop-color="#1290f1"/><stop offset=".46" stop-color="#07c1f3"/><stop offset=".5" stop-color="#07c3f3"/><stop offset=".54" stop-color="#09b9f3"/><stop offset=".58" stop-color="#0ea4f2"/><stop offset=".62" stop-color="#138cf1"/><stop offset=".67" stop-color="#1477f1"/><stop offset=".71" stop-color="#0d5df4"/><stop offset=".75" stop-color="#0f65f3"/><stop offset=".79" stop-color="#0f63f3"/><stop offset=".83" stop-color="#0e60f4"/><stop offset=".88" stop-color="#116cf2"/><stop offset=".92" stop-color="#138bf1"/><stop offset=".96" stop-color="#09baf3"/><stop offset="1" stop-color="#0ab3f3"/></linearGradient>
<linearGradient id="h159" x2="0" y2="1"><stop offset="0" stop-color="#0ab4f3"/><stop offset=".04" stop-color="#0daaf2"/><stop offset=".08" stop-color="#109bf1"/><stop offset=".12" stop-color="#1583f0"/><stop offset=".17" stop-color="#157df0"/><stop offset=".21" stop-color="#157cf0"/><stop offset=".25" stop-color="#1680f0"/><stop offset=".29" stop-color="#1586f0"/><stop offset=".33" stop-color="#126ff2"/><stop offset=".38" stop-color="#1584f0"/><stop offset=".42" stop-color="#109af1"/><stop offset=".46" stop-color="#0da9f2"/><stop offset=".5" stop-color="#08bdf3"/><stop offset=".54" stop-color="#0ab5f3"/><stop offset=".58" stop-color="#1099f1"/><stop offset=".62" stop-color="#148af1"/><stop offset=".67" stop-color="#157df0"/><stop offset=".71" stop-color="#1489f0"/><stop offset=".75" stop-color="#1583f0"/><stop offset=".79" stop-color="#1488f0"/><stop offset=".83" stop-color="#1586f0"/><stop offset=".88" stop-color="#1195f1"/><stop offset=".92" stop-color="#0ea2f2"/><stop offset=".96" stop-color="#08bcf3"/><stop offset="1" stop-color="#08bcf3"/></linearGradient>
<linearGradient id="h160" x2="0" y2="1"><stop offset="0" stop-color="#04cef4"/><stop offset=".04" stop-color="#07c1f3"/><stop offset=".08" stop-color="#0ab4f3"/><stop offset=".12" stop-color="#109bf1"/><stop offset=".17" stop-color="#1291f1"/><stop offset=".21" stop-color="#0f9df2"/><stop offset=".25" stop-color="#1487f0"/><stop offset=".29" stop-color="#138ef1"/><stop offset=".33" stop-color="#1585f0"/><stop offset=".38" stop-color="#0bb0f2"/><stop offset=".42" stop-color="#0ab7f3"/><stop offset=".46" stop-color="#05caf4"/><stop offset=".5" stop-color="#03d3f4"/><stop offset=".54" stop-color="#07c2f3"/><stop offset=".58" stop-color="#09baf3"/><stop offset=".62" stop-color="#0f9ff2"/><stop offset=".67" stop-color="#138cf1"/><stop offset=".71" stop-color="#138bf1"/><stop offset=".75" stop-color="#138bf1"/><stop offset=".79" stop-color="#1198f1"/><stop offset=".83" stop-color="#1291f1"/><stop offset=".88" stop-color="#0ea3f2"/><stop offset=".92" stop-color="#09bbf3"/><stop offset=".96" stop-color="#06c6f4"/><stop offset="1" stop-color="#04cef4"/></linearGradient>
<linearGradient id="h161" x2="0" y2="1"><stop offset="0" stop-color="#109cf1"/><stop offset=".04" stop-color="#138ff1"/><stop offset=".08" stop-color="#138ff1"/><stop offset=".12" stop-color="#1585f0"/><stop offset=".17" stop-color="#1682f0"/><stop offset=".21" stop-color="#1489f0"/><stop offset=".25" stop-color="#138df1"/><stop offset=".29" stop-color="#1680f0"/><stop offset=".33" stop-color="#1376f1"/><stop offset=".38" stop-color="#1681f0"/><stop offset=".42" stop-color="#1196f1"/><stop offset=".46" stop-color="#0ea3f2"/><stop offset=".5" stop-color="#0ea2f2"/><stop offset=".54" stop-color="#1196f1"/><stop offset=".58" stop-color="#0fa0f2"/><stop offset=".62" stop-color="#1489f0"/><stop offset=".67" stop-color="#1586f0"/><stop offset=".71" stop-color="#1583f0"/><stop offset=".75" stop-color="#1584f0"/><stop offset=".79" stop-color="#1585f0"/><stop offset=".83" stop-color="#1584f0"/><stop offset=".88" stop-color="#157ef0"/><stop offset=".92" stop-color="#109af1"/><stop offset=".96" stop-color="#0fa0f2"/><stop offset="1" stop-color="#109af1"/></linearGradient>
<linearGradient id="h162" x2="0" y2="1"><stop offset="0" stop-color="#138ff1"/><stop offset=".1" stop-color="#157bf1"/><stop offset=".2" stop-color="#1479f1"/><stop offset=".3" stop-color="#0f66f3"/><stop offset=".4" stop-color="#1479f1"/><stop offset=".5" stop-color="#1196f1"/><stop offset=".6" stop-color="#1584f0"/><stop offset=".7" stop-color="#1375f1"/><stop offset=".8" stop-color="#157bf1"/><stop offset=".9" stop-color="#1583f0"/><stop offset="1" stop-color="#138ff1"/></linearGradient>
<linearGradient id="h163" x2="0" y2="1"><stop offset="0" stop-color="#0da7f2"/><stop offset=".1" stop-color="#1292f1"/><stop offset=".2" stop-color="#1680f0"/><stop offset=".3" stop-color="#167ff0"/><stop offset=".4" stop-color="#1197f1"/><stop offset=".5" stop-color="#0ea1f2"/><stop offset=".6" stop-color="#1290f1"/><stop offset=".7" stop-color="#1582f0"/><stop offset=".8" stop-color="#148af1"/><stop offset=".9" stop-color="#1198f1"/><stop offset="1" stop-color="#0fa1f2"/></linearGradient>
<linearGradient id="h164" x2="0" y2="1"><stop offset="0" stop-color="#1195f1"/><stop offset=".1" stop-color="#167ff0"/><stop offset=".2" stop-color="#116cf2"/><stop offset=".3" stop-color="#0e5ef4"/><stop offset=".4" stop-color="#157af1"/><stop offset=".5" stop-color="#1198f1"/><stop offset=".6" stop-color="#1584f0"/><stop offset=".7" stop-color="#1270f2"/><stop offset=".8" stop-color="#0e62f4"/><stop offset=".9" stop-color="#147af1"/><stop offset="1" stop-color="#138ef1"/></linearGradient>
<linearGradient id="h165" x2="0" y2="1"><stop offset="0" stop-color="#157cf0"/><stop offset=".1" stop-color="#1068f3"/><stop offset=".2" stop-color="#0d5cf4"/><stop offset=".3" stop-color="#0b56f5"/><stop offset=".4" stop-color="#1477f1"/><stop offset=".5" stop-color="#1582f0"/><stop offset=".6" stop-color="#126ef2"/><stop offset=".7" stop-color="#1066f3"/><stop offset=".8" stop-color="#0e60f4"/><stop offset=".9" stop-color="#157bf1"/><stop offset="1" stop-color="#1680f0"/></linearGradient>
<linearGradient id="h166" x2="0" y2="1"><stop offset="0" stop-color="#116bf3"/><stop offset=".1" stop-color="#0f62f3"/><stop offset=".2" stop-color="#1067f3"/><stop offset=".3" stop-color="#116bf2"/><stop offset=".4" stop-color="#116af3"/><stop offset=".5" stop-color="#1372f2"/><stop offset=".6" stop-color="#1272f2"/><stop offset=".7" stop-color="#1067f3"/><stop offset=".8" stop-color="#116df2"/><stop offset=".9" stop-color="#1067f3"/><stop offset="1" stop-color="#0f65f3"/></linearGradient>
<linearGradient id="h167" x2="0" y2="1"><stop offset="0" stop-color="#1477f1"/><stop offset=".1" stop-color="#157cf0"/><stop offset=".2" stop-color="#116ef2"/><stop offset=".3" stop-color="#094ef6"/><stop offset=".4" stop-color="#116af3"/><stop offset=".5" stop-color="#1585f0"/><stop offset=".6" stop-color="#1477f1"/><stop offset=".7" stop-color="#0f65f3"/><stop offset=".8" stop-color="#0e5ef4"/><stop offset=".9" stop-color="#0e60f4"/><stop offset="1" stop-color="#157cf0"/></linearGradient>
<linearGradient id="h168" x2="0" y2="1"><stop offset="0" stop-color="#1292f1"/><stop offset=".1" stop-color="#1488f0"/><stop offset=".2" stop-color="#1375f1"/><stop offset=".3" stop-color="#1477f1"/><stop offset=".4" stop-color="#157ef0"/><stop offset=".5" stop-color="#1294f1"/><stop offset=".6" stop-color="#109af1"/><stop offset=".7" stop-color="#1477f1"/><stop offset=".8" stop-color="#1476f1"/><stop offset=".9" stop-color="#1291f1"/><stop offset="1" stop-color="#1584f0"/></linearGradient>
<linearGradient id="h169" x2="0" y2="1"><stop offset="0" stop-color="#0caef2"/><stop offset=".1" stop-color="#09bbf3"/><stop offset=".2" stop-color="#109bf1"/><stop offset=".3" stop-color="#1682f0"/><stop offset=".4" stop-color="#1290f1"/><stop offset=".5" stop-color="#0da9f2"/><stop offset=".6" stop-color="#0ab3f3"/><stop offset=".7" stop-color="#0f9ff2"/><stop offset=".8" stop-color="#148af1"/><stop offset=".9" stop-color="#1292f1"/><stop offset="1" stop-color="#0ea3f2"/></linearGradient>
<linearGradient id="h170" x2="0" y2="1"><stop offset="0" stop-color="#109af1"/><stop offset=".1" stop-color="#0ea1f2"/><stop offset=".2" stop-color="#1290f1"/><stop offset=".3" stop-color="#1372f2"/><stop offset=".4" stop-color="#1487f0"/><stop offset=".5" stop-color="#0f9df1"/><stop offset=".6" stop-color="#109cf1"/><stop offset=".7" stop-color="#1198f1"/><stop offset=".8" stop-color="#1584f0"/><stop offset=".9" stop-color="#1293f1"/><stop offset="1" stop-color="#109af1"/></linearGradient>
<linearGradient id="h171" x2="0" y2="1"><stop offset="0" stop-color="#1488f0"/><stop offset=".1" stop-color="#1681f0"/><stop offset=".2" stop-color="#157cf0"/><stop offset=".3" stop-color="#1680f0"/><stop offset=".4" stop-color="#1489f0"/><stop offset=".5" stop-color="#1586f0"/><stop offset=".6" stop-color="#1293f1"/><stop offset=".7" stop-color="#1682f0"/><stop offset=".8" stop-color="#1478f1"/><stop offset=".9" stop-color="#1585f0"/><stop offset="1" stop-color="#1292f1"/></linearGradient>
</defs>
<rect x="260.05" y="383.2" width="1.15" height="159" fill="url(#h0)"/>
<rect x="261.05" y="383.2" width="1.15" height="159" fill="url(#h1)"/>
<rect x="262.05" y="383.2" width="1.15" height="159" fill="url(#h2)"/>
<rect x="263.05" y="383.2" width="1.15" height="159" fill="url(#h3)"/>
<rect x="264.05" y="383.2" width="1.15" height="159" fill="url(#h4)"/>
<rect x="265.06" y="383.2" width="1.15" height="159" fill="url(#h5)"/>
<rect x="266.06" y="383.2" width="1.15" height="159" fill="url(#h6)"/>
<rect x="267.06" y="383.2" width="1.15" height="159" fill="url(#h7)"/>
<rect x="268.06" y="383.2" width="1.15" height="159" fill="url(#h8)"/>
<rect x="269.06" y="383.2" width="1.15" height="159" fill="url(#h9)"/>
<rect x="270.06" y="383.2" width="1.15" height="159" fill="url(#h10)"/>
<rect x="271.06" y="383.2" width="1.15" height="159" fill="url(#h11)"/>
<rect x="272.06" y="383.2" width="1.15" height="159" fill="url(#h12)"/>
<rect x="273.07" y="383.2" width="1.15" height="159" fill="url(#h13)"/>
<rect x="274.07" y="383.2" width="1.15" height="159" fill="url(#h14)"/>
<rect x="275.07" y="383.2" width="1.15" height="159" fill="url(#h15)"/>
<rect x="276.07" y="383.2" width="1.15" height="159" fill="url(#h16)"/>
<rect x="277.07" y="383.2" width="1.15" height="159" fill="url(#h17)"/>
<rect x="278.07" y="383.2" width="1.15" height="159" fill="url(#h18)"/>
<rect x="279.07" y="383.2" width="1.15" height="159" fill="url(#h19)"/>
<rect x="280.07" y="383.2" width="1.15" height="159" fill="url(#h20)"/>
<rect x="281.07" y="383.2" width="1.15" height="159" fill="url(#h21)"/>
<rect x="282.08" y="383.2" width="1.15" height="159" fill="url(#h22)"/>
<rect x="283.08" y="383.2" width="1.15" height="159" fill="url(#h23)"/>
<rect x="284.08" y="383.2" width="1.15" height="159" fill="url(#h24)"/>
<rect x="285.08" y="383.2" width="1.15" height="159" fill="url(#h25)"/>
<rect x="286.08" y="383.2" width="1.15" height="159" fill="url(#h26)"/>
<rect x="287.08" y="383.2" width="1.15" height="159" fill="url(#h27)"/>
<rect x="288.08" y="383.2" width="1.15" height="159" fill="url(#h28)"/>
<rect x="289.08" y="383.2" width="1.15" height="159" fill="url(#h29)"/>
<rect x="290.08" y="383.2" width="1.15" height="159" fill="url(#h30)"/>
<rect x="291.09" y="383.2" width="1.15" height="159" fill="url(#h31)"/>
<rect x="292.09" y="383.2" width="1.15" height="159" fill="url(#h32)"/>
<rect x="293.09" y="383.2" width="1.15" height="159" fill="url(#h33)"/>
<rect x="294.09" y="383.2" width="1.15" height="159" fill="url(#h34)"/>
<rect x="295.09" y="383.2" width="1.15" height="159" fill="url(#h35)"/>
<rect x="296.09" y="383.2" width="1.15" height="159" fill="url(#h36)"/>
<rect x="297.09" y="383.2" width="1.15" height="159" fill="url(#h37)"/>
<rect x="298.09" y="383.2" width="1.15" height="159" fill="url(#h38)"/>
<rect x="299.1" y="383.2" width="1.15" height="159" fill="url(#h39)"/>
<rect x="300.1" y="383.2" width="1.15" height="159" fill="url(#h40)"/>
<rect x="301.1" y="383.2" width="1.15" height="159" fill="url(#h41)"/>
<rect x="302.1" y="383.2" width="1.15" height="159" fill="url(#h42)"/>
<rect x="303.1" y="383.2" width="1.15" height="159" fill="url(#h43)"/>
<rect x="304.1" y="383.2" width="1.15" height="159" fill="url(#h44)"/>
<rect x="305.1" y="383.2" width="1.15" height="159" fill="url(#h45)"/>
<rect x="306.1" y="383.2" width="1.15" height="159" fill="url(#h46)"/>
<rect x="307.1" y="383.2" width="1.15" height="159" fill="url(#h47)"/>
<rect x="308.11" y="383.2" width="1.15" height="159" fill="url(#h48)"/>
<rect x="309.11" y="383.2" width="1.15" height="159" fill="url(#h49)"/>
<rect x="310.11" y="383.2" width="1.15" height="159" fill="url(#h50)"/>
<rect x="311.11" y="383.2" width="1.15" height="159" fill="url(#h51)"/>
<rect x="312.11" y="383.2" width="1.15" height="159" fill="url(#h52)"/>
<rect x="313.11" y="383.2" width="1.15" height="159" fill="url(#h53)"/>
<rect x="314.11" y="383.2" width="1.15" height="159" fill="url(#h54)"/>
<rect x="315.11" y="383.2" width="1.15" height="159" fill="url(#h55)"/>
<rect x="316.12" y="383.2" width="1.15" height="159" fill="url(#h56)"/>
<rect x="317.12" y="383.2" width="1.15" height="159" fill="url(#h57)"/>
<rect x="318.12" y="383.2" width="1.15" height="159" fill="url(#h58)"/>
<rect x="319.12" y="383.2" width="1.15" height="159" fill="url(#h59)"/>
<rect x="320.12" y="383.2" width="1.15" height="159" fill="url(#h60)"/>
<rect x="321.12" y="383.2" width="1.15" height="159" fill="url(#h61)"/>
<rect x="322.12" y="383.2" width="1.15" height="159" fill="url(#h62)"/>
<rect x="323.12" y="383.2" width="1.15" height="159" fill="url(#h63)"/>
<rect x="324.12" y="383.2" width="1.15" height="159" fill="url(#h64)"/>
<rect x="325.13" y="383.2" width="1.15" height="159" fill="url(#h65)"/>
<rect x="326.13" y="383.2" width="1.15" height="159" fill="url(#h66)"/>
<rect x="327.13" y="383.2" width="1.15" height="159" fill="url(#h67)"/>
<rect x="328.13" y="383.2" width="1.15" height="159" fill="url(#h68)"/>
<rect x="329.13" y="383.2" width="1.15" height="159" fill="url(#h69)"/>
<rect x="330.13" y="383.2" width="1.15" height="159" fill="url(#h70)"/>
<rect x="331.13" y="383.2" width="1.15" height="159" fill="url(#h71)"/>
<rect x="332.13" y="383.2" width="1.15" height="159" fill="url(#h72)"/>
<rect x="333.13" y="383.2" width="1.15" height="159" fill="url(#h73)"/>
<rect x="334.14" y="383.2" width="1.15" height="159" fill="url(#h74)"/>
<rect x="335.14" y="383.2" width="1.15" height="159" fill="url(#h75)"/>
<rect x="336.14" y="383.2" width="1.15" height="159" fill="url(#h76)"/>
<rect x="337.14" y="383.2" width="1.15" height="159" fill="url(#h77)"/>
<rect x="338.14" y="383.2" width="1.15" height="159" fill="url(#h78)"/>
<rect x="339.14" y="383.2" width="1.15" height="159" fill="url(#h79)"/>
<rect x="340.14" y="383.2" width="1.15" height="159" fill="url(#h80)"/>
<rect x="341.14" y="383.2" width="1.15" height="159" fill="url(#h81)"/>
<rect x="342.15" y="383.2" width="1.15" height="159" fill="url(#h82)"/>
<rect x="343.15" y="383.2" width="1.15" height="159" fill="url(#h83)"/>
<rect x="344.15" y="383.2" width="1.15" height="159" fill="url(#h84)"/>
<rect x="345.15" y="383.2" width="1.15" height="159" fill="url(#h85)"/>
<rect x="346.15" y="383.2" width="1.15" height="159" fill="url(#h86)"/>
<rect x="347.15" y="383.2" width="1.15" height="159" fill="url(#h87)"/>
<rect x="348.15" y="383.2" width="1.15" height="159" fill="url(#h88)"/>
<rect x="349.15" y="383.2" width="1.15" height="159" fill="url(#h89)"/>
<rect x="350.15" y="383.2" width="1.15" height="159" fill="url(#h90)"/>
<rect x="351.16" y="383.2" width="1.15" height="159" fill="url(#h91)"/>
<rect x="352.16" y="383.2" width="1.15" height="159" fill="url(#h92)"/>
<rect x="353.16" y="383.2" width="1.15" height="159" fill="url(#h93)"/>
<rect x="354.16" y="383.2" width="1.15" height="159" fill="url(#h94)"/>
<rect x="355.16" y="383.2" width="1.15" height="159" fill="url(#h95)"/>
<rect x="356.16" y="383.2" width="1.15" height="159" fill="url(#h96)"/>
<rect x="357.16" y="383.2" width="1.15" height="159" fill="url(#h97)"/>
<rect x="358.16" y="383.2" width="1.15" height="159" fill="url(#h98)"/>
<rect x="359.17" y="383.2" width="1.15" height="159" fill="url(#h99)"/>
<rect x="360.17" y="383.2" width="1.15" height="159" fill="url(#h100)"/>
<rect x="361.17" y="383.2" width="1.15" height="159" fill="url(#h101)"/>
<rect x="362.17" y="383.2" width="1.15" height="159" fill="url(#h102)"/>
<rect x="363.17" y="383.2" width="1.15" height="159" fill="url(#h103)"/>
<rect x="364.17" y="383.2" width="1.15" height="159" fill="url(#h104)"/>
<rect x="365.17" y="383.2" width="1.15" height="159" fill="url(#h105)"/>
<rect x="366.17" y="383.2" width="1.15" height="159" fill="url(#h106)"/>
<rect x="367.17" y="383.2" width="1.15" height="159" fill="url(#h107)"/>
<rect x="368.18" y="383.2" width="1.15" height="159" fill="url(#h108)"/>
<rect x="369.18" y="383.2" width="1.15" height="159" fill="url(#h109)"/>
<rect x="370.18" y="383.2" width="1.15" height="159" fill="url(#h110)"/>
<rect x="371.18" y="383.2" width="1.15" height="159" fill="url(#h111)"/>
<rect x="372.18" y="383.2" width="1.15" height="159" fill="url(#h112)"/>
<rect x="373.18" y="383.2" width="1.15" height="159" fill="url(#h113)"/>
<rect x="374.18" y="383.2" width="1.15" height="159" fill="url(#h114)"/>
<rect x="375.18" y="383.2" width="1.15" height="159" fill="url(#h115)"/>
<rect x="376.18" y="383.2" width="1.15" height="159" fill="url(#h116)"/>
<rect x="377.19" y="383.2" width="1.15" height="159" fill="url(#h117)"/>
<rect x="378.19" y="383.2" width="1.15" height="159" fill="url(#h118)"/>
<rect x="379.19" y="383.2" width="1.15" height="159" fill="url(#h119)"/>
<rect x="380.19" y="383.2" width="1.15" height="159" fill="url(#h120)"/>
<rect x="381.19" y="383.2" width="1.15" height="159" fill="url(#h121)"/>
<rect x="382.19" y="383.2" width="1.15" height="159" fill="url(#h122)"/>
<rect x="383.19" y="383.2" width="1.15" height="159" fill="url(#h123)"/>
<rect x="384.19" y="383.2" width="1.15" height="159" fill="url(#h124)"/>
<rect x="385.2" y="383.2" width="1.15" height="159" fill="url(#h125)"/>
<rect x="386.2" y="383.2" width="1.15" height="159" fill="url(#h126)"/>
<rect x="387.2" y="383.2" width="1.15" height="159" fill="url(#h127)"/>
<rect x="388.2" y="383.2" width="1.15" height="159" fill="url(#h128)"/>
<rect x="389.2" y="383.2" width="1.15" height="159" fill="url(#h129)"/>
<rect x="390.2" y="383.2" width="1.15" height="159" fill="url(#h130)"/>
<rect x="391.2" y="383.2" width="1.15" height="159" fill="url(#h131)"/>
<rect x="392.2" y="383.2" width="1.15" height="159" fill="url(#h132)"/>
<rect x="393.2" y="383.2" width="1.15" height="159" fill="url(#h133)"/>
<rect x="394.21" y="383.2" width="1.15" height="159" fill="url(#h134)"/>
<rect x="395.21" y="383.2" width="1.15" height="159" fill="url(#h135)"/>
<rect x="396.21" y="383.2" width="1.15" height="159" fill="url(#h136)"/>
<rect x="397.21" y="383.2" width="1.15" height="159" fill="url(#h137)"/>
<rect x="398.21" y="383.2" width="1.15" height="159" fill="url(#h138)"/>
<rect x="399.21" y="383.2" width="1.15" height="159" fill="url(#h139)"/>
<rect x="400.21" y="383.2" width="1.15" height="159" fill="url(#h140)"/>
<rect x="401.21" y="383.2" width="1.15" height="159" fill="url(#h141)"/>
<rect x="402.22" y="383.2" width="1.15" height="159" fill="url(#h142)"/>
<rect x="403.22" y="383.2" width="1.15" height="159" fill="url(#h143)"/>
<rect x="404.22" y="383.2" width="1.15" height="159" fill="url(#h144)"/>
<rect x="405.22" y="383.2" width="1.15" height="159" fill="url(#h145)"/>
<rect x="406.22" y="383.2" width="1.15" height="159" fill="url(#h146)"/>
<rect x="407.22" y="383.2" width="1.15" height="159" fill="url(#h147)"/>
<rect x="408.22" y="383.2" width="1.15" height="159" fill="url(#h148)"/>
<rect x="409.22" y="383.2" width="1.15" height="159" fill="url(#h149)"/>
<rect x="410.22" y="383.2" width="1.15" height="159" fill="url(#h150)"/>
<rect x="411.23" y="383.2" width="1.15" height="159" fill="url(#h151)"/>
<rect x="412.23" y="383.2" width="1.15" height="159" fill="url(#h152)"/>
<rect x="413.23" y="383.2" width="1.15" height="159" fill="url(#h153)"/>
<rect x="414.23" y="383.2" width="1.15" height="159" fill="url(#h154)"/>
<rect x="415.23" y="383.2" width="1.15" height="159" fill="url(#h155)"/>
<rect x="416.23" y="383.2" width="1.15" height="159" fill="url(#h156)"/>
<rect x="417.23" y="383.2" width="1.15" height="159" fill="url(#h157)"/>
<rect x="418.23" y="383.2" width="1.15" height="159" fill="url(#h158)"/>
<rect x="419.23" y="383.2" width="1.15" height="159" fill="url(#h159)"/>
<rect x="420.24" y="383.2" width="1.15" height="159" fill="url(#h160)"/>
<rect x="421.24" y="383.2" width="1.15" height="159" fill="url(#h161)"/>
<rect x="422.24" y="383.2" width="1.15" height="159" fill="url(#h162)"/>
<rect x="423.24" y="383.2" width="1.15" height="159" fill="url(#h163)"/>
<rect x="424.24" y="383.2" width="1.15" height="159" fill="url(#h164)"/>
<rect x="425.24" y="383.2" width="1.15" height="159" fill="url(#h165)"/>
<rect x="426.24" y="383.2" width="1.15" height="159" fill="url(#h166)"/>
<rect x="427.24" y="383.2" width="1.15" height="159" fill="url(#h167)"/>
<rect x="428.25" y="383.2" width="1.15" height="159" fill="url(#h168)"/>
<rect x="429.25" y="383.2" width="1.15" height="159" fill="url(#h169)"/>
<rect x="430.25" y="383.2" width="1.15" height="159" fill="url(#h170)"/>
<rect x="431.25" y="383.2" width="1.15" height="159" fill="url(#h171)"/>
<rect x="260.1" y="383.2" width="172.2" height="159" fill="none" stroke="#000" stroke-width="1.5"/>
<text class="n" x="259.6" y="553.74" font-size="8.9" text-anchor="middle" fill="#111" stroke="#111">200</text>
<line x1="295.98" y1="542.2" x2="295.98" y2="539.2" stroke="#000" stroke-width="1.1"/>
<line x1="295.98" y1="383.2" x2="295.98" y2="386.2" stroke="#000" stroke-width="1.1"/>
<text class="n" x="295.98" y="553.74" font-size="8.9" text-anchor="middle" fill="#111" stroke="#111">300</text>
<line x1="331.86" y1="542.2" x2="331.86" y2="539.2" stroke="#000" stroke-width="1.1"/>
<line x1="331.86" y1="383.2" x2="331.86" y2="386.2" stroke="#000" stroke-width="1.1"/>
<text class="n" x="331.86" y="553.74" font-size="8.9" text-anchor="middle" fill="#111" stroke="#111">400</text>
<line x1="367.74" y1="542.2" x2="367.74" y2="539.2" stroke="#000" stroke-width="1.1"/>
<line x1="367.74" y1="383.2" x2="367.74" y2="386.2" stroke="#000" stroke-width="1.1"/>
<text class="n" x="367.74" y="553.74" font-size="8.9" text-anchor="middle" fill="#111" stroke="#111">500</text>
<line x1="403.62" y1="542.2" x2="403.62" y2="539.2" stroke="#000" stroke-width="1.1"/>
<line x1="403.62" y1="383.2" x2="403.62" y2="386.2" stroke="#000" stroke-width="1.1"/>
<text class="n" x="403.62" y="553.74" font-size="8.9" text-anchor="middle" fill="#111" stroke="#111">600</text>
<text class="n" x="257.4" y="545.44" font-size="8.9" text-anchor="end" fill="#111" stroke="#111">0</text>
<line x1="260.1" y1="498.03" x2="263.1" y2="498.03" stroke="#000" stroke-width="1.1"/>
<line x1="432.3" y1="498.03" x2="429.3" y2="498.03" stroke="#000" stroke-width="1.1"/>
<text class="n" x="257.4" y="500.97" font-size="8.9" text-anchor="end" fill="#111" stroke="#111">100</text>
<line x1="260.1" y1="453.86" x2="263.1" y2="453.86" stroke="#000" stroke-width="1.1"/>
<line x1="432.3" y1="453.86" x2="429.3" y2="453.86" stroke="#000" stroke-width="1.1"/>
<text class="n" x="257.4" y="456.8" font-size="8.9" text-anchor="end" fill="#111" stroke="#111">200</text>
<line x1="260.1" y1="409.69" x2="263.1" y2="409.69" stroke="#000" stroke-width="1.1"/>
<line x1="432.3" y1="409.69" x2="429.3" y2="409.69" stroke="#000" stroke-width="1.1"/>
<text class="n" x="257.4" y="412.63" font-size="8.9" text-anchor="end" fill="#111" stroke="#111">300</text>
<text class="s" x="342.6" y="566.2" font-size="11" text-anchor="middle" stroke="#000">Raman shift (cm<tspan font-size="6.5" dy="-4.4">-1</tspan><tspan dy="4.4">)</tspan></text>
<text class="s" x="239.4" y="462.2" font-size="10.8" text-anchor="middle" stroke="#000" transform="rotate(-90 239.4 462.2)">Rotation angle (°)</text>
<text class="s" x="236.4" y="392.12" font-size="15.5" text-anchor="middle" stroke="#000">(e)</text>
<defs><linearGradient id="cbar" x1="0" y1="1" x2="0" y2="0"><stop offset="0" stop-color="#0000ff"/><stop offset="0.06" stop-color="#0326fb"/><stop offset="0.12" stop-color="#094df6"/><stop offset="0.19" stop-color="#1478f1"/><stop offset="0.25" stop-color="#0ea5f2"/><stop offset="0.31" stop-color="#03d4f4"/><stop offset="0.38" stop-color="#09e3be"/><stop offset="0.44" stop-color="#16e570"/><stop offset="0.5" stop-color="#2fe832"/><stop offset="0.56" stop-color="#63ed13"/><stop offset="0.62" stop-color="#9ef000"/><stop offset="0.69" stop-color="#e5f000"/><stop offset="0.75" stop-color="#ffd000"/><stop offset="0.81" stop-color="#ff9e00"/><stop offset="0.88" stop-color="#ff6b00"/><stop offset="0.94" stop-color="#ff3600"/><stop offset="1" stop-color="#ff0000"/></linearGradient></defs>
<rect x="434.9" y="381.8" width="9.8" height="138.4" fill="url(#cbar)"/>
<text class="s" x="440" y="391.4" font-size="7.5" text-anchor="middle" fill="#a01010" stroke="#a01010">1</text>
<text class="s" x="440" y="516.6" font-size="7.5" text-anchor="middle" fill="#10108a" stroke="#10108a">0</text>
</g>
<g>
<line x1="522.3" y1="93.9" x2="667.1" y2="93.9" stroke="#f0f0f0" stroke-width="0.7"/>
<line x1="543.51" y1="42.71" x2="645.89" y2="145.09" stroke="#f0f0f0" stroke-width="0.7"/>
<line x1="594.7" y1="21.5" x2="594.7" y2="166.3" stroke="#f0f0f0" stroke-width="0.7"/>
<line x1="645.89" y1="42.71" x2="543.51" y2="145.09" stroke="#f0f0f0" stroke-width="0.7"/>
<circle cx="594.7" cy="93.9" r="36.2" fill="none" stroke="#f1f1f1" stroke-width="0.7"/>
<circle cx="594.7" cy="93.9" r="72.4" fill="none" stroke="#0a0a0a" stroke-width="1.7"/>
<line x1="667.1" y1="93.9" x2="663.5" y2="93.9" stroke="#000" stroke-width="1.3"/>
<line x1="645.89" y1="42.71" x2="643.35" y2="45.25" stroke="#000" stroke-width="1.3"/>
<line x1="594.7" y1="21.5" x2="594.7" y2="25.1" stroke="#000" stroke-width="1.3"/>
<line x1="543.51" y1="42.71" x2="546.05" y2="45.25" stroke="#000" stroke-width="1.3"/>
<line x1="522.3" y1="93.9" x2="525.9" y2="93.9" stroke="#000" stroke-width="1.3"/>
<line x1="543.51" y1="145.09" x2="546.05" y2="142.55" stroke="#000" stroke-width="1.3"/>
<line x1="594.7" y1="166.3" x2="594.7" y2="162.7" stroke="#000" stroke-width="1.3"/>
<line x1="645.89" y1="145.09" x2="643.35" y2="142.55" stroke="#000" stroke-width="1.3"/>
<text class="n" x="594.5" y="11.74" font-size="8.9" text-anchor="middle" fill="#222" stroke="#222">90</text>
<text class="n" x="651.2" y="36.94" font-size="8.9" text-anchor="middle" fill="#222" stroke="#222">45</text>
<text class="n" x="674.2" y="96.54" font-size="8.9" text-anchor="middle" fill="#222" stroke="#222">0</text>
<text class="n" x="653.6" y="155.34" font-size="8.9" text-anchor="middle" fill="#222" stroke="#222">315</text>
<text class="n" x="594.5" y="179.24" font-size="8.9" text-anchor="middle" fill="#222" stroke="#222">270</text>
<text class="n" x="534.2" y="155.34" font-size="8.9" text-anchor="middle" fill="#222" stroke="#222">225</text>
<text class="n" x="509.6" y="96.54" font-size="8.9" text-anchor="middle" fill="#222" stroke="#222">180</text>
<text class="n" x="534.2" y="36.94" font-size="8.9" text-anchor="middle" fill="#222" stroke="#222">135</text>
<line x1="497.2" y1="20.2" x2="497.2" y2="167.4" stroke="#000" stroke-width="1.5"/>
<line x1="497.2" y1="20.6" x2="500.6" y2="20.6" stroke="#000" stroke-width="1.2"/>
<text class="n" x="493.2" y="23.54" font-size="8.9" text-anchor="end" fill="#222" stroke="#222">400</text>
<line x1="497.2" y1="57" x2="500.6" y2="57" stroke="#000" stroke-width="1.2"/>
<text class="n" x="493.2" y="59.94" font-size="8.9" text-anchor="end" fill="#222" stroke="#222">200</text>
<line x1="497.2" y1="93.7" x2="500.6" y2="93.7" stroke="#000" stroke-width="1.2"/>
<text class="n" x="493.2" y="96.64" font-size="8.9" text-anchor="end" fill="#222" stroke="#222">0</text>
<line x1="497.2" y1="130.3" x2="500.6" y2="130.3" stroke="#000" stroke-width="1.2"/>
<text class="n" x="493.2" y="133.24" font-size="8.9" text-anchor="end" fill="#222" stroke="#222">200</text>
<line x1="497.2" y1="166.9" x2="500.6" y2="166.9" stroke="#000" stroke-width="1.2"/>
<text class="n" x="493.2" y="169.84" font-size="8.9" text-anchor="end" fill="#222" stroke="#222">400</text>
<text class="s" x="471.4" y="88.5" font-size="10.8" text-anchor="middle" stroke="#000" transform="rotate(-90 471.4 88.5)">Raman intensity (a.u.)</text>
<circle cx="594.54" cy="30.57" r="2.85" fill="none" stroke="#e26a6a" stroke-width="0.9"/>
<circle cx="579.69" cy="37.43" r="2.85" fill="none" stroke="#e26a6a" stroke-width="0.9"/>
<circle cx="609.4" cy="37.43" r="2.85" fill="none" stroke="#e26a6a" stroke-width="0.9"/>
<circle cx="567.11" cy="47.03" r="2.85" fill="none" stroke="#e26a6a" stroke-width="0.9"/>
<circle cx="617.86" cy="53.43" r="2.85" fill="none" stroke="#e26a6a" stroke-width="0.9"/>
<circle cx="564.14" cy="64.17" r="2.85" fill="none" stroke="#e26a6a" stroke-width="0.9"/>
<circle cx="625.17" cy="63.26" r="2.85" fill="none" stroke="#e26a6a" stroke-width="0.9"/>
<circle cx="568.71" cy="78.11" r="2.85" fill="none" stroke="#e26a6a" stroke-width="0.9"/>
<circle cx="621.51" cy="77.89" r="2.85" fill="none" stroke="#e26a6a" stroke-width="0.9"/>
<circle cx="571.46" cy="87.71" r="2.85" fill="none" stroke="#e26a6a" stroke-width="0.9"/>
<circle cx="619.91" cy="87.26" r="2.85" fill="none" stroke="#e26a6a" stroke-width="0.9"/>
<circle cx="571" cy="93.89" r="2.85" fill="none" stroke="#e26a6a" stroke-width="0.9"/>
<circle cx="618.31" cy="93.89" r="2.85" fill="none" stroke="#e26a6a" stroke-width="0.9"/>
<circle cx="571.46" cy="99.6" r="2.85" fill="none" stroke="#e26a6a" stroke-width="0.9"/>
<circle cx="631.11" cy="103.71" r="2.85" fill="none" stroke="#e26a6a" stroke-width="0.9"/>
<circle cx="565.74" cy="110.57" r="2.85" fill="none" stroke="#e26a6a" stroke-width="0.9"/>
<circle cx="633.86" cy="116.29" r="2.85" fill="none" stroke="#e26a6a" stroke-width="0.9"/>
<circle cx="563.69" cy="124.29" r="2.85" fill="none" stroke="#e26a6a" stroke-width="0.9"/>
<circle cx="633.4" cy="133.43" r="2.85" fill="none" stroke="#e26a6a" stroke-width="0.9"/>
<circle cx="568.71" cy="138" r="2.85" fill="none" stroke="#e26a6a" stroke-width="0.9"/>
<circle cx="621.97" cy="142.11" r="2.85" fill="none" stroke="#e26a6a" stroke-width="0.9"/>
<circle cx="609.4" cy="150.11" r="2.85" fill="none" stroke="#e26a6a" stroke-width="0.9"/>
<circle cx="577.86" cy="154.46" r="2.85" fill="none" stroke="#e26a6a" stroke-width="0.9"/>
<circle cx="594.31" cy="157.89" r="2.85" fill="none" stroke="#e26a6a" stroke-width="0.9"/>
<path d="M620.9,93.9 621.0,92.5 621.1,91.1 621.4,89.7 621.8,88.1 622.2,86.5 622.7,84.8 623.3,82.9 623.9,80.9 624.4,78.8 624.9,76.4 625.4,74.0 625.7,71.4 625.9,68.6 626.0,65.7 625.8,62.8 625.5,59.7 624.9,56.7 624.0,53.6 622.9,50.5 621.5,47.6 619.8,44.7 617.8,42.0 615.6,39.5 613.1,37.2 610.4,35.3 607.5,33.6 604.5,32.3 601.3,31.3 598.0,30.7 594.7,30.5 591.4,30.7 588.1,31.3 584.9,32.3 581.9,33.6 579.0,35.3 576.3,37.2 573.8,39.5 571.6,42.0 569.6,44.7 567.9,47.6 566.5,50.5 565.4,53.6 564.5,56.7 563.9,59.7 563.6,62.8 563.4,65.7 563.5,68.6 563.7,71.4 564.0,74.0 564.5,76.4 565.0,78.8 565.5,80.9 566.1,82.9 566.7,84.8 567.2,86.5 567.6,88.1 568.0,89.7 568.3,91.1 568.4,92.5 568.5,93.9 568.4,95.3 568.3,96.7 568.0,98.1 567.6,99.7 567.2,101.3 566.7,103.0 566.1,104.9 565.5,106.9 565.0,109.0 564.5,111.4 564.0,113.8 563.7,116.4 563.5,119.2 563.4,122.1 563.6,125.0 563.9,128.1 564.5,131.1 565.4,134.2 566.5,137.3 567.9,140.2 569.6,143.1 571.6,145.8 573.8,148.3 576.3,150.6 579.0,152.5 581.9,154.2 584.9,155.5 588.1,156.5 591.4,157.1 594.7,157.3 598.0,157.1 601.3,156.5 604.5,155.5 607.5,154.2 610.4,152.5 613.1,150.6 615.6,148.3 617.8,145.8 619.8,143.1 621.5,140.2 622.9,137.3 624.0,134.2 624.9,131.1 625.5,128.1 625.8,125.0 626.0,122.1 625.9,119.2 625.7,116.4 625.4,113.8 624.9,111.4 624.4,109.0 623.9,106.9 623.3,104.9 622.7,103.0 622.2,101.3 621.8,99.7 621.4,98.1 621.1,96.7 621.0,95.3 620.9,93.9Z" fill="none" stroke="#22dc22" stroke-width="1.75" stroke-linejoin="round"/>
<text class="s" x="590.4" y="55.6" font-size="11.8" text-anchor="middle" fill="#2a2ad8" stroke="#2a2ad8" transform="rotate(90 590.4 55.6)"><tspan font-style="italic">a</tspan>-axis</text>
<circle cx="643.4" cy="7.4" r="2.85" fill="none" stroke="#e26a6a" stroke-width="0.9"/>
<text class="s" x="656.6" y="11.2" font-size="8.2" font-style="italic" font-weight="normal" fill="#e03030" stroke="#e03030">A</text>
<text class="s" x="662.25" y="7.35" font-size="4.92" font-weight="normal" fill="#e03030" stroke="#e03030">1</text>
<text class="s" x="662.05" y="13.41" font-size="4.92" font-style="italic" font-weight="normal" fill="#e03030" stroke="#e03030">g</text>
<line x1="632" y1="21.7" x2="654.3" y2="21.7" stroke="#22dc22" stroke-width="1.9"/>
<text class="s" x="657" y="24.54" font-size="8.9" font-weight="bold" fill="#2fd02f" stroke="#2fd02f">fitting line</text>
<text class="s" x="465.4" y="14.02" font-size="15.5" text-anchor="middle" stroke="#000">(f)</text>
</g>
<g>
<line x1="522.3" y1="284.2" x2="666.9" y2="284.2" stroke="#f0f0f0" stroke-width="0.7"/>
<line x1="543.48" y1="233.08" x2="645.72" y2="335.32" stroke="#f0f0f0" stroke-width="0.7"/>
<line x1="594.6" y1="211.9" x2="594.6" y2="356.5" stroke="#f0f0f0" stroke-width="0.7"/>
<line x1="645.72" y1="233.08" x2="543.48" y2="335.32" stroke="#f0f0f0" stroke-width="0.7"/>
<circle cx="594.6" cy="284.2" r="36.15" fill="none" stroke="#f1f1f1" stroke-width="0.7"/>
<circle cx="594.6" cy="284.2" r="72.3" fill="none" stroke="#0a0a0a" stroke-width="1.7"/>
<line x1="666.9" y1="284.2" x2="663.3" y2="284.2" stroke="#000" stroke-width="1.3"/>
<line x1="645.72" y1="233.08" x2="643.18" y2="235.62" stroke="#000" stroke-width="1.3"/>
<line x1="594.6" y1="211.9" x2="594.6" y2="215.5" stroke="#000" stroke-width="1.3"/>
<line x1="543.48" y1="233.08" x2="546.02" y2="235.62" stroke="#000" stroke-width="1.3"/>
<line x1="522.3" y1="284.2" x2="525.9" y2="284.2" stroke="#000" stroke-width="1.3"/>
<line x1="543.48" y1="335.32" x2="546.02" y2="332.78" stroke="#000" stroke-width="1.3"/>
<line x1="594.6" y1="356.5" x2="594.6" y2="352.9" stroke="#000" stroke-width="1.3"/>
<line x1="645.72" y1="335.32" x2="643.18" y2="332.78" stroke="#000" stroke-width="1.3"/>
<text class="n" x="594.5" y="201.74" font-size="8.9" text-anchor="middle" fill="#222" stroke="#222">90</text>
<text class="n" x="651.2" y="226.94" font-size="8.9" text-anchor="middle" fill="#222" stroke="#222">45</text>
<text class="n" x="674.2" y="286.84" font-size="8.9" text-anchor="middle" fill="#222" stroke="#222">0</text>
<text class="n" x="653.6" y="345.34" font-size="8.9" text-anchor="middle" fill="#222" stroke="#222">315</text>
<text class="n" x="594.5" y="369.14" font-size="8.9" text-anchor="middle" fill="#222" stroke="#222">270</text>
<text class="n" x="534.2" y="345.34" font-size="8.9" text-anchor="middle" fill="#222" stroke="#222">225</text>
<text class="n" x="509.6" y="286.84" font-size="8.9" text-anchor="middle" fill="#222" stroke="#222">180</text>
<text class="n" x="534.2" y="226.94" font-size="8.9" text-anchor="middle" fill="#222" stroke="#222">135</text>
<line x1="497.2" y1="210.4" x2="497.2" y2="357.4" stroke="#000" stroke-width="1.5"/>
<line x1="497.2" y1="227.6" x2="500.6" y2="227.6" stroke="#000" stroke-width="1.2"/>
<text class="n" x="493.2" y="230.54" font-size="8.9" text-anchor="end" fill="#222" stroke="#222">200</text>
<line x1="497.2" y1="255.9" x2="500.6" y2="255.9" stroke="#000" stroke-width="1.2"/>
<text class="n" x="493.2" y="258.84" font-size="8.9" text-anchor="end" fill="#222" stroke="#222">100</text>
<line x1="497.2" y1="284" x2="500.6" y2="284" stroke="#000" stroke-width="1.2"/>
<text class="n" x="493.2" y="286.94" font-size="8.9" text-anchor="end" fill="#222" stroke="#222">0</text>
<line x1="497.2" y1="312" x2="500.6" y2="312" stroke="#000" stroke-width="1.2"/>
<text class="n" x="493.2" y="314.94" font-size="8.9" text-anchor="end" fill="#222" stroke="#222">100</text>
<line x1="497.2" y1="340.4" x2="500.6" y2="340.4" stroke="#000" stroke-width="1.2"/>
<text class="n" x="493.2" y="343.34" font-size="8.9" text-anchor="end" fill="#222" stroke="#222">200</text>
<text class="s" x="471.4" y="278.8" font-size="10.8" text-anchor="middle" stroke="#000" transform="rotate(-90 471.4 278.8)">Raman intensity (a.u.)</text>
<path d="M531.46 279.52 L534.86 285.98 L528.06 285.98Z" fill="none" stroke="#6a6ad6" stroke-width="0.9"/>
<path d="M543.57 265.8 L546.97 272.26 L540.17 272.26Z" fill="none" stroke="#6a6ad6" stroke-width="0.9"/>
<path d="M553.86 256.2 L557.26 262.66 L550.46 262.66Z" fill="none" stroke="#6a6ad6" stroke-width="0.9"/>
<path d="M569.4 254.83 L572.8 261.29 L566 261.29Z" fill="none" stroke="#6a6ad6" stroke-width="0.9"/>
<path d="M581.29 256.66 L584.69 263.12 L577.89 263.12Z" fill="none" stroke="#6a6ad6" stroke-width="0.9"/>
<path d="M589.74 262.38 L593.14 268.84 L586.34 268.84Z" fill="none" stroke="#6a6ad6" stroke-width="0.9"/>
<path d="M594.54 260.09 L597.94 266.55 L591.14 266.55Z" fill="none" stroke="#6a6ad6" stroke-width="0.9"/>
<path d="M600.03 258.49 L603.43 264.95 L596.63 264.95Z" fill="none" stroke="#6a6ad6" stroke-width="0.9"/>
<path d="M606.43 257.8 L609.83 264.26 L603.03 264.26Z" fill="none" stroke="#6a6ad6" stroke-width="0.9"/>
<path d="M624.03 249.8 L627.43 256.26 L620.63 256.26Z" fill="none" stroke="#6a6ad6" stroke-width="0.9"/>
<path d="M639.57 253.23 L642.97 259.69 L636.17 259.69Z" fill="none" stroke="#6a6ad6" stroke-width="0.9"/>
<path d="M650.31 264.2 L653.71 270.66 L646.91 270.66Z" fill="none" stroke="#6a6ad6" stroke-width="0.9"/>
<path d="M649.86 279.52 L653.26 285.98 L646.46 285.98Z" fill="none" stroke="#6a6ad6" stroke-width="0.9"/>
<path d="M653.74 280.2 L657.14 286.66 L650.34 286.66Z" fill="none" stroke="#6a6ad6" stroke-width="0.9"/>
<path d="M647.57 293.92 L650.97 300.38 L644.17 300.38Z" fill="none" stroke="#6a6ad6" stroke-width="0.9"/>
<path d="M626.31 298.26 L629.71 304.72 L622.91 304.72Z" fill="none" stroke="#6a6ad6" stroke-width="0.9"/>
<path d="M614.89 300.55 L618.29 307.01 L611.49 307.01Z" fill="none" stroke="#6a6ad6" stroke-width="0.9"/>
<path d="M608.71 305.12 L612.11 311.58 L605.31 311.58Z" fill="none" stroke="#6a6ad6" stroke-width="0.9"/>
<path d="M599.57 297.12 L602.97 303.58 L596.17 303.58Z" fill="none" stroke="#6a6ad6" stroke-width="0.9"/>
<path d="M594.31 298.95 L597.71 305.41 L590.91 305.41Z" fill="none" stroke="#6a6ad6" stroke-width="0.9"/>
<path d="M588.6 301.69 L592 308.15 L585.2 308.15Z" fill="none" stroke="#6a6ad6" stroke-width="0.9"/>
<path d="M580.6 303.06 L584 309.52 L577.2 309.52Z" fill="none" stroke="#6a6ad6" stroke-width="0.9"/>
<path d="M567.11 306.95 L570.51 313.41 L563.71 313.41Z" fill="none" stroke="#6a6ad6" stroke-width="0.9"/>
<path d="M551.57 304.2 L554.97 310.66 L548.17 310.66Z" fill="none" stroke="#6a6ad6" stroke-width="0.9"/>
<path d="M536.71 295.06 L540.11 301.52 L533.31 301.52Z" fill="none" stroke="#6a6ad6" stroke-width="0.9"/>
<path d="M654.1,284.2 653.9,281.1 653.2,278.0 652.0,275.1 650.5,272.3 648.6,269.7 646.3,267.4 643.8,265.3 641.0,263.5 638.0,262.1 635.0,260.9 631.8,260.0 628.7,259.4 625.6,259.1 622.5,259.1 619.6,259.2 616.8,259.5 614.2,259.9 611.8,260.5 609.6,261.1 607.5,261.8 605.7,262.5 604.0,263.2 602.4,263.8 601.0,264.4 599.8,264.9 598.6,265.4 597.5,265.7 596.5,266.0 595.5,266.1 594.6,266.2 593.7,266.1 592.7,266.0 591.7,265.7 590.6,265.4 589.4,264.9 588.2,264.4 586.8,263.8 585.2,263.2 583.5,262.5 581.7,261.8 579.6,261.1 577.4,260.5 575.0,259.9 572.4,259.5 569.6,259.2 566.7,259.1 563.6,259.1 560.5,259.4 557.4,260.0 554.2,260.9 551.2,262.1 548.2,263.5 545.4,265.3 542.9,267.4 540.6,269.7 538.7,272.3 537.2,275.1 536.0,278.0 535.3,281.1 535.1,284.2 535.3,287.3 536.0,290.4 537.2,293.3 538.7,296.1 540.6,298.7 542.9,301.0 545.4,303.1 548.2,304.9 551.2,306.3 554.2,307.5 557.4,308.4 560.5,309.0 563.6,309.3 566.7,309.3 569.6,309.2 572.4,308.9 575.0,308.5 577.4,307.9 579.6,307.3 581.7,306.6 583.5,305.9 585.2,305.2 586.8,304.6 588.2,304.0 589.4,303.5 590.6,303.0 591.7,302.7 592.7,302.4 593.7,302.3 594.6,302.2 595.5,302.3 596.5,302.4 597.5,302.7 598.6,303.0 599.8,303.5 601.0,304.0 602.4,304.6 604.0,305.2 605.7,305.9 607.5,306.6 609.6,307.3 611.8,307.9 614.2,308.5 616.8,308.9 619.6,309.2 622.5,309.3 625.6,309.3 628.7,309.0 631.8,308.4 635.0,307.5 638.0,306.3 641.0,304.9 643.8,303.1 646.3,301.0 648.6,298.7 650.5,296.1 652.0,293.3 653.2,290.4 653.9,287.3 654.1,284.2Z" fill="none" stroke="#22dc22" stroke-width="1.75" stroke-linejoin="round"/>
<text class="s" x="627.2" y="288.4" font-size="11.5" text-anchor="middle" fill="#e03030" stroke="#e03030"><tspan font-style="italic">c</tspan>-axis</text>
<path d="M643.4 193.89 L646.8 200.35 L640 200.35Z" fill="none" stroke="#6a6ad6" stroke-width="0.9"/>
<text class="s" x="656.6" y="201.6" font-size="8.2" font-style="italic" font-weight="normal" fill="#3a3ad0" stroke="#3a3ad0">A</text>
<text class="s" x="662.25" y="197.75" font-size="4.92" font-weight="normal" fill="#3a3ad0" stroke="#3a3ad0">2</text>
<text class="s" x="662.05" y="203.81" font-size="4.92" font-style="italic" font-weight="normal" fill="#3a3ad0" stroke="#3a3ad0">g</text>
<line x1="632" y1="212.8" x2="654.3" y2="212.8" stroke="#22dc22" stroke-width="1.9"/>
<text class="s" x="657" y="215.64" font-size="8.9" font-weight="bold" fill="#2fd02f" stroke="#2fd02f">fitting line</text>
<text class="s" x="467.4" y="202.52" font-size="15.5" text-anchor="middle" stroke="#000">(g)</text>
</g>
<g>
<line x1="522.6" y1="471.2" x2="666.6" y2="471.2" stroke="#f0f0f0" stroke-width="0.7"/>
<line x1="543.69" y1="420.29" x2="645.51" y2="522.11" stroke="#f0f0f0" stroke-width="0.7"/>
<line x1="594.6" y1="399.2" x2="594.6" y2="543.2" stroke="#f0f0f0" stroke-width="0.7"/>
<line x1="645.51" y1="420.29" x2="543.69" y2="522.11" stroke="#f0f0f0" stroke-width="0.7"/>
<circle cx="594.6" cy="471.2" r="36" fill="none" stroke="#f1f1f1" stroke-width="0.7"/>
<circle cx="594.6" cy="471.2" r="72" fill="none" stroke="#0a0a0a" stroke-width="1.7"/>
<line x1="666.6" y1="471.2" x2="663" y2="471.2" stroke="#000" stroke-width="1.3"/>
<line x1="645.51" y1="420.29" x2="642.97" y2="422.83" stroke="#000" stroke-width="1.3"/>
<line x1="594.6" y1="399.2" x2="594.6" y2="402.8" stroke="#000" stroke-width="1.3"/>
<line x1="543.69" y1="420.29" x2="546.23" y2="422.83" stroke="#000" stroke-width="1.3"/>
<line x1="522.6" y1="471.2" x2="526.2" y2="471.2" stroke="#000" stroke-width="1.3"/>
<line x1="543.69" y1="522.11" x2="546.23" y2="519.57" stroke="#000" stroke-width="1.3"/>
<line x1="594.6" y1="543.2" x2="594.6" y2="539.6" stroke="#000" stroke-width="1.3"/>
<line x1="645.51" y1="522.11" x2="642.97" y2="519.57" stroke="#000" stroke-width="1.3"/>
<text class="n" x="594.5" y="389.54" font-size="8.9" text-anchor="middle" fill="#222" stroke="#222">90</text>
<text class="n" x="651.6" y="415.34" font-size="8.9" text-anchor="middle" fill="#222" stroke="#222">45</text>
<text class="n" x="674.2" y="474.24" font-size="8.9" text-anchor="middle" fill="#222" stroke="#222">0</text>
<text class="n" x="653.8" y="533.34" font-size="8.9" text-anchor="middle" fill="#222" stroke="#222">315</text>
<text class="n" x="594.5" y="556.74" font-size="8.9" text-anchor="middle" fill="#222" stroke="#222">270</text>
<text class="n" x="533.2" y="533.34" font-size="8.9" text-anchor="middle" fill="#222" stroke="#222">225</text>
<text class="n" x="509.6" y="474.24" font-size="8.9" text-anchor="middle" fill="#222" stroke="#222">180</text>
<text class="n" x="533.2" y="415.34" font-size="8.9" text-anchor="middle" fill="#222" stroke="#222">135</text>
<line x1="496.8" y1="399.6" x2="496.8" y2="545" stroke="#000" stroke-width="1.5"/>
<line x1="496.8" y1="406.6" x2="500.2" y2="406.6" stroke="#000" stroke-width="1.2"/>
<text class="n" x="492.8" y="409.54" font-size="8.9" text-anchor="end" fill="#222" stroke="#222">200</text>
<line x1="496.8" y1="439.4" x2="500.2" y2="439.4" stroke="#000" stroke-width="1.2"/>
<text class="n" x="492.8" y="442.34" font-size="8.9" text-anchor="end" fill="#222" stroke="#222">100</text>
<line x1="496.8" y1="471.3" x2="500.2" y2="471.3" stroke="#000" stroke-width="1.2"/>
<text class="n" x="492.8" y="474.24" font-size="8.9" text-anchor="end" fill="#222" stroke="#222">0</text>
<line x1="496.8" y1="503.7" x2="500.2" y2="503.7" stroke="#000" stroke-width="1.2"/>
<text class="n" x="492.8" y="506.64" font-size="8.9" text-anchor="end" fill="#222" stroke="#222">100</text>
<line x1="496.8" y1="536.5" x2="500.2" y2="536.5" stroke="#000" stroke-width="1.2"/>
<text class="n" x="492.8" y="539.44" font-size="8.9" text-anchor="end" fill="#222" stroke="#222">200</text>
<text class="s" x="474.8" y="465.8" font-size="10.8" text-anchor="middle" stroke="#000" transform="rotate(-90 474.8 465.8)">Raman intensity (a.u.)</text>
<path d="M528.71 467.54 L529.63 469.89 L532.14 470.03 L530.19 471.62 L530.83 474.06 L528.71 472.69 L526.6 474.06 L527.24 471.62 L525.29 470.03 L527.8 469.89Z" fill="none" stroke="#e23ae2" stroke-width="0.9"/>
<path d="M542.89 454.29 L543.8 456.63 L546.31 456.77 L544.36 458.36 L545 460.8 L542.89 459.44 L540.77 460.8 L541.41 458.36 L539.46 456.77 L541.97 456.63Z" fill="none" stroke="#e23ae2" stroke-width="0.9"/>
<path d="M561.86 449.26 L562.77 451.6 L565.28 451.74 L563.33 453.34 L563.97 455.77 L561.86 454.41 L559.74 455.77 L560.38 453.34 L558.43 451.74 L560.95 451.6Z" fill="none" stroke="#e23ae2" stroke-width="0.9"/>
<path d="M580.83 453.83 L581.74 456.17 L584.25 456.32 L582.3 457.91 L582.94 460.34 L580.83 458.98 L578.71 460.34 L579.35 457.91 L577.4 456.32 L579.92 456.17Z" fill="none" stroke="#e23ae2" stroke-width="0.9"/>
<path d="M590.43 461.83 L591.34 464.17 L593.85 464.32 L591.9 465.91 L592.54 468.34 L590.43 466.98 L588.31 468.34 L588.95 465.91 L587 464.32 L589.52 464.17Z" fill="none" stroke="#e23ae2" stroke-width="0.9"/>
<path d="M594.31 461.37 L595.23 463.72 L597.74 463.86 L595.79 465.45 L596.43 467.88 L594.31 466.52 L592.2 467.88 L592.84 465.45 L590.89 463.86 L593.4 463.72Z" fill="none" stroke="#e23ae2" stroke-width="0.9"/>
<path d="M594.31 466.86 L595.23 469.2 L597.74 469.34 L595.79 470.94 L596.43 473.37 L594.31 472.01 L592.2 473.37 L592.84 470.94 L590.89 469.34 L593.4 469.2Z" fill="none" stroke="#e23ae2" stroke-width="0.9"/>
<path d="M601.86 454.29 L602.77 456.63 L605.28 456.77 L603.33 458.36 L603.97 460.8 L601.86 459.44 L599.74 460.8 L600.38 458.36 L598.43 456.77 L600.95 456.63Z" fill="none" stroke="#e23ae2" stroke-width="0.9"/>
<path d="M614.89 447.43 L615.8 449.77 L618.31 449.92 L616.36 451.51 L617 453.94 L614.89 452.58 L612.77 453.94 L613.41 451.51 L611.46 449.92 L613.97 449.77Z" fill="none" stroke="#e23ae2" stroke-width="0.9"/>
<path d="M634.31 445.14 L635.23 447.49 L637.74 447.63 L635.79 449.22 L636.43 451.66 L634.31 450.29 L632.2 451.66 L632.84 449.22 L630.89 447.63 L633.4 447.49Z" fill="none" stroke="#e23ae2" stroke-width="0.9"/>
<path d="M649.86 453.14 L650.77 455.49 L653.28 455.63 L651.33 457.22 L651.97 459.66 L649.86 458.29 L647.74 459.66 L648.38 457.22 L646.43 455.63 L648.95 455.49Z" fill="none" stroke="#e23ae2" stroke-width="0.9"/>
<path d="M648.03 468 L648.94 470.35 L651.45 470.49 L649.5 472.08 L650.14 474.51 L648.03 473.15 L645.91 474.51 L646.55 472.08 L644.6 470.49 L647.12 470.35Z" fill="none" stroke="#e23ae2" stroke-width="0.9"/>
<path d="M656.71 468 L657.63 470.35 L660.14 470.49 L658.19 472.08 L658.83 474.51 L656.71 473.15 L654.6 474.51 L655.24 472.08 L653.29 470.49 L655.8 470.35Z" fill="none" stroke="#e23ae2" stroke-width="0.9"/>
<path d="M636.14 478.97 L637.05 481.32 L639.57 481.46 L637.62 483.05 L638.26 485.48 L636.14 484.12 L634.03 485.48 L634.67 483.05 L632.72 481.46 L635.23 481.32Z" fill="none" stroke="#e23ae2" stroke-width="0.9"/>
<path d="M612.14 478.51 L613.05 480.86 L615.57 481 L613.62 482.59 L614.26 485.03 L612.14 483.66 L610.03 485.03 L610.67 482.59 L608.72 481 L611.23 480.86Z" fill="none" stroke="#e23ae2" stroke-width="0.9"/>
<path d="M600.03 473.26 L600.94 475.6 L603.45 475.74 L601.5 477.34 L602.14 479.77 L600.03 478.41 L597.91 479.77 L598.55 477.34 L596.6 475.74 L599.12 475.6Z" fill="none" stroke="#e23ae2" stroke-width="0.9"/>
<path d="M593.86 476.69 L594.77 479.03 L597.28 479.17 L595.33 480.76 L595.97 483.2 L593.86 481.84 L591.74 483.2 L592.38 480.76 L590.43 479.17 L592.95 479.03Z" fill="none" stroke="#e23ae2" stroke-width="0.9"/>
<path d="M591.57 480.11 L592.48 482.46 L595 482.6 L593.05 484.19 L593.69 486.63 L591.57 485.26 L589.46 486.63 L590.1 484.19 L588.15 482.6 L590.66 482.46Z" fill="none" stroke="#e23ae2" stroke-width="0.9"/>
<path d="M585.17 484.23 L586.08 486.57 L588.6 486.72 L586.65 488.31 L587.29 490.74 L585.17 489.38 L583.06 490.74 L583.7 488.31 L581.75 486.72 L584.26 486.57Z" fill="none" stroke="#e23ae2" stroke-width="0.9"/>
<path d="M576.71 486.29 L577.63 488.63 L580.14 488.77 L578.19 490.36 L578.83 492.8 L576.71 491.44 L574.6 492.8 L575.24 490.36 L573.29 488.77 L575.8 488.63Z" fill="none" stroke="#e23ae2" stroke-width="0.9"/>
<path d="M556.83 490.4 L557.74 492.75 L560.25 492.89 L558.3 494.48 L558.94 496.91 L556.83 495.55 L554.71 496.91 L555.35 494.48 L553.4 492.89 L555.92 492.75Z" fill="none" stroke="#e23ae2" stroke-width="0.9"/>
<path d="M539 483.54 L539.91 485.89 L542.42 486.03 L540.47 487.62 L541.12 490.06 L539 488.69 L536.88 490.06 L537.53 487.62 L535.58 486.03 L538.09 485.89Z" fill="none" stroke="#e23ae2" stroke-width="0.9"/>
<path d="M654.2,471.2 653.8,468.1 652.7,465.1 650.9,462.3 648.4,459.8 645.4,457.6 642.0,455.8 638.1,454.5 634.1,453.6 629.9,453.2 625.7,453.2 621.6,453.6 617.7,454.4 614.1,455.4 610.8,456.6 607.9,457.9 605.3,459.3 603.1,460.7 601.3,462.0 599.8,463.1 598.7,464.2 597.7,465.0 597.0,465.7 596.5,466.2 596.1,466.6 595.8,466.9 595.5,467.0 595.2,467.1 595.0,467.2 594.8,467.2 594.6,467.2 594.4,467.2 594.2,467.2 594.0,467.1 593.7,467.0 593.4,466.9 593.1,466.6 592.7,466.2 592.2,465.7 591.5,465.0 590.5,464.2 589.4,463.1 587.9,462.0 586.1,460.7 583.9,459.3 581.3,457.9 578.4,456.6 575.1,455.4 571.5,454.4 567.6,453.6 563.5,453.2 559.3,453.2 555.1,453.6 551.1,454.5 547.2,455.8 543.8,457.6 540.8,459.8 538.3,462.3 536.5,465.1 535.4,468.1 535.0,471.2 535.4,474.3 536.5,477.3 538.3,480.1 540.8,482.6 543.8,484.8 547.2,486.6 551.1,487.9 555.1,488.8 559.3,489.2 563.5,489.2 567.6,488.8 571.5,488.0 575.1,487.0 578.4,485.8 581.3,484.5 583.9,483.1 586.1,481.7 587.9,480.4 589.4,479.3 590.5,478.2 591.5,477.4 592.2,476.7 592.7,476.2 593.1,475.8 593.4,475.5 593.7,475.4 594.0,475.3 594.2,475.2 594.4,475.2 594.6,475.2 594.8,475.2 595.0,475.2 595.2,475.3 595.5,475.4 595.8,475.5 596.1,475.8 596.5,476.2 597.0,476.7 597.7,477.4 598.7,478.2 599.8,479.3 601.3,480.4 603.1,481.7 605.3,483.1 607.9,484.5 610.8,485.8 614.1,487.0 617.7,488.0 621.6,488.8 625.7,489.2 629.9,489.2 634.1,488.8 638.1,487.9 642.0,486.6 645.4,484.8 648.4,482.6 650.9,480.1 652.7,477.3 653.8,474.3 654.2,471.2Z" fill="none" stroke="#22dc22" stroke-width="1.75" stroke-linejoin="round"/>
<text class="s" x="626" y="475.4" font-size="11.5" text-anchor="middle" fill="#e03030" stroke="#e03030"><tspan font-style="italic">c</tspan>-axis</text>
<path d="M643.4 382.6 L644.31 384.95 L646.82 385.09 L644.87 386.68 L645.52 389.11 L643.4 387.75 L641.28 389.11 L641.93 386.68 L639.98 385.09 L642.49 384.95Z" fill="none" stroke="#e23ae2" stroke-width="0.9"/>
<text class="s" x="656.6" y="390" font-size="8.2" font-style="italic" font-weight="normal" fill="#e23ae2" stroke="#e23ae2">A</text>
<text class="s" x="662.25" y="386.15" font-size="4.92" font-weight="normal" fill="#e23ae2" stroke="#e23ae2">3</text>
<text class="s" x="662.05" y="392.21" font-size="4.92" font-style="italic" font-weight="normal" fill="#e23ae2" stroke="#e23ae2">g</text>
<line x1="632" y1="400.7" x2="654.3" y2="400.7" stroke="#22dc22" stroke-width="1.9"/>
<text class="s" x="657" y="403.54" font-size="8.9" font-weight="bold" fill="#2fd02f" stroke="#2fd02f">fitting line</text>
<text class="s" x="471.6" y="392.51" font-size="15.5" text-anchor="middle" stroke="#000">(h)</text>
</g>
</svg>
</body></html>
